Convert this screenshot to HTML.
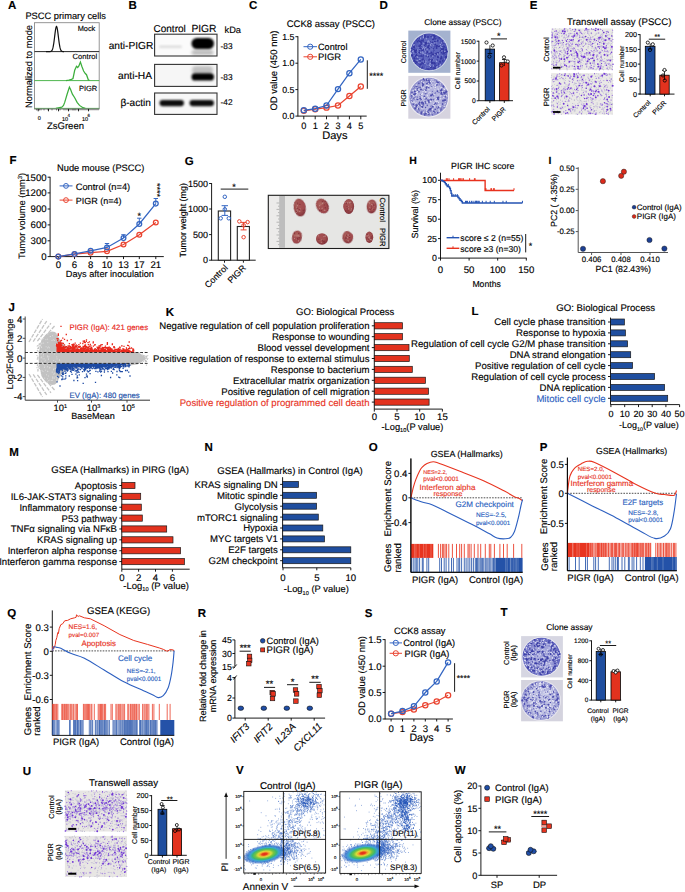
<!DOCTYPE html>
<html><head><meta charset="utf-8"><style>
html,body{margin:0;padding:0;background:#fff;}
svg{display:block;font-family:"Liberation Sans",sans-serif;}
text{stroke:#000;stroke-width:0.14px;text-rendering:geometricPrecision;}
</style></head><body>
<svg width="685" height="892" viewBox="0 0 685 892">
<rect width="685" height="892" fill="#fff"/>
<defs><filter id="bl5" x="-50%" y="-50%" width="200%" height="200%"><feGaussianBlur stdDeviation="0.5"/></filter><filter id="bl8" x="-50%" y="-50%" width="200%" height="200%"><feGaussianBlur stdDeviation="0.8"/></filter><filter id="bl10" x="-50%" y="-50%" width="200%" height="200%"><feGaussianBlur stdDeviation="1.0"/></filter><filter id="bl15" x="-50%" y="-50%" width="200%" height="200%"><feGaussianBlur stdDeviation="1.5"/></filter><filter id="bl20" x="-50%" y="-50%" width="200%" height="200%"><feGaussianBlur stdDeviation="2.0"/></filter><filter id="bl30" x="-50%" y="-50%" width="200%" height="200%"><feGaussianBlur stdDeviation="3.0"/></filter></defs>
<text x="8.00" y="9.30" font-size="11.50" font-weight="bold">A</text>
<text x="25.40" y="19.30" font-size="9.30">PSCC primary cells</text>
<rect x="34.50" y="22.70" width="64.70" height="86.20" fill="#fff" stroke="#8a8a8a" stroke-width="0.9"/>
<line x1="34.50" y1="51.60" x2="99.20" y2="51.60" stroke="#111" stroke-width="0.9"/>
<path d="M46.00,51.60 L46.30,51.60 L46.60,51.60 L46.90,51.60 L47.20,51.60 L47.50,51.60 L47.80,51.60 L48.10,51.60 L48.40,51.60 L48.70,51.60 L49.00,51.59 L49.30,51.59 L49.60,51.58 L49.90,51.56 L50.20,51.53 L50.50,51.48 L50.80,51.39 L51.10,51.26 L51.40,51.06 L51.70,50.77 L52.00,50.34 L52.30,49.75 L52.60,48.95 L52.90,47.91 L53.20,46.59 L53.50,44.97 L53.80,43.06 L54.10,40.89 L54.40,38.53 L54.70,36.06 L55.00,33.61 L55.30,31.32 L55.60,29.33 L55.90,27.80 L56.20,26.83 L56.50,26.50 L56.80,26.83 L57.10,27.80 L57.40,29.33 L57.70,31.32 L58.00,33.61 L58.30,36.06 L58.60,38.53 L58.90,40.89 L59.20,43.06 L59.50,44.97 L59.80,46.59 L60.10,47.91 L60.40,48.95 L60.70,49.75 L61.00,50.34 L61.30,50.77 L61.60,51.06 L61.90,51.26 L62.20,51.39 L62.50,51.48 L62.80,51.53 L63.10,51.56 L63.40,51.58 L63.70,51.59 L64.00,51.59" fill="none" stroke="#111" stroke-width="1.2"/>
<line x1="34.50" y1="80.60" x2="99.20" y2="80.60" stroke="#3cae3c" stroke-width="0.9"/>
<path d="M66.00,80.60 L68.90,80.00 L71.50,79.30 L73.00,78.50 L74.70,70.30 L76.50,66.30 L77.70,67.50 L78.90,65.90 L80.40,62.10 L81.80,66.30 L83.60,71.00 L85.30,73.50 L86.50,74.70 L88.30,79.80 L89.50,80.60" fill="none" stroke="#3cae3c" stroke-width="1.25"/>
<line x1="34.50" y1="108.40" x2="99.20" y2="108.40" stroke="#3cae3c" stroke-width="0.9"/>
<path d="M55.90,108.40 L61.80,107.20 L63.50,105.50 L64.70,102.40 L67.10,94.20 L69.40,87.10 L70.60,89.50 L72.40,94.20 L74.70,97.70 L77.10,102.40 L79.50,105.40 L83.00,107.70 L85.30,108.40" fill="none" stroke="#3cae3c" stroke-width="1.25"/>
<line x1="34.50" y1="108.90" x2="99.20" y2="108.90" stroke="#8a8a8a" stroke-width="0.9"/>
<text x="77.70" y="31.20" font-size="7.37">Mock</text>
<text x="72.60" y="58.90" font-size="7.60">Control</text>
<text x="78.90" y="91.20" font-size="7.53">PIGR</text>
<line x1="36.50" y1="108.90" x2="36.50" y2="110.40" stroke="#333" stroke-width="0.6"/>
<line x1="38.20" y1="108.90" x2="38.20" y2="110.40" stroke="#333" stroke-width="0.6"/>
<line x1="39.50" y1="108.90" x2="39.50" y2="110.40" stroke="#333" stroke-width="0.6"/>
<line x1="41.00" y1="108.90" x2="41.00" y2="110.40" stroke="#333" stroke-width="0.6"/>
<line x1="44.00" y1="108.90" x2="44.00" y2="110.40" stroke="#333" stroke-width="0.6"/>
<line x1="48.00" y1="108.90" x2="48.00" y2="110.40" stroke="#333" stroke-width="0.6"/>
<line x1="52.00" y1="108.90" x2="52.00" y2="110.40" stroke="#333" stroke-width="0.6"/>
<line x1="56.50" y1="108.90" x2="56.50" y2="110.40" stroke="#333" stroke-width="0.6"/>
<line x1="60.00" y1="108.90" x2="60.00" y2="110.40" stroke="#333" stroke-width="0.6"/>
<line x1="64.00" y1="108.90" x2="64.00" y2="110.40" stroke="#333" stroke-width="0.6"/>
<line x1="66.00" y1="108.90" x2="66.00" y2="110.40" stroke="#333" stroke-width="0.6"/>
<line x1="68.00" y1="108.90" x2="68.00" y2="110.40" stroke="#333" stroke-width="0.6"/>
<line x1="70.00" y1="108.90" x2="70.00" y2="110.40" stroke="#333" stroke-width="0.6"/>
<line x1="72.00" y1="108.90" x2="72.00" y2="110.40" stroke="#333" stroke-width="0.6"/>
<line x1="73.00" y1="108.90" x2="73.00" y2="110.40" stroke="#333" stroke-width="0.6"/>
<line x1="74.00" y1="108.90" x2="74.00" y2="110.40" stroke="#333" stroke-width="0.6"/>
<line x1="75.00" y1="108.90" x2="75.00" y2="110.40" stroke="#333" stroke-width="0.6"/>
<line x1="76.00" y1="108.90" x2="76.00" y2="110.40" stroke="#333" stroke-width="0.6"/>
<line x1="78.00" y1="108.90" x2="78.00" y2="110.40" stroke="#333" stroke-width="0.6"/>
<line x1="80.00" y1="108.90" x2="80.00" y2="110.40" stroke="#333" stroke-width="0.6"/>
<line x1="82.00" y1="108.90" x2="82.00" y2="110.40" stroke="#333" stroke-width="0.6"/>
<line x1="84.00" y1="108.90" x2="84.00" y2="110.40" stroke="#333" stroke-width="0.6"/>
<line x1="86.00" y1="108.90" x2="86.00" y2="110.40" stroke="#333" stroke-width="0.6"/>
<line x1="88.00" y1="108.90" x2="88.00" y2="110.40" stroke="#333" stroke-width="0.6"/>
<line x1="90.00" y1="108.90" x2="90.00" y2="110.40" stroke="#333" stroke-width="0.6"/>
<line x1="92.00" y1="108.90" x2="92.00" y2="110.40" stroke="#333" stroke-width="0.6"/>
<line x1="94.00" y1="108.90" x2="94.00" y2="110.40" stroke="#333" stroke-width="0.6"/>
<line x1="96.00" y1="108.90" x2="96.00" y2="110.40" stroke="#333" stroke-width="0.6"/>
<line x1="98.00" y1="108.90" x2="98.00" y2="110.40" stroke="#333" stroke-width="0.6"/>
<line x1="38.20" y1="108.90" x2="38.20" y2="111.30" stroke="#111" stroke-width="0.9"/>
<line x1="48.50" y1="108.90" x2="48.50" y2="111.30" stroke="#111" stroke-width="0.9"/>
<line x1="58.50" y1="108.90" x2="58.50" y2="111.30" stroke="#111" stroke-width="0.9"/>
<line x1="68.50" y1="108.90" x2="68.50" y2="111.30" stroke="#111" stroke-width="0.9"/>
<line x1="78.50" y1="108.90" x2="78.50" y2="111.30" stroke="#111" stroke-width="0.9"/>
<line x1="88.50" y1="108.90" x2="88.50" y2="111.30" stroke="#111" stroke-width="0.9"/>
<text x="39.40" y="120.00" font-size="5.50" text-anchor="middle">0</text>
<text x="62.00" y="120.50" font-size="5.50">10</text>
<text x="67.50" y="117.20" font-size="4.50">4</text>
<text x="82.00" y="120.50" font-size="5.50">10</text>
<text x="87.50" y="117.20" font-size="4.50">6</text>
<text x="47.00" y="128.80" font-size="9.51">ZsGreen</text>
<text x="32.00" y="66.50" font-size="9.28" text-anchor="middle" transform="rotate(-90 32.00 66.50)">Normalized to mode</text>
<text x="128.60" y="9.20" font-size="11.50" font-weight="bold">B</text>
<text x="153.50" y="31.70" font-size="10.02">Control</text>
<text x="191.40" y="31.70" font-size="10.27">PIGR</text>
<text x="224.50" y="32.70" font-size="9.28">kDa</text>
<rect x="154.60" y="34.20" width="62.40" height="21.80" fill="#fbfbfb"/>
<rect x="154.60" y="64.40" width="62.40" height="22.00" fill="#f6f6f6"/>
<rect x="154.60" y="93.00" width="62.40" height="21.40" fill="#f8f8f8"/>
<rect x="159.00" y="45.50" width="23.00" height="2.60" rx="1.30" fill="#000" fill-opacity="0.12" filter="url(#bl10)"/>
<rect x="191.50" y="50.00" width="22.00" height="5.00" rx="2.50" fill="#000" fill-opacity="0.25" filter="url(#bl15)"/>
<rect x="191.50" y="38.00" width="22.50" height="11.00" rx="5.50" fill="#000" fill-opacity="1.0" filter="url(#bl8)"/>
<rect x="192.00" y="66.00" width="21.00" height="8.00" rx="4.00" fill="#000" fill-opacity="0.22" filter="url(#bl15)"/>
<rect x="191.50" y="73.30" width="22.50" height="7.20" rx="3.60" fill="#000" fill-opacity="1.0" filter="url(#bl8)"/>
<rect x="159.50" y="100.00" width="24.50" height="6.20" rx="3.10" fill="#000" fill-opacity="0.95" filter="url(#bl8)"/>
<rect x="189.50" y="100.00" width="24.50" height="6.20" rx="3.10" fill="#000" fill-opacity="0.95" filter="url(#bl8)"/>
<rect x="154.60" y="34.20" width="62.40" height="21.80" fill="none" stroke="#333" stroke-width="1.1"/>
<rect x="154.60" y="64.40" width="62.40" height="22.00" fill="none" stroke="#333" stroke-width="1.1"/>
<rect x="154.60" y="93.00" width="62.40" height="21.40" fill="none" stroke="#333" stroke-width="1.1"/>
<text x="153.30" y="48.60" font-size="10.18" text-anchor="end">anti-PIGR</text>
<text x="152.00" y="79.40" font-size="10.20" text-anchor="end">anti-HA</text>
<text x="151.00" y="105.60" font-size="10.13" text-anchor="end">β-actin</text>
<text x="220.50" y="49.30" font-size="8.30">-83</text>
<text x="220.50" y="80.30" font-size="8.30">-83</text>
<text x="220.50" y="105.00" font-size="8.30">-42</text>
<text x="248.90" y="9.30" font-size="11.50" font-weight="bold">C</text>
<text x="286.70" y="27.20" font-size="9.52">CCK8 assay (PSCC)</text>
<line x1="297.90" y1="36.20" x2="297.90" y2="116.40" stroke="#000" stroke-width="0.9"/>
<line x1="295.40" y1="36.70" x2="297.90" y2="36.70" stroke="#000" stroke-width="0.9"/>
<text x="294.40" y="39.87" font-size="8.80" text-anchor="end">1.5</text>
<line x1="295.40" y1="63.20" x2="297.90" y2="63.20" stroke="#000" stroke-width="0.9"/>
<text x="294.40" y="66.37" font-size="8.80" text-anchor="end">1.0</text>
<line x1="295.40" y1="89.60" x2="297.90" y2="89.60" stroke="#000" stroke-width="0.9"/>
<text x="294.40" y="92.77" font-size="8.80" text-anchor="end">0.5</text>
<line x1="295.40" y1="116.10" x2="297.90" y2="116.10" stroke="#000" stroke-width="0.9"/>
<text x="294.40" y="119.27" font-size="8.80" text-anchor="end">0.0</text>
<line x1="297.90" y1="116.10" x2="366.70" y2="116.10" stroke="#000" stroke-width="0.9"/>
<line x1="303.80" y1="116.10" x2="303.80" y2="119.30" stroke="#000" stroke-width="0.9"/>
<text x="303.80" y="129.00" font-size="9.20" text-anchor="middle">0</text>
<line x1="315.20" y1="116.10" x2="315.20" y2="119.30" stroke="#000" stroke-width="0.9"/>
<text x="315.20" y="129.00" font-size="9.20" text-anchor="middle">1</text>
<line x1="326.50" y1="116.10" x2="326.50" y2="119.30" stroke="#000" stroke-width="0.9"/>
<text x="326.50" y="129.00" font-size="9.20" text-anchor="middle">2</text>
<line x1="338.00" y1="116.10" x2="338.00" y2="119.30" stroke="#000" stroke-width="0.9"/>
<text x="338.00" y="129.00" font-size="9.20" text-anchor="middle">3</text>
<line x1="349.40" y1="116.10" x2="349.40" y2="119.30" stroke="#000" stroke-width="0.9"/>
<text x="349.40" y="129.00" font-size="9.20" text-anchor="middle">4</text>
<line x1="360.80" y1="116.10" x2="360.80" y2="119.30" stroke="#000" stroke-width="0.9"/>
<text x="360.80" y="129.00" font-size="9.20" text-anchor="middle">5</text>
<text x="322.20" y="139.00" font-size="11.10">Days</text>
<text x="277.30" y="70.50" font-size="9.47" text-anchor="middle" transform="rotate(-90 277.30 70.50)">OD value (450 nm)</text>
<path d="M303.80,110.81 L315.20,109.22 L326.50,107.63 L338.00,105.51 L349.40,95.99 L360.80,86.46" fill="none" stroke="#ea4430" stroke-width="1.25"/>
<circle cx="303.80" cy="110.81" r="2.60" fill="none" stroke="#ea4430" stroke-width="1.25"/>
<circle cx="315.20" cy="109.22" r="2.60" fill="none" stroke="#ea4430" stroke-width="1.25"/>
<circle cx="326.50" cy="107.63" r="2.60" fill="none" stroke="#ea4430" stroke-width="1.25"/>
<circle cx="338.00" cy="105.51" r="2.60" fill="none" stroke="#ea4430" stroke-width="1.25"/>
<circle cx="349.40" cy="95.99" r="2.60" fill="none" stroke="#ea4430" stroke-width="1.25"/>
<circle cx="360.80" cy="86.46" r="2.60" fill="none" stroke="#ea4430" stroke-width="1.25"/>
<path d="M303.80,110.28 L315.20,108.69 L326.50,105.51 L338.00,89.10 L349.40,73.22 L360.80,59.46" fill="none" stroke="#3365c2" stroke-width="1.25"/>
<circle cx="303.80" cy="110.28" r="2.60" fill="none" stroke="#3365c2" stroke-width="1.25"/>
<circle cx="315.20" cy="108.69" r="2.60" fill="none" stroke="#3365c2" stroke-width="1.25"/>
<circle cx="326.50" cy="105.51" r="2.60" fill="none" stroke="#3365c2" stroke-width="1.25"/>
<circle cx="338.00" cy="89.10" r="2.60" fill="none" stroke="#3365c2" stroke-width="1.25"/>
<circle cx="349.40" cy="73.22" r="2.60" fill="none" stroke="#3365c2" stroke-width="1.25"/>
<circle cx="360.80" cy="59.46" r="2.60" fill="none" stroke="#3365c2" stroke-width="1.25"/>
<line x1="303.50" y1="46.70" x2="317.00" y2="46.70" stroke="#3365c2" stroke-width="1"/>
<circle cx="310.20" cy="46.70" r="2.60" fill="none" stroke="#3365c2" stroke-width="1"/>
<line x1="303.50" y1="56.80" x2="317.00" y2="56.80" stroke="#ea4430" stroke-width="1"/>
<circle cx="310.20" cy="56.80" r="2.60" fill="none" stroke="#ea4430" stroke-width="1"/>
<text x="318.00" y="50.20" font-size="9.15">Control</text>
<text x="318.00" y="60.30" font-size="9.41">PIGR</text>
<line x1="367.30" y1="60.30" x2="367.30" y2="88.80" stroke="#000" stroke-width="0.9"/>
<text x="369.30" y="79.00" font-size="9.00">****</text>
<text x="379.50" y="9.00" font-size="11.50" font-weight="bold">D</text>
<text x="424.30" y="25.00" font-size="8.39">Clone assay (PSCC)</text>
<rect x="408.30" y="30.60" width="42.10" height="42.20" fill="#a4b2cf"/>
<circle cx="429.20" cy="51.90" r="19.40" fill="#d2daea"/>
<radialGradient id="pg11"><stop offset="0" stop-color="#6068bf"/><stop offset="0.6" stop-color="#6068bf"/><stop offset="1" stop-color="#4a50b2"/></radialGradient>
<circle cx="429.20" cy="51.90" r="18.40" fill="url(#pg11)"/>
<path d="M430.7 46.6h0M421.3 40.4h0M442.1 53.1h0M432.4 60.1h0M422.9 41.6h0M426.6 42.2h0M445.1 47.6h0M440.4 50.5h0M418.4 40.5h0M429.5 45.8h0M434.8 66.1h0M424.6 60.4h0M440.7 59.2h0M434.3 46.2h0M442.7 43.1h0M420.0 44.9h0M446.2 56.1h0M421.3 46.4h0M428.3 47.3h0M426.0 68.7h0M424.3 39.2h0M423.9 35.2h0M421.7 68.1h0M414.0 57.9h0M429.1 53.8h0M425.7 44.7h0M420.5 46.9h0M425.0 35.0h0M435.0 62.4h0M441.1 50.5h0M445.5 55.2h0M425.7 38.9h0M429.8 49.5h0M429.7 58.6h0M427.5 44.5h0M433.6 35.5h0M443.0 45.7h0M445.0 54.8h0M430.8 45.4h0M434.2 50.3h0M438.7 37.9h0M415.3 51.6h0M427.7 64.1h0M419.3 53.4h0M416.5 40.3h0M429.7 49.3h0M431.3 66.5h0M420.6 63.0h0M422.2 50.6h0M437.4 46.1h0M434.2 47.7h0M427.9 42.9h0M444.1 42.6h0M426.1 44.8h0M415.8 50.6h0M446.4 50.9h0M422.7 56.3h0M420.1 41.1h0M428.7 63.2h0M432.9 62.2h0M445.7 56.7h0M428.6 53.9h0M411.8 54.4h0M421.5 54.1h0M423.3 41.4h0M428.3 43.2h0M429.4 44.1h0M433.5 53.0h0M416.6 58.3h0M424.6 50.7h0M420.6 60.7h0M418.0 40.9h0M442.9 61.5h0M425.9 43.0h0M414.4 58.0h0M436.1 45.5h0M440.1 51.3h0M432.5 63.1h0M433.5 51.1h0M414.5 43.3h0M435.1 56.7h0M430.5 59.5h0M436.5 65.6h0M420.9 52.8h0M416.6 49.7h0M443.6 51.0h0M433.1 57.8h0M417.6 38.4h0M431.4 47.3h0M414.4 60.4h0" stroke="#3538a0" stroke-width="1.00" stroke-linecap="round" fill="none"/>
<path d="M416.8 54.6h0M434.3 63.6h0M442.7 60.6h0M415.0 50.2h0M415.9 61.5h0M433.5 68.4h0M435.1 63.9h0M425.4 47.1h0M420.4 45.4h0M441.2 48.7h0M413.9 45.9h0M438.4 52.9h0M436.2 54.7h0M423.4 49.1h0M442.9 40.7h0M421.1 42.5h0M438.3 46.5h0M442.7 42.2h0M433.4 35.8h0M421.4 44.1h0M425.3 48.7h0M445.9 51.2h0M417.5 61.8h0M429.2 48.8h0M420.7 52.9h0M441.2 43.8h0M437.1 45.5h0M443.6 43.3h0M431.8 63.1h0M421.0 43.2h0M426.0 44.6h0M430.0 53.6h0M420.8 64.2h0M417.5 41.7h0M434.2 35.3h0M424.5 45.3h0M435.2 38.9h0M426.2 56.1h0M414.3 47.0h0M431.5 44.8h0M422.7 35.8h0M419.7 50.3h0M419.9 48.2h0M439.6 37.7h0M422.0 48.4h0M441.8 49.5h0M433.4 39.2h0M427.5 47.6h0M428.5 45.7h0M429.2 59.8h0M419.1 56.1h0M419.5 41.4h0M437.2 60.0h0M437.2 52.8h0M413.7 51.3h0M431.9 54.0h0M445.3 58.5h0M430.1 41.7h0M417.5 50.8h0M434.2 62.8h0M421.4 43.7h0M428.3 68.9h0M432.0 36.0h0M442.5 41.8h0M430.9 36.4h0M428.4 47.2h0M427.4 52.3h0M442.9 46.9h0M422.0 40.5h0M415.5 63.3h0M443.1 53.9h0M429.1 68.9h0M411.7 51.0h0M422.0 53.2h0M417.8 58.1h0M422.9 59.0h0M420.4 48.4h0M416.2 62.7h0M444.4 59.5h0M412.1 49.4h0M424.4 48.2h0M423.0 50.8h0M441.5 42.0h0M423.3 59.1h0M416.6 46.5h0M423.3 40.1h0M423.2 63.7h0M439.5 46.3h0M440.8 58.6h0M436.5 55.7h0M437.8 56.7h0M419.7 63.8h0M440.3 62.0h0M436.2 46.4h0M422.1 59.9h0M423.2 57.0h0M416.1 50.6h0M433.6 54.5h0M433.4 48.8h0M438.7 64.0h0M413.7 49.8h0M420.0 66.9h0M416.1 52.4h0M424.8 35.4h0M443.0 48.2h0M425.2 36.4h0M423.2 55.2h0M431.1 55.9h0M430.6 67.0h0M413.8 47.1h0M444.3 46.7h0M441.4 52.7h0M433.6 37.5h0M428.2 68.5h0M428.0 46.5h0M412.1 55.3h0M433.0 44.7h0" stroke="#3538a0" stroke-width="1.60" stroke-linecap="round" fill="none"/>
<path d="M416.4 55.8h0M446.3 56.5h0M417.7 54.6h0M447.0 51.6h0M428.1 56.5h0M438.0 57.3h0M432.7 54.5h0M431.3 60.9h0M432.4 42.6h0M431.9 62.8h0M425.6 47.5h0M431.3 60.7h0M434.9 66.2h0M434.9 68.3h0M426.7 43.2h0M431.5 52.4h0M414.5 47.5h0M428.0 37.0h0M415.2 52.1h0M432.9 63.0h0M412.9 52.3h0M419.2 52.3h0M426.5 52.7h0M420.2 38.6h0M415.7 56.0h0M419.6 61.3h0M433.1 68.4h0M442.1 50.0h0M421.9 67.3h0M414.1 50.3h0M420.9 42.0h0M414.2 60.9h0M414.5 58.4h0M437.5 40.7h0M430.9 67.2h0M436.6 48.0h0M434.9 41.8h0M432.4 59.3h0M444.1 53.1h0M427.0 51.7h0M434.0 37.7h0M411.5 51.4h0M424.5 37.0h0M443.4 51.5h0M441.4 58.3h0M425.9 49.1h0M436.0 53.8h0M446.1 57.4h0M411.9 55.4h0M419.1 46.2h0M411.7 48.5h0M446.1 49.7h0M420.6 64.7h0M434.7 54.7h0M421.1 56.0h0M419.4 62.5h0M425.3 42.9h0M444.3 43.4h0M424.5 62.2h0M433.0 39.3h0M422.3 49.0h0M443.3 48.9h0M441.3 57.1h0M429.4 60.3h0M435.9 39.0h0M434.8 36.6h0M440.0 61.4h0M428.1 68.7h0M422.0 63.0h0M422.4 50.4h0M445.4 52.0h0M435.3 44.2h0M422.2 50.8h0" stroke="#3538a0" stroke-width="2.00" stroke-linecap="round" fill="none"/>
<path d="M425.5 61.1h0M419.8 63.3h0M436.1 39.2h0M418.4 62.4h0M418.1 47.2h0M445.1 51.1h0M422.0 45.5h0M419.8 49.5h0M417.8 61.0h0M433.9 66.4h0M421.2 66.0h0M427.2 44.6h0M436.3 40.2h0M430.2 58.9h0M430.9 35.8h0M423.6 61.9h0M439.4 53.1h0M425.8 47.2h0M440.0 44.3h0M423.7 46.2h0M421.0 67.0h0M416.8 46.9h0M425.1 68.3h0M414.6 44.6h0M424.5 50.4h0M430.0 49.7h0M422.6 53.2h0M428.0 65.3h0M436.2 42.9h0M418.0 51.7h0M424.8 39.7h0M425.3 62.4h0M420.8 37.6h0M413.7 45.0h0M429.6 51.8h0M426.1 61.6h0M441.9 42.0h0M420.7 62.6h0M445.8 55.2h0M421.2 53.3h0M444.1 44.0h0M433.4 65.5h0M432.1 49.2h0M439.5 40.9h0M436.6 55.9h0M427.3 44.2h0M422.0 47.3h0M442.3 45.4h0M442.5 55.8h0M429.1 67.9h0M425.8 67.0h0M426.8 64.9h0M443.4 41.2h0M414.2 55.6h0M440.6 46.5h0M415.7 47.0h0M411.9 49.7h0M432.8 36.4h0M432.2 58.2h0M417.4 52.2h0M427.9 67.8h0M431.5 43.5h0M427.8 55.3h0M419.8 43.0h0M433.5 59.8h0M439.8 56.2h0M432.9 69.1h0M436.2 60.6h0M424.8 54.2h0" stroke="#9aa2dc" stroke-width="0.80" stroke-linecap="round" fill="none"/>
<path d="M425.0 63.4h0M419.7 59.4h0M441.8 47.4h0M432.7 56.1h0M425.2 54.6h0M417.8 57.6h0M417.1 60.6h0M432.8 37.8h0M413.4 51.0h0M423.8 47.3h0M422.5 51.9h0M442.0 50.8h0M433.3 45.1h0M429.7 65.4h0M423.1 53.3h0M440.4 64.7h0M444.2 42.3h0M424.2 48.2h0M436.7 67.9h0M423.8 43.6h0M428.3 40.9h0M422.5 48.8h0M427.0 49.2h0M439.9 65.7h0M418.0 54.1h0M423.4 37.5h0M411.5 53.5h0M413.7 45.1h0M417.6 50.1h0M427.4 55.7h0M441.6 42.9h0M429.3 42.0h0M434.9 54.6h0M444.7 59.0h0M432.1 44.0h0M430.9 45.8h0M412.0 52.1h0M434.8 42.9h0M437.1 66.7h0M427.7 42.0h0M423.4 35.6h0M430.5 66.4h0M419.1 62.3h0M425.8 47.8h0M417.1 56.6h0M420.6 38.7h0M412.8 51.3h0M430.5 44.8h0M430.3 63.7h0M420.8 52.5h0M425.8 51.9h0M426.2 38.7h0M440.4 44.5h0M424.7 49.1h0M423.3 36.7h0M413.7 52.9h0M436.6 61.4h0M437.7 54.0h0M444.8 51.5h0M430.3 60.8h0M429.8 64.0h0" stroke="#9aa2dc" stroke-width="1.40" stroke-linecap="round" fill="none"/>
<rect x="408.30" y="75.90" width="42.10" height="42.80" fill="#d6d3df"/>
<circle cx="428.70" cy="97.10" r="20.40" fill="#eeecf2"/>
<radialGradient id="pg12"><stop offset="0" stop-color="#b4b4de"/><stop offset="0.6" stop-color="#b4b4de"/><stop offset="1" stop-color="#8e8ecc"/></radialGradient>
<circle cx="428.70" cy="97.10" r="19.40" fill="url(#pg12)"/>
<path d="M436.3 107.0h0M414.4 106.8h0M438.0 105.1h0M423.0 110.8h0M427.3 93.1h0M416.1 107.8h0M423.7 104.9h0M442.1 97.0h0M413.9 99.2h0M445.5 91.2h0M424.2 114.1h0M426.3 88.7h0M427.4 83.0h0M431.5 85.9h0M421.8 111.0h0M423.7 104.8h0M415.2 86.4h0M419.2 110.1h0M417.4 97.1h0M416.1 104.8h0M415.1 107.1h0M427.7 86.7h0M440.1 84.2h0M430.8 95.1h0M436.5 97.7h0M426.5 87.1h0M432.3 91.4h0M432.9 100.5h0M438.1 97.6h0M416.4 103.5h0M439.0 92.5h0M441.8 96.2h0M418.5 91.7h0M417.2 112.0h0M415.9 96.9h0M421.8 102.1h0M442.5 104.0h0M425.2 114.0h0M419.4 102.1h0M425.0 99.3h0M436.4 104.1h0M440.2 106.4h0M421.2 106.3h0M422.1 104.7h0M438.0 108.4h0M442.1 94.2h0M421.5 113.8h0M426.4 88.9h0M433.4 95.9h0M437.7 91.5h0M420.3 98.2h0M422.4 84.1h0M416.3 99.3h0M432.3 108.6h0M437.2 108.0h0" stroke="#4f4fae" stroke-width="1.00" stroke-linecap="round" fill="none"/>
<path d="M413.6 99.5h0M429.9 98.6h0M426.2 113.8h0M417.4 88.7h0M442.6 104.1h0M445.4 103.8h0M433.5 86.2h0M418.0 89.7h0M443.9 94.8h0M418.5 108.9h0M435.6 103.1h0M411.8 95.9h0M445.5 100.1h0M419.9 96.0h0M421.1 94.6h0M438.3 99.4h0M425.9 93.8h0M431.3 106.8h0M437.7 112.8h0M422.9 90.2h0M441.4 92.4h0M428.2 112.6h0M440.7 110.1h0M444.6 93.2h0M419.0 91.7h0M443.1 86.3h0M423.5 84.3h0M438.4 106.8h0M421.4 102.9h0M437.6 102.8h0M426.5 99.5h0M421.2 99.9h0M430.3 96.5h0M427.1 105.4h0M432.0 114.8h0M426.3 89.9h0M416.5 106.5h0M442.5 94.7h0M434.6 103.8h0M424.7 114.9h0M425.8 103.1h0M419.0 103.5h0M440.6 84.9h0M424.0 93.4h0M416.4 94.3h0M418.9 83.4h0M420.2 87.4h0M419.4 104.9h0M411.3 98.0h0M443.7 92.9h0M429.0 102.6h0M441.6 90.4h0M437.7 97.8h0M418.9 87.4h0M430.1 108.7h0M428.4 87.7h0M441.6 106.8h0M435.2 109.4h0M425.6 107.5h0M417.9 105.2h0M425.1 90.2h0M433.7 111.3h0M411.1 101.8h0M417.7 99.5h0M428.8 87.9h0M426.7 83.9h0M416.8 86.5h0M441.1 109.0h0M444.0 87.3h0M437.7 82.4h0M426.2 98.2h0M440.6 90.6h0M438.5 82.2h0M412.0 92.4h0M421.0 81.4h0M430.7 108.9h0M425.8 111.0h0M425.1 113.1h0M430.0 99.5h0M425.1 101.6h0M419.5 102.6h0M421.2 113.6h0M413.3 104.3h0M445.3 96.9h0M445.8 92.6h0M434.0 99.5h0M443.1 86.1h0M423.3 84.7h0M441.7 89.3h0" stroke="#4f4fae" stroke-width="1.60" stroke-linecap="round" fill="none"/>
<path d="M432.5 94.6h0M444.4 107.2h0M444.4 100.2h0M441.3 93.8h0M434.8 112.2h0M438.4 97.5h0M443.0 100.8h0M421.4 112.1h0M429.4 109.5h0M414.9 91.6h0M413.5 87.7h0M424.3 79.8h0M422.4 105.5h0M429.6 81.8h0M411.9 101.5h0M430.6 110.8h0M428.7 101.1h0M415.2 108.4h0M436.8 84.8h0M431.3 106.2h0M424.4 96.5h0M432.9 106.7h0M426.5 87.4h0M416.5 105.3h0M422.9 83.5h0M444.5 93.1h0M437.5 98.7h0M420.2 98.4h0M446.6 91.6h0M426.7 80.1h0M422.5 106.9h0M438.4 107.0h0M421.2 105.4h0M428.7 114.0h0M417.7 90.1h0M427.7 99.9h0M431.6 85.7h0M434.7 92.9h0M414.1 98.0h0M434.2 104.2h0M423.2 103.2h0M430.0 83.2h0M427.8 110.8h0M431.1 95.4h0M414.1 94.5h0M431.0 108.9h0M428.4 83.5h0M431.5 99.8h0M436.8 81.6h0M428.9 80.0h0M415.4 93.8h0M437.2 91.3h0M422.7 85.7h0M423.6 79.1h0M421.0 89.5h0M422.2 102.4h0" stroke="#4f4fae" stroke-width="2.00" stroke-linecap="round" fill="none"/>
<path d="M422.2 110.0h0M434.5 92.3h0M410.8 97.6h0M426.5 110.9h0M434.8 89.7h0M439.8 86.4h0M445.3 101.5h0M444.8 97.9h0M426.1 105.3h0M435.4 101.2h0M433.6 79.8h0M419.4 113.0h0M427.4 113.0h0M427.9 79.5h0M444.8 87.4h0M434.2 97.2h0M440.5 83.4h0M443.5 106.8h0M433.6 87.8h0M424.0 107.9h0M426.9 89.5h0M422.3 105.4h0M438.2 104.8h0M428.0 88.2h0M424.6 93.1h0M421.4 100.7h0M422.7 99.3h0M434.9 107.6h0M444.4 104.8h0M421.0 111.1h0M435.2 100.3h0M437.8 88.8h0M418.8 90.2h0M435.5 111.1h0M445.3 88.6h0M445.2 103.9h0M417.6 107.0h0M412.8 102.6h0M419.0 87.2h0M424.0 101.7h0M437.0 100.2h0M428.4 97.6h0M413.6 95.7h0M413.3 99.4h0M436.1 112.4h0M438.8 104.8h0M425.9 91.3h0M440.0 110.0h0M438.6 109.2h0M422.2 88.6h0M441.3 87.4h0M436.3 91.1h0M435.0 90.0h0M433.9 112.5h0M434.5 82.0h0M435.9 81.7h0M422.9 108.5h0M416.0 95.3h0M421.1 87.1h0M431.0 86.0h0M443.2 94.2h0M440.7 104.8h0M441.5 87.6h0M424.1 100.2h0M412.2 90.8h0M438.0 94.9h0M434.9 87.3h0M414.9 102.1h0M437.5 107.0h0M422.9 90.3h0M430.7 111.0h0M432.4 79.1h0M430.0 79.3h0M429.2 98.8h0M447.2 99.8h0M421.6 108.5h0M427.0 94.3h0M421.3 86.7h0M442.7 98.1h0M439.7 104.7h0M432.9 84.4h0M427.8 79.4h0M421.3 85.1h0M426.9 108.0h0M447.3 96.3h0M428.3 86.3h0M441.9 87.6h0M432.6 100.4h0" stroke="#e2e2f2" stroke-width="0.80" stroke-linecap="round" fill="none"/>
<path d="M430.4 113.1h0M442.3 91.6h0M421.9 94.6h0M433.8 105.5h0M432.5 108.9h0M430.6 101.4h0M443.9 88.9h0M437.2 101.8h0M424.5 90.6h0M440.6 96.0h0M426.4 112.6h0M428.0 113.6h0M431.1 115.1h0M423.7 82.7h0M414.0 102.4h0M428.1 93.1h0M434.9 99.9h0M430.1 97.0h0M435.1 99.6h0M425.0 78.8h0M444.2 95.6h0M439.1 110.2h0M436.0 101.6h0M428.7 85.9h0M433.9 103.1h0M424.5 97.8h0M430.5 81.4h0M444.1 95.5h0M445.2 103.7h0M431.2 83.0h0M411.4 99.1h0M417.3 93.6h0M413.1 87.7h0M415.1 98.7h0M423.0 91.8h0M441.9 95.9h0M434.1 94.4h0M431.0 87.9h0M417.0 92.2h0M414.0 101.2h0M443.7 97.6h0M437.9 86.9h0M433.8 103.7h0M430.8 101.2h0M440.9 106.5h0M426.1 110.9h0M431.1 106.1h0M432.2 109.8h0M431.7 79.9h0M417.6 91.5h0M435.2 85.5h0M422.2 97.7h0M413.9 96.9h0M444.6 106.7h0M429.8 98.6h0M438.4 89.1h0M428.9 89.2h0M416.3 85.0h0M413.2 90.6h0M435.5 87.4h0M432.0 85.4h0M423.7 112.2h0M432.9 81.4h0M423.0 93.8h0M439.7 106.3h0M427.2 110.1h0M421.3 81.4h0M439.2 111.3h0M427.3 95.8h0M428.7 83.7h0M438.1 105.7h0M417.4 108.7h0M426.3 85.2h0M440.3 88.0h0M421.9 96.6h0M440.1 106.1h0M421.7 94.3h0M416.2 103.0h0M444.5 89.4h0M414.5 106.6h0M426.9 99.9h0M413.2 95.6h0M425.6 92.0h0M440.4 84.9h0M436.7 83.7h0M416.0 103.5h0M411.2 101.7h0M427.3 85.5h0M412.0 94.4h0M433.3 86.2h0M446.5 95.8h0M421.5 105.3h0M435.3 84.2h0M419.9 95.6h0M434.6 106.1h0M422.7 93.8h0M440.7 98.7h0M415.4 89.7h0M418.3 89.6h0M421.5 94.4h0M418.5 105.6h0M438.1 80.8h0M416.6 94.7h0M427.3 95.8h0M423.2 87.3h0M427.1 102.4h0M416.3 92.5h0M438.4 102.4h0M430.0 92.5h0M434.0 93.1h0M412.1 102.3h0M436.4 98.3h0" stroke="#e2e2f2" stroke-width="1.40" stroke-linecap="round" fill="none"/>
<text x="406.20" y="52.00" font-size="7.04" text-anchor="middle" transform="rotate(-90 406.20 52.00)">Control</text>
<text x="406.20" y="97.90" font-size="7.04" text-anchor="middle" transform="rotate(-90 406.20 97.90)">PIGR</text>
<line x1="478.90" y1="40.80" x2="478.90" y2="101.00" stroke="#000" stroke-width="0.9"/>
<line x1="476.70" y1="41.20" x2="478.90" y2="41.20" stroke="#000" stroke-width="0.9"/>
<text x="475.70" y="43.61" font-size="6.70" text-anchor="end">1500</text>
<line x1="476.70" y1="61.10" x2="478.90" y2="61.10" stroke="#000" stroke-width="0.9"/>
<text x="475.70" y="63.51" font-size="6.70" text-anchor="end">1000</text>
<line x1="476.70" y1="81.00" x2="478.90" y2="81.00" stroke="#000" stroke-width="0.9"/>
<text x="475.70" y="83.41" font-size="6.70" text-anchor="end">500</text>
<line x1="476.70" y1="100.80" x2="478.90" y2="100.80" stroke="#000" stroke-width="0.9"/>
<text x="475.70" y="103.21" font-size="6.70" text-anchor="end">0</text>
<line x1="479.10" y1="100.70" x2="513.00" y2="100.70" stroke="#000" stroke-width="0.9"/>
<line x1="489.90" y1="100.70" x2="489.90" y2="102.90" stroke="#000" stroke-width="0.9"/>
<line x1="504.30" y1="100.70" x2="504.30" y2="102.90" stroke="#000" stroke-width="0.9"/>
<rect x="485.20" y="49.10" width="9.40" height="51.60" fill="#1f4e9f" stroke="#000" stroke-width="0.8"/>
<rect x="499.60" y="62.70" width="9.40" height="38.00" fill="#e2321e" stroke="#000" stroke-width="0.8"/>
<line x1="489.90" y1="45.30" x2="489.90" y2="53.50" stroke="#000" stroke-width="0.8"/>
<line x1="487.60" y1="53.50" x2="492.20" y2="53.50" stroke="#000" stroke-width="0.8"/>
<line x1="504.30" y1="59.50" x2="504.30" y2="66.00" stroke="#000" stroke-width="0.8"/>
<line x1="502.00" y1="59.50" x2="506.60" y2="59.50" stroke="#000" stroke-width="0.8"/>
<circle cx="486.50" cy="42.50" r="1.60" fill="#fff" stroke="#000" stroke-width="0.8"/>
<circle cx="492.70" cy="45.50" r="1.60" fill="#fff" stroke="#000" stroke-width="0.8"/>
<circle cx="489.40" cy="56.50" r="1.60" fill="none" stroke="#000" stroke-width="0.8"/>
<circle cx="504.00" cy="57.30" r="1.60" fill="#fff" stroke="#000" stroke-width="0.8"/>
<circle cx="507.80" cy="61.50" r="1.60" fill="#fff" stroke="#000" stroke-width="0.8"/>
<circle cx="501.50" cy="65.50" r="1.60" fill="none" stroke="#000" stroke-width="0.8"/>
<line x1="490.90" y1="38.90" x2="507.00" y2="38.90" stroke="#000" stroke-width="0.9"/>
<text x="498.80" y="38.80" font-size="9.00" text-anchor="middle">*</text>
<text x="460.40" y="70.60" font-size="6.94" text-anchor="middle" transform="rotate(-90 460.40 70.60)">Cell number</text>
<text x="490.30" y="109.60" font-size="6.82" text-anchor="end" transform="rotate(-45 490.30 109.60)">Control</text>
<text x="506.30" y="109.80" font-size="6.82" text-anchor="end" transform="rotate(-45 506.30 109.80)">PIGR</text>
<text x="529.70" y="9.30" font-size="11.50" font-weight="bold">E</text>
<text x="567.00" y="25.00" font-size="9.65">Transwell assay (PSCC)</text>
<rect x="551.20" y="28.50" width="61.80" height="41.50" fill="#eae9e6"/>
<path d="M565.8 28.6h0M565.6 38.2h0M589.3 29.9h0M565.7 60.9h0M585.2 59.5h0M562.4 35.6h0M570.1 32.8h0M601.5 60.7h0M581.5 44.1h0M605.3 35.2h0M602.9 30.7h0M569.1 45.9h0M596.2 29.7h0M568.3 60.4h0M593.6 68.1h0M610.4 66.1h0M557.1 32.4h0M571.2 49.0h0M595.1 51.3h0M555.1 60.2h0M570.3 65.9h0M596.6 68.6h0M557.9 31.7h0M576.0 37.9h0M590.2 68.5h0M594.4 56.8h0M551.6 41.5h0M597.1 47.7h0M610.3 57.7h0M567.3 68.0h0M566.9 63.6h0M606.5 43.9h0M552.3 52.7h0M600.6 42.5h0M606.2 31.4h0M582.8 56.6h0M567.9 30.9h0M596.2 50.3h0M602.3 37.4h0M607.2 56.7h0M605.8 43.5h0M601.6 43.5h0M552.8 56.1h0M606.5 49.8h0M601.4 48.5h0M597.6 44.1h0M560.2 63.0h0M593.4 40.8h0M564.7 57.0h0M591.3 43.8h0M590.5 43.7h0M556.6 48.8h0M600.6 42.1h0M564.5 30.5h0M551.8 41.1h0M598.9 52.6h0M554.5 40.4h0M560.4 41.3h0M592.1 46.9h0M585.6 43.6h0M581.8 41.1h0M563.6 29.8h0M593.9 48.4h0M606.3 63.6h0M610.8 65.0h0M589.9 39.8h0M559.7 28.7h0M579.3 60.2h0M602.8 69.1h0M603.5 34.1h0M551.4 42.6h0M572.6 37.3h0M557.2 67.0h0M596.3 38.6h0M553.1 41.3h0M590.5 54.6h0M561.1 45.6h0M558.4 50.6h0M556.1 36.9h0M590.3 67.0h0M584.3 38.8h0M554.9 43.5h0M572.3 46.3h0M593.2 68.2h0M565.2 60.5h0M579.9 30.2h0M572.4 56.4h0M583.0 36.0h0M583.6 38.9h0M582.0 41.7h0M576.6 55.2h0M600.3 57.9h0M599.3 44.3h0M609.7 66.0h0M600.0 68.9h0M607.0 59.7h0M565.2 40.0h0M561.6 58.8h0M586.3 67.0h0M557.0 52.7h0M574.9 42.8h0M580.7 55.6h0M585.3 53.0h0M554.3 59.4h0M561.6 30.0h0M600.0 69.1h0M567.2 66.6h0M564.0 62.5h0M591.1 41.6h0M611.7 46.2h0M609.1 40.3h0M588.9 44.1h0M580.4 69.2h0M583.4 61.3h0M552.5 55.8h0M561.6 58.3h0M589.6 31.7h0M612.3 61.2h0M578.0 69.2h0M556.8 64.2h0M557.6 43.1h0M588.3 47.0h0M578.8 51.9h0M568.8 44.0h0M604.0 31.5h0M588.1 48.4h0M581.1 31.1h0M576.9 55.6h0M600.3 69.5h0M610.2 47.0h0M600.9 41.0h0M589.0 67.0h0M611.7 34.0h0M604.2 48.8h0M602.3 47.0h0M569.1 39.7h0M584.7 69.2h0M566.3 65.7h0M592.4 58.4h0M594.1 47.9h0M583.8 33.1h0M568.8 37.7h0M587.7 32.3h0M573.1 37.7h0M575.4 67.6h0M610.9 47.1h0M581.9 68.5h0M597.7 60.9h0M588.5 34.7h0M551.6 61.8h0M606.5 56.2h0M597.8 36.9h0M556.5 42.4h0M569.7 61.4h0M589.4 66.9h0M556.5 62.6h0M599.9 39.1h0M572.5 42.7h0M602.7 30.5h0M555.6 39.0h0M594.5 43.3h0M593.9 65.9h0M598.3 47.3h0M585.2 32.6h0M554.7 67.4h0M580.6 62.6h0M601.8 68.4h0M554.8 49.4h0M573.3 66.4h0M610.6 67.6h0M557.2 32.8h0M583.0 63.9h0M599.9 46.9h0M601.8 36.4h0M567.5 53.0h0M603.8 52.4h0M604.7 58.8h0M609.8 50.8h0M580.5 31.0h0M586.0 29.6h0M575.9 30.7h0M583.3 35.2h0M554.1 35.5h0M612.7 57.6h0M602.2 47.0h0M560.0 51.2h0M612.4 36.9h0M555.2 57.8h0M564.7 31.4h0M571.1 31.0h0M567.8 38.1h0M606.9 32.7h0" stroke="#c0bed2" stroke-width="0.70" stroke-linecap="round" fill="none"/>
<path d="M561.4 57.1h0M580.8 37.5h0M601.1 49.8h0M587.4 31.4h0M612.8 59.2h0M581.9 33.3h0M574.0 34.9h0M558.9 67.0h0M585.3 42.7h0M562.8 30.0h0M611.1 65.6h0M598.3 52.6h0M558.8 48.3h0M563.6 66.8h0M576.5 43.7h0M575.0 69.8h0M552.9 32.4h0M612.6 49.1h0M588.8 51.6h0M608.5 42.9h0M593.4 56.5h0M610.4 45.4h0M610.6 53.0h0M601.0 60.6h0M555.5 42.5h0M612.0 59.5h0M566.8 68.3h0M603.0 61.5h0M588.4 46.2h0M603.7 41.3h0M587.9 55.2h0M587.3 39.2h0M578.8 34.3h0M591.7 33.8h0M561.5 36.1h0M595.1 64.8h0M600.1 28.8h0M595.2 39.0h0M570.6 30.2h0M582.3 51.3h0M557.3 53.4h0M594.4 50.3h0M555.1 62.3h0M573.2 41.7h0M601.5 60.0h0M589.6 29.3h0M578.6 50.0h0M578.0 38.8h0M601.7 58.5h0M565.8 44.5h0M580.8 48.9h0M606.2 60.8h0M598.1 56.2h0M607.9 44.5h0M602.2 68.5h0M575.4 34.5h0M556.1 41.1h0M571.9 55.1h0M593.3 36.8h0M568.3 44.2h0M580.1 46.6h0M568.5 35.7h0M568.0 36.3h0M553.3 62.1h0M594.7 29.3h0M553.6 53.7h0M566.0 28.8h0M557.0 41.3h0M600.1 62.6h0M554.2 36.3h0M585.3 37.8h0M603.3 66.9h0M606.8 59.5h0M562.8 31.0h0M588.7 54.2h0M573.0 40.9h0M581.8 56.8h0M561.0 32.8h0M584.5 45.4h0M573.0 50.6h0M562.0 57.9h0M561.2 63.8h0M599.3 66.0h0M607.3 68.8h0M609.4 67.4h0M551.9 43.1h0M588.7 59.9h0M561.2 67.1h0M605.7 37.1h0M585.5 60.7h0M576.3 35.9h0M552.9 46.1h0M557.8 67.0h0M566.0 46.1h0M598.8 59.7h0M566.8 46.4h0M581.5 39.5h0M579.6 30.0h0M587.4 61.8h0M596.4 69.7h0M575.5 28.7h0M587.1 52.4h0M563.4 37.9h0M574.1 62.8h0M579.7 44.7h0M588.2 57.3h0M599.5 61.4h0M563.5 63.7h0M556.0 41.3h0M564.0 49.1h0M559.9 30.9h0M576.8 33.6h0M591.7 29.4h0M587.9 46.9h0M610.7 44.0h0M597.9 54.9h0M583.0 37.8h0M552.4 55.2h0M564.9 52.9h0M560.6 54.4h0M564.9 33.1h0M558.3 45.3h0M563.8 57.5h0M556.5 38.6h0M557.1 37.0h0M601.8 50.1h0M607.6 43.3h0M553.3 49.2h0M608.4 31.8h0M599.2 58.4h0M561.3 42.6h0M591.7 44.7h0M571.3 61.4h0M574.3 64.4h0M593.9 54.5h0M562.7 66.4h0M604.9 42.5h0M565.4 55.5h0M596.7 50.4h0M568.5 53.2h0M593.2 60.5h0M612.8 42.1h0M611.5 35.4h0M600.3 53.9h0M600.0 64.7h0M602.1 69.1h0M594.6 49.8h0M591.7 46.4h0M569.4 33.9h0M590.5 33.1h0M569.5 47.0h0M576.7 44.8h0M558.4 43.0h0M589.8 41.5h0M609.1 43.1h0M601.8 40.1h0M600.8 35.7h0M585.4 63.8h0M589.6 35.5h0M566.8 37.5h0M600.1 64.0h0M570.0 46.5h0M612.7 32.0h0M608.0 47.6h0M599.7 36.3h0M611.9 65.0h0M556.4 58.2h0M607.4 35.4h0M558.7 61.9h0M610.0 68.6h0M586.7 43.6h0M575.8 46.8h0M562.7 40.9h0M565.1 31.4h0M567.4 43.1h0M572.3 40.6h0M591.9 48.1h0M593.6 41.6h0M597.3 50.7h0M592.7 69.0h0M607.1 32.4h0M567.6 59.6h0M604.7 55.2h0M558.4 40.7h0M563.8 50.8h0M582.7 51.5h0M599.5 38.3h0M577.1 56.9h0M567.3 57.2h0M552.1 40.6h0M563.4 56.3h0M608.8 54.6h0M581.6 52.8h0M562.7 42.4h0M588.0 58.4h0M556.4 68.2h0M580.9 64.2h0M561.6 45.0h0M562.7 52.8h0M578.9 45.3h0M572.0 33.3h0M591.5 51.3h0M580.7 32.0h0M576.0 59.7h0M575.8 55.7h0M598.3 65.2h0M580.4 39.8h0M577.6 60.9h0M573.6 61.2h0M568.7 47.0h0M556.8 39.9h0M607.3 67.8h0M565.3 39.3h0M559.8 51.2h0M563.6 54.6h0M610.9 49.8h0M600.9 45.1h0M610.7 49.0h0M588.2 53.3h0M612.3 66.8h0M602.7 38.6h0M584.5 33.8h0M594.8 58.0h0M587.1 39.7h0M595.7 34.0h0M603.6 44.6h0M594.1 60.9h0M572.6 48.2h0M566.7 48.7h0M603.8 38.6h0M564.6 35.0h0M591.2 55.1h0M561.4 50.5h0M567.3 30.2h0M591.8 37.8h0M590.4 36.9h0M603.9 41.5h0M559.3 42.9h0M610.2 40.9h0M603.6 42.6h0M605.4 39.6h0M590.5 52.5h0M551.8 53.6h0M600.6 35.0h0M579.2 50.3h0M583.3 46.6h0M560.3 64.7h0M553.8 48.5h0M566.5 48.0h0M555.3 42.4h0M572.5 35.8h0M578.2 57.3h0M601.4 49.8h0M601.5 58.4h0M605.9 62.0h0M604.3 51.4h0M574.6 52.2h0M593.0 61.6h0M569.9 33.3h0M564.0 57.3h0M555.6 54.0h0M556.1 65.5h0M589.1 34.0h0M606.9 36.7h0M603.6 69.7h0M591.1 42.8h0M570.4 54.4h0M562.1 43.3h0M595.5 39.3h0M579.1 41.2h0M606.7 54.9h0M556.0 55.3h0M572.8 58.1h0M580.9 60.1h0M604.0 43.8h0M560.6 51.4h0M604.7 58.5h0M601.3 42.9h0M596.4 33.9h0M611.6 43.5h0M578.1 60.3h0M585.2 36.6h0M584.5 55.6h0M579.3 66.7h0M563.8 56.4h0M555.3 28.7h0M572.1 30.2h0M557.2 62.3h0M564.5 61.2h0M578.3 43.3h0M609.6 67.9h0M602.4 38.8h0M580.1 68.9h0M559.5 37.0h0M601.6 34.3h0M574.2 58.7h0M585.7 63.8h0M573.4 38.0h0M610.5 53.0h0M562.3 43.8h0M574.9 28.9h0M559.2 55.8h0M552.9 60.0h0M553.4 49.9h0M552.9 33.8h0M553.2 58.2h0M587.5 41.1h0M601.1 45.3h0M607.9 35.0h0M589.5 52.0h0M595.2 46.0h0M582.9 46.1h0M559.3 51.2h0M589.8 38.2h0M612.1 32.8h0M583.4 40.9h0M583.8 38.0h0M606.8 53.7h0M564.6 64.0h0M610.6 53.0h0M588.5 42.7h0M585.4 64.5h0M607.9 66.8h0M565.9 40.6h0M606.4 36.2h0M580.3 53.6h0M602.1 45.7h0M605.0 65.1h0M552.7 47.5h0M555.1 45.4h0M554.9 34.2h0M575.3 61.4h0M563.2 50.8h0M610.7 40.6h0M605.4 46.2h0M560.8 47.0h0M580.1 36.2h0M602.3 33.6h0M610.0 54.5h0M611.8 68.6h0M565.0 32.2h0M559.5 31.0h0M609.6 39.7h0M559.5 68.1h0M561.8 36.0h0M586.9 43.9h0M560.6 65.7h0M574.3 53.6h0M558.7 67.2h0M567.7 29.8h0M564.7 58.3h0M612.7 36.0h0M592.9 61.5h0M574.8 34.0h0M603.1 43.2h0M573.3 48.3h0M607.6 63.6h0M579.1 33.9h0M555.3 47.3h0M612.4 56.3h0M563.6 46.7h0M555.8 52.2h0M552.9 36.9h0M561.2 55.0h0M575.3 64.8h0M605.6 62.6h0M557.5 42.3h0M596.5 57.0h0M587.9 33.1h0M586.8 67.6h0M571.2 46.9h0M594.4 54.7h0M584.3 37.0h0M595.2 35.1h0M594.1 64.3h0M592.0 63.0h0M597.9 67.6h0M554.2 66.9h0M607.2 60.7h0M556.5 47.5h0M578.8 57.7h0M600.9 61.5h0M572.0 53.4h0M569.0 35.5h0M594.2 61.7h0M590.4 64.3h0M594.9 35.5h0M586.5 36.4h0M595.1 69.8h0M570.3 48.7h0M580.7 62.9h0M564.7 54.9h0M597.7 68.2h0M583.8 37.6h0M596.9 54.8h0M559.0 35.6h0M581.7 51.0h0M586.6 64.5h0M583.3 43.5h0M566.6 35.8h0M578.5 29.4h0M589.1 61.9h0M588.1 37.9h0M559.5 33.1h0M556.4 68.8h0M597.1 33.1h0M563.6 49.6h0M587.3 50.3h0" stroke="#c0bed2" stroke-width="1.10" stroke-linecap="round" fill="none"/>
<path d="M587.8 41.6h0M553.9 65.5h0M555.6 40.6h0M568.8 62.8h0M568.2 43.7h0M554.4 47.2h0M575.1 51.9h0M602.8 66.9h0M607.3 37.6h0M576.8 55.3h0M602.3 35.1h0M558.5 32.6h0M593.2 39.4h0M608.2 69.7h0M562.6 47.8h0M581.1 62.4h0M555.9 33.4h0M577.0 66.0h0M602.7 59.7h0M557.3 51.9h0M609.1 34.8h0M579.9 29.8h0M554.2 54.6h0M585.4 29.8h0M581.9 44.7h0M559.7 59.9h0M590.2 62.9h0M554.0 57.3h0M564.7 49.0h0M567.9 36.9h0M585.5 29.4h0M556.1 61.9h0M600.8 67.5h0M567.1 69.8h0M573.9 51.2h0M557.7 43.4h0M595.7 47.5h0M572.0 48.6h0M581.7 54.3h0M586.5 61.9h0M553.7 61.6h0M592.3 29.6h0M579.1 30.5h0M568.5 33.8h0M592.3 68.3h0M580.0 68.7h0M572.5 40.7h0M577.9 49.5h0M582.1 67.1h0M577.1 36.1h0M591.7 67.4h0M557.0 60.4h0M588.7 59.9h0M590.5 39.1h0M573.9 53.4h0M551.5 32.2h0M565.1 38.1h0M552.4 41.6h0M561.5 52.2h0M592.4 36.9h0M609.4 59.7h0M567.1 54.6h0M587.3 39.6h0M574.6 59.6h0M563.3 33.0h0M561.9 40.3h0M552.0 45.2h0M563.8 59.0h0M596.9 59.4h0M585.3 53.8h0M568.9 41.9h0M556.6 64.5h0M610.7 38.7h0M599.1 44.6h0M581.1 32.7h0M612.6 66.7h0M603.9 44.3h0M572.7 61.0h0M563.1 45.6h0M599.4 47.7h0M564.9 64.2h0M580.9 42.8h0M601.0 65.3h0M579.2 63.4h0M552.0 57.5h0M551.4 41.8h0M557.6 67.1h0M571.2 54.3h0M592.5 51.6h0M563.9 31.8h0M595.2 42.2h0M607.8 56.3h0M596.1 51.6h0M582.6 34.0h0M569.5 66.1h0M601.2 55.2h0M588.1 31.3h0M602.3 41.6h0M567.3 31.2h0M554.6 37.6h0M608.4 38.2h0M596.3 56.0h0M582.1 58.4h0M601.2 46.8h0" stroke="#a07ede" stroke-width="0.80" stroke-linecap="round" fill="none"/>
<path d="M556.5 43.9h0M584.8 30.5h0M591.2 50.7h0M566.1 44.7h0M580.7 65.7h0M597.6 43.6h0M594.2 63.0h0M568.6 57.0h0M555.7 39.5h0M592.5 46.5h0M604.0 61.4h0M585.6 44.0h0M591.0 68.6h0M566.5 43.9h0M612.8 39.5h0M588.8 68.8h0M580.6 32.3h0M563.2 30.3h0M579.8 59.9h0M574.8 31.4h0M590.1 67.1h0M601.7 39.1h0M587.0 29.4h0M599.4 53.4h0M577.6 34.9h0M583.3 46.4h0M561.8 66.3h0M581.8 48.4h0M607.4 31.5h0M582.8 37.2h0M564.1 56.1h0M555.9 56.9h0M612.6 30.2h0M570.9 45.8h0M604.1 32.7h0M557.5 38.1h0M601.7 60.5h0M575.3 69.0h0M601.6 63.5h0M578.4 66.8h0M564.6 55.8h0M590.0 41.8h0M610.8 59.8h0M581.0 55.8h0M597.6 50.8h0M579.4 39.9h0M600.5 60.2h0M608.9 39.6h0M594.0 54.5h0M608.1 51.9h0M564.8 50.3h0M587.8 58.9h0M607.6 60.4h0M568.7 49.2h0M554.4 49.4h0M604.7 50.9h0M574.2 31.5h0M584.5 53.8h0M611.4 41.0h0M596.6 57.0h0M570.8 43.1h0M606.1 51.5h0M574.1 55.9h0M570.9 61.1h0M557.6 36.8h0M559.9 54.5h0M601.0 60.7h0M559.6 58.5h0M566.6 66.5h0M600.2 66.5h0M570.0 28.5h0M592.0 44.6h0M600.8 52.2h0M596.2 49.0h0M586.4 49.6h0M590.7 45.1h0M609.0 63.4h0M596.4 40.6h0M551.4 52.0h0M607.6 51.0h0M556.0 35.9h0M559.4 60.9h0M574.9 35.9h0M605.1 63.2h0M575.0 63.1h0M572.2 65.9h0M554.7 31.4h0M599.1 46.7h0M559.6 53.6h0M573.5 37.3h0M602.4 50.6h0M585.6 57.9h0M551.8 68.6h0M554.3 58.5h0M596.8 56.5h0M580.5 66.7h0M591.3 65.4h0M573.1 49.2h0M588.4 58.7h0M593.4 68.7h0M593.9 52.1h0M579.5 37.5h0M571.8 39.6h0M552.3 36.2h0M592.8 63.1h0M599.9 46.7h0M552.7 29.1h0M591.1 39.7h0M555.4 64.8h0M556.7 62.9h0M578.1 46.6h0M608.5 59.9h0M579.6 35.8h0M604.4 54.8h0M579.1 69.4h0M583.2 56.0h0M598.4 41.2h0M594.0 50.4h0M579.2 40.7h0M564.2 37.1h0M556.6 57.2h0M600.7 29.4h0M588.1 37.7h0M554.1 45.3h0M564.9 64.6h0M558.6 55.9h0M570.8 33.6h0M556.3 51.5h0M574.9 58.4h0M578.1 41.7h0M606.4 47.0h0M551.8 64.3h0M599.5 69.2h0M587.8 33.1h0M572.6 43.9h0M586.9 30.2h0M555.0 52.9h0M554.9 55.3h0M601.9 37.1h0M560.3 43.1h0M599.4 69.9h0M582.0 60.0h0M566.9 57.5h0M563.0 44.1h0M580.1 51.7h0M606.4 33.6h0M610.7 53.7h0M578.9 68.6h0M578.0 46.1h0M598.7 33.0h0M577.6 68.3h0M569.4 41.7h0M569.2 55.3h0M590.5 37.8h0M604.0 40.0h0M585.7 64.1h0M600.0 42.5h0M606.4 31.6h0M579.8 44.5h0M601.2 66.0h0M608.8 64.3h0M594.0 66.4h0M555.6 45.1h0M552.5 33.1h0M593.5 29.3h0M589.0 44.3h0M557.0 34.3h0M593.3 54.1h0M563.4 33.9h0M569.1 45.8h0M569.4 39.7h0M604.8 54.9h0M588.3 29.7h0M610.2 65.1h0M559.1 58.1h0M566.3 40.5h0M566.2 34.8h0M565.4 52.9h0M553.1 64.0h0M564.4 61.3h0M554.6 36.1h0M599.1 39.5h0M571.9 44.4h0M586.8 54.8h0M574.0 68.8h0M553.1 56.3h0M574.4 34.0h0M590.3 55.0h0M580.0 32.1h0M594.9 30.2h0M607.1 68.5h0M574.5 48.5h0M573.8 47.9h0M578.9 58.5h0M606.6 40.0h0M611.9 47.8h0" stroke="#a07ede" stroke-width="1.30" stroke-linecap="round" fill="none"/>
<path d="M600.0 52.8h0M581.3 56.1h0M574.2 61.6h0M568.6 50.2h0M600.7 37.1h0M559.7 47.4h0M582.3 65.7h0M601.5 63.5h0M604.8 47.9h0M582.1 37.2h0M553.8 65.6h0M591.4 33.1h0M594.5 40.2h0M556.8 41.4h0M559.8 69.7h0M602.5 30.8h0M575.3 50.2h0M563.5 42.5h0M560.2 51.1h0M557.9 37.9h0M587.0 63.7h0M599.4 42.5h0M584.0 57.3h0M569.2 44.9h0M597.6 59.1h0M557.7 34.2h0M577.1 57.5h0M567.0 49.1h0M606.3 45.5h0M569.0 67.0h0M567.5 39.5h0M591.5 28.8h0M571.8 36.3h0M572.8 29.5h0M577.9 54.2h0M591.1 67.5h0M586.8 66.2h0M561.3 33.4h0M596.3 40.5h0M589.1 39.9h0M562.7 40.4h0M597.1 55.2h0M598.0 38.8h0M565.2 51.8h0M581.3 33.6h0M561.3 67.2h0M608.6 32.3h0M582.9 42.1h0M612.2 69.7h0M576.5 52.1h0M552.8 41.6h0M561.8 67.3h0M599.4 48.5h0M599.9 52.1h0M556.6 65.0h0M581.7 43.3h0M595.3 48.0h0M590.2 41.9h0M568.8 36.1h0M597.4 44.3h0M558.3 40.4h0" stroke="#7036d6" stroke-width="1.00" stroke-linecap="round" fill="none"/>
<path d="M578.1 68.2h0M552.0 37.7h0M598.1 46.8h0M592.8 43.6h0M586.8 53.0h0M577.1 33.7h0M577.0 33.0h0M575.9 44.5h0M552.2 34.9h0M585.5 36.5h0M611.8 36.1h0M589.3 59.5h0M564.2 33.4h0M571.7 55.1h0M574.5 66.6h0M567.8 48.1h0M595.6 30.5h0M558.5 43.8h0M582.4 50.0h0M567.5 51.5h0M564.7 65.3h0M578.7 40.7h0M601.1 57.0h0M590.3 63.2h0M576.6 33.2h0M564.5 29.0h0M606.4 65.2h0M595.9 28.6h0M600.2 37.7h0M573.1 36.8h0M603.6 32.4h0M556.2 31.0h0M575.5 29.8h0M611.6 52.2h0M591.0 58.5h0M573.2 39.7h0M579.2 30.5h0M566.2 65.7h0M606.0 47.9h0M613.0 64.2h0M607.6 55.3h0M577.8 45.1h0M593.5 55.1h0M566.6 41.2h0M594.4 39.2h0M581.9 56.5h0M577.5 55.0h0M579.6 61.4h0" stroke="#7036d6" stroke-width="1.50" stroke-linecap="round" fill="none"/>
<path d="M577.5 55.9h0M598.3 66.6h0M574.3 35.7h0M578.0 66.6h0M571.1 40.3h0M587.6 61.3h0M605.3 40.2h0M586.2 28.6h0M605.8 35.9h0M558.8 40.7h0M554.4 50.7h0M603.8 43.7h0M592.7 58.1h0M567.0 57.7h0M564.4 59.3h0M609.2 38.6h0M611.9 46.7h0M583.5 57.3h0M593.2 55.3h0M584.6 56.8h0M570.8 50.9h0M578.2 62.2h0M577.2 53.8h0M564.9 31.5h0M604.5 54.7h0M562.7 31.2h0M600.3 68.3h0M599.1 37.8h0M567.5 53.5h0M605.0 48.4h0M589.5 52.9h0M555.6 37.2h0M569.4 61.7h0M586.6 39.7h0M610.3 60.6h0M598.2 29.4h0M576.3 52.3h0M561.3 59.0h0M597.9 64.1h0M594.1 60.5h0M603.5 47.0h0" stroke="#7036d6" stroke-width="1.90" stroke-linecap="round" fill="none"/>
<rect x="551.20" y="73.10" width="61.80" height="41.40" fill="#eae9e6"/>
<path d="M610.4 78.9h0M612.9 80.7h0M565.5 112.8h0M608.3 102.4h0M605.7 97.5h0M567.2 112.7h0M607.8 85.8h0M561.8 95.7h0M571.5 87.9h0M596.1 99.7h0M590.4 87.2h0M594.0 91.1h0M553.8 113.1h0M558.5 82.1h0M604.7 80.6h0M557.2 92.6h0M603.7 74.5h0M595.6 92.3h0M565.5 84.1h0M553.0 104.8h0M565.6 95.2h0M582.9 80.9h0M563.3 79.8h0M557.3 75.9h0M591.5 86.4h0M569.6 74.1h0M557.6 91.5h0M573.1 106.8h0M583.0 82.1h0M566.0 86.0h0M582.4 76.0h0M579.6 99.2h0M573.5 84.9h0M590.5 99.2h0M608.1 97.3h0M585.6 107.2h0M604.9 105.5h0M573.1 106.1h0M611.7 97.1h0M554.0 98.1h0M595.3 82.8h0M574.2 100.0h0M561.1 77.2h0M580.6 80.4h0M554.3 78.2h0M576.4 74.8h0M593.8 95.4h0M604.0 89.2h0M589.1 105.9h0M568.6 99.7h0M579.3 80.0h0M600.3 99.2h0M592.2 103.4h0M556.2 92.5h0M562.9 89.3h0M580.8 74.1h0M558.5 87.6h0M560.5 100.3h0M598.5 87.4h0M558.8 85.3h0M568.2 76.0h0M575.5 110.8h0M564.3 79.6h0M610.5 111.7h0M566.0 86.4h0M587.0 74.1h0M600.7 88.7h0M577.2 107.6h0M603.7 108.7h0M567.7 88.1h0M565.7 90.9h0M583.6 105.4h0M553.4 101.4h0M580.1 75.2h0M554.1 76.8h0M600.9 96.0h0M568.0 86.0h0M597.3 95.1h0M578.8 82.0h0M582.3 104.1h0M565.5 76.9h0M607.6 113.5h0M602.7 77.4h0M607.2 104.7h0M590.4 106.0h0M584.0 76.8h0M612.1 114.1h0M595.5 89.2h0M583.9 93.7h0M608.5 104.5h0M586.7 114.3h0M574.3 88.1h0M558.5 99.1h0M597.3 108.6h0M600.3 105.2h0M611.0 75.9h0M604.2 108.0h0M607.5 105.6h0M607.1 75.2h0M579.8 102.6h0M581.2 86.5h0M578.9 75.2h0M559.2 108.5h0M612.0 110.4h0M567.5 103.4h0M575.0 74.0h0M601.0 78.8h0M575.6 85.4h0M600.4 112.0h0M596.3 103.0h0M571.5 98.7h0M581.4 104.7h0M580.6 83.3h0M611.8 93.8h0M572.3 106.8h0M574.1 111.8h0M608.2 74.3h0M609.4 78.0h0M599.8 82.8h0M609.5 102.9h0M563.1 94.5h0M605.5 99.7h0M561.7 86.7h0M569.2 97.3h0M566.3 99.4h0M588.0 77.9h0M574.8 84.1h0M605.9 97.6h0M574.5 84.1h0M590.3 99.3h0M554.6 84.4h0M570.3 74.7h0M552.9 109.9h0M552.2 87.1h0M604.7 90.9h0M595.1 114.3h0M553.2 92.9h0M574.0 103.9h0M572.6 88.7h0M563.5 78.6h0M594.5 81.1h0M588.7 101.1h0M610.4 104.1h0M586.4 86.6h0M589.1 113.8h0M600.9 111.7h0M606.7 73.7h0M552.6 80.5h0M597.9 76.2h0M552.3 89.1h0M599.1 100.7h0M606.6 90.0h0M557.3 76.1h0M556.3 102.3h0M587.0 97.5h0M589.5 85.3h0M595.0 81.1h0M567.7 91.9h0M590.4 110.5h0M611.1 85.1h0M594.2 82.0h0M582.1 93.4h0M561.9 77.8h0M553.4 100.9h0M563.1 74.9h0M585.1 108.6h0M566.0 98.9h0M591.4 107.8h0M566.8 84.5h0M574.7 110.1h0M602.1 76.6h0M557.6 96.4h0M581.8 86.0h0M598.0 81.1h0" stroke="#c0bed2" stroke-width="0.70" stroke-linecap="round" fill="none"/>
<path d="M591.5 87.4h0M588.4 111.7h0M563.0 108.3h0M609.2 105.1h0M586.2 102.0h0M599.5 112.6h0M560.0 107.3h0M562.6 75.1h0M553.2 111.4h0M583.2 90.1h0M587.2 85.4h0M584.8 91.0h0M583.8 76.7h0M573.2 91.0h0M608.6 112.5h0M576.0 77.1h0M553.5 95.3h0M591.2 81.4h0M554.4 90.1h0M608.1 92.2h0M582.0 94.8h0M612.5 103.9h0M599.7 107.0h0M609.5 73.9h0M572.5 103.5h0M602.8 74.7h0M581.5 88.9h0M592.3 79.6h0M591.1 75.5h0M588.5 74.8h0M590.3 113.9h0M572.4 108.9h0M551.8 88.8h0M562.0 106.3h0M585.3 88.1h0M561.0 107.8h0M594.3 106.9h0M563.0 89.9h0M598.3 89.1h0M574.7 82.9h0M611.1 79.4h0M604.6 97.9h0M598.6 74.0h0M593.6 106.5h0M582.4 111.9h0M576.7 98.9h0M571.7 113.3h0M596.1 110.4h0M565.9 75.5h0M562.0 92.8h0M584.6 109.4h0M574.4 74.8h0M554.2 114.3h0M558.2 93.0h0M574.7 111.0h0M593.6 106.6h0M556.3 79.5h0M599.3 82.1h0M566.0 101.6h0M572.0 89.6h0M562.0 89.9h0M584.0 101.3h0M588.4 83.0h0M576.9 78.4h0M599.2 78.3h0M551.7 91.4h0M561.0 112.0h0M582.2 83.6h0M579.1 102.0h0M565.3 80.5h0M602.3 95.5h0M589.9 87.0h0M596.5 82.7h0M585.8 79.2h0M608.4 94.3h0M610.1 111.2h0M575.0 76.1h0M601.7 86.2h0M558.2 83.9h0M606.7 84.7h0M596.8 73.5h0M601.2 94.9h0M570.4 108.6h0M565.3 87.7h0M606.2 93.0h0M596.6 87.8h0M554.3 93.2h0M558.1 90.4h0M551.3 102.8h0M599.8 93.3h0M583.2 78.7h0M561.0 75.4h0M565.8 96.1h0M565.6 78.4h0M593.0 101.7h0M558.1 93.7h0M575.3 83.4h0M557.0 85.3h0M568.0 104.8h0M567.9 76.1h0M610.9 106.0h0M597.2 104.6h0M581.7 114.5h0M574.4 106.9h0M573.1 93.1h0M593.5 111.9h0M584.9 101.4h0M612.1 97.8h0M575.7 90.5h0M574.2 110.5h0M610.2 102.4h0M573.9 73.8h0M597.6 103.0h0M575.2 109.1h0M564.2 82.0h0M596.5 113.3h0M583.0 78.5h0M559.2 76.3h0M604.5 86.0h0M571.7 113.1h0M604.7 113.9h0M563.3 94.5h0M595.8 82.6h0M568.8 80.7h0M565.2 88.0h0M569.4 101.0h0M589.9 111.3h0M559.2 89.8h0M580.6 100.2h0M583.5 97.8h0M570.1 110.2h0M612.2 107.2h0M578.4 96.4h0M571.9 79.6h0M590.2 88.7h0M557.5 96.6h0M582.0 102.0h0M571.7 99.5h0M595.4 80.7h0M591.0 105.2h0M580.8 75.0h0M557.8 90.8h0M577.7 80.2h0M565.0 93.4h0M569.7 91.6h0M584.1 106.3h0M611.0 79.9h0M558.5 102.0h0M603.7 93.1h0M553.1 98.5h0M593.7 86.6h0M576.2 113.9h0M602.7 107.8h0M578.8 85.1h0M606.5 109.7h0M574.5 99.8h0M604.9 87.6h0M587.7 84.8h0M582.4 109.1h0M562.1 93.9h0M606.6 95.1h0M591.1 100.7h0M557.4 110.8h0M593.3 92.5h0M551.3 77.2h0M576.1 75.9h0M603.9 111.6h0M597.6 106.9h0M551.7 101.2h0M560.4 78.6h0M594.3 85.2h0M599.2 81.4h0M604.1 114.0h0M581.1 101.0h0M554.6 81.4h0M599.2 106.5h0M612.9 83.8h0M579.0 112.9h0M595.9 105.2h0M598.5 86.7h0M558.6 96.4h0M586.6 95.2h0M595.7 76.4h0M559.0 94.9h0M594.7 73.5h0M562.0 94.1h0M590.2 79.7h0M574.3 77.8h0M552.5 85.3h0M552.2 102.1h0M611.5 86.0h0M590.3 94.7h0M576.9 85.8h0M564.6 89.1h0M560.3 102.7h0M552.2 105.5h0M579.8 97.8h0M608.5 82.4h0M556.1 88.2h0M590.0 95.2h0M579.4 74.4h0M589.8 107.2h0M556.4 99.8h0M565.6 106.8h0M592.2 100.8h0M580.0 100.7h0M570.6 75.6h0M605.5 74.3h0M585.0 107.3h0M607.2 106.8h0M558.8 101.7h0M601.7 91.5h0M560.1 104.4h0M601.3 105.2h0M591.9 110.0h0M551.4 98.3h0M577.9 103.5h0M578.4 87.8h0M607.5 109.1h0M595.1 100.0h0M559.6 84.2h0M559.5 78.3h0M569.2 73.9h0M608.6 92.3h0M563.2 90.9h0M573.8 109.5h0M590.5 93.1h0M570.2 89.4h0M612.6 103.7h0M606.5 79.0h0M595.9 93.3h0M591.8 81.2h0M577.1 107.7h0M605.1 90.7h0M608.6 101.5h0M605.1 103.3h0M566.1 93.2h0M593.2 108.9h0M589.1 89.1h0M568.2 113.1h0M552.0 98.7h0M608.6 109.7h0M567.6 86.3h0M556.3 90.0h0M588.3 99.9h0M594.2 106.2h0M551.2 111.6h0M612.6 104.7h0M554.0 77.1h0M551.6 75.2h0M585.9 91.1h0M568.4 106.8h0M603.0 109.0h0M585.8 107.9h0M601.7 109.5h0M556.6 99.0h0M609.8 104.0h0M607.6 86.7h0M586.4 91.0h0M581.9 90.3h0M567.0 91.1h0M611.2 103.3h0M574.4 100.4h0M577.9 100.3h0M569.2 91.9h0M593.3 108.5h0M577.8 114.1h0M560.8 91.0h0M564.1 106.9h0M560.5 100.0h0M588.2 82.6h0M610.2 88.0h0M551.5 104.8h0M584.8 110.2h0M599.5 93.4h0M568.0 96.3h0M591.0 102.7h0M591.5 100.1h0M592.8 101.8h0M603.6 87.9h0M605.9 93.8h0M561.4 114.2h0M589.5 106.8h0M594.2 110.7h0M588.7 80.0h0M608.0 109.6h0" stroke="#c0bed2" stroke-width="1.10" stroke-linecap="round" fill="none"/>
<path d="M567.6 89.0h0M579.6 94.0h0M604.8 89.8h0M581.2 108.1h0M589.4 79.3h0M551.4 86.3h0M588.0 77.1h0M556.3 90.7h0M586.3 106.0h0M602.6 113.3h0M581.6 109.7h0M583.1 80.9h0M553.2 112.3h0M582.4 85.4h0M602.7 91.8h0M591.2 83.5h0M574.3 95.1h0M593.7 99.2h0M602.1 109.1h0M604.2 113.0h0M552.4 95.2h0M581.6 80.9h0M592.5 83.0h0M568.0 101.3h0M568.3 113.8h0M569.8 94.3h0M577.1 108.3h0M603.3 80.6h0M557.8 74.5h0M568.7 100.1h0M607.5 100.0h0M586.6 108.1h0M564.4 98.4h0M604.0 84.7h0M569.3 89.4h0M600.4 80.7h0M607.1 87.5h0M589.8 112.3h0M596.1 106.7h0M608.2 113.4h0M561.5 77.5h0M572.3 106.2h0M570.5 92.5h0M583.2 80.3h0M587.5 104.9h0M577.5 114.5h0M588.6 78.5h0M564.0 89.3h0M562.3 101.2h0M573.6 107.2h0M559.1 76.5h0M571.2 108.5h0M604.8 107.3h0M586.2 101.1h0M553.5 109.2h0M581.8 77.5h0M576.2 83.4h0M593.4 90.9h0M600.5 85.3h0M581.3 104.1h0M598.8 77.7h0M564.7 82.7h0M604.1 73.2h0M595.2 86.9h0M612.0 90.6h0M585.2 81.1h0M553.6 87.9h0M581.4 110.5h0M564.2 87.0h0M583.2 105.3h0M603.7 110.1h0M596.5 114.4h0M554.0 114.3h0M571.2 93.6h0M592.8 90.3h0M572.8 93.2h0M579.0 83.0h0M608.1 106.0h0M586.7 85.3h0M553.8 109.5h0M592.2 76.6h0M553.7 95.9h0M557.0 95.3h0M579.2 80.7h0M607.8 104.3h0M590.5 83.5h0M557.9 105.1h0" stroke="#a07ede" stroke-width="0.80" stroke-linecap="round" fill="none"/>
<path d="M590.6 108.0h0M602.6 104.3h0M598.0 89.4h0M552.8 79.6h0M556.5 77.2h0M606.6 113.4h0M569.8 98.2h0M556.3 79.7h0M577.4 96.9h0M555.7 79.6h0M558.4 88.4h0M601.2 82.4h0M606.0 73.7h0M552.3 88.9h0M589.0 84.1h0M572.5 82.2h0M591.9 98.2h0M605.8 85.7h0M606.3 75.4h0M591.8 102.4h0M591.2 84.2h0M596.3 78.4h0M588.3 97.6h0M583.2 105.7h0M554.7 111.5h0M607.7 104.2h0M601.9 104.1h0M592.8 113.4h0M561.5 92.9h0M593.0 98.7h0M561.5 92.1h0M590.4 97.6h0M579.8 112.0h0M607.4 103.6h0M606.5 96.1h0M599.3 92.0h0M563.8 91.3h0M589.5 80.6h0M559.6 73.8h0M581.2 85.7h0M583.8 82.6h0M576.5 86.8h0M577.0 92.4h0M555.2 79.1h0M553.7 113.9h0M607.5 74.9h0M611.5 79.0h0M568.9 88.7h0M587.1 97.1h0M557.0 96.5h0M601.4 95.6h0M577.5 75.7h0M593.3 103.8h0M578.0 90.5h0M557.0 75.1h0M600.2 76.1h0M560.5 108.5h0M563.8 88.7h0M609.9 74.6h0M558.3 113.0h0M583.9 103.9h0M592.3 99.6h0M592.1 75.6h0M599.9 107.3h0M594.4 110.9h0M565.5 89.7h0M598.9 85.6h0M606.7 89.4h0M570.9 76.4h0M561.6 74.6h0M596.1 113.0h0M565.3 101.3h0M551.5 105.8h0M578.3 73.2h0M587.4 85.1h0M563.8 112.1h0M581.5 113.4h0M557.3 103.5h0M584.6 106.2h0M585.4 109.7h0M572.6 109.8h0M606.3 106.3h0M573.0 78.6h0M559.6 82.7h0M562.9 78.5h0M591.4 94.2h0M610.7 81.8h0M569.3 84.0h0M576.8 97.1h0M554.5 89.2h0M602.1 105.4h0M575.7 105.3h0M553.9 106.6h0M568.8 100.9h0M567.3 75.7h0M596.4 90.1h0M562.4 107.5h0M570.7 111.6h0M561.4 96.5h0M583.4 92.3h0M563.7 111.8h0M561.2 108.7h0M553.3 105.1h0M569.7 81.3h0M553.6 79.2h0M574.6 89.6h0M553.7 100.6h0M612.3 95.4h0M600.5 94.3h0M573.4 93.6h0M589.6 90.3h0M586.1 91.9h0M598.7 78.0h0M599.6 83.7h0M568.9 85.1h0M582.3 87.5h0M572.4 95.8h0M589.2 95.0h0M585.7 82.7h0M556.9 76.5h0M603.9 73.5h0M600.4 103.9h0M557.1 85.3h0M565.8 110.6h0M573.3 80.1h0M571.7 93.7h0M601.8 90.2h0M571.2 87.8h0M600.6 94.6h0M602.2 76.5h0M568.4 85.1h0M575.4 107.2h0M606.1 103.3h0M553.3 81.7h0M608.3 114.3h0M606.4 111.5h0M580.0 83.7h0M564.1 90.9h0M581.1 77.8h0M564.8 97.1h0M593.3 91.3h0M582.3 85.4h0M559.1 93.7h0" stroke="#a07ede" stroke-width="1.30" stroke-linecap="round" fill="none"/>
<path d="M604.8 86.6h0M604.0 99.4h0M609.8 80.6h0M606.9 90.2h0M595.2 95.9h0M553.8 96.3h0M558.9 87.1h0M578.8 86.0h0M596.4 90.6h0M595.2 113.9h0M595.7 97.3h0M552.4 111.4h0M577.3 80.8h0M562.0 95.6h0M604.5 98.2h0M576.4 74.0h0M554.6 113.8h0M577.7 88.1h0M608.0 101.4h0M577.1 88.5h0M583.1 75.3h0M564.7 92.8h0M595.3 114.5h0M606.2 103.8h0M564.8 83.1h0M570.7 110.1h0M561.3 90.7h0M594.6 73.8h0M581.4 76.7h0M611.1 100.1h0M557.8 79.8h0M573.9 73.7h0M606.0 94.4h0M572.5 79.4h0M611.3 104.5h0M551.9 112.0h0M588.0 111.1h0" stroke="#7036d6" stroke-width="1.00" stroke-linecap="round" fill="none"/>
<path d="M607.1 80.5h0M557.4 107.0h0M570.0 78.0h0M591.7 90.9h0M588.5 94.1h0M552.7 95.7h0M604.5 102.8h0M567.3 112.7h0M576.6 89.5h0M582.4 79.6h0M565.1 74.1h0M553.2 93.0h0M558.2 98.1h0M565.8 113.5h0M607.3 106.8h0M586.3 88.3h0M610.8 110.1h0M570.8 88.2h0M578.1 105.6h0M589.0 113.2h0M573.6 92.9h0M581.4 95.5h0M595.4 81.7h0M568.5 87.4h0M587.2 108.2h0M584.1 95.0h0M597.9 95.7h0M567.3 89.0h0M584.1 75.3h0M590.7 113.2h0M594.2 93.7h0M579.4 85.6h0M556.5 92.1h0M584.7 98.4h0M560.7 84.0h0M583.6 107.3h0M593.3 95.4h0M564.5 75.4h0M567.6 105.4h0M564.2 92.8h0M559.5 83.3h0M568.4 76.1h0M583.4 108.4h0M591.5 109.7h0M586.8 98.5h0M596.2 81.9h0" stroke="#7036d6" stroke-width="1.50" stroke-linecap="round" fill="none"/>
<path d="M594.5 86.2h0M556.6 89.0h0M602.2 75.4h0M586.4 82.7h0M604.5 73.9h0M607.2 99.5h0M588.3 84.5h0M555.2 98.1h0M612.7 85.7h0M573.4 107.2h0M586.7 104.0h0M563.7 103.8h0M591.1 94.0h0M610.4 108.6h0M577.8 77.2h0M595.6 91.4h0M556.0 78.2h0M584.8 106.0h0M590.6 89.5h0M574.0 76.3h0M608.7 90.6h0M557.4 96.5h0M591.2 76.8h0M599.9 86.2h0M607.3 109.7h0M569.0 109.4h0M609.1 97.0h0M557.3 111.9h0M595.8 97.4h0M566.7 96.5h0M598.4 91.8h0M574.3 74.3h0" stroke="#7036d6" stroke-width="1.90" stroke-linecap="round" fill="none"/>
<rect x="553.00" y="66.80" width="7.50" height="1.80" fill="#000"/>
<rect x="553.00" y="111.10" width="7.50" height="1.80" fill="#000"/>
<text x="549.40" y="49.60" font-size="7.60" text-anchor="middle" transform="rotate(-90 549.40 49.60)">Control</text>
<text x="549.40" y="96.90" font-size="7.60" text-anchor="middle" transform="rotate(-90 549.40 96.90)">PIGR</text>
<line x1="640.10" y1="34.20" x2="640.10" y2="94.40" stroke="#000" stroke-width="0.9"/>
<line x1="637.90" y1="34.60" x2="640.10" y2="34.60" stroke="#000" stroke-width="0.9"/>
<text x="636.90" y="37.19" font-size="7.20" text-anchor="end">200</text>
<line x1="637.90" y1="49.40" x2="640.10" y2="49.40" stroke="#000" stroke-width="0.9"/>
<text x="636.90" y="51.99" font-size="7.20" text-anchor="end">150</text>
<line x1="637.90" y1="64.10" x2="640.10" y2="64.10" stroke="#000" stroke-width="0.9"/>
<text x="636.90" y="66.69" font-size="7.20" text-anchor="end">100</text>
<line x1="637.90" y1="79.20" x2="640.10" y2="79.20" stroke="#000" stroke-width="0.9"/>
<text x="636.90" y="81.79" font-size="7.20" text-anchor="end">50</text>
<line x1="637.90" y1="94.00" x2="640.10" y2="94.00" stroke="#000" stroke-width="0.9"/>
<text x="636.90" y="96.59" font-size="7.20" text-anchor="end">0</text>
<line x1="639.50" y1="94.10" x2="674.50" y2="94.10" stroke="#000" stroke-width="0.9"/>
<line x1="650.20" y1="94.10" x2="650.20" y2="96.30" stroke="#000" stroke-width="0.9"/>
<line x1="664.50" y1="94.10" x2="664.50" y2="96.30" stroke="#000" stroke-width="0.9"/>
<rect x="645.30" y="46.30" width="9.70" height="47.80" fill="#1f4e9f" stroke="#000" stroke-width="0.8"/>
<rect x="659.80" y="75.20" width="9.40" height="18.90" fill="#e2321e" stroke="#000" stroke-width="0.8"/>
<line x1="650.20" y1="43.50" x2="650.20" y2="49.00" stroke="#000" stroke-width="0.8"/>
<line x1="647.90" y1="49.00" x2="652.50" y2="49.00" stroke="#000" stroke-width="0.8"/>
<line x1="664.50" y1="70.50" x2="664.50" y2="80.00" stroke="#000" stroke-width="0.8"/>
<line x1="662.20" y1="70.50" x2="666.80" y2="70.50" stroke="#000" stroke-width="0.8"/>
<circle cx="647.80" cy="42.60" r="1.60" fill="#fff" stroke="#000" stroke-width="0.8"/>
<circle cx="652.80" cy="44.30" r="1.60" fill="#fff" stroke="#000" stroke-width="0.8"/>
<circle cx="650.00" cy="50.00" r="1.60" fill="none" stroke="#000" stroke-width="0.8"/>
<circle cx="664.50" cy="70.00" r="1.60" fill="#fff" stroke="#000" stroke-width="0.8"/>
<circle cx="663.00" cy="75.50" r="1.60" fill="none" stroke="#000" stroke-width="0.8"/>
<circle cx="664.80" cy="80.50" r="1.60" fill="none" stroke="#000" stroke-width="0.8"/>
<line x1="648.80" y1="39.20" x2="665.20" y2="39.20" stroke="#000" stroke-width="0.9"/>
<text x="657.20" y="38.60" font-size="7.00" text-anchor="middle">**</text>
<text x="624.00" y="63.80" font-size="6.73" text-anchor="middle" transform="rotate(-90 624.00 63.80)">Cell number</text>
<text x="651.00" y="103.20" font-size="6.67" text-anchor="end" transform="rotate(-45 651.00 103.20)">Control</text>
<text x="666.60" y="103.40" font-size="6.67" text-anchor="end" transform="rotate(-45 666.60 103.40)">PIGR</text>
<text x="9.40" y="163.60" font-size="11.50" font-weight="bold">F</text>
<text x="57.00" y="170.60" font-size="9.31">Nude mouse (PSCC)</text>
<line x1="50.10" y1="176.80" x2="50.10" y2="256.90" stroke="#000" stroke-width="0.9"/>
<line x1="47.60" y1="177.20" x2="50.10" y2="177.20" stroke="#000" stroke-width="0.9"/>
<text x="46.60" y="180.66" font-size="9.60" text-anchor="end">1500</text>
<line x1="47.60" y1="192.90" x2="50.10" y2="192.90" stroke="#000" stroke-width="0.9"/>
<text x="46.60" y="196.36" font-size="9.60" text-anchor="end">1200</text>
<line x1="47.60" y1="209.00" x2="50.10" y2="209.00" stroke="#000" stroke-width="0.9"/>
<text x="46.60" y="212.46" font-size="9.60" text-anchor="end">900</text>
<line x1="47.60" y1="224.90" x2="50.10" y2="224.90" stroke="#000" stroke-width="0.9"/>
<text x="46.60" y="228.36" font-size="9.60" text-anchor="end">600</text>
<line x1="47.60" y1="240.80" x2="50.10" y2="240.80" stroke="#000" stroke-width="0.9"/>
<text x="46.60" y="244.26" font-size="9.60" text-anchor="end">300</text>
<line x1="47.60" y1="256.60" x2="50.10" y2="256.60" stroke="#000" stroke-width="0.9"/>
<text x="46.60" y="260.06" font-size="9.60" text-anchor="end">0</text>
<line x1="50.10" y1="256.60" x2="163.80" y2="256.60" stroke="#000" stroke-width="0.9"/>
<line x1="58.30" y1="256.60" x2="58.30" y2="259.10" stroke="#000" stroke-width="0.9"/>
<text x="58.30" y="268.30" font-size="9.60" text-anchor="middle">0</text>
<line x1="74.50" y1="256.60" x2="74.50" y2="259.10" stroke="#000" stroke-width="0.9"/>
<text x="74.50" y="268.30" font-size="9.60" text-anchor="middle">6</text>
<line x1="90.60" y1="256.60" x2="90.60" y2="259.10" stroke="#000" stroke-width="0.9"/>
<text x="90.60" y="268.30" font-size="9.60" text-anchor="middle">8</text>
<line x1="107.00" y1="256.60" x2="107.00" y2="259.10" stroke="#000" stroke-width="0.9"/>
<text x="107.00" y="268.30" font-size="9.60" text-anchor="middle">10</text>
<line x1="123.50" y1="256.60" x2="123.50" y2="259.10" stroke="#000" stroke-width="0.9"/>
<text x="123.50" y="268.30" font-size="9.60" text-anchor="middle">13</text>
<line x1="139.30" y1="256.60" x2="139.30" y2="259.10" stroke="#000" stroke-width="0.9"/>
<text x="139.30" y="268.30" font-size="9.60" text-anchor="middle">17</text>
<line x1="155.80" y1="256.60" x2="155.80" y2="259.10" stroke="#000" stroke-width="0.9"/>
<text x="155.80" y="268.30" font-size="9.60" text-anchor="middle">21</text>
<text x="65.80" y="277.30" font-size="9.16">Days after inoculation</text>
<text x="25.3" y="216.0" font-size="9.24" text-anchor="middle" transform="rotate(-90 25.3 216.0)">Tumor volume (mm<tspan dy="-3" font-size="6.01">3</tspan><tspan dy="3">)</tspan></text>
<line x1="107.00" y1="243.50" x2="107.00" y2="247.48" stroke="#3365c2" stroke-width="1.0"/>
<line x1="104.80" y1="243.50" x2="109.20" y2="243.50" stroke="#3365c2" stroke-width="1.0"/>
<line x1="123.50" y1="234.70" x2="123.50" y2="238.10" stroke="#3365c2" stroke-width="1.0"/>
<line x1="121.30" y1="234.70" x2="125.70" y2="234.70" stroke="#3365c2" stroke-width="1.0"/>
<line x1="139.30" y1="218.20" x2="139.30" y2="224.01" stroke="#3365c2" stroke-width="1.0"/>
<line x1="137.10" y1="218.20" x2="141.50" y2="218.20" stroke="#3365c2" stroke-width="1.0"/>
<line x1="155.80" y1="198.50" x2="155.80" y2="203.60" stroke="#3365c2" stroke-width="1.0"/>
<line x1="153.60" y1="198.50" x2="158.00" y2="198.50" stroke="#3365c2" stroke-width="1.0"/>
<path d="M58.30,256.60 L74.50,254.22 L90.60,252.63 L107.00,251.30 L123.50,244.52 L139.30,234.71 L155.80,222.42" fill="none" stroke="#ea4430" stroke-width="1.25"/>
<circle cx="58.30" cy="256.60" r="2.40" fill="none" stroke="#ea4430" stroke-width="1.25"/>
<circle cx="74.50" cy="254.22" r="2.40" fill="none" stroke="#ea4430" stroke-width="1.25"/>
<circle cx="90.60" cy="252.63" r="2.40" fill="none" stroke="#ea4430" stroke-width="1.25"/>
<circle cx="107.00" cy="251.30" r="2.40" fill="none" stroke="#ea4430" stroke-width="1.25"/>
<circle cx="123.50" cy="244.52" r="2.40" fill="none" stroke="#ea4430" stroke-width="1.25"/>
<circle cx="139.30" cy="234.71" r="2.40" fill="none" stroke="#ea4430" stroke-width="1.25"/>
<circle cx="155.80" cy="222.42" r="2.40" fill="none" stroke="#ea4430" stroke-width="1.25"/>
<path d="M58.30,256.60 L74.50,253.95 L90.60,250.77 L107.00,247.48 L123.50,238.10 L139.30,224.01 L155.80,203.60" fill="none" stroke="#3365c2" stroke-width="1.25"/>
<circle cx="58.30" cy="256.60" r="2.40" fill="none" stroke="#3365c2" stroke-width="1.25"/>
<circle cx="74.50" cy="253.95" r="2.40" fill="none" stroke="#3365c2" stroke-width="1.25"/>
<circle cx="90.60" cy="250.77" r="2.40" fill="none" stroke="#3365c2" stroke-width="1.25"/>
<circle cx="107.00" cy="247.48" r="2.40" fill="none" stroke="#3365c2" stroke-width="1.25"/>
<circle cx="123.50" cy="238.10" r="2.40" fill="none" stroke="#3365c2" stroke-width="1.25"/>
<circle cx="139.30" cy="224.01" r="2.40" fill="none" stroke="#3365c2" stroke-width="1.25"/>
<circle cx="155.80" cy="203.60" r="2.40" fill="none" stroke="#3365c2" stroke-width="1.25"/>
<line x1="59.60" y1="185.90" x2="72.50" y2="185.90" stroke="#3365c2" stroke-width="1"/>
<circle cx="66.00" cy="185.90" r="2.40" fill="none" stroke="#3365c2" stroke-width="1"/>
<line x1="59.60" y1="200.10" x2="72.50" y2="200.10" stroke="#ea4430" stroke-width="1"/>
<circle cx="66.00" cy="200.10" r="2.40" fill="none" stroke="#ea4430" stroke-width="1"/>
<text x="75.70" y="189.60" font-size="9.31">Control (n=4)</text>
<text x="75.70" y="203.80" font-size="9.03">PIGR (n=4)</text>
<text x="139.30" y="218.60" font-size="9.00" text-anchor="middle">*</text>
<text x="154.00" y="190.00" font-size="9.00" text-anchor="middle" transform="rotate(90 154.00 190.00)">****</text>
<text x="184.70" y="165.00" font-size="11.50" font-weight="bold">G</text>
<line x1="211.60" y1="183.10" x2="211.60" y2="260.50" stroke="#000" stroke-width="0.9"/>
<line x1="209.10" y1="183.50" x2="211.60" y2="183.50" stroke="#000" stroke-width="0.9"/>
<text x="208.10" y="186.74" font-size="9.00" text-anchor="end">1500</text>
<line x1="209.10" y1="209.00" x2="211.60" y2="209.00" stroke="#000" stroke-width="0.9"/>
<text x="208.10" y="212.24" font-size="9.00" text-anchor="end">1000</text>
<line x1="209.10" y1="234.60" x2="211.60" y2="234.60" stroke="#000" stroke-width="0.9"/>
<text x="208.10" y="237.84" font-size="9.00" text-anchor="end">500</text>
<line x1="209.10" y1="260.20" x2="211.60" y2="260.20" stroke="#000" stroke-width="0.9"/>
<text x="208.10" y="263.44" font-size="9.00" text-anchor="end">0</text>
<line x1="211.60" y1="260.20" x2="255.70" y2="260.20" stroke="#000" stroke-width="0.9"/>
<line x1="224.50" y1="260.20" x2="224.50" y2="262.70" stroke="#000" stroke-width="0.9"/>
<line x1="243.40" y1="260.20" x2="243.40" y2="262.70" stroke="#000" stroke-width="0.9"/>
<rect x="218.30" y="211.00" width="12.30" height="49.20" fill="#fff" stroke="#222" stroke-width="1.1"/>
<rect x="237.30" y="226.50" width="12.10" height="33.70" fill="#fff" stroke="#222" stroke-width="1.1"/>
<text x="186.30" y="220.30" font-size="8.94" text-anchor="middle" transform="rotate(-90 186.30 220.30)">Tumor weight (mg)</text>
<line x1="224.80" y1="205.70" x2="224.80" y2="215.40" stroke="#3365c2" stroke-width="1.0"/>
<line x1="221.60" y1="205.70" x2="228.00" y2="205.70" stroke="#3365c2" stroke-width="1.0"/>
<line x1="221.60" y1="215.40" x2="228.00" y2="215.40" stroke="#3365c2" stroke-width="1.0"/>
<line x1="243.60" y1="222.40" x2="243.60" y2="229.90" stroke="#ea4430" stroke-width="1.0"/>
<line x1="240.60" y1="222.40" x2="246.60" y2="222.40" stroke="#ea4430" stroke-width="1.0"/>
<line x1="240.60" y1="229.90" x2="246.60" y2="229.90" stroke="#ea4430" stroke-width="1.0"/>
<circle cx="224.80" cy="196.80" r="1.75" fill="none" stroke="#3365c2" stroke-width="1.0"/>
<circle cx="224.80" cy="209.30" r="1.75" fill="none" stroke="#3365c2" stroke-width="1.0"/>
<circle cx="220.70" cy="218.30" r="1.75" fill="none" stroke="#3365c2" stroke-width="1.0"/>
<circle cx="228.80" cy="218.30" r="1.75" fill="none" stroke="#3365c2" stroke-width="1.0"/>
<circle cx="239.30" cy="221.40" r="1.75" fill="none" stroke="#ea4430" stroke-width="1.0"/>
<circle cx="247.60" cy="222.10" r="1.75" fill="none" stroke="#ea4430" stroke-width="1.0"/>
<circle cx="243.60" cy="237.20" r="1.75" fill="none" stroke="#ea4430" stroke-width="1.0"/>
<circle cx="243.60" cy="225.30" r="1.75" fill="none" stroke="#ea4430" stroke-width="1.0"/>
<line x1="220.70" y1="189.10" x2="248.30" y2="189.10" stroke="#000" stroke-width="0.9"/>
<text x="233.90" y="189.60" font-size="9.00" text-anchor="middle">*</text>
<text x="228.30" y="268.30" font-size="8.84" text-anchor="end" transform="rotate(-45 228.30 268.30)">Control</text>
<text x="246.50" y="268.60" font-size="8.84" text-anchor="end" transform="rotate(-45 246.50 268.60)">PIGR</text>
<rect x="268.30" y="195.30" width="120.60" height="53.20" fill="#e6e6e4" stroke="#1c1c1c" stroke-width="1.1"/>
<rect x="269.00" y="196.00" width="10.00" height="51.80" fill="#ecebea"/>
<rect x="279.20" y="196.00" width="5.80" height="51.80" fill="#bdbdbd"/>
<line x1="276.50" y1="203.00" x2="279.20" y2="203.00" stroke="#666" stroke-width="0.4"/>
<line x1="278.00" y1="206.20" x2="279.20" y2="206.20" stroke="#666" stroke-width="0.4"/>
<line x1="276.50" y1="209.40" x2="279.20" y2="209.40" stroke="#666" stroke-width="0.4"/>
<line x1="278.00" y1="212.60" x2="279.20" y2="212.60" stroke="#666" stroke-width="0.4"/>
<line x1="276.50" y1="215.80" x2="279.20" y2="215.80" stroke="#666" stroke-width="0.4"/>
<line x1="278.00" y1="219.00" x2="279.20" y2="219.00" stroke="#666" stroke-width="0.4"/>
<line x1="276.50" y1="222.20" x2="279.20" y2="222.20" stroke="#666" stroke-width="0.4"/>
<line x1="278.00" y1="225.40" x2="279.20" y2="225.40" stroke="#666" stroke-width="0.4"/>
<line x1="276.50" y1="228.60" x2="279.20" y2="228.60" stroke="#666" stroke-width="0.4"/>
<line x1="278.00" y1="231.80" x2="279.20" y2="231.80" stroke="#666" stroke-width="0.4"/>
<line x1="276.50" y1="235.00" x2="279.20" y2="235.00" stroke="#666" stroke-width="0.4"/>
<line x1="278.00" y1="238.20" x2="279.20" y2="238.20" stroke="#666" stroke-width="0.4"/>
<line x1="276.50" y1="241.40" x2="279.20" y2="241.40" stroke="#666" stroke-width="0.4"/>
<line x1="278.00" y1="244.60" x2="279.20" y2="244.60" stroke="#666" stroke-width="0.4"/>
<defs><radialGradient id="tum" cx="45%" cy="40%" r="60%"><stop offset="0" stop-color="#b47068"/><stop offset="0.55" stop-color="#a0504f"/><stop offset="1" stop-color="#82323a"/></radialGradient></defs>
<ellipse cx="299.7" cy="207.6" rx="6.0" ry="9.0" transform="rotate(-10 299.7 207.6)" fill="url(#tum)" filter="url(#bl5)"/>
<ellipse cx="301.1" cy="206.0" rx="4.2" ry="5.0" fill="#a24c50" fill-opacity="0.8" filter="url(#bl5)"/>
<path d="M297.8 211.1h0M296.9 207.3h0M300.1 208.8h0M297.1 209.0h0M299.7 211.4h0M296.3 212.5h0M297.3 211.0h0M299.8 211.2h0M297.4 205.7h0M296.7 210.6h0" stroke="#c89a96" stroke-width="1.20" stroke-linecap="round" fill="none" stroke-opacity="0.7"/>
<path d="M299.9 204.4h0M297.5 203.1h0M297.5 208.2h0M299.3 209.8h0M296.6 211.3h0M303.2 210.2h0" stroke="#7a2832" stroke-width="1.40" stroke-linecap="round" fill="none" stroke-opacity="0.7"/>
<ellipse cx="322.4" cy="206.0" rx="6.0" ry="7.8" transform="rotate(-30 322.4 206.0)" fill="url(#tum)" filter="url(#bl5)"/>
<ellipse cx="323.6" cy="208.7" rx="4.2" ry="4.3" fill="#a24c50" fill-opacity="0.8" filter="url(#bl5)"/>
<path d="M319.5 205.6h0M319.4 208.6h0M322.7 202.3h0M322.0 208.6h0M322.8 202.5h0M325.5 201.8h0M324.9 210.4h0M324.2 210.2h0M322.6 203.4h0M322.2 208.2h0" stroke="#c89a96" stroke-width="1.20" stroke-linecap="round" fill="none" stroke-opacity="0.7"/>
<path d="M324.3 204.9h0M325.6 201.6h0M322.4 201.7h0M321.4 210.6h0M319.6 210.5h0M325.3 207.8h0" stroke="#7a2832" stroke-width="1.40" stroke-linecap="round" fill="none" stroke-opacity="0.7"/>
<ellipse cx="348.8" cy="206.5" rx="5.3" ry="7.5" transform="rotate(0 348.8 206.5)" fill="url(#tum)" filter="url(#bl5)"/>
<ellipse cx="346.9" cy="206.3" rx="3.7" ry="4.1" fill="#a24c50" fill-opacity="0.8" filter="url(#bl5)"/>
<path d="M350.0 202.9h0M347.5 202.8h0M351.0 210.2h0M351.5 208.8h0M349.3 202.6h0M348.7 208.8h0M350.4 202.2h0M345.7 202.8h0M351.5 203.0h0M348.1 206.3h0" stroke="#c89a96" stroke-width="1.20" stroke-linecap="round" fill="none" stroke-opacity="0.7"/>
<path d="M351.2 203.2h0M347.3 208.9h0M346.2 203.5h0M345.8 210.6h0M347.1 206.5h0M348.0 210.8h0" stroke="#7a2832" stroke-width="1.40" stroke-linecap="round" fill="none" stroke-opacity="0.7"/>
<ellipse cx="371.7" cy="206.5" rx="5.0" ry="7.0" transform="rotate(5 371.7 206.5)" fill="url(#tum)" filter="url(#bl5)"/>
<ellipse cx="372.5" cy="207.2" rx="3.5" ry="3.9" fill="#a24c50" fill-opacity="0.8" filter="url(#bl5)"/>
<path d="M371.6 204.5h0M373.7 203.2h0M372.4 204.8h0M370.4 206.1h0M369.8 207.3h0M369.1 202.5h0M369.5 203.1h0M374.0 206.6h0M372.8 208.8h0M369.7 210.3h0" stroke="#c89a96" stroke-width="1.20" stroke-linecap="round" fill="none" stroke-opacity="0.7"/>
<path d="M371.0 206.2h0M371.6 208.1h0M373.3 203.9h0M373.7 205.9h0M370.2 209.6h0M373.9 209.5h0" stroke="#7a2832" stroke-width="1.40" stroke-linecap="round" fill="none" stroke-opacity="0.7"/>
<ellipse cx="297.0" cy="237.0" rx="4.9" ry="6.6" transform="rotate(10 297.0 237.0)" fill="url(#tum)" filter="url(#bl5)"/>
<ellipse cx="296.3" cy="239.7" rx="3.4" ry="3.6" fill="#a24c50" fill-opacity="0.8" filter="url(#bl5)"/>
<path d="M298.6 240.7h0M298.5 241.0h0M296.9 239.0h0M298.7 237.2h0M297.0 236.2h0M299.2 236.0h0M298.4 237.5h0M298.2 235.5h0M294.5 238.4h0M294.9 235.9h0" stroke="#c89a96" stroke-width="1.20" stroke-linecap="round" fill="none" stroke-opacity="0.7"/>
<path d="M298.7 233.4h0M299.4 237.7h0M297.4 238.4h0M294.4 233.2h0M298.3 237.7h0M297.8 239.6h0" stroke="#7a2832" stroke-width="1.40" stroke-linecap="round" fill="none" stroke-opacity="0.7"/>
<ellipse cx="322.0" cy="239.0" rx="6.0" ry="5.7" transform="rotate(0 322.0 239.0)" fill="url(#tum)" filter="url(#bl5)"/>
<ellipse cx="320.9" cy="237.1" rx="4.2" ry="3.1" fill="#a24c50" fill-opacity="0.8" filter="url(#bl5)"/>
<path d="M325.4 236.0h0M322.1 239.8h0M325.3 236.2h0M323.5 236.1h0M321.7 239.8h0M324.5 235.9h0M323.8 236.6h0M321.3 242.3h0M324.5 236.1h0M318.4 235.8h0" stroke="#c89a96" stroke-width="1.20" stroke-linecap="round" fill="none" stroke-opacity="0.7"/>
<path d="M324.0 235.8h0M324.1 241.1h0M324.3 242.0h0M323.0 241.2h0M322.3 240.2h0M318.9 239.3h0" stroke="#7a2832" stroke-width="1.40" stroke-linecap="round" fill="none" stroke-opacity="0.7"/>
<ellipse cx="347.6" cy="237.3" rx="5.2" ry="6.2" transform="rotate(-10 347.6 237.3)" fill="url(#tum)" filter="url(#bl5)"/>
<ellipse cx="349.6" cy="236.6" rx="3.6" ry="3.4" fill="#a24c50" fill-opacity="0.8" filter="url(#bl5)"/>
<path d="M348.9 234.9h0M347.5 237.6h0M349.3 236.0h0M347.4 235.0h0M348.1 240.6h0M346.9 238.5h0M348.0 235.0h0M348.8 235.2h0M348.3 241.0h0M346.4 238.6h0" stroke="#c89a96" stroke-width="1.20" stroke-linecap="round" fill="none" stroke-opacity="0.7"/>
<path d="M346.6 238.4h0M345.7 237.3h0M349.4 235.2h0M346.7 235.3h0M345.5 238.6h0M349.7 237.5h0" stroke="#7a2832" stroke-width="1.40" stroke-linecap="round" fill="none" stroke-opacity="0.7"/>
<ellipse cx="369.3" cy="237.3" rx="3.9" ry="5.7" transform="rotate(0 369.3 237.3)" fill="url(#tum)" filter="url(#bl5)"/>
<ellipse cx="369.1" cy="236.2" rx="2.7" ry="3.1" fill="#a24c50" fill-opacity="0.8" filter="url(#bl5)"/>
<path d="M368.1 240.3h0M369.2 238.5h0M368.3 235.1h0M367.0 235.9h0M368.9 237.4h0M369.8 238.6h0M371.1 239.4h0M370.2 239.4h0M369.5 237.1h0M371.2 240.0h0" stroke="#c89a96" stroke-width="1.20" stroke-linecap="round" fill="none" stroke-opacity="0.7"/>
<path d="M368.8 239.8h0M369.0 239.0h0M367.1 237.9h0M371.4 236.9h0M371.0 238.5h0M367.1 234.4h0" stroke="#7a2832" stroke-width="1.40" stroke-linecap="round" fill="none" stroke-opacity="0.7"/>
<text x="380.30" y="197.50" font-size="7.60" transform="rotate(90 380.30 197.50)">Control</text>
<text x="380.30" y="227.90" font-size="7.60" transform="rotate(90 380.30 227.90)">PIGR</text>
<text x="409.20" y="163.50" font-size="10.50" font-weight="bold">H</text>
<text x="451.10" y="169.30" font-size="8.83">PIGR IHC score</text>
<line x1="440.50" y1="172.70" x2="440.50" y2="258.40" stroke="#000" stroke-width="0.9"/>
<line x1="438.00" y1="180.30" x2="440.50" y2="180.30" stroke="#000" stroke-width="0.9"/>
<text x="437.00" y="183.47" font-size="8.80" text-anchor="end">100</text>
<line x1="438.00" y1="199.70" x2="440.50" y2="199.70" stroke="#000" stroke-width="0.9"/>
<text x="437.00" y="202.87" font-size="8.80" text-anchor="end">75</text>
<line x1="438.00" y1="219.20" x2="440.50" y2="219.20" stroke="#000" stroke-width="0.9"/>
<text x="437.00" y="222.37" font-size="8.80" text-anchor="end">50</text>
<line x1="438.00" y1="238.60" x2="440.50" y2="238.60" stroke="#000" stroke-width="0.9"/>
<text x="437.00" y="241.77" font-size="8.80" text-anchor="end">25</text>
<line x1="438.00" y1="258.10" x2="440.50" y2="258.10" stroke="#000" stroke-width="0.9"/>
<text x="437.00" y="261.27" font-size="8.80" text-anchor="end">0</text>
<line x1="440.50" y1="258.10" x2="526.70" y2="258.10" stroke="#000" stroke-width="0.9"/>
<line x1="440.50" y1="258.10" x2="440.50" y2="260.60" stroke="#000" stroke-width="0.9"/>
<text x="440.50" y="273.40" font-size="9.60" text-anchor="middle">0</text>
<line x1="469.10" y1="258.10" x2="469.10" y2="260.60" stroke="#000" stroke-width="0.9"/>
<text x="469.10" y="273.40" font-size="9.60" text-anchor="middle">50</text>
<line x1="497.70" y1="258.10" x2="497.70" y2="260.60" stroke="#000" stroke-width="0.9"/>
<text x="497.70" y="273.40" font-size="9.60" text-anchor="middle">100</text>
<line x1="526.30" y1="258.10" x2="526.30" y2="260.60" stroke="#000" stroke-width="0.9"/>
<text x="526.30" y="273.40" font-size="9.60" text-anchor="middle">150</text>
<text x="472.40" y="287.30" font-size="8.69">Months</text>
<text x="418.40" y="214.30" font-size="9.00" text-anchor="middle" transform="rotate(-90 418.40 214.30)">Survival (%)</text>
<path d="M440.50,180.50 L485.12,180.50 L485.12,190.43 L514.00,190.43" fill="none" stroke="#e8321e" stroke-width="1.4"/>
<line x1="446.30" y1="180.30" x2="446.30" y2="178.20" stroke="#e8321e" stroke-width="1.0"/>
<line x1="447.30" y1="180.30" x2="447.30" y2="178.20" stroke="#e8321e" stroke-width="1.0"/>
<line x1="449.00" y1="180.30" x2="449.00" y2="178.20" stroke="#e8321e" stroke-width="1.0"/>
<line x1="453.60" y1="180.30" x2="453.60" y2="178.20" stroke="#e8321e" stroke-width="1.0"/>
<line x1="458.60" y1="180.30" x2="458.60" y2="178.20" stroke="#e8321e" stroke-width="1.0"/>
<line x1="459.60" y1="180.30" x2="459.60" y2="178.20" stroke="#e8321e" stroke-width="1.0"/>
<line x1="460.70" y1="180.30" x2="460.70" y2="178.20" stroke="#e8321e" stroke-width="1.0"/>
<line x1="462.00" y1="180.30" x2="462.00" y2="178.20" stroke="#e8321e" stroke-width="1.0"/>
<line x1="463.40" y1="180.30" x2="463.40" y2="178.20" stroke="#e8321e" stroke-width="1.0"/>
<line x1="469.60" y1="180.30" x2="469.60" y2="178.20" stroke="#e8321e" stroke-width="1.0"/>
<line x1="474.40" y1="180.30" x2="474.40" y2="178.20" stroke="#e8321e" stroke-width="1.0"/>
<line x1="475.10" y1="180.30" x2="475.10" y2="178.20" stroke="#e8321e" stroke-width="1.0"/>
<line x1="485.40" y1="190.30" x2="485.40" y2="188.20" stroke="#e8321e" stroke-width="1.0"/>
<line x1="486.00" y1="190.30" x2="486.00" y2="188.20" stroke="#e8321e" stroke-width="1.0"/>
<line x1="490.90" y1="190.30" x2="490.90" y2="188.20" stroke="#e8321e" stroke-width="1.0"/>
<line x1="491.60" y1="190.30" x2="491.60" y2="188.20" stroke="#e8321e" stroke-width="1.0"/>
<line x1="493.60" y1="190.30" x2="493.60" y2="188.20" stroke="#e8321e" stroke-width="1.0"/>
<line x1="494.30" y1="190.30" x2="494.30" y2="188.20" stroke="#e8321e" stroke-width="1.0"/>
<line x1="514.00" y1="190.30" x2="514.00" y2="188.20" stroke="#e8321e" stroke-width="1.0"/>
<path d="M440.53,180.29 L442.18,180.29 L442.18,180.98 L443.55,180.98 L443.55,181.66 L444.51,181.66 L444.51,182.35 L445.33,182.35 L445.33,183.72 L446.29,183.72 L446.29,185.10 L447.25,185.10 L447.25,186.47 L449.04,186.47 L449.04,187.15 L449.72,187.15 L449.72,188.53 L450.41,188.53 L450.41,190.58 L451.10,190.58 L451.10,193.33 L451.78,193.33 L451.78,196.07 L457.96,196.07 L457.96,197.45 L459.05,197.45 L459.05,198.82 L460.02,198.82 L460.02,200.19 L461.39,200.19 L461.39,201.56 L462.35,201.56 L462.35,202.94 L522.46,202.94" fill="none" stroke="#2453b3" stroke-width="1.4"/>
<line x1="448.35" y1="186.00" x2="448.35" y2="183.90" stroke="#2453b3" stroke-width="1.0"/>
<line x1="453.15" y1="196.10" x2="453.15" y2="194.00" stroke="#2453b3" stroke-width="1.0"/>
<line x1="455.21" y1="196.10" x2="455.21" y2="194.00" stroke="#2453b3" stroke-width="1.0"/>
<line x1="457.27" y1="196.10" x2="457.27" y2="194.00" stroke="#2453b3" stroke-width="1.0"/>
<line x1="465.50" y1="202.90" x2="465.50" y2="200.80" stroke="#2453b3" stroke-width="1.0"/>
<line x1="466.47" y1="202.90" x2="466.47" y2="200.80" stroke="#2453b3" stroke-width="1.0"/>
<line x1="467.56" y1="202.90" x2="467.56" y2="200.80" stroke="#2453b3" stroke-width="1.0"/>
<line x1="469.62" y1="202.90" x2="469.62" y2="200.80" stroke="#2453b3" stroke-width="1.0"/>
<line x1="471.41" y1="202.90" x2="471.41" y2="200.80" stroke="#2453b3" stroke-width="1.0"/>
<line x1="473.05" y1="202.90" x2="473.05" y2="200.80" stroke="#2453b3" stroke-width="1.0"/>
<line x1="475.11" y1="202.90" x2="475.11" y2="200.80" stroke="#2453b3" stroke-width="1.0"/>
<line x1="475.80" y1="202.90" x2="475.80" y2="200.80" stroke="#2453b3" stroke-width="1.0"/>
<line x1="476.48" y1="202.90" x2="476.48" y2="200.80" stroke="#2453b3" stroke-width="1.0"/>
<line x1="477.17" y1="202.90" x2="477.17" y2="200.80" stroke="#2453b3" stroke-width="1.0"/>
<line x1="478.27" y1="202.90" x2="478.27" y2="200.80" stroke="#2453b3" stroke-width="1.0"/>
<line x1="479.23" y1="202.90" x2="479.23" y2="200.80" stroke="#2453b3" stroke-width="1.0"/>
<line x1="482.38" y1="202.90" x2="482.38" y2="200.80" stroke="#2453b3" stroke-width="1.0"/>
<line x1="486.09" y1="202.90" x2="486.09" y2="200.80" stroke="#2453b3" stroke-width="1.0"/>
<line x1="490.21" y1="202.90" x2="490.21" y2="200.80" stroke="#2453b3" stroke-width="1.0"/>
<line x1="494.32" y1="202.90" x2="494.32" y2="200.80" stroke="#2453b3" stroke-width="1.0"/>
<line x1="502.97" y1="202.90" x2="502.97" y2="200.80" stroke="#2453b3" stroke-width="1.0"/>
<line x1="506.26" y1="202.90" x2="506.26" y2="200.80" stroke="#2453b3" stroke-width="1.0"/>
<line x1="522.46" y1="202.90" x2="522.46" y2="200.80" stroke="#2453b3" stroke-width="1.0"/>
<line x1="446.60" y1="237.70" x2="459.30" y2="237.70" stroke="#2453b3" stroke-width="1.4"/>
<line x1="453.00" y1="237.70" x2="453.00" y2="235.70" stroke="#2453b3" stroke-width="1.0"/>
<line x1="446.60" y1="248.30" x2="459.30" y2="248.30" stroke="#e8321e" stroke-width="1.4"/>
<line x1="453.00" y1="248.30" x2="453.00" y2="246.30" stroke="#e8321e" stroke-width="1.0"/>
<text x="460.30" y="241.00" font-size="8.67">score ≤ 2 (n=55)</text>
<text x="460.30" y="251.60" font-size="8.64">score ≥3 (n=30)</text>
<line x1="525.70" y1="234.00" x2="525.70" y2="252.40" stroke="#000" stroke-width="0.9"/>
<text x="530.60" y="249.00" font-size="9.00" text-anchor="middle">*</text>
<text x="548.60" y="163.80" font-size="10.50" font-weight="bold">I</text>
<line x1="578.20" y1="167.20" x2="578.20" y2="252.50" stroke="#555" stroke-width="1.0"/>
<line x1="575.70" y1="168.30" x2="578.20" y2="168.30" stroke="#555" stroke-width="1.0"/>
<text x="574.70" y="171.11" font-size="7.80" text-anchor="end">0.50</text>
<line x1="575.70" y1="189.30" x2="578.20" y2="189.30" stroke="#555" stroke-width="1.0"/>
<text x="574.70" y="192.11" font-size="7.80" text-anchor="end">0.25</text>
<line x1="575.70" y1="210.60" x2="578.20" y2="210.60" stroke="#555" stroke-width="1.0"/>
<text x="574.70" y="213.41" font-size="7.80" text-anchor="end">0.00</text>
<line x1="575.70" y1="231.60" x2="578.20" y2="231.60" stroke="#555" stroke-width="1.0"/>
<text x="574.70" y="234.41" font-size="7.80" text-anchor="end">-0.25</text>
<line x1="578.20" y1="252.50" x2="668.00" y2="252.50" stroke="#555" stroke-width="1.0"/>
<line x1="591.60" y1="252.50" x2="591.60" y2="255.00" stroke="#555" stroke-width="1.0"/>
<text x="591.60" y="261.90" font-size="7.80" text-anchor="middle">0.406</text>
<line x1="621.00" y1="252.50" x2="621.00" y2="255.00" stroke="#555" stroke-width="1.0"/>
<text x="621.00" y="261.90" font-size="7.80" text-anchor="middle">0.408</text>
<line x1="650.00" y1="252.50" x2="650.00" y2="255.00" stroke="#555" stroke-width="1.0"/>
<text x="650.00" y="261.90" font-size="7.80" text-anchor="middle">0.410</text>
<text x="595.60" y="272.00" font-size="8.82">PC1 (82.43%)</text>
<text x="556.60" y="200.50" font-size="8.83" text-anchor="middle" transform="rotate(-90 556.60 200.50)">PC2 ( 4.35%)</text>
<circle cx="602.90" cy="181.20" r="2.60" fill="#dc2a1a" stroke="#222" stroke-width="0.5"/>
<circle cx="621.20" cy="175.80" r="2.60" fill="#dc2a1a" stroke="#222" stroke-width="0.5"/>
<circle cx="623.90" cy="171.70" r="2.60" fill="#dc2a1a" stroke="#222" stroke-width="0.5"/>
<circle cx="583.00" cy="248.80" r="2.60" fill="#1c3f94" stroke="#222" stroke-width="0.5"/>
<circle cx="649.50" cy="240.00" r="2.60" fill="#1c3f94" stroke="#222" stroke-width="0.5"/>
<circle cx="664.40" cy="248.60" r="2.60" fill="#1c3f94" stroke="#222" stroke-width="0.5"/>
<circle cx="634.10" cy="207.20" r="1.90" fill="#1c3f94" stroke="#222" stroke-width="0.4"/>
<circle cx="634.10" cy="216.50" r="1.90" fill="#dc2a1a" stroke="#222" stroke-width="0.4"/>
<text x="636.80" y="210.00" font-size="7.90">Control (IgA)</text>
<text x="636.80" y="219.30" font-size="8.02">PIGR (IgA)</text>
<text x="8.50" y="310.90" font-size="11.50" font-weight="bold">J</text>
<line x1="25.20" y1="316.60" x2="25.20" y2="400.20" stroke="#666" stroke-width="1.2"/>
<line x1="25.20" y1="400.20" x2="150.00" y2="400.20" stroke="#333" stroke-width="1.0"/>
<line x1="22.70" y1="319.00" x2="25.20" y2="319.00" stroke="#333" stroke-width="0.9"/>
<text x="22.30" y="322.50" font-size="9.70" text-anchor="end">4</text>
<line x1="22.70" y1="338.30" x2="25.20" y2="338.30" stroke="#333" stroke-width="0.9"/>
<text x="22.30" y="341.80" font-size="9.70" text-anchor="end">2</text>
<line x1="22.70" y1="358.10" x2="25.20" y2="358.10" stroke="#333" stroke-width="0.9"/>
<text x="22.30" y="361.60" font-size="9.70" text-anchor="end">0</text>
<line x1="22.70" y1="377.40" x2="25.20" y2="377.40" stroke="#333" stroke-width="0.9"/>
<text x="22.30" y="380.90" font-size="9.70" text-anchor="end">-2</text>
<line x1="22.70" y1="396.60" x2="25.20" y2="396.60" stroke="#333" stroke-width="0.9"/>
<text x="22.30" y="400.10" font-size="9.70" text-anchor="end">-4</text>
<line x1="57.50" y1="400.20" x2="57.50" y2="402.60" stroke="#333" stroke-width="0.9"/>
<line x1="91.50" y1="400.20" x2="91.50" y2="402.60" stroke="#333" stroke-width="0.9"/>
<line x1="127.00" y1="400.20" x2="127.00" y2="402.60" stroke="#333" stroke-width="0.9"/>
<text x="53.60" y="411.3" font-size="9.4">10<tspan dy="-3.5" font-size="5.5">1</tspan></text>
<text x="86.80" y="411.3" font-size="9.4">10<tspan dy="-3.5" font-size="5.5">3</tspan></text>
<text x="121.30" y="411.3" font-size="9.4">10<tspan dy="-3.5" font-size="5.5">5</tspan></text>
<text x="71.20" y="418.60" font-size="9.12">BaseMean</text>
<text x="13.40" y="354.00" font-size="9.25" text-anchor="middle" transform="rotate(-90 13.40 354.00)">Log2FoldChange</text>
<path d="M29.0,342.0 L42.5,319.0 M29.0,374.0 L42.5,397.0 M33.2,341.6 L46.7,321.1 M33.2,374.4 L46.7,394.9 M37.4,341.2 L50.9,323.2 M37.4,374.8 L50.9,392.8 M41.6,340.7 L55.1,325.3 M41.6,375.3 L55.1,390.7 " stroke="#c4c4c4" stroke-width="1.3" stroke-dasharray="4 1.2" fill="none"/>
<path d="M38.5,358 L39.5,349 L41,343 L43,338 L46,334.5 L49,332.5 L52,331.5 L55,332 L57,334 L59,338 L61,342 L65,345.5 L70,347.5 L80,349 L100,350 L130,351 L138,352.3 L143,355.5 L146,358 L146,358.5 L143,361.0 L138,364.2 L130,365.5 L100,366.5 L80,367.5 L70,369.0 L65,371.0 L61,374.5 L59,378.5 L57,382.5 L55,384.5 L52,385.0 L49,384.0 L46,382.0 L43,378.5 L41,373.5 L39.5,367.5 L38.5,358.5Z" fill="#c2c2c2"/>
<path d="M51.9 370.6h0M56.1 377.4h0M54.8 377.6h0M37.7 357.1h0M59.6 363.5h0M58.6 343.0h0M48.3 345.7h0M50.1 361.9h0M37.3 350.5h0M43.7 374.4h0M55.4 342.6h0M56.1 342.2h0M51.8 338.5h0M37.0 367.7h0M42.0 347.7h0M60.6 371.0h0M43.9 376.4h0M49.9 367.2h0M41.9 373.8h0M53.6 380.8h0M58.4 350.1h0M45.7 343.5h0M40.5 343.7h0M44.2 362.2h0M37.1 362.7h0M45.1 350.0h0M56.6 357.2h0M44.6 357.2h0M53.9 336.7h0M60.4 341.2h0M55.0 373.9h0M37.4 365.7h0M45.8 361.4h0M37.2 346.0h0M41.3 373.8h0M41.7 367.1h0M59.3 374.5h0M45.3 351.8h0M49.6 372.1h0M39.6 365.7h0M56.1 373.7h0M37.9 370.4h0M39.2 353.2h0M51.7 380.0h0M45.2 376.0h0M50.1 348.2h0M44.6 344.7h0M38.9 347.6h0M53.5 382.3h0M40.9 342.8h0M60.7 359.2h0M46.7 346.1h0M51.3 375.5h0M47.9 354.3h0M38.3 369.9h0M37.8 357.8h0M57.1 342.6h0M54.6 379.1h0M52.1 372.9h0M39.6 356.0h0M40.6 369.4h0M44.1 356.1h0M61.0 370.0h0M60.4 356.4h0M48.7 369.3h0M48.5 347.8h0M46.7 342.0h0M46.0 379.5h0M60.0 362.6h0M49.0 349.9h0M39.1 351.1h0M55.8 374.3h0M45.7 370.4h0M55.6 366.7h0M52.9 371.0h0M45.7 366.9h0M43.7 357.4h0M55.5 366.6h0M44.1 375.9h0M52.6 362.1h0M37.3 359.2h0M43.0 364.5h0M48.1 373.3h0M52.5 373.2h0M45.3 364.2h0M54.7 373.3h0M45.4 372.7h0M57.9 365.6h0M60.4 374.0h0M49.4 359.5h0M41.0 369.4h0M59.5 357.2h0M53.6 368.7h0M54.5 342.6h0M55.7 361.6h0M53.0 354.0h0M52.0 372.3h0M52.3 369.3h0M37.7 348.7h0M47.6 365.1h0M42.3 364.8h0M52.1 334.3h0M48.3 344.7h0M38.3 347.5h0M44.6 344.9h0M41.6 341.6h0M48.2 352.2h0M51.7 362.7h0M42.7 373.1h0M37.0 355.5h0M43.7 354.5h0M39.8 368.4h0M46.0 337.6h0M51.7 336.7h0M50.1 349.6h0M50.9 382.7h0M56.6 354.5h0M56.5 364.1h0M45.9 342.3h0M51.3 361.4h0M60.0 374.9h0M51.6 350.1h0M58.4 338.5h0M39.6 360.1h0M51.8 339.1h0M52.1 378.3h0M46.0 355.0h0M42.4 350.3h0M60.3 353.8h0M60.1 372.8h0M51.3 345.2h0M60.5 357.9h0M47.0 349.7h0M60.6 357.7h0M43.9 357.1h0M39.9 361.9h0M47.6 348.2h0M55.8 372.5h0M37.3 358.9h0M43.6 375.0h0M55.8 346.7h0M43.4 344.6h0M60.7 350.9h0M51.6 356.7h0M52.5 363.3h0M54.8 340.3h0M55.2 348.9h0M49.8 349.5h0M44.1 359.2h0M48.1 351.3h0M54.9 362.2h0M37.9 351.1h0M47.9 377.9h0M58.3 359.8h0M37.3 365.4h0M47.3 361.5h0M54.0 364.3h0M48.6 378.2h0M46.3 353.2h0M57.4 345.5h0M44.1 371.3h0M38.6 367.8h0M53.7 354.7h0M43.9 369.2h0M58.9 344.3h0M48.5 360.4h0M48.9 349.6h0M40.7 360.9h0M56.5 339.4h0M42.5 369.8h0M56.0 365.2h0M37.6 364.1h0M60.5 375.5h0M53.8 336.2h0M57.2 346.3h0M52.5 381.1h0M54.1 340.5h0M44.0 374.7h0M40.6 361.7h0M46.9 342.5h0M51.9 334.2h0M39.6 354.2h0M38.7 345.0h0M50.8 371.0h0M58.1 343.4h0M47.4 349.3h0M51.4 357.4h0M59.5 353.4h0M38.3 363.7h0M40.6 362.4h0M49.1 378.6h0M50.3 364.4h0M43.3 360.0h0M43.1 367.6h0M49.4 339.4h0M42.6 353.2h0M54.7 343.0h0M54.1 365.4h0M39.0 363.1h0M39.2 346.6h0M51.3 344.0h0M58.0 357.2h0M44.8 370.3h0M37.7 364.2h0M38.3 348.0h0M59.8 364.6h0M42.4 343.9h0M60.3 363.8h0M56.7 342.6h0M52.0 350.4h0M42.6 351.8h0M51.7 350.0h0M46.3 341.8h0M56.9 364.2h0M56.3 355.1h0M57.4 358.7h0M51.2 361.9h0M54.8 353.1h0M39.3 343.7h0M41.9 341.6h0M58.3 357.3h0M55.2 335.3h0M48.3 376.9h0M51.9 354.3h0M48.2 338.6h0M40.7 346.6h0M46.0 353.0h0M58.1 344.2h0M43.1 349.5h0M40.9 350.8h0M42.6 357.3h0M37.8 369.7h0M45.9 377.1h0M53.5 366.5h0M48.3 379.7h0M39.8 363.3h0M44.0 365.0h0M54.5 342.2h0M41.8 341.1h0M42.5 342.4h0M46.6 379.4h0M45.7 349.8h0M48.2 347.5h0M54.6 368.2h0M40.9 349.2h0M53.1 379.9h0M52.5 354.5h0M60.4 340.6h0M38.5 366.1h0M46.8 337.2h0M50.2 383.6h0M49.5 350.4h0M39.3 344.9h0M58.6 357.7h0M59.5 341.5h0M42.8 341.1h0M46.5 338.2h0M43.1 354.5h0M44.3 339.7h0M37.9 371.1h0M41.3 358.3h0M46.7 359.4h0M39.0 352.4h0M39.6 359.3h0M59.1 361.7h0M57.6 346.3h0M37.4 359.1h0M48.7 361.5h0M46.0 363.5h0M54.4 377.5h0M44.4 355.9h0M56.8 346.3h0M39.8 352.1h0M39.1 366.2h0M56.7 350.0h0M40.1 344.5h0M42.9 342.3h0M47.3 361.6h0M42.9 341.4h0M53.8 336.1h0M41.8 350.4h0M46.0 340.4h0M47.1 349.4h0M55.1 360.6h0M58.5 364.0h0M55.2 361.4h0M47.6 373.0h0M52.7 381.0h0M54.5 367.5h0M43.4 370.1h0M46.2 341.6h0M38.6 348.4h0M43.3 364.8h0M43.9 340.7h0M55.3 360.6h0M37.7 345.7h0M40.1 353.4h0M57.6 376.3h0M51.7 343.8h0M47.3 351.6h0M141.3 361.3h0M146.3 358.3h0M145.3 360.5h0M139.7 359.7h0M145.1 352.4h0M145.9 360.0h0M139.2 355.7h0M142.6 363.1h0M142.3 354.0h0M147.4 359.5h0M143.3 361.3h0M139.0 357.4h0M146.1 357.3h0M147.8 358.4h0M138.3 355.5h0M146.8 356.7h0M141.9 358.4h0M140.0 360.0h0M143.6 355.4h0M140.4 361.3h0M141.5 358.1h0M146.4 365.1h0M146.5 356.1h0M139.4 356.3h0M146.3 357.3h0M139.7 358.0h0M139.0 356.9h0M140.0 352.7h0M146.0 356.3h0M146.6 361.4h0M144.2 358.8h0M138.1 355.7h0M143.1 356.6h0M141.9 357.2h0M141.2 360.1h0M141.8 358.4h0M142.8 357.3h0M147.8 355.6h0M146.2 361.4h0M144.7 356.2h0M143.4 358.7h0M143.9 355.7h0M144.8 356.0h0M138.8 357.7h0M138.9 356.0h0M145.6 360.6h0M145.1 356.0h0M140.7 363.4h0M145.2 361.8h0M144.7 359.8h0" stroke="#c2c2c2" stroke-width="1.20" stroke-linecap="round" fill="none"/>
<path d="M59.1 377.1h0M53.8 374.2h0M54.8 363.3h0M44.2 358.8h0M57.9 345.5h0M59.5 360.1h0M47.9 334.1h0M47.8 342.6h0M53.1 377.2h0M58.2 363.4h0M47.7 339.2h0M53.8 360.6h0M54.3 352.0h0M57.7 344.2h0M46.1 346.8h0M52.4 377.1h0M43.3 364.4h0M55.3 344.8h0M41.3 361.2h0M56.6 376.2h0M54.6 354.0h0M48.5 359.4h0M58.1 348.5h0M45.6 363.1h0M59.3 343.0h0M40.6 339.5h0M51.3 363.0h0M43.7 343.1h0M51.9 365.0h0M53.8 369.0h0M41.2 357.3h0M56.7 379.9h0M46.4 374.8h0M52.9 378.5h0M44.6 367.4h0M56.8 356.9h0M42.0 343.3h0M43.1 338.5h0M43.0 363.6h0M42.1 370.4h0M54.7 373.2h0M56.1 368.2h0M58.5 379.9h0M52.5 380.3h0M42.1 338.9h0M41.3 343.9h0M47.5 356.0h0M53.6 369.7h0M41.7 353.4h0M50.9 352.0h0M42.4 362.7h0M47.5 366.8h0M49.9 380.2h0M58.9 337.5h0M55.2 368.6h0M45.9 339.6h0M49.6 351.0h0M54.7 378.1h0M47.6 347.9h0M50.0 367.4h0M55.8 361.6h0M45.9 350.2h0M57.0 358.9h0M41.0 354.2h0M44.8 366.0h0M41.5 347.0h0M41.9 356.9h0M59.7 360.0h0M47.7 378.8h0M41.8 351.1h0M56.2 334.2h0M55.3 351.3h0M40.3 346.0h0M49.2 352.4h0M50.3 336.6h0M44.4 380.8h0M48.9 356.7h0M41.7 347.4h0M59.1 367.0h0M50.2 336.5h0M47.9 371.4h0M48.7 362.5h0M58.0 365.0h0M52.7 335.7h0M40.5 370.9h0M48.3 376.0h0M56.5 377.9h0M47.6 382.0h0M55.1 376.8h0M43.0 371.5h0M48.4 380.7h0M59.9 344.4h0M48.4 347.0h0M49.4 347.8h0M53.3 339.9h0M43.4 356.0h0M41.5 352.3h0M57.9 376.5h0M43.9 334.9h0M56.6 380.1h0M52.0 340.5h0M44.7 378.2h0M58.8 335.5h0M43.7 354.6h0M45.3 370.2h0M47.5 371.2h0M43.0 358.9h0M59.5 367.7h0M41.8 339.3h0M52.9 352.0h0M47.4 356.9h0M51.6 380.4h0M44.8 361.3h0M45.3 360.2h0M54.6 340.4h0M49.6 367.9h0M40.2 371.0h0M48.4 358.2h0M52.2 372.1h0M41.1 358.0h0" stroke="#e6e6e6" stroke-width="0.90" stroke-linecap="round" fill="none"/>
<path d="M56.5,352.3 L56.5,345.5 L60,347.0 L63,348.2 L68,349.2 L72,349.6 L85,349.4 L100,349.8 L115,350.6 L125,351.2 L132,351.9 L133.5,352.3 Z" fill="#e8271b"/>
<path d="M56.5,363.5 L56.5,369.0 L59,370.0 L63,368.8 L67.5,367.6 L75,366.8 L85,366.4 L102.5,366.4 L115,365.6 L122,364.9 L127,364.0 L128,363.5 Z" fill="#1d4aa3"/>
<path d="M57.8 344.9h0M77.0 350.0h0M73.5 348.0h0M102.2 344.6h0M78.9 347.4h0M107.3 344.4h0M129.2 342.0h0M73.8 349.5h0M127.5 351.9h0M85.0 345.2h0M91.4 349.0h0M126.8 351.2h0M93.4 346.2h0M63.0 347.2h0M88.6 347.1h0M67.3 347.5h0M58.8 346.8h0M76.8 349.6h0M130.9 351.7h0M72.0 344.7h0M109.8 350.2h0M117.8 349.1h0M80.3 346.5h0M69.9 348.9h0M122.2 350.3h0M124.2 351.3h0M63.0 348.6h0M109.7 349.0h0M56.7 346.0h0M117.3 349.8h0M121.7 351.5h0M96.5 350.0h0M108.0 348.7h0M98.5 349.8h0M129.1 351.9h0M59.0 343.0h0M60.5 347.5h0M85.9 346.3h0M123.7 348.8h0M59.3 343.6h0M119.2 351.2h0M111.0 350.3h0M73.6 350.2h0M111.3 349.3h0M124.6 350.3h0M64.1 348.1h0M71.1 339.6h0M67.2 349.3h0M77.6 349.8h0M83.1 346.5h0M101.8 350.1h0M63.1 346.4h0M105.0 349.3h0M95.2 344.7h0M63.4 347.8h0M88.6 347.3h0M124.5 349.9h0M102.8 349.3h0M113.7 347.0h0M73.2 349.8h0M70.8 348.5h0M123.5 351.0h0M99.9 348.0h0M129.8 352.0h0M112.4 350.1h0M61.0 344.4h0M119.2 349.4h0M58.3 334.0h0M79.9 346.4h0M108.3 350.1h0M81.8 348.6h0M60.6 347.6h0M107.6 349.6h0M121.6 351.4h0M73.8 349.5h0M128.6 348.6h0M124.1 350.1h0M61.1 346.1h0M68.6 349.8h0M94.5 349.5h0M61.3 345.5h0M127.6 345.3h0M86.3 349.6h0M112.3 350.8h0M92.2 350.0h0M132.8 350.7h0M84.1 348.9h0M93.3 341.9h0M83.3 349.2h0M90.3 344.4h0M79.8 346.5h0M126.2 351.0h0M116.1 349.5h0M63.1 348.6h0M128.1 350.7h0M84.5 341.0h0M95.2 348.7h0M72.6 345.3h0M70.6 347.8h0M111.4 348.9h0M62.8 347.9h0M105.7 347.7h0M61.0 326.4h0M62.7 348.0h0M60.3 345.6h0M99.1 345.9h0M64.5 344.8h0M61.1 344.9h0M70.3 348.4h0M58.4 342.3h0M62.1 343.2h0M76.4 346.9h0M100.8 348.9h0M122.0 345.8h0M72.4 348.7h0M122.3 351.3h0M82.7 348.1h0M131.7 352.2h0M102.2 347.3h0M108.6 350.9h0M128.6 351.3h0M120.0 349.0h0M82.8 343.5h0M104.0 349.7h0M109.0 349.3h0M107.1 348.6h0M114.8 350.8h0M88.6 350.1h0M114.3 347.8h0M118.6 351.3h0M92.0 348.7h0M61.9 347.6h0M131.5 348.0h0M69.4 343.6h0M101.8 349.4h0M101.3 349.9h0M71.8 350.1h0M102.3 348.5h0M110.0 349.3h0M83.9 348.7h0M109.3 349.8h0M97.1 347.1h0M84.6 345.8h0M58.9 346.0h0M118.9 351.1h0M58.7 347.0h0M112.0 350.8h0M85.7 347.9h0M115.4 349.7h0M90.9 350.1h0M114.7 347.8h0M99.4 346.2h0M98.6 347.5h0M119.8 349.3h0M57.1 338.6h0M133.0 352.0h0M59.1 345.7h0M60.9 346.3h0M60.3 346.8h0M56.6 344.1h0M73.7 345.5h0M80.3 349.4h0M129.5 347.1h0M105.2 350.1h0M81.4 347.9h0M81.8 350.0h0M85.5 344.8h0M105.5 346.2h0M104.6 347.3h0M121.7 345.9h0M114.5 349.9h0M102.6 348.1h0M122.8 348.8h0M84.5 349.2h0M75.7 349.1h0M104.5 347.3h0M66.4 346.7h0M118.8 350.4h0M60.6 344.5h0M78.3 349.5h0M72.9 350.2h0M63.7 346.9h0M61.1 348.0h0M93.2 342.9h0M118.3 350.5h0M126.8 351.8h0M63.8 348.9h0M58.7 343.7h0M111.2 349.5h0M115.4 349.8h0M126.2 349.8h0M92.1 349.8h0M83.2 347.9h0M117.2 350.7h0M73.3 344.1h0M59.3 344.5h0M68.2 345.9h0M96.9 350.1h0M108.8 349.7h0M75.2 343.2h0M113.2 350.3h0M104.2 350.3h0M90.6 350.0h0M100.9 344.8h0M100.5 350.3h0M90.2 348.7h0M84.5 349.4h0M72.2 348.0h0M59.3 343.3h0M69.8 348.7h0M60.4 346.4h0M127.4 351.2h0M60.6 346.3h0M128.7 352.0h0M76.8 349.3h0M104.5 349.2h0M60.8 340.8h0M75.7 346.0h0M85.3 342.6h0M58.7 346.1h0M72.7 349.1h0M117.2 349.7h0M77.1 347.6h0M119.4 349.5h0M85.2 346.2h0M98.7 349.2h0M83.2 349.5h0M84.2 342.4h0M74.1 348.5h0M97.7 348.3h0M65.3 347.1h0M109.1 350.8h0M61.3 343.1h0M124.9 351.6h0M59.9 344.0h0M72.6 346.3h0M57.6 344.4h0M64.4 347.6h0M105.6 349.1h0M120.1 347.3h0M99.1 346.1h0M65.4 347.0h0M75.1 346.6h0M61.5 340.4h0M78.9 344.6h0M128.5 345.7h0M80.4 343.1h0M133.7 352.3h0M110.4 348.0h0M85.7 348.8h0M65.2 347.3h0M127.5 350.9h0M70.6 346.6h0M84.1 346.6h0M85.4 348.8h0M57.7 340.5h0M102.5 349.9h0M89.0 347.0h0M89.4 341.8h0M113.2 350.3h0M76.5 346.7h0M64.5 339.3h0M58.1 344.3h0M71.8 347.5h0M58.1 345.9h0M132.9 349.0h0M68.2 347.6h0M57.6 346.1h0M66.3 334.5h0M74.6 349.1h0M59.1 346.8h0M133.5 349.5h0M126.4 347.8h0M113.6 350.4h0M64.9 348.0h0M59.1 346.5h0M107.9 349.3h0M56.8 344.9h0M119.7 347.1h0M108.7 347.8h0M125.5 350.0h0M79.9 347.0h0M72.5 350.1h0M70.9 347.9h0M62.0 348.1h0M70.0 348.3h0M129.9 350.8h0M118.5 348.3h0M96.8 349.4h0M80.6 348.7h0M100.4 346.0h0M114.3 350.4h0M63.7 348.9h0M96.1 349.7h0M56.6 344.9h0M68.7 349.0h0M103.0 348.5h0M72.4 345.5h0M67.3 340.5h0M61.9 345.1h0M106.6 347.7h0M88.0 342.7h0M99.9 347.7h0M59.7 346.7h0M86.3 347.2h0M60.6 343.0h0M77.1 347.8h0M90.9 346.0h0M73.9 347.2h0M97.9 347.9h0M74.6 349.0h0M86.7 346.7h0M101.3 350.1h0M84.8 347.0h0M66.5 349.1h0M127.2 352.0h0M89.0 348.8h0M57.5 345.4h0M64.4 347.2h0M125.4 351.6h0M77.5 345.8h0M99.6 350.3h0M68.8 348.7h0M124.0 350.4h0M70.7 347.7h0M87.9 349.5h0M103.2 347.6h0M87.2 347.3h0M112.4 343.9h0M98.5 350.3h0M89.5 346.2h0M76.0 346.0h0M78.7 346.6h0M98.6 347.8h0M126.8 349.2h0M107.0 348.0h0M68.9 346.5h0M99.2 350.2h0M111.0 350.4h0M88.4 347.4h0M108.1 347.5h0M86.5 339.9h0M84.5 347.0h0M133.2 351.7h0M107.4 343.6h0M60.0 342.2h0M101.9 348.7h0M114.2 346.6h0M63.5 346.5h0M98.7 347.6h0M130.0 348.6h0M117.8 351.2h0M83.2 341.2h0M128.8 348.9h0M76.2 344.8h0M91.7 347.6h0M100.6 345.8h0M107.4 342.7h0M88.6 347.6h0M102.4 348.6h0M58.3 335.3h0M75.1 347.7h0M58.0 346.0h0M127.2 351.3h0M73.6 344.2h0M69.6 346.0h0M94.7 345.0h0M87.2 348.6h0M70.8 348.5h0M56.5 345.6h0M63.7 347.6h0M112.3 344.5h0M77.7 349.1h0M73.2 346.6h0M87.4 349.6h0M91.0 349.4h0M63.4 343.3h0M61.1 346.0h0M112.0 349.2h0M122.0 350.7h0M128.8 352.1h0M124.0 350.5h0M56.6 345.0h0M132.9 349.6h0M109.4 347.1h0M56.6 344.8h0M86.3 341.4h0M125.2 351.4h0M132.8 350.7h0M74.0 349.9h0M83.2 347.4h0M85.3 348.7h0M129.0 350.7h0M74.3 344.8h0M69.8 348.0h0M61.1 347.1h0M133.7 350.4h0M91.0 347.6h0M103.7 348.9h0M78.6 349.5h0M57.4 346.0h0M81.6 350.0h0M103.9 349.7h0M69.1 348.6h0M88.5 349.2h0M120.0 350.0h0M59.2 346.9h0M123.5 349.7h0M73.1 345.7h0M58.2 338.9h0M127.9 349.6h0M58.4 344.9h0M118.5 349.3h0M67.5 348.7h0M59.0 344.5h0M65.7 347.2h0M124.0 346.4h0M88.4 344.6h0M62.8 338.1h0M121.2 350.1h0" stroke="#e8271b" stroke-width="1.30" stroke-linecap="square" fill="none"/>
<path d="M119.7 365.3h0M128.2 364.2h0M123.1 368.3h0M124.0 366.9h0M59.3 370.5h0M99.9 371.3h0M102.0 365.9h0M76.1 367.7h0M64.6 368.7h0M88.7 367.5h0M70.6 368.6h0M125.2 365.8h0M108.0 371.7h0M57.5 376.4h0M60.4 369.8h0M106.9 368.7h0M96.5 367.3h0M105.4 366.9h0M66.0 368.3h0M61.3 368.8h0M125.6 370.5h0M76.2 368.1h0M71.4 372.1h0M86.8 366.5h0M119.5 370.6h0M58.1 371.2h0M67.6 370.7h0M76.9 367.4h0M73.0 369.8h0M87.6 368.2h0M101.9 367.3h0M125.1 365.1h0M111.4 371.4h0M97.1 367.8h0M111.2 368.1h0M65.9 369.4h0M63.8 368.1h0M102.5 366.7h0M69.8 366.8h0M57.1 372.7h0M76.8 368.2h0M101.5 371.3h0M103.6 366.3h0M129.0 363.7h0M93.8 368.2h0M72.0 374.4h0M96.1 368.6h0M62.7 374.7h0M72.0 370.0h0M106.7 366.4h0M70.5 368.1h0M128.0 365.8h0M85.2 368.8h0M99.9 366.5h0M59.4 369.7h0M93.9 367.9h0M128.0 365.6h0M116.8 374.8h0M87.1 367.8h0M85.2 367.5h0M108.7 367.4h0M61.8 379.7h0M89.5 370.8h0M91.1 367.8h0M93.4 366.1h0M62.3 373.1h0M76.3 366.6h0M113.5 368.3h0M109.0 366.5h0M62.3 373.5h0M67.3 371.0h0M103.3 366.5h0M56.5 371.6h0M111.3 367.3h0M128.6 363.9h0M106.2 366.9h0M93.7 366.6h0M68.2 369.8h0M95.9 371.3h0M95.6 367.4h0M99.5 368.1h0M80.5 367.1h0M102.1 366.9h0M57.7 369.6h0M76.9 370.3h0M99.9 367.3h0M113.5 366.0h0M76.4 371.2h0M101.8 367.1h0M120.0 364.6h0M90.2 370.3h0M119.1 365.1h0M112.7 366.9h0M124.1 364.8h0M100.6 368.2h0M129.1 364.2h0M79.1 366.5h0M102.2 366.0h0M116.4 365.2h0M65.8 378.2h0M87.3 370.9h0M76.0 367.2h0M77.6 380.7h0M65.8 375.9h0M119.4 367.2h0M70.5 371.4h0M121.4 366.4h0M67.6 370.4h0M126.0 365.6h0M63.3 368.9h0M97.8 365.9h0M56.5 370.1h0M70.0 369.2h0M59.3 372.3h0M101.5 366.7h0M93.8 367.5h0M111.2 367.2h0M98.4 367.7h0M114.1 365.3h0M61.4 375.9h0M115.1 365.0h0M120.4 366.6h0M117.0 367.6h0M78.2 366.5h0M109.1 368.2h0M85.1 366.9h0M77.3 376.0h0M84.6 366.7h0M128.7 372.1h0M64.9 368.5h0M106.1 366.7h0M85.4 369.9h0M71.0 369.9h0M66.6 368.1h0M91.0 367.1h0M120.4 364.8h0M122.4 364.9h0M75.8 366.6h0M73.9 380.5h0M77.1 372.6h0M127.8 366.1h0M65.4 369.6h0M64.4 368.9h0M75.2 366.8h0M101.9 367.5h0M72.2 367.6h0M62.9 368.7h0M82.7 366.2h0M89.2 366.9h0M109.7 366.1h0M117.0 371.5h0M123.6 364.6h0M123.5 365.5h0M119.6 366.0h0M90.6 366.5h0M108.4 366.5h0M119.5 367.4h0M82.0 366.0h0M70.7 368.6h0M77.7 369.2h0M56.6 370.7h0M120.3 371.5h0M102.6 368.5h0M95.5 382.4h0M111.3 366.7h0M87.1 375.9h0M91.5 367.9h0M73.3 370.3h0M86.5 376.1h0M130.0 376.0h0M125.5 363.8h0M59.3 370.8h0M114.4 366.9h0M69.9 367.1h0M69.5 367.3h0M63.0 373.1h0M65.9 368.1h0M96.9 366.1h0M115.0 367.4h0M118.9 367.6h0M106.2 366.3h0M81.6 367.7h0M79.3 374.8h0M82.5 371.7h0M97.8 366.0h0M67.0 370.2h0M111.2 365.9h0M69.5 368.5h0M84.3 367.8h0M123.2 366.2h0M71.3 368.1h0M88.0 366.4h0M79.3 366.3h0M99.9 370.4h0M120.8 366.5h0M78.8 369.0h0M91.8 366.2h0M90.6 367.4h0M66.2 369.5h0M115.3 367.3h0M74.8 367.2h0M97.8 367.7h0M72.7 368.7h0M80.4 369.5h0M119.0 365.7h0M90.4 367.7h0M100.8 366.4h0M69.3 376.0h0M63.1 372.3h0M70.2 369.1h0M83.7 366.8h0M64.9 379.1h0M57.8 369.5h0M106.8 366.6h0M66.0 372.8h0M128.3 363.9h0M104.1 366.9h0M129.8 365.3h0M120.5 367.0h0M62.3 370.5h0M104.0 366.1h0M60.0 386.0h0M123.1 366.5h0M58.8 373.7h0M129.0 366.8h0M104.9 367.0h0M97.9 371.8h0M87.4 366.1h0M63.1 379.1h0M104.4 372.0h0M63.2 368.5h0M102.1 367.1h0M84.6 366.8h0M108.9 368.9h0M105.7 366.9h0M86.7 367.6h0M84.8 367.2h0M85.0 377.6h0M112.2 365.5h0M101.1 369.7h0M75.9 374.1h0M124.6 364.0h0M97.4 366.9h0M84.8 368.7h0M117.3 367.1h0M119.9 365.2h0M111.8 366.3h0M65.3 373.4h0M93.5 366.4h0M120.3 366.0h0M101.4 375.5h0M74.7 369.1h0M91.0 366.6h0M90.1 373.6h0M103.3 366.5h0M102.2 368.0h0M77.6 370.1h0M78.1 371.5h0M79.0 372.3h0M72.6 367.1h0M74.8 366.7h0M118.7 377.1h0M81.1 366.9h0M119.3 369.0h0M69.1 368.1h0M87.2 366.3h0M67.0 369.0h0M61.7 369.2h0M95.7 366.6h0M122.3 371.7h0M101.1 366.5h0M108.6 366.4h0M118.3 365.9h0M102.9 369.0h0M103.8 368.9h0M75.7 366.8h0M77.6 377.6h0M57.7 370.1h0M73.5 368.5h0M118.3 365.1h0M60.9 368.9h0M75.6 370.8h0M83.8 369.6h0M88.4 367.4h0M80.4 366.1h0M125.6 366.7h0M60.5 369.8h0M110.7 366.9h0M107.7 368.7h0M63.1 374.4h0M66.4 367.8h0M107.6 369.4h0M73.0 368.2h0M106.5 366.3h0M83.2 383.4h0M62.2 378.8h0M119.8 377.7h0M69.2 367.6h0M82.7 366.6h0M123.1 366.0h0M115.8 366.5h0M87.3 377.0h0M62.0 369.4h0M117.1 366.8h0M110.6 377.5h0M109.7 367.5h0M107.9 367.2h0M67.5 368.4h0M123.2 365.8h0M57.5 372.5h0M129.4 365.5h0M86.8 368.0h0M97.8 368.0h0M86.5 374.2h0M119.8 368.0h0M105.7 368.5h0M66.2 369.8h0M70.6 367.5h0M125.4 364.3h0M113.4 369.2h0M80.2 366.1h0M65.0 371.4h0M104.3 366.7h0M95.3 366.2h0M100.0 369.3h0M110.6 367.2h0M93.2 365.8h0M70.6 368.6h0M59.3 369.6h0M126.1 366.2h0M92.3 368.5h0M118.2 367.0h0M81.9 367.7h0M127.3 370.5h0M63.5 374.2h0M98.8 366.8h0M103.1 366.5h0M107.4 367.4h0M94.1 365.9h0M121.2 371.6h0M108.7 366.2h0M105.5 365.9h0M91.0 366.8h0M85.2 367.0h0M59.2 371.4h0M68.7 367.6h0M75.0 366.7h0M57.1 381.8h0M58.5 377.2h0M81.3 366.4h0M82.0 368.5h0M58.5 372.0h0M56.7 369.7h0M104.5 370.0h0M65.0 369.5h0M125.2 364.6h0M61.6 369.6h0M117.9 365.7h0M100.7 372.2h0M97.1 366.3h0M85.9 367.2h0M85.8 369.2h0M127.8 366.0h0M88.1 371.8h0M88.0 366.6h0M101.1 366.5h0M67.1 368.9h0M86.2 365.9h0M77.0 377.8h0M88.2 367.5h0M84.1 370.2h0M87.6 367.7h0M93.7 366.5h0M102.1 367.1h0M104.0 366.7h0M98.4 366.3h0M86.3 368.2h0M56.9 369.0h0M84.4 371.0h0M113.1 369.4h0M112.6 373.0h0M66.1 368.0h0M62.7 373.9h0M65.7 368.9h0M62.7 376.9h0M66.9 368.1h0M94.9 368.6h0M57.8 372.0h0M89.7 368.7h0M88.6 371.6h0M114.1 369.6h0M74.9 366.4h0M85.2 365.9h0M98.3 367.3h0M107.5 369.6h0M106.3 368.3h0M75.1 370.9h0M98.5 366.4h0M118.2 366.2h0M89.8 366.6h0" stroke="#1d4aa3" stroke-width="1.30" stroke-linecap="square" fill="none"/>
<line x1="25.20" y1="352.50" x2="148.70" y2="352.50" stroke="#222" stroke-width="0.9" stroke-dasharray="2.8 1.8"/>
<line x1="25.20" y1="363.40" x2="148.70" y2="363.40" stroke="#222" stroke-width="0.9" stroke-dasharray="2.8 1.8"/>
<text x="69.50" y="329.60" font-size="7.77" fill="#e8271b" style="stroke:#e8271b">PIGR (IgA): 421 genes</text>
<text x="69.50" y="397.60" font-size="7.80" fill="#2150a8" style="stroke:#2150a8">EV (IgA): 480 genes</text>
<text x="165.80" y="316.20" font-size="11.50" font-weight="bold">K</text>
<text x="296.00" y="315.40" font-size="9.57">GO: Biological Process</text>
<line x1="374.30" y1="319.60" x2="374.30" y2="409.10" stroke="#000" stroke-width="0.9"/>
<rect x="374.30" y="322.70" width="28.20" height="6.20" fill="#e2321e" stroke="#1a1a1a" stroke-width="0.7"/>
<line x1="371.80" y1="325.80" x2="374.30" y2="325.80" stroke="#000" stroke-width="0.9"/>
<rect x="374.30" y="333.60" width="28.20" height="6.20" fill="#e2321e" stroke="#1a1a1a" stroke-width="0.7"/>
<line x1="371.80" y1="336.70" x2="374.30" y2="336.70" stroke="#000" stroke-width="0.9"/>
<rect x="374.30" y="344.50" width="34.70" height="6.20" fill="#e2321e" stroke="#1a1a1a" stroke-width="0.7"/>
<line x1="371.80" y1="347.60" x2="374.30" y2="347.60" stroke="#000" stroke-width="0.9"/>
<rect x="374.30" y="355.40" width="35.00" height="6.20" fill="#e2321e" stroke="#1a1a1a" stroke-width="0.7"/>
<line x1="371.80" y1="358.50" x2="374.30" y2="358.50" stroke="#000" stroke-width="0.9"/>
<rect x="374.30" y="366.30" width="38.00" height="6.20" fill="#e2321e" stroke="#1a1a1a" stroke-width="0.7"/>
<line x1="371.80" y1="369.40" x2="374.30" y2="369.40" stroke="#000" stroke-width="0.9"/>
<rect x="374.30" y="377.20" width="51.10" height="6.20" fill="#e2321e" stroke="#1a1a1a" stroke-width="0.7"/>
<line x1="371.80" y1="380.30" x2="374.30" y2="380.30" stroke="#000" stroke-width="0.9"/>
<rect x="374.30" y="388.10" width="54.20" height="6.20" fill="#e2321e" stroke="#1a1a1a" stroke-width="0.7"/>
<line x1="371.80" y1="391.20" x2="374.30" y2="391.20" stroke="#000" stroke-width="0.9"/>
<rect x="374.30" y="399.00" width="54.80" height="6.20" fill="#e2321e" stroke="#1a1a1a" stroke-width="0.7"/>
<line x1="371.80" y1="402.10" x2="374.30" y2="402.10" stroke="#000" stroke-width="0.9"/>
<text x="369.50" y="329.26" font-size="9.60" text-anchor="end">Negative regulation of cell population proliferation</text>
<text x="369.50" y="340.16" font-size="9.60" text-anchor="end">Response to wounding</text>
<text x="369.50" y="351.06" font-size="9.60" text-anchor="end">Blood vessel development</text>
<text x="369.50" y="361.96" font-size="9.60" text-anchor="end">Positive regulation of response to external stimulus</text>
<text x="369.50" y="372.86" font-size="9.60" text-anchor="end">Response to bacterium</text>
<text x="369.50" y="383.76" font-size="9.60" text-anchor="end">Extracellular matrix organization</text>
<text x="369.50" y="394.66" font-size="9.60" text-anchor="end">Positive regulation of cell migration</text>
<text x="369.50" y="405.56" font-size="9.60" text-anchor="end" fill="#e8341f" style="stroke:#e8341f">Positive regulation of programmed cell death</text>
<line x1="374.30" y1="409.10" x2="442.40" y2="409.10" stroke="#000" stroke-width="0.9"/>
<line x1="374.30" y1="409.10" x2="374.30" y2="411.60" stroke="#000" stroke-width="0.9"/>
<text x="374.30" y="420.30" font-size="9.60" text-anchor="middle">0</text>
<line x1="397.00" y1="409.10" x2="397.00" y2="411.60" stroke="#000" stroke-width="0.9"/>
<text x="397.00" y="420.30" font-size="9.60" text-anchor="middle">5</text>
<line x1="419.70" y1="409.10" x2="419.70" y2="411.60" stroke="#000" stroke-width="0.9"/>
<text x="419.70" y="420.30" font-size="9.60" text-anchor="middle">10</text>
<line x1="442.40" y1="409.10" x2="442.40" y2="411.60" stroke="#000" stroke-width="0.9"/>
<text x="442.40" y="420.30" font-size="9.60" text-anchor="middle">15</text>
<text x="381.50" y="429.60" font-size="9.31">-Log<tspan font-size="5.58" dy="2.33">10</tspan><tspan dy="-2.33">(P value)</tspan></text>
<text x="471.50" y="315.30" font-size="11.50" font-weight="bold">L</text>
<text x="556.30" y="311.30" font-size="9.62">GO: Biological Process</text>
<line x1="610.50" y1="317.60" x2="610.50" y2="404.60" stroke="#000" stroke-width="0.9"/>
<rect x="610.50" y="319.00" width="13.90" height="6.00" fill="#1f4e9f" stroke="#1a1a1a" stroke-width="0.7"/>
<line x1="608.00" y1="322.00" x2="610.50" y2="322.00" stroke="#000" stroke-width="0.9"/>
<rect x="610.50" y="329.90" width="14.90" height="6.00" fill="#1f4e9f" stroke="#1a1a1a" stroke-width="0.7"/>
<line x1="608.00" y1="332.90" x2="610.50" y2="332.90" stroke="#000" stroke-width="0.9"/>
<rect x="610.50" y="340.80" width="17.10" height="6.00" fill="#1f4e9f" stroke="#1a1a1a" stroke-width="0.7"/>
<line x1="608.00" y1="343.80" x2="610.50" y2="343.80" stroke="#000" stroke-width="0.9"/>
<rect x="610.50" y="351.70" width="20.20" height="6.00" fill="#1f4e9f" stroke="#1a1a1a" stroke-width="0.7"/>
<line x1="608.00" y1="354.70" x2="610.50" y2="354.70" stroke="#000" stroke-width="0.9"/>
<rect x="610.50" y="362.60" width="22.10" height="6.00" fill="#1f4e9f" stroke="#1a1a1a" stroke-width="0.7"/>
<line x1="608.00" y1="365.60" x2="610.50" y2="365.60" stroke="#000" stroke-width="0.9"/>
<rect x="610.50" y="373.50" width="44.10" height="6.00" fill="#1f4e9f" stroke="#1a1a1a" stroke-width="0.7"/>
<line x1="608.00" y1="376.50" x2="610.50" y2="376.50" stroke="#000" stroke-width="0.9"/>
<rect x="610.50" y="384.40" width="54.10" height="6.00" fill="#1f4e9f" stroke="#1a1a1a" stroke-width="0.7"/>
<line x1="608.00" y1="387.40" x2="610.50" y2="387.40" stroke="#000" stroke-width="0.9"/>
<rect x="610.50" y="395.30" width="57.20" height="6.00" fill="#1f4e9f" stroke="#1a1a1a" stroke-width="0.7"/>
<line x1="608.00" y1="398.30" x2="610.50" y2="398.30" stroke="#000" stroke-width="0.9"/>
<text x="605.70" y="325.46" font-size="9.60" text-anchor="end">Cell cycle phase transition</text>
<text x="605.70" y="336.36" font-size="9.60" text-anchor="end">Response to hypoxia</text>
<text x="605.70" y="347.26" font-size="9.60" text-anchor="end">Regulation of cell cycle G2/M phase transition</text>
<text x="605.70" y="358.16" font-size="9.60" text-anchor="end">DNA strand elongation</text>
<text x="605.70" y="369.06" font-size="9.60" text-anchor="end">Positive regulation of cell cycle</text>
<text x="605.70" y="379.96" font-size="9.60" text-anchor="end">Regulation of cell cycle process</text>
<text x="605.70" y="390.86" font-size="9.60" text-anchor="end">DNA replication</text>
<text x="605.70" y="401.76" font-size="9.60" text-anchor="end" fill="#2d5fbf" style="stroke:#2d5fbf">Mitotic cell cycle</text>
<line x1="610.50" y1="404.60" x2="679.60" y2="404.60" stroke="#000" stroke-width="0.9"/>
<line x1="610.90" y1="404.60" x2="610.90" y2="407.10" stroke="#000" stroke-width="0.9"/>
<text x="610.90" y="417.30" font-size="9.00" text-anchor="middle">0</text>
<line x1="624.70" y1="404.60" x2="624.70" y2="407.10" stroke="#000" stroke-width="0.9"/>
<text x="624.70" y="417.30" font-size="9.00" text-anchor="middle">10</text>
<line x1="638.50" y1="404.60" x2="638.50" y2="407.10" stroke="#000" stroke-width="0.9"/>
<text x="638.50" y="417.30" font-size="9.00" text-anchor="middle">20</text>
<line x1="652.20" y1="404.60" x2="652.20" y2="407.10" stroke="#000" stroke-width="0.9"/>
<text x="652.20" y="417.30" font-size="9.00" text-anchor="middle">30</text>
<line x1="665.90" y1="404.60" x2="665.90" y2="407.10" stroke="#000" stroke-width="0.9"/>
<text x="665.90" y="417.30" font-size="9.00" text-anchor="middle">40</text>
<line x1="679.60" y1="404.60" x2="679.60" y2="407.10" stroke="#000" stroke-width="0.9"/>
<text x="679.60" y="417.30" font-size="9.00" text-anchor="middle">50</text>
<text x="619.00" y="428.30" font-size="8.97">-Log<tspan font-size="5.38" dy="2.24">10</tspan><tspan dy="-2.24">(P value)</tspan></text>
<text x="9.20" y="456.30" font-size="11.50" font-weight="bold">M</text>
<text x="51.20" y="473.40" font-size="9.62">GSEA (Hallmarks) in PIRG (IgA)</text>
<line x1="121.80" y1="478.50" x2="121.80" y2="569.20" stroke="#000" stroke-width="0.9"/>
<rect x="121.80" y="482.40" width="13.20" height="6.20" fill="#e2321e" stroke="#1a1a1a" stroke-width="0.7"/>
<line x1="119.30" y1="485.50" x2="121.80" y2="485.50" stroke="#000" stroke-width="0.9"/>
<rect x="121.80" y="493.27" width="18.90" height="6.20" fill="#e2321e" stroke="#1a1a1a" stroke-width="0.7"/>
<line x1="119.30" y1="496.37" x2="121.80" y2="496.37" stroke="#000" stroke-width="0.9"/>
<rect x="121.80" y="504.14" width="19.50" height="6.20" fill="#e2321e" stroke="#1a1a1a" stroke-width="0.7"/>
<line x1="119.30" y1="507.24" x2="121.80" y2="507.24" stroke="#000" stroke-width="0.9"/>
<rect x="121.80" y="515.01" width="20.50" height="6.20" fill="#e2321e" stroke="#1a1a1a" stroke-width="0.7"/>
<line x1="119.30" y1="518.11" x2="121.80" y2="518.11" stroke="#000" stroke-width="0.9"/>
<rect x="121.80" y="525.88" width="44.90" height="6.20" fill="#e2321e" stroke="#1a1a1a" stroke-width="0.7"/>
<line x1="119.30" y1="528.98" x2="121.80" y2="528.98" stroke="#000" stroke-width="0.9"/>
<rect x="121.80" y="536.75" width="51.20" height="6.20" fill="#e2321e" stroke="#1a1a1a" stroke-width="0.7"/>
<line x1="119.30" y1="539.85" x2="121.80" y2="539.85" stroke="#000" stroke-width="0.9"/>
<rect x="121.80" y="547.62" width="58.80" height="6.20" fill="#e2321e" stroke="#1a1a1a" stroke-width="0.7"/>
<line x1="119.30" y1="550.72" x2="121.80" y2="550.72" stroke="#000" stroke-width="0.9"/>
<rect x="121.80" y="558.49" width="62.60" height="6.20" fill="#e2321e" stroke="#1a1a1a" stroke-width="0.7"/>
<line x1="119.30" y1="561.59" x2="121.80" y2="561.59" stroke="#000" stroke-width="0.9"/>
<text x="117.00" y="488.96" font-size="9.60" text-anchor="end">Apoptosis</text>
<text x="117.00" y="499.83" font-size="9.60" text-anchor="end">IL6-JAK-STAT3 signaling</text>
<text x="117.00" y="510.70" font-size="9.60" text-anchor="end">Inflammatory response</text>
<text x="117.00" y="521.57" font-size="9.60" text-anchor="end">P53 pathway</text>
<text x="117.00" y="532.44" font-size="9.60" text-anchor="end">TNFα signaling via NFκB</text>
<text x="117.00" y="543.31" font-size="9.60" text-anchor="end">KRAS signaling up</text>
<text x="117.00" y="554.18" font-size="9.60" text-anchor="end">Interferon alpha response</text>
<text x="117.00" y="565.05" font-size="9.60" text-anchor="end">Interferon gamma response</text>
<line x1="121.80" y1="569.20" x2="172.40" y2="569.20" stroke="#000" stroke-width="0.9"/>
<line x1="121.80" y1="569.20" x2="121.80" y2="571.70" stroke="#000" stroke-width="0.9"/>
<text x="121.80" y="581.40" font-size="9.60" text-anchor="middle">0</text>
<line x1="138.60" y1="569.20" x2="138.60" y2="571.70" stroke="#000" stroke-width="0.9"/>
<text x="138.60" y="581.40" font-size="9.60" text-anchor="middle">2</text>
<line x1="155.50" y1="569.20" x2="155.50" y2="571.70" stroke="#000" stroke-width="0.9"/>
<text x="155.50" y="581.40" font-size="9.60" text-anchor="middle">4</text>
<line x1="172.40" y1="569.20" x2="172.40" y2="571.70" stroke="#000" stroke-width="0.9"/>
<text x="172.40" y="581.40" font-size="9.60" text-anchor="middle">6</text>
<line x1="172.40" y1="569.20" x2="189.70" y2="569.20" stroke="#000" stroke-width="0.9"/>
<text x="123.30" y="588.80" font-size="9.48">-Log<tspan font-size="5.69" dy="2.37">10</tspan><tspan dy="-2.37"> (P value)</tspan></text>
<text x="204.40" y="451.20" font-size="11.50" font-weight="bold">N</text>
<text x="217.30" y="473.50" font-size="9.65">GSEA (Hallmarks) in Control (IgA)</text>
<line x1="282.60" y1="477.20" x2="282.60" y2="567.80" stroke="#000" stroke-width="0.9"/>
<rect x="282.60" y="481.40" width="15.90" height="6.00" fill="#1f4e9f" stroke="#1a1a1a" stroke-width="0.7"/>
<line x1="280.10" y1="484.40" x2="282.60" y2="484.40" stroke="#000" stroke-width="0.9"/>
<rect x="282.60" y="492.30" width="34.00" height="6.00" fill="#1f4e9f" stroke="#1a1a1a" stroke-width="0.7"/>
<line x1="280.10" y1="495.30" x2="282.60" y2="495.30" stroke="#000" stroke-width="0.9"/>
<rect x="282.60" y="503.20" width="34.00" height="6.00" fill="#1f4e9f" stroke="#1a1a1a" stroke-width="0.7"/>
<line x1="280.10" y1="506.20" x2="282.60" y2="506.20" stroke="#000" stroke-width="0.9"/>
<rect x="282.60" y="514.10" width="35.70" height="6.00" fill="#1f4e9f" stroke="#1a1a1a" stroke-width="0.7"/>
<line x1="280.10" y1="517.10" x2="282.60" y2="517.10" stroke="#000" stroke-width="0.9"/>
<rect x="282.60" y="525.00" width="40.20" height="6.00" fill="#1f4e9f" stroke="#1a1a1a" stroke-width="0.7"/>
<line x1="280.10" y1="528.00" x2="282.60" y2="528.00" stroke="#000" stroke-width="0.9"/>
<rect x="282.60" y="535.90" width="41.90" height="6.00" fill="#1f4e9f" stroke="#1a1a1a" stroke-width="0.7"/>
<line x1="280.10" y1="538.90" x2="282.60" y2="538.90" stroke="#000" stroke-width="0.9"/>
<rect x="282.60" y="546.80" width="68.20" height="6.00" fill="#1f4e9f" stroke="#1a1a1a" stroke-width="0.7"/>
<line x1="280.10" y1="549.80" x2="282.60" y2="549.80" stroke="#000" stroke-width="0.9"/>
<rect x="282.60" y="557.70" width="68.20" height="6.00" fill="#1f4e9f" stroke="#1a1a1a" stroke-width="0.7"/>
<line x1="280.10" y1="560.70" x2="282.60" y2="560.70" stroke="#000" stroke-width="0.9"/>
<text x="277.80" y="487.86" font-size="9.60" text-anchor="end">KRAS signaling DN</text>
<text x="277.80" y="498.76" font-size="9.60" text-anchor="end">Mitotic spindle</text>
<text x="277.80" y="509.66" font-size="9.60" text-anchor="end">Glycolysis</text>
<text x="277.80" y="520.56" font-size="9.60" text-anchor="end">mTORC1 signaling</text>
<text x="277.80" y="531.46" font-size="9.60" text-anchor="end">Hypoxia</text>
<text x="277.80" y="542.36" font-size="9.60" text-anchor="end">MYC targets V1</text>
<text x="277.80" y="553.26" font-size="9.60" text-anchor="end">E2F targets</text>
<text x="277.80" y="564.16" font-size="9.60" text-anchor="end">G2M checkpoint</text>
<line x1="282.60" y1="567.80" x2="350.80" y2="567.80" stroke="#000" stroke-width="0.9"/>
<line x1="283.00" y1="567.80" x2="283.00" y2="570.30" stroke="#000" stroke-width="0.9"/>
<text x="283.00" y="581.20" font-size="9.60" text-anchor="middle">0</text>
<line x1="316.80" y1="567.80" x2="316.80" y2="570.30" stroke="#000" stroke-width="0.9"/>
<text x="316.80" y="581.20" font-size="9.60" text-anchor="middle">5</text>
<line x1="350.80" y1="567.80" x2="350.80" y2="570.30" stroke="#000" stroke-width="0.9"/>
<text x="350.80" y="581.20" font-size="9.60" text-anchor="middle">10</text>
<text x="283.80" y="592.30" font-size="9.38">-Log<tspan font-size="5.63" dy="2.34">10</tspan><tspan dy="-2.34"> (P value)</tspan></text>
<text x="368.70" y="451.10" font-size="11.50" font-weight="bold">O</text>
<text x="430.70" y="457.40" font-size="8.88">GSEA (Hallmarks)</text>
<line x1="410.90" y1="458.50" x2="410.90" y2="572.30" stroke="#000" stroke-width="0.9"/>
<line x1="408.40" y1="473.40" x2="410.90" y2="473.40" stroke="#000" stroke-width="0.9"/>
<text x="407.40" y="476.86" font-size="9.60" text-anchor="end">0.4</text>
<line x1="408.40" y1="497.80" x2="410.90" y2="497.80" stroke="#000" stroke-width="0.9"/>
<text x="407.40" y="501.26" font-size="9.60" text-anchor="end">0</text>
<line x1="408.40" y1="522.60" x2="410.90" y2="522.60" stroke="#000" stroke-width="0.9"/>
<text x="407.40" y="526.06" font-size="9.60" text-anchor="end">-0.4</text>
<line x1="410.90" y1="572.30" x2="522.60" y2="572.30" stroke="#000" stroke-width="0.9"/>
<line x1="410.90" y1="497.80" x2="522.60" y2="497.80" stroke="#222" stroke-width="0.8" stroke-dasharray="1.6 1.2"/>
<path d="M410.90,497.80 C411.32,496.02 412.58,490.13 413.40,487.10 C414.22,484.07 414.77,482.28 415.80,479.60 C416.83,476.92 418.57,473.03 419.60,471.00 C420.63,468.97 420.77,468.63 422.00,467.40 C423.23,466.17 425.13,464.53 427.00,463.60 C428.87,462.67 431.13,461.82 433.20,461.80 C435.27,461.78 435.05,461.97 439.40,463.50 C443.75,465.03 451.85,468.10 459.30,471.00 C466.75,473.90 476.65,477.60 484.10,480.90 C491.55,484.20 499.03,488.20 504.00,490.80 C508.97,493.40 511.43,495.25 513.90,496.50 C516.37,497.75 517.35,497.60 518.80,498.30 C520.25,499.00 521.97,500.30 522.60,500.70" fill="none" stroke="#e8341f" stroke-width="1.1"/>
<path d="M410.90,497.80 C412.75,498.50 418.48,500.85 422.00,502.00 C425.52,503.15 427.85,503.05 432.00,504.70 C436.15,506.35 440.28,508.63 446.90,511.90 C453.52,515.17 464.67,520.68 471.70,524.30 C478.73,527.92 484.88,531.32 489.10,533.60 C493.32,535.88 494.35,537.13 497.00,538.00 C499.65,538.87 502.75,538.88 505.00,538.80 C507.25,538.72 508.92,538.72 510.50,537.50 C512.08,536.28 513.20,534.75 514.50,531.50 C515.80,528.25 517.22,522.33 518.30,518.00 C519.38,513.67 520.28,508.58 521.00,505.50 C521.72,502.42 522.33,500.50 522.60,499.50" fill="none" stroke="#2c5fc0" stroke-width="1.1"/>
<rect x="410.90" y="543.90" width="22.40" height="14.00" fill="#e8341f"/>
<path d="M438.4,543.9v14.0M440.6,543.9v14.0M442.4,543.9v14.0M443.7,543.9v14.0M445.1,543.9v14.0M446.6,543.9v14.0M448.8,543.9v14.0M452.4,543.9v14.0M456.5,543.9v14.0M459.7,543.9v14.0M461.6,543.9v14.0M464.3,543.9v14.0M468.0,543.9v14.0M469.2,543.9v14.0M471.1,543.9v14.0M474.3,543.9v14.0M478.0,543.9v14.0M480.7,543.9v14.0M485.3,543.9v14.0M489.3,543.9v14.0M490.8,543.9v14.0M494.4,543.9v14.0M499.9,543.9v14.0M503.5,543.9v14.0M507.2,543.9v14.0M513.6,543.9v14.0M521.8,543.9v14.0" fill="none" stroke="#e8341f" stroke-width="0.85"/>
<path d="M419.3,543.9v14.0M416.0,543.9v14.0M414.6,543.9v14.0M431.0,543.9v14.0M423.6,543.9v14.0M426.1,543.9v14.0" fill="none" stroke="#fff" stroke-width="0.35" stroke-opacity="0.7"/>
<rect x="495.33" y="557.90" width="27.27" height="14.10" fill="#2452a8"/>
<path d="M411.4,557.9v14.1M413.2,557.9v14.1M415.0,557.9v14.1M416.3,557.9v14.1M417.8,557.9v14.1M419.6,557.9v14.1M422.3,557.9v14.1M423.2,557.9v14.1M426.9,557.9v14.1M428.7,557.9v14.1M439.7,557.9v14.1M441.5,557.9v14.1M444.2,557.9v14.1M446.1,557.9v14.1M448.8,557.9v14.1M451.5,557.9v14.1M453.4,557.9v14.1M457.0,557.9v14.1M458.8,557.9v14.1M459.7,557.9v14.1M461.6,557.9v14.1M464.3,557.9v14.1M466.1,557.9v14.1M468.0,557.9v14.1M469.8,557.9v14.1M471.6,557.9v14.1M473.4,557.9v14.1M475.3,557.9v14.1M476.5,557.9v14.1M477.6,557.9v14.1M478.9,557.9v14.1M480.2,557.9v14.1M481.3,557.9v14.1M482.6,557.9v14.1M483.8,557.9v14.1M485.3,557.9v14.1M486.8,557.9v14.1M488.0,557.9v14.1M489.3,557.9v14.1M490.8,557.9v14.1M492.2,557.9v14.1M493.5,557.9v14.1M494.4,557.9v14.1" fill="none" stroke="#2452a8" stroke-width="0.85"/>
<path d="M510.3,557.9v14.1M505.7,557.9v14.1M515.1,557.9v14.1M510.9,557.9v14.1M516.4,557.9v14.1M513.2,557.9v14.1M518.0,557.9v14.1M507.2,557.9v14.1" fill="none" stroke="#fff" stroke-width="0.35" stroke-opacity="0.7"/>
<line x1="410.90" y1="572.30" x2="522.60" y2="572.30" stroke="#000" stroke-width="0.9"/>
<line x1="410.90" y1="458.50" x2="410.90" y2="572.30" stroke="#000" stroke-width="0.9"/>
<text x="390.90" y="498.80" font-size="9.52" text-anchor="middle" transform="rotate(-90 390.90 498.80)">Enrichment Score</text>
<text x="391.50" y="557.80" font-size="9.60" text-anchor="middle" transform="rotate(-90 391.50 557.80)">Genes</text>
<text x="400.60" y="557.80" font-size="9.60" text-anchor="middle" transform="rotate(-90 400.60 557.80)">ranked</text>
<text x="411.90" y="583.40" font-size="9.49">PIGR (IgA)</text>
<text x="468.90" y="583.40" font-size="9.58">Control (IgA)</text>
<text x="423.30" y="473.80" font-size="5.50" fill="#e8341f" style="stroke:#e8341f">NES=2.2,</text>
<text x="423.30" y="481.00" font-size="6.52" fill="#e8341f" style="stroke:#e8341f">pval&lt;0.0001</text>
<text x="419.60" y="489.50" font-size="7.97" fill="#e8341f" style="stroke:#e8341f">Interferon alpha</text>
<text x="433.50" y="496.00" font-size="7.05" fill="#e8341f" style="stroke:#e8341f">response</text>
<text x="455.60" y="507.00" font-size="8.07" fill="#2c5fc0" style="stroke:#2c5fc0">G2M checkpoint</text>
<text x="475.90" y="517.00" font-size="6.59" fill="#2c5fc0" style="stroke:#2c5fc0">NES=-2.5,</text>
<text x="475.90" y="524.60" font-size="6.26" fill="#2c5fc0" style="stroke:#2c5fc0">pval&lt;0.0001</text>
<text x="539.70" y="450.50" font-size="11.50" font-weight="bold">P</text>
<text x="595.90" y="454.00" font-size="8.81">GSEA (Hallmarks)</text>
<line x1="567.40" y1="457.70" x2="567.40" y2="570.70" stroke="#000" stroke-width="0.9"/>
<line x1="564.90" y1="464.40" x2="567.40" y2="464.40" stroke="#000" stroke-width="0.9"/>
<text x="563.90" y="467.86" font-size="9.60" text-anchor="end">0.5</text>
<line x1="564.90" y1="493.30" x2="567.40" y2="493.30" stroke="#000" stroke-width="0.9"/>
<text x="563.90" y="496.76" font-size="9.60" text-anchor="end">0</text>
<line x1="564.90" y1="523.40" x2="567.40" y2="523.40" stroke="#000" stroke-width="0.9"/>
<text x="563.90" y="526.86" font-size="9.60" text-anchor="end">-0.5</text>
<line x1="567.40" y1="570.70" x2="676.80" y2="570.70" stroke="#000" stroke-width="0.9"/>
<line x1="567.40" y1="493.30" x2="676.80" y2="493.30" stroke="#222" stroke-width="0.8" stroke-dasharray="1.6 1.2"/>
<path d="M567.40,493.30 C567.73,490.78 568.67,481.73 569.40,478.20 C570.13,474.67 570.80,473.92 571.80,472.10 C572.80,470.28 573.80,468.70 575.40,467.30 C577.00,465.90 579.40,464.70 581.40,463.70 C583.40,462.70 585.18,461.50 587.40,461.30 C589.62,461.10 589.88,460.48 594.70,462.50 C599.52,464.52 609.48,469.78 616.30,473.40 C623.12,477.02 629.17,480.92 635.60,484.20 C642.03,487.48 650.08,491.38 654.90,493.10 C659.72,494.82 661.40,494.10 664.50,494.50 C667.60,494.90 671.67,495.70 673.50,495.50 C675.33,495.30 675.00,494.13 675.50,493.30 C676.00,492.47 676.33,490.97 676.50,490.50" fill="none" stroke="#e8341f" stroke-width="1.1"/>
<path d="M567.40,493.30 C571.55,495.40 584.15,501.80 592.30,505.90 C600.45,510.00 608.28,513.68 616.30,517.90 C624.32,522.12 633.97,527.78 640.40,531.20 C646.83,534.62 650.88,537.60 654.90,538.40 C658.92,539.20 661.90,537.62 664.50,536.00 C667.10,534.38 668.90,532.72 670.50,528.70 C672.10,524.68 673.10,517.72 674.10,511.90 C675.10,506.08 676.10,496.82 676.50,493.80" fill="none" stroke="#2c5fc0" stroke-width="1.1"/>
<rect x="567.40" y="542.90" width="21.80" height="14.10" fill="#e8341f"/>
<path d="M589.2,542.9v14.1M590.4,542.9v14.1M591.0,542.9v14.1M591.9,542.9v14.1M592.7,542.9v14.1M594.0,542.9v14.1M595.3,542.9v14.1M596.8,542.9v14.1M597.5,542.9v14.1M598.5,542.9v14.1M599.1,542.9v14.1M599.8,542.9v14.1M600.9,542.9v14.1M601.5,542.9v14.1M602.3,542.9v14.1M603.5,542.9v14.1M604.7,542.9v14.1M605.5,542.9v14.1M606.7,542.9v14.1M608.1,542.9v14.1M608.7,542.9v14.1M610.1,542.9v14.1M611.4,542.9v14.1M612.3,542.9v14.1M613.0,542.9v14.1M614.6,542.9v14.1M615.6,542.9v14.1M616.2,542.9v14.1M616.9,542.9v14.1M618.3,542.9v14.1M619.5,542.9v14.1M621.0,542.9v14.1M622.3,542.9v14.1M623.4,542.9v14.1M625.1,542.9v14.1M626.0,542.9v14.1M627.2,542.9v14.1M628.6,542.9v14.1M629.9,542.9v14.1M631.3,542.9v14.1M632.5,542.9v14.1M633.8,542.9v14.1M634.4,542.9v14.1M635.2,542.9v14.1M636.1,542.9v14.1M636.7,542.9v14.1M637.5,542.9v14.1M638.2,542.9v14.1M639.1,542.9v14.1M640.3,542.9v14.1M641.2,542.9v14.1M642.2,542.9v14.1M643.0,542.9v14.1M643.8,542.9v14.1M645.4,542.9v14.1M646.6,542.9v14.1M647.9,542.9v14.1M648.6,542.9v14.1M649.9,542.9v14.1M650.7,542.9v14.1M655.8,542.9v14.1M657.6,542.9v14.1M659.0,542.9v14.1M660.4,542.9v14.1M661.9,542.9v14.1M663.5,542.9v14.1M665.1,542.9v14.1M666.1,542.9v14.1M666.8,542.9v14.1M667.9,542.9v14.1M668.9,542.9v14.1M669.9,542.9v14.1M671.7,542.9v14.1M673.4,542.9v14.1M674.4,542.9v14.1M675.9,542.9v14.1" fill="none" stroke="#e8341f" stroke-width="0.85"/>
<path d="M586.6,542.9v14.1M577.0,542.9v14.1M573.0,542.9v14.1M572.6,542.9v14.1M579.2,542.9v14.1" fill="none" stroke="#fff" stroke-width="0.35" stroke-opacity="0.7"/>
<rect x="644.90" y="557.00" width="31.90" height="13.50" fill="#2452a8"/>
<path d="M569.1,557.0v13.5M575.5,557.0v13.5M579.2,557.0v13.5M585.5,557.0v13.5M587.4,557.0v13.5M593.8,557.0v13.5M595.6,557.0v13.5M598.3,557.0v13.5M609.3,557.0v13.5M612.0,557.0v13.5M613.8,557.0v13.5M615.7,557.0v13.5M617.5,557.0v13.5M618.4,557.0v13.5M622.0,557.0v13.5M624.8,557.0v13.5M628.4,557.0v13.5M629.3,557.0v13.5M632.1,557.0v13.5M633.9,557.0v13.5M636.6,557.0v13.5M640.3,557.0v13.5M643.0,557.0v13.5" fill="none" stroke="#2452a8" stroke-width="0.85"/>
<path d="M653.0,557.0v13.5M663.0,557.0v13.5M672.7,557.0v13.5M657.3,557.0v13.5M651.7,557.0v13.5M675.8,557.0v13.5" fill="none" stroke="#fff" stroke-width="0.35" stroke-opacity="0.7"/>
<line x1="567.40" y1="570.70" x2="676.80" y2="570.70" stroke="#000" stroke-width="0.9"/>
<line x1="567.40" y1="457.70" x2="567.40" y2="570.70" stroke="#000" stroke-width="0.9"/>
<text x="547.40" y="496.50" font-size="9.52" text-anchor="middle" transform="rotate(-90 547.40 496.50)">Enrichment Score</text>
<text x="547.80" y="556.50" font-size="9.60" text-anchor="middle" transform="rotate(-90 547.80 556.50)">Genes</text>
<text x="556.90" y="556.50" font-size="9.60" text-anchor="middle" transform="rotate(-90 556.90 556.50)">ranked</text>
<text x="567.30" y="580.60" font-size="9.51">PIGR (IgA)</text>
<text x="624.80" y="580.60" font-size="9.49">Control (IgA)</text>
<text x="577.80" y="471.30" font-size="6.15" fill="#e8341f" style="stroke:#e8341f">NES=2.0,</text>
<text x="577.80" y="478.60" font-size="6.24" fill="#e8341f" style="stroke:#e8341f">pval&lt;0.0001</text>
<text x="570.60" y="485.80" font-size="7.93" fill="#e8341f" style="stroke:#e8341f">Interferon gamma</text>
<text x="587.00" y="492.30" font-size="6.93" fill="#e8341f" style="stroke:#e8341f">response</text>
<text x="622.40" y="504.80" font-size="7.91" fill="#2c5fc0" style="stroke:#2c5fc0">E2F targets</text>
<text x="628.20" y="514.60" font-size="6.53" fill="#2c5fc0" style="stroke:#2c5fc0">NES=-2.8,</text>
<text x="628.20" y="522.40" font-size="6.35" fill="#2c5fc0" style="stroke:#2c5fc0">pval&lt;0.0001</text>
<text x="7.30" y="616.90" font-size="11.50" font-weight="bold">Q</text>
<text x="87.00" y="614.00" font-size="9.67">GSEA (KEGG)</text>
<line x1="52.30" y1="610.40" x2="52.30" y2="735.40" stroke="#000" stroke-width="0.9"/>
<line x1="49.80" y1="627.10" x2="52.30" y2="627.10" stroke="#000" stroke-width="0.9"/>
<text x="48.80" y="630.56" font-size="9.60" text-anchor="end">0.3</text>
<line x1="49.80" y1="651.30" x2="52.30" y2="651.30" stroke="#000" stroke-width="0.9"/>
<text x="48.80" y="654.76" font-size="9.60" text-anchor="end">0</text>
<line x1="49.80" y1="675.30" x2="52.30" y2="675.30" stroke="#000" stroke-width="0.9"/>
<text x="48.80" y="678.76" font-size="9.60" text-anchor="end">-0.3</text>
<line x1="49.80" y1="699.50" x2="52.30" y2="699.50" stroke="#000" stroke-width="0.9"/>
<text x="48.80" y="702.96" font-size="9.60" text-anchor="end">-0.6</text>
<line x1="52.30" y1="650.90" x2="174.30" y2="650.90" stroke="#222" stroke-width="0.8" stroke-dasharray="1.6 1.2"/>
<path d="M52.49,650.92 L52.88,646.39 L53.67,648.75 L54.46,647.37 L55.25,644.42 L55.84,640.47 L56.82,637.52 L57.81,632.59 L58.40,633.58 L59.19,628.65 L60.77,624.71 L62.74,623.72 L64.71,620.77 L67.66,620.37 L70.62,618.80 L74.56,617.81 L76.14,617.22 L76.53,614.85 L78.11,616.43 L79.49,615.84 L84.42,617.81 L90.33,618.80 L104.12,625.69 L119.89,634.56 L133.69,640.47 L147.48,644.42 L159.31,647.96 L163.25,649.34 L167.19,651.31 L170.15,649.54 L173.10,649.93 L174.09,650.72" fill="none" stroke="#e8341f" stroke-width="1.0"/>
<path d="M52.49,650.72 C52.55,650.49 52.65,650.00 52.88,649.34 C53.11,648.69 53.21,647.11 53.87,646.78 C54.53,646.45 55.68,647.11 56.82,647.37 C57.97,647.64 58.47,647.37 60.77,648.36 C63.07,649.34 66.68,651.64 70.62,653.29 C74.56,654.93 78.83,655.42 84.42,658.21 C90.00,661.00 97.56,666.10 104.12,670.04 C110.69,673.98 117.26,678.41 123.83,681.86 C130.40,685.31 138.78,688.60 143.54,690.73 C148.30,692.87 149.95,693.52 152.41,694.67 C154.87,695.82 156.52,697.46 158.32,697.63 C160.13,697.79 161.61,697.30 163.25,695.66 C164.89,694.02 166.86,691.06 168.18,687.77 C169.49,684.49 170.31,680.22 171.13,675.95 C171.95,671.68 172.61,666.36 173.10,662.15 C173.60,657.95 173.93,652.63 174.09,650.72" fill="none" stroke="#2c5fc0" stroke-width="1.1"/>
<path d="M52.5,703.9v16.1M53.5,703.9v16.1M54.4,703.9v16.1M55.7,703.9v16.1M56.6,703.9v16.1M57.8,703.9v16.1M61.8,703.9v16.1M62.6,703.9v16.1M63.8,703.9v16.1M64.6,703.9v16.1M65.7,703.9v16.1M66.6,703.9v16.1M67.7,703.9v16.1M68.8,703.9v16.1M70.2,703.9v16.1M71.1,703.9v16.1M72.1,703.9v16.1M73.6,703.9v16.1M75.1,703.9v16.1M76.4,703.9v16.1M77.5,703.9v16.1M83.4,703.9v16.1M84.3,703.9v16.1M85.7,703.9v16.1M86.7,703.9v16.1M87.6,703.9v16.1M88.5,703.9v16.1M89.6,703.9v16.1M91.0,703.9v16.1M91.9,703.9v16.1M94.3,703.9v16.1M98.2,703.9v16.1M99.3,703.9v16.1M100.5,703.9v16.1M101.4,703.9v16.1M102.2,703.9v16.1M103.1,703.9v16.1M104.5,703.9v16.1M105.6,703.9v16.1M111.0,703.9v16.1M112.3,703.9v16.1M115.9,703.9v16.1M117.0,703.9v16.1M118.4,703.9v16.1M119.7,703.9v16.1M120.7,703.9v16.1M122.0,703.9v16.1M123.2,703.9v16.1M124.6,703.9v16.1M127.8,703.9v16.1M128.8,703.9v16.1M130.4,703.9v16.1M131.2,703.9v16.1M132.4,703.9v16.1M133.7,703.9v16.1M134.6,703.9v16.1M135.8,703.9v16.1M136.6,703.9v16.1M138.0,703.9v16.1M139.3,703.9v16.1M142.6,703.9v16.1M144.0,703.9v16.1M145.1,703.9v16.1M146.4,703.9v16.1M147.7,703.9v16.1M148.9,703.9v16.1M152.4,703.9v16.1M153.9,703.9v16.1M159.3,703.9v16.1M167.2,703.9v16.1M170.1,703.9v16.1" fill="none" stroke="#e8341f" stroke-width="0.75"/>
<rect x="160.29" y="720.00" width="14.01" height="15.20" fill="#2452a8"/>
<path d="M52.5,720.0v15.2M53.6,720.0v15.2M54.7,720.0v15.2M56.1,720.0v15.2M57.3,720.0v15.2M58.2,720.0v15.2M59.1,720.0v15.2M69.6,720.0v15.2M70.2,720.0v15.2M73.6,720.0v15.2M74.3,720.0v15.2M75.0,720.0v15.2M75.6,720.0v15.2M76.8,720.0v15.2M77.5,720.0v15.2M78.3,720.0v15.2M79.2,720.0v15.2M80.5,720.0v15.2M81.1,720.0v15.2M82.1,720.0v15.2M83.1,720.0v15.2M89.3,720.0v15.2M90.6,720.0v15.2M91.9,720.0v15.2M92.7,720.0v15.2M95.3,720.0v15.2M96.1,720.0v15.2M97.4,720.0v15.2M98.8,720.0v15.2M99.5,720.0v15.2M100.2,720.0v15.2M101.0,720.0v15.2M101.8,720.0v15.2M102.7,720.0v15.2M103.8,720.0v15.2M104.6,720.0v15.2M105.2,720.0v15.2M106.1,720.0v15.2M107.0,720.0v15.2M108.0,720.0v15.2M109.4,720.0v15.2M113.0,720.0v15.2M114.0,720.0v15.2M115.1,720.0v15.2M116.2,720.0v15.2M116.8,720.0v15.2M118.1,720.0v15.2M119.3,720.0v15.2M120.6,720.0v15.2M121.8,720.0v15.2M122.7,720.0v15.2M123.8,720.0v15.2M124.5,720.0v15.2M125.6,720.0v15.2M126.2,720.0v15.2M126.9,720.0v15.2M127.6,720.0v15.2M128.4,720.0v15.2M129.2,720.0v15.2M129.8,720.0v15.2M130.4,720.0v15.2M131.2,720.0v15.2M131.8,720.0v15.2M132.7,720.0v15.2M133.3,720.0v15.2M134.6,720.0v15.2M135.7,720.0v15.2M136.4,720.0v15.2M137.2,720.0v15.2M139.6,720.0v15.2M140.5,720.0v15.2M141.2,720.0v15.2M142.4,720.0v15.2M143.8,720.0v15.2M144.8,720.0v15.2M145.7,720.0v15.2M146.4,720.0v15.2M147.1,720.0v15.2M147.9,720.0v15.2M148.7,720.0v15.2M150.0,720.0v15.2M150.7,720.0v15.2M151.3,720.0v15.2M152.6,720.0v15.2M153.6,720.0v15.2M154.4,720.0v15.2M155.4,720.0v15.2M156.0,720.0v15.2M157.0,720.0v15.2" fill="none" stroke="#2452a8" stroke-width="0.75"/>
<line x1="52.30" y1="735.40" x2="174.30" y2="735.40" stroke="#000" stroke-width="0.9"/>
<text x="31.00" y="662.00" font-size="9.66" text-anchor="middle" transform="rotate(-90 31.00 662.00)">Enrichment Score</text>
<text x="31.00" y="721.00" font-size="9.60" text-anchor="middle" transform="rotate(-90 31.00 721.00)">Genes</text>
<text x="40.30" y="721.00" font-size="9.60" text-anchor="middle" transform="rotate(-90 40.30 721.00)">ranked</text>
<text x="52.90" y="745.30" font-size="9.47">PIGR (IgA)</text>
<text x="119.90" y="745.30" font-size="9.56">Control (IgA)</text>
<text x="68.60" y="628.80" font-size="6.64" fill="#e8341f" style="stroke:#e8341f">NES=1.6,</text>
<text x="68.60" y="637.00" font-size="6.22" fill="#e8341f" style="stroke:#e8341f">pval=0.007</text>
<text x="81.50" y="645.60" font-size="7.86" fill="#e8341f" style="stroke:#e8341f">Apoptosis</text>
<text x="117.90" y="661.00" font-size="8.06" fill="#2c5fc0" style="stroke:#2c5fc0">Cell cycle</text>
<text x="126.80" y="672.80" font-size="6.16" fill="#2c5fc0" style="stroke:#2c5fc0">NES=-2.1,</text>
<text x="126.80" y="681.00" font-size="6.30" fill="#2c5fc0" style="stroke:#2c5fc0">pval&lt;0.0001</text>
<text x="197.70" y="616.70" font-size="11.50" font-weight="bold">R</text>
<line x1="234.90" y1="639.90" x2="234.90" y2="666.00" stroke="#000" stroke-width="0.9"/>
<line x1="234.90" y1="677.00" x2="234.90" y2="718.10" stroke="#000" stroke-width="0.9"/>
<line x1="232.40" y1="639.90" x2="234.90" y2="639.90" stroke="#000" stroke-width="0.9"/>
<text x="231.90" y="643.10" font-size="8.80" text-anchor="end">45</text>
<line x1="232.40" y1="653.50" x2="234.90" y2="653.50" stroke="#000" stroke-width="0.9"/>
<text x="231.90" y="656.70" font-size="8.80" text-anchor="end">30</text>
<line x1="232.40" y1="667.10" x2="234.90" y2="667.10" stroke="#000" stroke-width="0.9"/>
<text x="231.90" y="670.30" font-size="8.80" text-anchor="end">15</text>
<line x1="232.40" y1="677.60" x2="234.90" y2="677.60" stroke="#000" stroke-width="0.9"/>
<text x="231.90" y="680.80" font-size="8.80" text-anchor="end">4</text>
<line x1="232.40" y1="698.00" x2="234.90" y2="698.00" stroke="#000" stroke-width="0.9"/>
<text x="231.90" y="701.20" font-size="8.80" text-anchor="end">2</text>
<line x1="232.40" y1="718.10" x2="234.90" y2="718.10" stroke="#000" stroke-width="0.9"/>
<text x="231.90" y="721.30" font-size="8.80" text-anchor="end">0</text>
<line x1="233.40" y1="668.50" x2="236.70" y2="664.50" stroke="#000" stroke-width="0.9"/>
<line x1="233.40" y1="679.50" x2="236.70" y2="675.50" stroke="#000" stroke-width="0.9"/>
<line x1="234.90" y1="718.10" x2="325.10" y2="718.10" stroke="#000" stroke-width="0.9"/>
<line x1="245.20" y1="718.10" x2="245.20" y2="720.60" stroke="#000" stroke-width="0.9"/>
<line x1="268.20" y1="718.10" x2="268.20" y2="720.60" stroke="#000" stroke-width="0.9"/>
<line x1="291.20" y1="718.10" x2="291.20" y2="720.60" stroke="#000" stroke-width="0.9"/>
<line x1="314.20" y1="718.10" x2="314.20" y2="720.60" stroke="#000" stroke-width="0.9"/>
<text x="206.30" y="676.00" font-size="9.09" text-anchor="middle" transform="rotate(-90 206.30 676.00)">Relative fold change in</text>
<text x="216.20" y="676.00" font-size="9.09" text-anchor="middle" transform="rotate(-90 216.20 676.00)">mRNA expression</text>
<ellipse cx="240.8" cy="708.2" rx="2.8" ry="2.2" fill="#1f4ea8" stroke="#111" stroke-width="0.6"/>
<ellipse cx="263.8" cy="708.2" rx="2.8" ry="2.2" fill="#1f4ea8" stroke="#111" stroke-width="0.6"/>
<ellipse cx="286.8" cy="708.2" rx="2.8" ry="2.2" fill="#1f4ea8" stroke="#111" stroke-width="0.6"/>
<ellipse cx="309.8" cy="708.2" rx="2.8" ry="2.2" fill="#1f4ea8" stroke="#111" stroke-width="0.6"/>
<rect x="247.25" y="654.15" width="4.50" height="4.50" fill="#e8341f" stroke="#111" stroke-width="0.6"/>
<rect x="247.45" y="658.15" width="4.50" height="4.50" fill="#e8341f" stroke="#111" stroke-width="0.6"/>
<rect x="246.55" y="661.45" width="4.50" height="4.50" fill="#e8341f" stroke="#111" stroke-width="0.6"/>
<rect x="269.95" y="690.35" width="4.50" height="4.50" fill="#e8341f" stroke="#111" stroke-width="0.6"/>
<rect x="270.85" y="691.65" width="4.50" height="4.50" fill="#e8341f" stroke="#111" stroke-width="0.6"/>
<rect x="270.25" y="696.25" width="4.50" height="4.50" fill="#e8341f" stroke="#111" stroke-width="0.6"/>
<rect x="293.25" y="687.75" width="4.50" height="4.50" fill="#e8341f" stroke="#111" stroke-width="0.6"/>
<rect x="294.35" y="691.65" width="4.50" height="4.50" fill="#e8341f" stroke="#111" stroke-width="0.6"/>
<rect x="293.65" y="698.85" width="4.50" height="4.50" fill="#e8341f" stroke="#111" stroke-width="0.6"/>
<rect x="316.75" y="684.35" width="4.50" height="4.50" fill="#e8341f" stroke="#111" stroke-width="0.6"/>
<rect x="317.65" y="688.35" width="4.50" height="4.50" fill="#e8341f" stroke="#111" stroke-width="0.6"/>
<rect x="317.05" y="692.95" width="4.50" height="4.50" fill="#e8341f" stroke="#111" stroke-width="0.6"/>
<line x1="239.60" y1="651.20" x2="250.80" y2="651.20" stroke="#000" stroke-width="0.9"/>
<text x="245.20" y="651.00" font-size="9.50" text-anchor="middle">***</text>
<line x1="264.00" y1="687.40" x2="275.10" y2="687.40" stroke="#000" stroke-width="0.9"/>
<text x="269.55" y="687.20" font-size="9.50" text-anchor="middle">**</text>
<line x1="287.00" y1="684.70" x2="298.20" y2="684.70" stroke="#000" stroke-width="0.9"/>
<text x="292.60" y="684.50" font-size="9.50" text-anchor="middle">*</text>
<line x1="309.30" y1="682.30" x2="320.70" y2="682.30" stroke="#000" stroke-width="0.9"/>
<text x="315.00" y="682.10" font-size="9.50" text-anchor="middle">**</text>
<circle cx="262.70" cy="640.80" r="2.30" fill="#1f4ea8" stroke="#111" stroke-width="0.6"/>
<rect x="260.70" y="647.90" width="4.00" height="4.00" fill="#e8341f" stroke="#111" stroke-width="0.6"/>
<text x="266.50" y="644.20" font-size="9.26">Control (IgA)</text>
<text x="266.50" y="653.00" font-size="9.61">PIGR (IgA)</text>
<text x="250.00" y="727.30" font-size="9.64" text-anchor="end" font-style="italic" transform="rotate(-45 250.00 727.30)">IFIT3</text>
<text x="273.30" y="727.30" font-size="9.64" text-anchor="end" font-style="italic" transform="rotate(-45 273.30 727.30)">IFIT2</text>
<text x="296.30" y="727.30" font-size="9.64" text-anchor="end" font-style="italic" transform="rotate(-45 296.30 727.30)">IL23A</text>
<text x="322.60" y="726.80" font-size="9.64" text-anchor="end" font-style="italic" transform="rotate(-45 322.60 726.80)">CXCL11</text>
<text x="364.70" y="617.30" font-size="11.50" font-weight="bold">S</text>
<text x="394.00" y="633.60" font-size="9.25">CCK8 assay</text>
<line x1="385.10" y1="639.20" x2="385.10" y2="719.30" stroke="#000" stroke-width="0.9"/>
<line x1="382.60" y1="639.60" x2="385.10" y2="639.60" stroke="#000" stroke-width="0.9"/>
<text x="381.60" y="643.06" font-size="9.60" text-anchor="end">1.5</text>
<line x1="382.60" y1="666.20" x2="385.10" y2="666.20" stroke="#000" stroke-width="0.9"/>
<text x="381.60" y="669.66" font-size="9.60" text-anchor="end">1.0</text>
<line x1="382.60" y1="692.50" x2="385.10" y2="692.50" stroke="#000" stroke-width="0.9"/>
<text x="381.60" y="695.96" font-size="9.60" text-anchor="end">0.5</text>
<line x1="382.60" y1="719.00" x2="385.10" y2="719.00" stroke="#000" stroke-width="0.9"/>
<text x="381.60" y="722.46" font-size="9.60" text-anchor="end">0.0</text>
<line x1="385.10" y1="719.00" x2="452.90" y2="719.00" stroke="#000" stroke-width="0.9"/>
<line x1="391.10" y1="719.00" x2="391.10" y2="721.50" stroke="#000" stroke-width="0.9"/>
<text x="391.10" y="732.20" font-size="9.60" text-anchor="middle">0</text>
<line x1="402.50" y1="719.00" x2="402.50" y2="721.50" stroke="#000" stroke-width="0.9"/>
<text x="402.50" y="732.20" font-size="9.60" text-anchor="middle">1</text>
<line x1="413.90" y1="719.00" x2="413.90" y2="721.50" stroke="#000" stroke-width="0.9"/>
<text x="413.90" y="732.20" font-size="9.60" text-anchor="middle">2</text>
<line x1="425.30" y1="719.00" x2="425.30" y2="721.50" stroke="#000" stroke-width="0.9"/>
<text x="425.30" y="732.20" font-size="9.60" text-anchor="middle">3</text>
<line x1="436.70" y1="719.00" x2="436.70" y2="721.50" stroke="#000" stroke-width="0.9"/>
<text x="436.70" y="732.20" font-size="9.60" text-anchor="middle">4</text>
<line x1="448.10" y1="719.00" x2="448.10" y2="721.50" stroke="#000" stroke-width="0.9"/>
<text x="448.10" y="732.20" font-size="9.60" text-anchor="middle">5</text>
<text x="409.40" y="740.80" font-size="10.67">Days</text>
<text x="365.20" y="675.60" font-size="9.39" text-anchor="middle" transform="rotate(-90 365.20 675.60)">OD value (450 nm)</text>
<path d="M391.10,713.71 L402.50,712.12 L413.90,709.47 L425.30,705.24 L436.70,701.53 L448.10,695.18" fill="none" stroke="#ea4430" stroke-width="1.25"/>
<circle cx="391.10" cy="713.71" r="2.60" fill="none" stroke="#ea4430" stroke-width="1.25"/>
<circle cx="402.50" cy="712.12" r="2.60" fill="none" stroke="#ea4430" stroke-width="1.25"/>
<circle cx="413.90" cy="709.47" r="2.60" fill="none" stroke="#ea4430" stroke-width="1.25"/>
<circle cx="425.30" cy="705.24" r="2.60" fill="none" stroke="#ea4430" stroke-width="1.25"/>
<circle cx="436.70" cy="701.53" r="2.60" fill="none" stroke="#ea4430" stroke-width="1.25"/>
<circle cx="448.10" cy="695.18" r="2.60" fill="none" stroke="#ea4430" stroke-width="1.25"/>
<path d="M391.10,713.71 L402.50,711.06 L413.90,706.30 L425.30,692.53 L436.70,681.42 L448.10,662.36" fill="none" stroke="#3365c2" stroke-width="1.25"/>
<circle cx="391.10" cy="713.71" r="2.60" fill="none" stroke="#3365c2" stroke-width="1.25"/>
<circle cx="402.50" cy="711.06" r="2.60" fill="none" stroke="#3365c2" stroke-width="1.25"/>
<circle cx="413.90" cy="706.30" r="2.60" fill="none" stroke="#3365c2" stroke-width="1.25"/>
<circle cx="425.30" cy="692.53" r="2.60" fill="none" stroke="#3365c2" stroke-width="1.25"/>
<circle cx="436.70" cy="681.42" r="2.60" fill="none" stroke="#3365c2" stroke-width="1.25"/>
<circle cx="448.10" cy="662.36" r="2.60" fill="none" stroke="#3365c2" stroke-width="1.25"/>
<line x1="389.60" y1="642.90" x2="402.00" y2="642.90" stroke="#3365c2" stroke-width="1"/>
<circle cx="395.80" cy="642.90" r="2.60" fill="none" stroke="#3365c2" stroke-width="1"/>
<line x1="389.60" y1="653.30" x2="402.00" y2="653.30" stroke="#ea4430" stroke-width="1"/>
<circle cx="395.80" cy="653.30" r="2.60" fill="none" stroke="#ea4430" stroke-width="1"/>
<text x="403.20" y="646.40" font-size="9.19">Control (IgA)</text>
<text x="404.50" y="656.80" font-size="9.20">PIGR (IgA)</text>
<line x1="454.60" y1="663.20" x2="454.60" y2="691.80" stroke="#000" stroke-width="0.9"/>
<text x="456.80" y="681.00" font-size="8.50">****</text>
<text x="500.50" y="616.40" font-size="11.50" font-weight="bold">T</text>
<text x="546.30" y="630.30" font-size="8.41">Clone assay</text>
<rect x="521.10" y="636.10" width="41.80" height="41.30" fill="#d6d6e2"/>
<circle cx="541.50" cy="656.80" r="20.00" fill="#ececf2"/>
<radialGradient id="pg31"><stop offset="0" stop-color="#a2a4da"/><stop offset="0.6" stop-color="#a2a4da"/><stop offset="1" stop-color="#5a5ebc"/></radialGradient>
<circle cx="541.50" cy="656.80" r="19.00" fill="url(#pg31)"/>
<path d="M538.7 650.5h0M543.3 672.7h0M540.6 641.8h0M547.1 656.7h0M552.4 652.5h0M551.6 645.9h0M546.0 641.7h0M536.0 650.1h0M527.0 652.5h0M525.1 657.0h0M547.5 658.3h0M552.3 655.8h0M534.6 663.7h0M555.2 661.3h0M547.3 672.4h0M538.9 644.5h0M550.1 671.5h0M539.9 640.1h0M528.4 645.3h0M540.2 664.5h0M531.4 654.1h0M524.6 654.7h0M542.2 672.3h0M556.1 652.5h0M557.9 655.1h0M544.1 659.9h0M535.1 659.3h0M553.4 644.4h0M553.1 653.8h0M537.1 663.4h0M540.4 674.3h0M536.9 644.9h0M526.1 651.9h0M552.7 642.5h0M554.4 663.3h0M548.6 641.1h0M535.0 649.3h0M537.0 663.2h0M532.9 662.0h0M536.6 672.8h0M530.6 664.3h0M546.4 657.9h0M550.0 650.6h0M547.0 651.7h0M524.8 649.3h0M553.6 652.9h0M541.8 653.8h0M537.9 674.6h0M536.6 643.1h0M546.2 652.5h0M537.4 668.3h0M545.8 659.4h0M529.5 668.6h0M545.6 656.7h0M541.5 665.5h0M537.0 654.1h0M555.5 647.8h0M525.6 656.9h0M532.8 667.9h0M535.8 646.6h0M552.0 645.4h0M538.0 640.0h0M533.2 670.6h0M556.6 664.2h0M541.1 648.0h0M554.3 656.4h0M554.6 655.5h0M534.6 648.1h0M546.7 660.9h0M551.7 648.8h0M537.4 656.0h0" stroke="#3b3ea6" stroke-width="1.00" stroke-linecap="round" fill="none"/>
<path d="M547.7 657.3h0M529.5 654.1h0M543.6 665.1h0M544.7 656.6h0M536.0 665.9h0M538.8 664.1h0M547.7 673.4h0M539.6 651.4h0M526.1 662.4h0M547.4 662.3h0M537.6 640.2h0M531.5 667.2h0M546.5 668.2h0M524.6 654.2h0M526.1 654.5h0M553.1 668.2h0M555.8 651.4h0M535.3 659.9h0M537.3 668.1h0M546.4 672.7h0M527.9 666.5h0M544.2 664.9h0M549.9 660.5h0M531.5 657.9h0M541.8 656.8h0M534.4 653.2h0M524.3 652.1h0M530.0 666.6h0M552.8 660.1h0M545.5 645.2h0M548.8 642.9h0M536.5 667.1h0M556.8 660.6h0M527.9 666.5h0M535.0 658.8h0M535.0 662.8h0M539.8 668.9h0M539.9 673.0h0M529.1 653.5h0M551.7 647.7h0M542.5 647.4h0M544.8 643.0h0M554.0 654.4h0M534.0 659.1h0M553.1 669.6h0M534.8 668.0h0M549.6 670.0h0M558.4 654.1h0M534.0 666.0h0M535.0 653.9h0M534.6 645.9h0M548.2 667.5h0M543.1 671.5h0M558.9 651.7h0M539.1 645.8h0M529.8 648.9h0M543.6 644.4h0M534.5 658.9h0M551.9 667.5h0M550.9 650.0h0M548.4 653.7h0M555.1 652.4h0M555.2 663.2h0M537.4 641.3h0M544.1 653.9h0M545.1 662.0h0M524.7 664.2h0M548.0 651.0h0M538.1 648.7h0M549.1 642.0h0M550.2 640.6h0M553.7 650.0h0M552.2 645.8h0M532.4 670.5h0M532.3 649.8h0M538.4 659.5h0M539.2 661.9h0M532.3 661.6h0M554.0 646.0h0M538.1 667.3h0M553.0 652.8h0M529.9 644.7h0M544.4 668.7h0M539.5 645.4h0M546.9 656.8h0M537.3 667.8h0M527.3 659.2h0M543.4 662.0h0M550.2 672.7h0M542.8 674.3h0M530.7 664.4h0M540.9 659.4h0M531.2 644.3h0M527.1 652.1h0M548.0 671.2h0M547.5 671.9h0M543.8 647.0h0M535.6 663.4h0" stroke="#3b3ea6" stroke-width="1.60" stroke-linecap="round" fill="none"/>
<path d="M536.1 666.5h0M524.3 651.5h0M536.4 663.4h0M531.3 643.4h0M559.7 654.1h0M554.0 648.8h0M545.6 668.5h0M545.8 660.7h0M539.1 641.6h0M542.5 647.6h0M547.8 658.6h0M532.7 654.5h0M537.9 646.2h0M528.6 658.5h0M542.0 646.7h0M531.2 651.2h0M543.0 671.1h0M543.6 668.4h0M541.6 669.7h0M526.4 658.9h0M544.2 661.6h0M554.5 661.7h0M555.8 651.6h0M554.9 648.4h0M529.1 662.8h0M541.7 650.7h0M546.5 659.5h0M533.2 650.7h0M537.7 642.9h0M528.1 668.0h0M544.1 663.1h0M532.4 650.9h0M542.6 652.0h0M555.0 666.4h0M551.3 646.3h0M555.2 658.0h0M538.0 652.0h0M531.1 659.3h0M534.5 640.0h0M529.6 666.4h0M541.0 660.2h0M530.0 652.5h0M526.6 659.9h0M553.1 668.0h0M543.6 655.4h0M541.3 663.7h0M551.4 651.4h0M544.6 651.7h0M542.4 659.0h0M534.1 670.7h0M539.9 643.1h0M543.0 661.7h0M536.8 644.5h0M553.9 660.6h0M554.0 658.6h0M542.1 641.9h0M550.7 654.0h0M528.8 654.1h0M541.9 672.4h0M533.6 651.0h0M540.9 673.9h0" stroke="#3b3ea6" stroke-width="2.00" stroke-linecap="round" fill="none"/>
<path d="M548.8 660.0h0M526.7 649.4h0M544.5 653.8h0M542.6 642.6h0M559.6 658.0h0M533.8 667.5h0M535.9 672.9h0M555.9 653.4h0M533.6 656.4h0M554.0 646.1h0M530.1 663.8h0M546.8 662.8h0M526.2 647.3h0M556.0 647.7h0M557.8 664.9h0M539.1 648.2h0M555.0 656.0h0M540.3 653.9h0M528.7 648.6h0M527.3 645.5h0M530.0 664.2h0M531.6 662.2h0M535.2 669.2h0M538.0 641.5h0M533.6 652.8h0M538.2 657.6h0M528.0 644.8h0M543.5 663.7h0M538.3 640.2h0M528.6 657.3h0M547.2 639.5h0M554.3 655.8h0M527.0 666.0h0M546.5 651.4h0M532.1 661.1h0M556.2 661.2h0M536.9 650.2h0M533.1 660.8h0M553.1 665.3h0M533.9 661.5h0M545.2 666.2h0M551.4 670.5h0M539.6 659.7h0M549.9 670.5h0M538.3 664.9h0M553.4 648.1h0M545.5 666.7h0M524.1 659.9h0M541.4 649.8h0M551.5 643.4h0M527.3 664.5h0M557.7 656.5h0M544.5 650.1h0M546.7 644.9h0M554.3 645.6h0M538.0 672.3h0M550.2 672.5h0M529.5 661.5h0M538.4 641.8h0M547.0 659.9h0M537.9 644.5h0M539.8 642.2h0M544.3 657.2h0M541.9 640.2h0M529.3 664.0h0M540.4 664.4h0M545.8 655.4h0M531.1 641.9h0M537.0 667.5h0M543.6 663.6h0M529.5 663.0h0M528.0 656.1h0M546.9 655.9h0M534.9 652.5h0M536.5 657.0h0M551.0 643.9h0M544.6 667.1h0M555.0 662.2h0M532.5 653.4h0M538.9 668.1h0M556.7 661.4h0M554.2 660.8h0M535.6 651.5h0M536.2 672.5h0M526.8 648.2h0M532.9 672.7h0M542.9 669.1h0M527.8 656.1h0M539.9 649.1h0M535.1 660.0h0M550.1 665.6h0M536.7 672.8h0M553.9 647.5h0M527.7 657.5h0M529.6 643.9h0M528.0 658.1h0M542.4 650.1h0M536.1 666.2h0M533.2 641.7h0M527.4 656.9h0M555.6 646.0h0M543.2 655.9h0M534.0 650.8h0M541.8 666.1h0M541.0 642.5h0M536.9 669.9h0M551.2 641.4h0M548.8 655.6h0M539.7 670.4h0M553.2 669.7h0M547.3 649.5h0M544.5 659.0h0M533.0 652.4h0M550.6 666.7h0M551.7 651.4h0M537.7 662.0h0M539.0 660.7h0" stroke="#d4d6f0" stroke-width="0.80" stroke-linecap="round" fill="none"/>
<path d="M541.3 650.7h0M552.5 657.5h0M548.2 652.8h0M540.8 666.8h0M546.2 662.3h0M551.3 667.6h0M539.8 671.4h0M524.4 660.4h0M531.5 670.6h0M558.6 653.0h0M528.7 665.2h0M537.9 654.7h0M546.3 642.8h0M553.6 655.2h0M542.8 642.4h0M532.3 655.8h0M538.9 660.6h0M524.6 652.3h0M550.7 645.7h0M551.8 652.7h0M531.5 654.3h0M548.0 644.2h0M529.9 667.1h0M550.4 665.2h0M530.8 644.5h0M551.7 668.8h0M524.0 651.0h0M541.4 673.1h0M549.4 656.7h0M559.7 655.7h0M525.2 664.0h0M542.0 656.7h0M524.8 664.6h0M538.6 648.2h0M533.2 663.8h0M523.9 662.1h0M538.9 670.1h0M535.2 665.2h0M553.9 652.6h0M536.6 669.6h0M543.1 662.6h0M556.7 659.6h0M536.1 665.9h0M529.4 656.5h0M526.2 648.1h0M552.5 658.4h0M525.7 657.2h0M550.1 644.6h0M557.1 651.6h0M543.3 657.8h0M542.8 649.4h0M529.8 666.2h0M533.3 656.5h0M537.9 674.2h0M544.2 652.4h0M547.1 662.7h0M554.2 658.2h0M540.5 654.8h0M551.9 665.9h0M548.0 652.9h0M555.0 655.3h0M530.1 646.4h0M535.9 642.7h0M538.9 650.6h0M535.2 642.8h0M551.1 641.1h0M544.0 670.0h0M551.2 669.9h0M558.9 658.5h0M536.3 671.7h0M523.7 656.6h0M529.7 653.4h0M550.8 661.4h0M556.5 667.4h0M556.2 654.3h0M525.5 660.5h0M546.8 664.6h0M538.7 668.7h0M546.0 667.8h0M540.3 642.7h0M529.3 644.6h0M535.3 653.6h0M537.8 649.0h0M546.8 670.7h0M526.5 665.6h0M552.4 653.8h0M546.3 672.3h0M535.8 666.7h0M538.9 644.6h0M537.0 641.5h0M529.5 668.5h0M537.4 639.7h0M539.3 655.9h0M557.0 664.0h0M533.9 662.0h0M549.1 647.9h0M541.3 641.1h0M543.8 669.1h0M547.9 649.7h0M556.7 655.4h0M525.8 661.9h0M529.5 653.4h0M555.0 646.8h0M525.7 664.2h0M549.5 668.6h0M555.0 655.1h0M549.1 663.5h0M546.4 652.2h0M544.6 652.2h0M545.0 651.1h0M550.8 652.4h0M551.3 644.2h0M552.1 667.7h0M530.0 651.4h0M533.8 641.2h0M543.4 640.5h0M544.9 668.3h0M542.0 664.1h0M545.9 673.6h0M531.1 642.3h0M542.9 662.3h0M541.5 657.1h0M541.8 670.5h0M533.1 668.4h0M554.8 645.4h0M542.9 674.0h0M554.2 652.2h0M544.7 645.6h0M536.4 671.7h0M525.4 652.5h0M543.7 670.1h0M552.5 647.7h0M544.1 639.5h0M547.5 667.0h0M546.4 662.8h0M537.8 654.3h0M530.5 666.4h0M526.5 647.4h0M545.2 642.2h0M533.4 649.7h0M549.4 663.6h0M547.4 651.1h0M524.5 657.6h0" stroke="#d4d6f0" stroke-width="1.40" stroke-linecap="round" fill="none"/>
<rect x="521.10" y="680.00" width="41.80" height="41.30" fill="#d4d3de"/>
<circle cx="540.70" cy="700.60" r="20.30" fill="#e8e7ee"/>
<radialGradient id="pg32"><stop offset="0" stop-color="#bcbee2"/><stop offset="0.6" stop-color="#bcbee2"/><stop offset="1" stop-color="#9698d2"/></radialGradient>
<circle cx="540.70" cy="700.60" r="19.30" fill="url(#pg32)"/>
<path d="M548.3 704.6h0M542.3 705.7h0M546.9 699.7h0M544.8 701.1h0M536.1 706.6h0M542.5 686.4h0M552.9 699.6h0M539.0 695.2h0M538.5 697.1h0M534.5 706.1h0M536.5 695.1h0M535.5 702.1h0M546.4 710.4h0M536.5 682.6h0M558.7 704.6h0M523.7 706.0h0M554.0 700.0h0M532.5 692.8h0M524.5 699.5h0M534.0 699.8h0M543.0 708.6h0M527.2 702.8h0M540.1 718.6h0M556.2 700.1h0M557.3 709.0h0M554.5 701.9h0M527.4 708.3h0M528.0 687.6h0M541.2 695.4h0M555.5 700.4h0M547.4 691.8h0M535.6 703.8h0M543.5 716.7h0M544.8 712.7h0M541.7 716.6h0M536.7 688.7h0M544.0 702.5h0M543.4 696.9h0M525.8 711.5h0M556.0 701.1h0M542.6 705.4h0M547.1 704.6h0M530.9 705.0h0M532.7 688.3h0M556.8 696.7h0M550.5 713.8h0M543.8 696.1h0M529.9 688.9h0M557.1 702.9h0M533.0 704.7h0M530.6 708.1h0M544.7 689.8h0M533.7 694.6h0M542.3 687.3h0M553.6 691.0h0M546.8 696.9h0M526.2 701.7h0M531.1 705.2h0M538.4 704.6h0M523.9 703.9h0M545.3 687.9h0M553.4 692.4h0M527.9 705.8h0M537.8 690.3h0M544.3 695.6h0M533.2 705.1h0M538.4 707.3h0M529.4 709.9h0M535.4 713.0h0M538.3 692.1h0M552.5 697.3h0M556.4 695.0h0M527.9 689.7h0M551.0 688.3h0M542.2 683.0h0M522.1 701.1h0M552.1 693.9h0M545.1 686.8h0" stroke="#4d4db0" stroke-width="1.00" stroke-linecap="round" fill="none"/>
<path d="M551.4 692.9h0M542.0 701.9h0M539.7 686.5h0M536.3 708.7h0M524.0 703.1h0M558.9 701.4h0M550.3 689.4h0M531.8 700.1h0M543.4 686.5h0M558.3 701.0h0M533.2 686.0h0M549.6 699.6h0M545.2 692.3h0M540.8 695.5h0M540.9 711.2h0M531.5 709.6h0M539.8 707.9h0M524.7 697.4h0M545.1 686.7h0M527.7 698.6h0M558.3 702.6h0M537.2 683.1h0M549.4 707.4h0M544.4 685.0h0M528.4 691.6h0M537.6 715.6h0M533.4 684.7h0M553.6 707.6h0M550.1 687.9h0M549.3 709.7h0M548.8 700.1h0M553.3 712.2h0M540.0 707.0h0M526.3 695.4h0M535.7 698.5h0M550.3 702.5h0M550.6 707.8h0M537.6 706.7h0M537.9 691.3h0M544.7 701.7h0M542.3 715.4h0M551.8 686.1h0M545.5 715.5h0M548.8 711.3h0M545.4 697.7h0M539.4 701.6h0M528.9 697.8h0M529.5 694.0h0M537.2 712.8h0M535.9 699.7h0M554.0 691.6h0M544.0 716.3h0M548.6 715.6h0M532.9 697.6h0M530.5 699.6h0M537.5 713.6h0M558.4 702.2h0M550.8 685.4h0M530.6 713.1h0M535.3 711.4h0M529.6 706.1h0M557.2 693.0h0M537.9 715.0h0M556.8 700.1h0M532.1 684.3h0M543.8 687.4h0M533.7 686.5h0M538.3 702.2h0M524.0 698.0h0M537.4 713.6h0M549.6 711.6h0M528.5 707.0h0M538.8 695.0h0M528.4 688.7h0M531.2 687.1h0M533.9 708.6h0M528.6 712.6h0" stroke="#4d4db0" stroke-width="1.60" stroke-linecap="round" fill="none"/>
<path d="M551.5 708.5h0M522.7 698.0h0M540.3 701.0h0M550.1 686.3h0M547.6 697.3h0M553.2 696.7h0M539.3 692.4h0M526.2 699.7h0M543.8 700.6h0M525.3 690.4h0M533.3 717.5h0M550.3 694.3h0M548.6 707.6h0M544.4 704.5h0M522.2 700.3h0M548.1 717.7h0M532.6 700.2h0M554.3 708.9h0M533.9 706.1h0M532.7 717.1h0M533.9 702.9h0M535.9 703.2h0M527.1 711.4h0M553.9 707.0h0M527.7 705.7h0M554.7 706.6h0M537.0 688.6h0M557.9 694.4h0M542.5 682.5h0M541.2 702.6h0M529.4 705.0h0M524.3 703.9h0M525.5 694.4h0M535.5 683.8h0M539.5 697.5h0M535.7 683.6h0M526.8 700.5h0M533.6 691.9h0M557.8 698.2h0M542.1 685.9h0M525.6 690.8h0M557.5 699.2h0M548.7 704.8h0M546.0 707.7h0M541.9 705.9h0" stroke="#4d4db0" stroke-width="2.00" stroke-linecap="round" fill="none"/>
<path d="M549.8 688.4h0M544.5 697.1h0M528.1 708.0h0M535.2 703.4h0M535.3 696.3h0M539.6 714.2h0M535.9 709.3h0M557.2 693.0h0M537.7 694.3h0M531.5 690.5h0M554.1 711.6h0M528.6 708.8h0M544.0 705.8h0M529.8 686.0h0M534.7 693.2h0M551.5 688.9h0M545.1 710.6h0M533.2 710.7h0M556.7 701.5h0M534.0 688.1h0M534.1 706.9h0M555.4 708.6h0M533.6 696.2h0M522.9 696.0h0M531.4 714.6h0M549.9 689.2h0M528.9 706.5h0M528.2 705.0h0M543.0 712.1h0M558.6 700.8h0M541.7 694.7h0M550.7 693.2h0M535.0 688.7h0M527.5 692.8h0M553.3 700.3h0M530.8 709.8h0M543.4 685.0h0M538.0 684.2h0M541.4 683.7h0M545.4 693.1h0M555.2 697.1h0M537.1 714.0h0M547.1 700.3h0M534.2 701.7h0M537.7 683.0h0M540.7 713.5h0M528.4 711.6h0M532.0 705.8h0M533.8 712.7h0M551.8 713.2h0M558.7 700.8h0M546.1 710.3h0M536.8 705.7h0M549.1 708.9h0M526.0 707.0h0M543.6 700.8h0M531.3 700.2h0M538.5 691.9h0M538.2 697.2h0M541.4 707.5h0M537.9 709.1h0M538.0 691.4h0M529.1 688.7h0M530.7 696.1h0M533.7 685.2h0M548.0 712.4h0M534.2 688.6h0M528.3 707.7h0M547.3 683.3h0M536.3 702.8h0M556.3 710.6h0M535.0 708.5h0M530.5 703.5h0M542.1 698.0h0M533.5 696.5h0M538.1 709.7h0M550.3 701.5h0M532.4 699.1h0M555.2 712.3h0M544.4 705.4h0M544.0 707.5h0M533.8 686.7h0M536.5 684.2h0M546.6 699.4h0M533.6 689.9h0M523.6 695.4h0M542.8 716.2h0M541.3 704.9h0M530.9 700.7h0M544.6 710.7h0M547.3 700.7h0M541.1 702.4h0M553.7 688.9h0M543.0 699.7h0M547.8 714.5h0M551.0 714.2h0M537.8 715.5h0M548.7 693.4h0M540.8 696.5h0M546.7 684.9h0M538.8 698.4h0M525.0 690.6h0M552.4 691.8h0M535.7 714.5h0M535.9 690.3h0M552.0 714.6h0M543.0 694.1h0M530.0 690.3h0M529.8 698.8h0M532.8 693.8h0M528.2 687.2h0M550.1 706.0h0M554.7 694.7h0M530.6 707.4h0M544.9 694.2h0M527.4 696.1h0M550.3 708.1h0M536.2 705.8h0M553.4 688.3h0M537.6 691.3h0" stroke="#e6e6f4" stroke-width="0.80" stroke-linecap="round" fill="none"/>
<path d="M543.6 706.6h0M529.7 713.6h0M552.1 707.0h0M534.8 685.4h0M547.7 697.2h0M554.0 706.7h0M547.9 707.0h0M540.6 687.8h0M536.3 715.8h0M548.1 711.9h0M544.5 699.7h0M540.7 688.4h0M554.1 694.5h0M548.5 707.5h0M547.4 685.4h0M544.1 692.8h0M527.4 711.9h0M553.3 701.6h0M536.1 707.7h0M545.3 688.1h0M549.1 701.8h0M529.5 709.0h0M552.1 712.4h0M541.2 709.0h0M546.1 693.9h0M529.9 690.7h0M534.2 707.9h0M544.9 688.7h0M538.1 701.1h0M550.5 706.2h0M537.1 709.3h0M552.4 686.4h0M530.6 708.4h0M542.1 700.6h0M550.5 692.0h0M534.3 684.2h0M558.8 700.1h0M543.1 683.4h0M532.1 686.6h0M550.0 705.9h0M550.5 692.5h0M547.6 717.2h0M538.8 701.9h0M551.0 690.3h0M541.4 690.1h0M547.5 707.2h0M546.8 686.8h0M540.3 705.6h0M531.1 691.2h0M550.5 697.0h0M553.0 714.6h0M539.0 703.3h0M540.5 683.3h0M556.4 702.6h0M534.0 696.0h0M550.3 710.1h0M539.7 683.5h0M544.0 708.7h0M543.1 689.0h0M547.1 700.0h0M554.8 691.2h0M535.1 698.8h0M523.1 703.9h0M530.0 704.8h0M547.8 687.4h0M552.4 700.7h0M532.5 702.2h0M537.4 702.9h0M547.2 716.3h0M553.9 704.4h0M550.3 704.3h0M534.3 715.2h0M526.6 689.1h0M542.4 716.7h0M541.9 714.0h0M531.8 691.2h0M535.7 709.6h0M534.7 699.4h0M553.8 688.6h0M541.0 695.7h0M549.9 716.5h0M546.1 691.8h0M536.8 683.2h0M530.4 694.4h0M522.5 698.1h0M556.8 708.8h0M554.8 708.0h0M551.0 713.9h0M541.5 689.8h0M533.5 700.9h0M523.6 702.6h0M548.1 710.3h0M543.8 705.6h0M551.8 708.1h0M532.8 690.6h0M549.6 690.8h0M530.9 709.3h0M544.9 700.3h0M535.1 716.7h0M539.1 718.7h0M543.9 695.3h0M525.9 696.3h0M544.3 692.0h0M540.1 712.7h0M554.0 701.1h0M539.3 685.8h0M540.3 692.6h0M536.2 683.9h0M536.7 694.3h0M538.7 688.2h0M533.2 701.0h0M553.1 687.9h0M537.8 689.0h0M543.3 682.5h0M532.0 691.9h0M540.4 682.8h0M536.5 702.3h0M534.9 718.0h0M531.3 702.9h0M551.1 692.9h0M540.3 685.0h0M547.5 693.8h0M536.4 687.2h0M546.3 714.3h0M529.7 700.3h0M539.7 683.9h0M539.1 719.1h0M540.7 685.2h0M535.7 705.7h0M554.1 711.9h0M557.4 707.8h0M552.2 692.2h0M553.2 689.9h0M525.4 708.1h0M542.7 708.7h0M538.9 704.4h0M554.6 694.2h0M550.0 700.8h0M559.2 701.0h0M550.3 715.9h0" stroke="#e6e6f4" stroke-width="1.40" stroke-linecap="round" fill="none"/>
<text x="508.60" y="653.10" font-size="7.32" text-anchor="middle" transform="rotate(-90 508.60 653.10)">Control</text>
<text x="515.70" y="653.10" font-size="7.32" text-anchor="middle" transform="rotate(-90 515.70 653.10)">(IgA)</text>
<text x="508.60" y="699.50" font-size="7.32" text-anchor="middle" transform="rotate(-90 508.60 699.50)">PIGR</text>
<text x="515.70" y="699.50" font-size="7.32" text-anchor="middle" transform="rotate(-90 515.70 699.50)">(IgA)</text>
<line x1="591.50" y1="640.40" x2="591.50" y2="700.40" stroke="#000" stroke-width="0.9"/>
<line x1="589.30" y1="640.80" x2="591.50" y2="640.80" stroke="#000" stroke-width="0.9"/>
<text x="588.30" y="643.10" font-size="6.40" text-anchor="end">1200</text>
<line x1="589.30" y1="660.70" x2="591.50" y2="660.70" stroke="#000" stroke-width="0.9"/>
<text x="588.30" y="663.00" font-size="6.40" text-anchor="end">800</text>
<line x1="589.30" y1="680.40" x2="591.50" y2="680.40" stroke="#000" stroke-width="0.9"/>
<text x="588.30" y="682.70" font-size="6.40" text-anchor="end">400</text>
<line x1="589.30" y1="700.10" x2="591.50" y2="700.10" stroke="#000" stroke-width="0.9"/>
<text x="588.30" y="702.40" font-size="6.40" text-anchor="end">0</text>
<line x1="591.50" y1="700.10" x2="621.20" y2="700.10" stroke="#000" stroke-width="0.9"/>
<line x1="600.80" y1="700.10" x2="600.80" y2="702.30" stroke="#000" stroke-width="0.9"/>
<line x1="615.70" y1="700.10" x2="615.70" y2="702.30" stroke="#000" stroke-width="0.9"/>
<rect x="596.20" y="651.60" width="9.20" height="48.50" fill="#1f4e9f" stroke="#000" stroke-width="0.8"/>
<rect x="611.00" y="671.80" width="9.40" height="28.30" fill="#e2321e" stroke="#000" stroke-width="0.8"/>
<line x1="600.80" y1="648.50" x2="600.80" y2="654.50" stroke="#000" stroke-width="0.8"/>
<line x1="598.60" y1="654.50" x2="603.00" y2="654.50" stroke="#000" stroke-width="0.8"/>
<line x1="615.70" y1="669.50" x2="615.70" y2="673.50" stroke="#000" stroke-width="0.8"/>
<circle cx="598.50" cy="648.80" r="1.50" fill="#fff" stroke="#000" stroke-width="0.8"/>
<circle cx="603.00" cy="650.00" r="1.50" fill="#fff" stroke="#000" stroke-width="0.8"/>
<circle cx="600.80" cy="654.50" r="1.50" fill="none" stroke="#000" stroke-width="0.8"/>
<circle cx="613.50" cy="671.00" r="1.50" fill="#fff" stroke="#000" stroke-width="0.8"/>
<circle cx="617.50" cy="670.50" r="1.50" fill="#fff" stroke="#000" stroke-width="0.8"/>
<circle cx="615.70" cy="672.50" r="1.50" fill="#fff" stroke="#000" stroke-width="0.8"/>
<line x1="599.90" y1="645.50" x2="616.20" y2="645.50" stroke="#000" stroke-width="0.9"/>
<text x="608.20" y="646.00" font-size="7.50" text-anchor="middle">**</text>
<text x="571.60" y="671.20" font-size="6.44" text-anchor="middle" transform="rotate(-90 571.60 671.20)">Cell number</text>
<text x="598.00" y="712.80" font-size="6.63" text-anchor="middle">Control</text>
<text x="598.00" y="721.20" font-size="6.63" text-anchor="middle">(IgA)</text>
<text x="620.50" y="712.80" font-size="6.63" text-anchor="middle">PIGR</text>
<text x="620.50" y="721.20" font-size="6.63" text-anchor="middle">(IgA)</text>
<text x="22.80" y="774.80" font-size="11.50" font-weight="bold">U</text>
<text x="89.00" y="786.20" font-size="9.70">Transwell assay</text>
<rect x="64.90" y="790.50" width="62.10" height="41.00" fill="#e8e6e4"/>
<path d="M96.1 813.1h0M117.8 791.7h0M115.5 807.9h0M122.4 821.7h0M78.1 830.6h0M99.1 826.9h0M110.1 810.1h0M90.5 808.9h0M85.3 792.5h0M95.0 799.0h0M125.7 824.1h0M123.7 810.4h0M125.0 802.9h0M76.9 799.7h0M70.1 803.0h0M107.1 809.1h0M120.2 808.2h0M96.6 801.0h0M93.6 792.8h0M122.8 797.3h0M126.4 818.2h0M110.3 809.3h0M94.5 812.2h0M116.8 825.0h0M81.5 820.3h0M117.7 805.6h0M77.9 804.5h0M100.3 811.4h0M67.3 793.2h0M98.4 803.9h0M112.2 821.9h0M103.8 805.0h0M77.1 803.5h0M76.0 809.7h0M122.8 813.0h0M66.5 818.5h0M77.2 797.3h0M102.3 809.8h0M106.5 827.4h0M110.4 793.9h0M112.1 804.6h0M85.2 806.0h0M69.0 806.9h0M119.0 795.2h0M81.7 809.9h0M120.4 807.5h0M65.7 812.4h0M116.6 824.9h0M74.3 803.5h0M65.9 811.4h0M120.3 809.2h0M126.0 808.3h0M93.6 790.5h0M84.3 807.9h0M81.5 806.9h0M115.0 799.2h0M107.2 813.5h0M95.0 801.5h0M65.3 814.8h0M76.4 810.6h0M95.2 808.6h0M97.7 800.4h0M85.8 815.0h0M119.5 807.7h0M92.1 815.4h0M105.5 799.1h0M91.8 813.6h0M87.6 812.8h0M91.8 806.9h0M76.1 816.2h0M72.8 813.8h0M112.3 811.0h0M93.7 815.2h0M97.6 799.5h0M70.8 822.1h0M93.7 809.8h0M119.0 810.7h0M73.4 797.7h0M81.7 812.0h0M90.6 814.7h0M79.8 825.9h0M126.0 802.7h0M67.9 818.9h0M114.0 809.1h0M78.9 801.3h0M107.8 821.6h0M117.7 812.4h0M82.4 809.7h0M72.7 820.4h0M86.8 804.9h0M84.8 801.1h0M92.2 796.3h0M72.0 811.4h0M80.9 803.8h0M101.7 795.8h0M68.2 798.9h0M113.6 801.1h0M98.1 813.1h0M116.5 802.6h0M85.7 812.1h0M100.6 804.4h0M90.9 817.1h0M75.0 807.3h0M91.7 819.2h0M117.4 825.1h0M73.4 804.1h0M67.9 813.0h0M89.9 831.2h0M83.6 818.5h0M66.7 808.1h0M82.5 808.6h0M110.7 797.9h0M118.6 805.8h0M74.7 807.3h0M67.2 819.0h0M87.3 825.4h0M111.2 794.4h0M81.1 813.0h0M125.0 800.9h0M107.8 806.9h0M67.1 824.6h0M126.2 805.7h0M104.4 814.8h0M124.8 818.8h0M105.0 822.3h0M77.1 797.1h0M120.2 805.8h0M107.7 822.5h0M82.7 830.3h0M119.8 810.1h0M80.7 818.9h0M125.4 830.4h0M91.9 795.0h0M112.7 820.7h0M88.6 818.1h0M113.7 797.5h0M116.7 803.7h0M72.7 814.6h0M69.4 806.4h0M90.0 810.5h0M105.5 815.8h0M76.0 824.8h0M115.0 801.7h0M98.1 806.7h0M105.2 791.6h0M91.9 811.6h0M118.2 796.9h0M107.1 791.7h0M103.7 810.2h0M107.6 801.7h0M102.5 802.9h0M106.6 801.3h0M98.2 809.6h0M119.5 812.2h0M107.7 792.4h0M85.3 802.2h0M74.0 811.0h0M89.3 824.6h0M76.6 816.5h0M68.3 823.4h0M84.4 805.1h0M91.3 794.9h0M104.1 827.2h0M67.9 791.0h0M100.1 809.5h0M65.0 815.6h0M117.7 812.1h0M126.1 822.6h0M76.3 807.0h0M72.5 798.1h0M100.2 802.6h0M69.4 821.8h0M123.9 806.7h0M104.7 797.3h0M102.0 814.2h0M65.4 814.9h0M119.8 825.4h0M79.5 797.3h0M98.3 813.0h0M76.1 810.8h0M117.6 798.4h0M111.3 797.9h0M102.6 827.9h0M126.4 825.8h0M76.9 816.1h0M82.1 806.3h0M82.7 799.3h0M103.9 815.6h0M84.9 815.6h0M114.9 807.3h0M81.0 808.4h0M106.5 802.2h0M67.6 811.2h0M97.8 818.0h0M122.9 801.9h0M99.5 807.0h0M67.8 830.9h0M79.9 809.6h0M81.5 805.1h0M75.8 794.0h0M84.7 826.3h0M100.4 822.7h0M68.6 804.0h0M75.7 829.5h0M111.9 798.3h0M116.8 806.2h0M67.5 808.5h0M103.6 807.8h0M82.8 821.3h0M71.2 798.2h0M76.8 807.4h0M95.6 822.1h0M66.7 809.9h0M120.7 801.4h0M103.9 819.7h0M69.1 812.2h0M92.8 824.6h0M123.9 818.2h0M92.1 801.6h0M75.6 798.9h0M93.7 811.5h0M99.2 798.8h0M69.5 811.7h0M120.9 815.6h0M90.4 821.3h0M86.6 801.3h0" stroke="#c0bed2" stroke-width="0.70" stroke-linecap="round" fill="none"/>
<path d="M122.4 806.8h0M98.9 816.3h0M126.8 811.2h0M92.1 824.8h0M126.1 824.3h0M101.7 797.7h0M65.9 819.5h0M77.4 813.5h0M76.0 805.2h0M112.3 804.6h0M116.4 822.7h0M104.9 812.6h0M122.4 824.6h0M91.0 814.8h0M118.2 799.7h0M98.2 811.2h0M74.0 808.0h0M93.7 804.0h0M105.9 802.5h0M124.5 802.1h0M82.2 822.6h0M89.9 825.6h0M100.4 799.5h0M99.2 807.3h0M102.6 809.7h0M111.8 790.6h0M81.9 820.8h0M65.0 817.9h0M113.6 794.9h0M122.4 815.7h0M74.8 825.7h0M74.5 812.0h0M123.4 801.4h0M69.6 814.9h0M118.0 817.4h0M70.6 809.8h0M65.5 791.2h0M76.4 809.7h0M70.1 821.7h0M88.7 791.8h0M68.6 813.7h0M85.4 814.1h0M100.8 818.3h0M106.4 806.3h0M102.9 797.8h0M72.5 797.7h0M79.2 822.0h0M123.3 806.0h0M89.6 821.1h0M111.4 806.1h0M79.2 810.9h0M112.5 798.6h0M109.5 808.8h0M66.0 808.6h0M106.7 803.1h0M83.6 808.2h0M78.6 795.4h0M119.5 831.5h0M85.8 796.3h0M97.2 812.2h0M78.0 800.6h0M97.4 830.3h0M92.4 812.1h0M125.9 791.0h0M66.1 813.3h0M76.8 828.5h0M79.0 792.5h0M80.7 830.8h0M93.1 809.5h0M111.1 805.0h0M89.0 826.3h0M100.0 809.9h0M121.5 815.8h0M117.4 804.0h0M70.6 814.4h0M96.1 799.4h0M89.3 801.0h0M78.8 794.7h0M90.8 802.4h0M66.9 795.1h0M95.4 805.8h0M102.7 803.0h0M71.7 813.3h0M68.3 801.8h0M87.3 811.6h0M121.8 795.8h0M69.3 809.8h0M99.9 817.8h0M90.9 819.5h0M126.9 803.8h0M105.5 800.8h0M95.9 809.6h0M121.3 804.3h0M72.2 799.8h0M90.4 811.5h0M90.3 806.5h0M114.5 820.7h0M69.6 808.9h0M68.2 807.3h0M66.2 806.1h0M78.1 810.9h0M112.0 797.1h0M90.3 800.6h0M79.7 801.8h0M79.7 808.1h0M99.8 807.2h0M112.8 810.3h0M92.4 805.9h0M68.2 798.2h0M73.1 800.4h0M123.1 815.7h0M98.2 806.0h0M126.5 795.1h0M66.8 813.4h0M92.3 809.9h0M111.0 812.1h0M121.0 813.2h0M67.6 809.8h0M76.3 805.4h0M103.8 816.9h0M121.3 809.9h0M115.3 793.1h0M67.6 805.1h0M67.0 815.2h0M91.8 808.4h0M73.5 828.8h0M67.8 795.8h0M126.5 795.4h0M123.8 812.8h0M122.0 802.9h0M105.6 795.3h0M114.3 807.8h0M113.2 801.3h0M88.3 807.9h0M65.4 799.0h0M126.1 821.3h0M117.4 803.2h0M75.0 794.1h0M115.6 808.7h0M80.7 804.3h0M76.7 800.3h0M86.8 801.9h0M70.5 807.3h0M72.3 829.4h0M120.2 802.9h0M109.0 798.8h0M74.0 808.9h0M112.1 810.8h0M119.7 796.8h0M67.1 815.4h0M77.0 807.2h0M110.9 803.9h0M99.9 808.7h0M86.3 822.0h0M85.4 812.3h0M70.0 822.7h0M112.3 811.5h0M70.8 817.5h0M68.7 799.0h0M91.7 808.9h0M119.5 798.9h0M109.6 820.1h0M104.3 816.5h0M66.1 806.2h0M98.5 803.4h0M74.0 797.7h0M79.8 807.2h0M104.6 797.7h0M112.2 799.9h0M109.5 810.7h0M112.3 812.4h0M75.4 829.8h0M82.4 831.5h0M66.7 808.2h0M101.1 800.9h0M75.6 809.6h0M114.9 824.6h0M107.7 811.8h0M100.2 816.5h0M84.0 808.5h0M101.8 810.1h0M101.6 804.0h0M117.5 804.7h0M75.3 799.8h0M115.9 810.8h0M68.9 812.1h0M119.0 798.7h0M111.0 811.2h0M96.4 811.1h0M82.6 801.0h0M77.0 797.7h0M65.8 819.8h0M109.7 808.1h0M119.4 822.5h0M70.4 802.4h0M75.5 820.7h0M88.8 822.9h0M74.6 813.0h0M107.6 805.6h0M125.0 825.6h0M91.3 819.9h0M112.0 798.2h0M111.3 825.5h0M108.1 825.8h0M68.9 816.0h0M67.9 821.4h0M122.7 804.0h0M110.6 800.1h0M75.8 812.2h0M81.2 831.0h0M87.9 812.2h0M125.0 801.9h0M88.0 827.9h0M126.5 807.3h0M113.5 800.2h0M105.9 807.3h0M74.2 803.6h0M113.0 802.3h0M97.4 803.8h0M108.5 814.6h0M109.2 816.8h0M77.9 810.1h0M106.6 812.4h0M103.9 801.7h0M66.8 813.6h0M112.4 823.2h0M109.3 808.0h0M117.6 831.3h0M79.1 811.5h0M94.5 813.0h0M92.8 808.2h0M104.7 803.4h0M108.6 817.5h0M109.5 825.5h0M87.8 810.4h0M77.1 801.2h0M88.0 803.3h0M83.0 813.9h0M113.0 803.3h0M68.7 799.6h0M99.7 814.1h0M76.6 814.4h0M74.6 812.1h0M71.8 814.2h0M125.5 801.6h0M122.4 806.9h0M102.1 804.1h0M124.4 792.9h0M75.5 815.4h0M93.2 824.6h0M120.0 803.6h0M78.8 828.1h0M86.7 814.3h0M121.5 802.5h0M122.7 794.2h0M96.1 800.7h0M122.8 819.9h0M99.2 812.8h0M106.9 818.5h0M80.5 813.9h0M86.1 806.8h0M94.7 811.0h0M88.7 799.2h0M74.4 811.0h0M77.4 821.5h0M84.6 805.7h0M66.5 821.4h0M120.5 820.7h0M107.1 810.7h0M65.1 806.6h0M94.1 813.8h0M97.1 811.3h0M110.1 798.0h0M84.6 805.6h0M105.3 810.3h0M67.7 792.1h0M116.3 811.3h0M112.4 796.8h0M92.4 801.2h0M103.4 823.2h0M106.1 806.1h0M96.6 811.7h0M66.2 815.0h0M90.1 822.7h0M117.5 804.5h0M121.7 829.6h0M117.9 805.3h0M113.0 799.3h0M87.5 821.4h0M83.3 807.4h0M88.0 800.5h0M85.7 815.5h0M93.0 814.1h0M79.1 802.2h0M88.1 812.4h0M80.9 823.8h0M70.3 813.8h0M78.0 812.0h0M110.0 792.6h0M116.3 805.0h0M99.7 791.7h0M97.3 800.1h0M83.4 828.5h0M126.9 800.2h0M99.8 810.5h0M84.1 798.4h0M91.6 813.1h0M107.1 803.6h0M73.0 793.5h0M103.8 830.0h0M93.0 805.0h0M68.9 794.4h0M84.5 831.4h0M125.9 802.7h0M105.1 808.2h0M110.6 826.5h0M100.9 809.3h0M78.5 802.8h0M73.7 811.6h0M110.6 805.0h0M98.6 808.3h0M71.8 810.0h0M90.9 811.4h0M96.4 807.5h0M97.0 807.8h0M83.7 816.6h0M66.5 828.2h0M66.6 791.7h0M118.4 812.6h0M125.5 808.7h0M97.7 792.3h0M111.1 808.2h0M71.0 814.1h0M106.1 822.9h0M94.9 812.8h0M96.8 797.7h0M121.7 803.4h0M99.5 796.8h0M83.5 823.3h0M73.8 810.9h0M78.3 817.9h0M77.9 820.7h0M69.3 829.1h0M120.5 800.9h0M107.3 817.9h0M121.6 825.5h0M116.1 801.2h0M75.0 811.6h0M112.2 826.3h0M118.5 801.1h0M111.9 831.3h0M85.2 802.8h0M109.9 812.6h0M118.8 802.6h0M88.2 808.7h0M93.2 810.3h0M117.9 822.6h0M124.6 828.0h0M98.3 826.9h0M115.9 810.3h0M71.5 815.8h0M115.6 828.3h0M96.6 810.1h0M83.1 803.6h0M82.2 808.0h0M103.8 807.1h0M99.4 798.0h0M73.2 797.3h0M112.4 817.7h0M103.3 804.5h0M75.2 820.5h0M73.8 806.7h0M72.6 828.8h0M67.1 814.5h0" stroke="#c0bed2" stroke-width="1.10" stroke-linecap="round" fill="none"/>
<path d="M117.8 808.5h0M100.0 817.6h0M105.5 816.1h0M78.9 805.1h0M102.9 805.3h0M112.3 799.2h0M118.6 807.8h0M68.8 812.2h0M69.1 793.9h0M93.9 803.8h0M79.6 806.5h0M91.6 820.5h0M77.8 809.5h0M109.2 794.4h0M97.4 807.9h0M108.5 808.6h0M71.3 799.9h0M68.8 814.5h0M86.8 800.1h0M80.4 801.6h0M73.1 812.4h0M72.1 808.8h0M67.0 817.0h0M84.5 807.9h0M81.0 820.5h0M116.2 824.3h0M97.6 801.9h0M126.8 799.0h0M70.7 804.4h0M72.7 814.5h0M118.6 794.3h0M117.1 808.4h0M105.2 818.3h0M106.2 791.6h0M98.6 824.0h0M76.1 829.4h0M111.8 821.6h0M68.7 818.8h0M113.8 801.7h0M73.1 802.8h0M71.4 805.4h0M91.1 810.5h0M104.3 792.5h0M67.3 809.7h0M106.7 799.1h0M94.8 831.4h0M121.4 800.9h0M97.3 813.1h0M70.1 804.5h0M121.9 808.4h0M113.7 793.7h0M91.1 817.5h0M103.5 808.4h0M106.0 803.0h0M96.2 812.9h0M95.8 804.9h0M122.3 803.1h0M69.3 818.4h0M80.7 805.7h0M116.7 797.5h0M72.0 816.8h0M92.0 826.3h0M125.7 802.8h0M68.5 813.5h0M92.5 798.9h0M126.6 806.8h0M107.0 805.7h0M119.5 827.0h0M91.6 815.5h0M80.2 815.5h0M80.6 813.7h0M103.2 809.9h0M72.0 812.1h0M124.1 830.0h0M66.7 813.5h0M90.5 827.4h0M66.0 808.7h0M109.6 795.8h0M113.3 798.4h0M125.4 807.6h0M122.1 803.8h0M79.8 811.7h0M99.0 808.7h0M106.1 818.7h0M116.1 792.2h0M90.6 818.8h0M125.5 798.5h0M66.9 813.6h0M102.3 805.0h0M84.9 819.7h0M78.6 829.0h0M106.5 822.3h0M96.5 813.0h0M120.4 801.2h0M83.6 793.7h0M104.9 827.3h0M120.0 819.7h0M65.3 817.0h0M86.9 808.3h0M68.5 813.6h0M111.4 794.9h0M86.9 803.6h0M111.9 807.9h0M65.7 821.1h0M65.9 811.9h0M120.9 803.3h0M95.0 792.7h0M98.9 816.9h0M111.7 791.3h0M88.0 815.3h0M91.8 812.7h0M95.8 829.1h0M84.8 820.4h0M97.5 800.3h0M118.8 793.6h0M108.2 802.4h0M82.2 822.5h0M125.7 825.8h0" stroke="#a07ede" stroke-width="0.80" stroke-linecap="round" fill="none"/>
<path d="M81.8 816.6h0M72.8 807.0h0M126.8 803.2h0M101.6 798.6h0M75.9 810.1h0M82.7 822.7h0M115.3 816.8h0M67.7 811.6h0M102.7 818.3h0M121.5 807.7h0M67.0 829.3h0M104.1 810.4h0M66.0 809.4h0M122.7 806.9h0M90.9 813.6h0M94.5 794.1h0M117.3 810.3h0M99.3 812.1h0M106.8 809.2h0M65.2 812.6h0M112.3 814.7h0M96.5 790.9h0M107.1 800.4h0M91.5 811.5h0M110.3 807.0h0M86.5 804.4h0M80.5 811.3h0M114.5 801.7h0M65.4 796.6h0M66.1 830.7h0M65.8 814.2h0M122.8 801.7h0M89.0 825.1h0M86.2 814.5h0M112.5 816.0h0M70.8 813.7h0M124.2 815.8h0M84.8 810.4h0M93.4 810.1h0M121.8 827.4h0M77.8 808.7h0M89.3 799.9h0M66.4 815.5h0M96.4 806.0h0M103.4 810.3h0M89.5 805.6h0M107.4 816.8h0M88.9 809.5h0M119.2 803.0h0M125.9 802.6h0M76.8 811.5h0M123.5 831.5h0M106.6 798.2h0M94.4 828.3h0M98.5 824.5h0M95.8 810.8h0M103.2 806.8h0M74.1 806.5h0M113.4 813.5h0M74.3 807.3h0M110.7 823.3h0M96.6 822.4h0M79.3 809.7h0M119.4 800.3h0M97.7 828.4h0M116.2 821.0h0M113.4 809.2h0M101.2 805.8h0M86.9 820.1h0M94.8 796.6h0M111.3 813.8h0M109.6 809.9h0M96.0 805.4h0M112.4 808.3h0M104.7 808.5h0M98.0 802.3h0M71.1 811.8h0M122.6 823.6h0M123.7 802.5h0M113.6 807.2h0M65.6 808.8h0M112.3 807.7h0M104.6 807.4h0M83.9 814.5h0M105.7 805.8h0M98.8 818.5h0M70.6 816.1h0M91.7 791.0h0M116.6 809.2h0M111.0 817.2h0M112.8 795.4h0M81.5 817.2h0M98.1 801.3h0M74.5 812.5h0M75.3 831.2h0M76.2 813.6h0M70.2 802.2h0M110.4 807.7h0M80.4 810.4h0M96.2 813.3h0M83.8 805.0h0M66.8 802.5h0M93.0 802.8h0M108.2 804.3h0M66.8 824.1h0M101.1 800.2h0M90.6 814.5h0M81.2 804.7h0M70.9 804.9h0M82.6 826.5h0M114.0 805.7h0M80.3 798.7h0M89.1 818.0h0M72.9 817.6h0M80.2 800.1h0M119.5 794.5h0M84.4 814.8h0M71.3 790.7h0M79.5 806.7h0M105.0 811.7h0M94.9 811.5h0M99.4 819.2h0M98.2 804.0h0M77.9 804.0h0M114.3 800.7h0M81.2 815.2h0M111.7 817.9h0M102.4 792.6h0M111.6 809.4h0M115.0 810.7h0M96.7 804.6h0M99.8 794.5h0M70.3 819.0h0M99.7 797.7h0M118.9 800.0h0M68.5 811.8h0M70.0 808.7h0M117.2 813.3h0M71.2 803.5h0M123.6 794.2h0M118.8 824.6h0M118.0 818.5h0M105.2 812.0h0M108.8 801.4h0M107.8 796.4h0M69.1 829.8h0M115.8 804.9h0M111.1 800.7h0M84.7 806.1h0M86.5 826.4h0M82.5 813.0h0M123.7 803.6h0M65.3 806.4h0M82.2 819.7h0M78.2 804.0h0M109.9 804.3h0M87.7 808.8h0M109.8 801.1h0M115.1 804.1h0M70.8 799.9h0M116.0 794.3h0M72.5 825.9h0M120.7 810.6h0M77.5 812.2h0M100.4 818.3h0M93.1 815.8h0M121.1 820.1h0M117.0 805.7h0M66.0 807.5h0M117.0 827.7h0M119.2 820.7h0M78.1 820.5h0M109.7 828.4h0M84.8 802.0h0M77.7 811.4h0M104.1 810.8h0M119.3 810.2h0M72.8 828.1h0M80.7 801.3h0M117.9 797.8h0M101.8 813.7h0M86.5 812.0h0" stroke="#a07ede" stroke-width="1.30" stroke-linecap="round" fill="none"/>
<path d="M106.5 807.3h0M85.0 797.7h0M117.0 801.9h0M109.9 810.4h0M82.1 817.9h0M122.0 804.3h0M85.9 795.5h0M102.4 791.5h0M78.0 802.1h0M95.4 821.8h0M107.6 796.3h0M71.6 826.0h0M100.4 829.1h0M72.3 826.3h0M107.0 820.0h0M79.2 814.9h0M105.1 809.4h0M69.6 802.8h0M100.1 822.2h0M65.9 809.3h0M104.0 802.6h0M89.5 809.8h0M93.9 798.9h0M93.2 812.2h0M86.4 806.7h0M76.4 811.9h0M102.2 808.7h0M84.9 826.9h0M102.1 801.8h0M76.7 796.2h0M111.8 794.8h0M110.1 808.9h0M111.7 812.0h0M126.7 810.9h0M104.9 824.2h0M78.2 822.0h0M78.9 811.4h0M65.1 806.1h0M119.9 821.5h0M107.8 804.2h0M115.3 796.8h0M123.6 812.0h0M110.8 801.1h0M96.0 808.4h0M69.1 811.8h0M93.7 816.8h0M107.6 807.9h0M99.8 819.2h0M69.1 816.6h0M116.1 809.0h0M75.5 811.0h0M116.3 794.6h0M120.7 823.8h0M68.6 807.0h0M120.8 797.0h0" stroke="#7036d6" stroke-width="1.00" stroke-linecap="round" fill="none"/>
<path d="M90.6 802.2h0M112.1 802.7h0M101.6 802.7h0M122.2 794.7h0M115.7 800.0h0M93.2 814.0h0M84.2 812.8h0M68.3 792.5h0M107.8 819.3h0M112.5 793.2h0M85.4 806.0h0M123.5 803.6h0M118.2 825.2h0M103.0 808.7h0M79.3 803.5h0M104.2 822.9h0M99.2 805.3h0M80.4 823.8h0M79.4 814.0h0M117.4 810.9h0M90.5 808.5h0M75.7 810.8h0M71.5 804.4h0M81.0 813.5h0M78.8 807.8h0M108.5 802.0h0M79.9 805.2h0M99.4 808.5h0M109.6 801.1h0M90.4 820.9h0M75.6 806.5h0M78.5 794.8h0M75.5 809.3h0M120.1 805.5h0M102.5 803.2h0M94.0 808.4h0M81.0 800.0h0M77.6 796.0h0M84.4 819.5h0M126.2 814.0h0M76.4 831.3h0M76.5 824.8h0M86.1 805.1h0M73.1 824.8h0M69.9 807.9h0M97.3 800.3h0M123.7 809.0h0M98.2 815.5h0M65.3 831.1h0M121.4 807.9h0M108.7 820.6h0M92.7 823.1h0M124.0 827.8h0M99.6 797.1h0M105.9 808.0h0M80.7 808.9h0M72.5 812.4h0M104.7 803.9h0M76.9 820.5h0M86.7 810.9h0M84.1 795.8h0" stroke="#7036d6" stroke-width="1.50" stroke-linecap="round" fill="none"/>
<path d="M106.1 802.9h0M88.6 804.1h0M94.8 808.0h0M67.8 817.2h0M96.5 813.1h0M123.7 797.9h0M112.3 794.2h0M80.5 808.1h0M91.6 805.9h0M103.9 814.9h0M84.9 807.1h0M89.8 813.2h0M101.6 827.1h0M70.3 799.3h0M122.2 807.8h0M72.6 815.6h0M109.8 805.1h0M67.2 815.0h0M91.3 826.3h0M125.9 816.7h0M117.1 821.0h0M75.3 817.2h0M95.4 803.2h0M96.0 822.1h0M121.8 806.7h0M90.6 808.8h0M89.5 808.4h0M67.3 819.7h0M112.8 829.6h0M82.1 818.6h0M102.2 826.0h0M97.2 831.3h0M108.9 813.3h0M102.9 800.3h0" stroke="#7036d6" stroke-width="1.90" stroke-linecap="round" fill="none"/>
<rect x="64.90" y="835.90" width="62.10" height="41.10" fill="#e8e6e4"/>
<path d="M90.2 873.7h0M90.5 843.4h0M67.0 851.8h0M76.1 839.7h0M72.6 845.3h0M111.1 868.0h0M69.6 863.2h0M120.9 851.2h0M97.0 858.7h0M77.8 851.0h0M76.8 858.4h0M68.4 867.8h0M115.6 848.8h0M86.2 850.0h0M74.5 855.4h0M125.9 848.6h0M113.7 862.5h0M96.0 867.1h0M92.3 850.1h0M122.7 856.4h0M98.3 852.6h0M125.5 860.0h0M97.8 845.6h0M114.0 853.9h0M122.3 861.9h0M121.5 838.6h0M125.8 866.3h0M97.4 862.2h0M65.9 855.4h0M109.0 853.7h0M72.1 845.3h0M115.9 851.0h0M90.1 855.4h0M116.6 838.5h0M95.4 856.8h0M94.3 846.0h0M114.2 848.0h0M74.7 854.3h0M124.5 846.9h0M87.4 852.0h0M86.5 843.7h0M94.2 861.5h0M74.6 853.5h0M70.6 855.8h0M75.1 841.3h0M119.4 861.1h0M97.2 843.9h0M115.5 860.2h0M99.6 851.9h0M87.9 853.2h0M126.5 863.0h0M79.5 853.0h0M71.1 838.3h0M81.9 852.5h0M83.4 848.2h0M112.2 858.7h0M79.9 854.4h0M71.8 867.9h0M82.2 852.2h0M104.0 847.5h0M108.6 847.4h0M89.9 842.7h0M70.5 842.8h0M121.2 867.6h0M93.0 854.8h0M80.5 872.9h0M101.7 869.0h0M120.1 861.2h0M115.0 852.0h0M122.2 873.5h0M90.0 860.0h0M113.4 865.7h0M84.3 851.9h0M110.2 876.4h0M71.8 837.2h0M75.5 855.7h0M67.7 846.3h0M75.4 848.7h0M74.5 846.8h0M75.4 861.2h0M81.5 852.0h0M92.3 852.6h0M72.3 852.6h0M120.6 853.2h0M110.6 851.9h0M71.5 853.2h0M77.4 853.7h0M124.2 868.8h0M124.6 851.9h0M79.1 849.6h0M110.8 836.6h0M83.4 859.8h0M97.8 870.4h0M92.8 846.5h0M105.6 845.1h0M116.1 861.6h0M66.1 847.7h0M94.8 847.8h0M110.5 864.9h0M112.8 877.0h0M86.0 849.6h0M98.1 857.8h0M100.6 848.1h0M105.7 859.9h0M91.4 862.8h0M105.9 849.4h0M82.3 852.2h0M121.4 871.5h0M66.7 859.9h0M78.5 842.1h0M78.1 870.3h0M114.0 855.0h0M81.7 874.1h0M105.7 843.2h0M80.0 855.8h0M97.6 854.4h0M75.6 853.1h0M87.2 847.9h0M103.6 850.2h0M78.3 849.2h0M109.5 859.1h0M120.2 860.9h0M76.5 845.7h0M68.2 848.3h0M75.2 872.7h0M108.0 852.8h0M121.0 854.0h0M77.0 860.9h0M97.4 855.5h0M65.0 847.7h0M82.5 850.5h0M107.9 849.5h0M117.8 845.3h0M71.8 849.6h0M65.0 855.1h0M118.8 847.1h0M91.7 848.1h0M97.8 853.9h0M79.9 846.2h0M65.4 857.4h0M104.2 865.5h0M105.7 859.7h0M97.2 838.2h0M125.0 851.7h0M91.0 859.0h0M85.9 844.3h0M76.2 866.0h0M105.9 843.9h0M99.2 875.5h0M100.0 855.4h0M121.1 876.6h0M125.0 860.5h0M84.1 843.2h0M115.3 836.9h0M74.4 841.1h0M97.3 838.1h0M80.4 872.5h0M104.7 871.0h0M121.6 854.8h0M76.7 853.7h0M124.2 860.3h0M105.9 855.5h0M94.0 844.9h0M80.0 858.1h0M87.5 858.6h0M100.2 869.7h0M89.8 854.9h0M83.3 867.3h0M119.2 848.1h0M90.6 868.8h0M66.2 852.9h0M112.8 847.8h0M91.2 862.5h0M73.7 852.5h0M100.1 841.1h0M115.0 842.6h0M71.9 853.1h0M107.9 848.7h0M81.9 854.2h0M110.7 872.6h0M102.9 873.8h0M88.6 861.2h0M78.5 851.3h0M88.7 850.6h0M85.1 861.5h0M124.7 850.6h0M119.5 851.3h0M120.6 855.1h0" stroke="#c0bed2" stroke-width="0.70" stroke-linecap="round" fill="none"/>
<path d="M68.3 865.7h0M75.5 851.5h0M118.1 858.0h0M123.8 859.6h0M98.7 841.7h0M115.3 862.9h0M65.2 846.6h0M102.1 850.3h0M117.9 869.6h0M115.4 845.7h0M111.7 872.9h0M102.8 856.5h0M93.4 858.6h0M107.7 855.0h0M81.1 867.0h0M83.2 842.8h0M78.7 861.3h0M76.4 854.8h0M99.4 862.6h0M108.0 846.9h0M122.2 840.7h0M69.1 865.8h0M116.4 838.2h0M113.2 846.8h0M97.2 877.0h0M72.7 836.9h0M81.4 845.9h0M65.7 840.9h0M90.1 850.4h0M70.0 855.3h0M120.0 861.7h0M96.2 843.4h0M109.2 843.2h0M114.6 858.8h0M72.5 847.9h0M66.6 850.8h0M74.7 855.4h0M123.5 859.2h0M67.9 852.7h0M107.5 861.1h0M72.5 868.1h0M91.8 849.5h0M78.5 844.6h0M65.5 859.4h0M109.2 852.4h0M74.8 851.7h0M101.0 854.0h0M112.3 850.3h0M120.5 853.5h0M120.1 842.8h0M80.6 859.5h0M116.2 855.1h0M73.7 865.7h0M73.5 856.3h0M117.3 857.1h0M77.0 852.9h0M95.0 876.5h0M83.4 858.9h0M98.6 847.3h0M122.4 837.5h0M104.2 836.4h0M104.3 848.3h0M107.5 839.7h0M79.1 848.6h0M122.4 854.8h0M109.9 862.8h0M104.8 848.8h0M77.1 845.2h0M68.0 843.3h0M70.3 837.8h0M83.1 840.5h0M98.6 857.0h0M98.1 844.0h0M111.8 860.1h0M86.2 862.3h0M107.7 856.0h0M84.3 874.8h0M74.7 843.8h0M118.3 852.8h0M119.9 851.2h0M117.0 851.1h0M96.9 846.3h0M125.5 851.3h0M106.8 846.8h0M100.9 848.6h0M118.3 855.4h0M70.7 857.8h0M67.6 865.1h0M125.6 841.7h0M90.4 847.6h0M115.1 848.4h0M81.8 856.0h0M117.6 846.1h0M74.4 852.4h0M92.3 862.7h0M80.8 856.1h0M122.5 839.9h0M87.7 860.2h0M117.7 859.9h0M71.3 874.3h0M122.2 860.6h0M126.2 856.4h0M98.3 867.9h0M75.1 876.4h0M125.4 843.5h0M106.1 868.7h0M115.2 844.7h0M114.0 840.2h0M124.4 875.1h0M113.4 849.1h0M67.6 846.4h0M89.5 877.0h0M69.5 837.2h0M93.9 863.4h0M122.0 854.0h0M127.0 858.6h0M110.3 837.8h0M94.4 860.0h0M74.7 848.0h0M76.5 856.0h0M88.0 839.3h0M68.0 851.5h0M111.6 850.4h0M83.4 854.8h0M99.2 850.9h0M98.7 876.0h0M96.3 839.0h0M99.6 866.3h0M125.6 847.9h0M82.7 852.4h0M67.3 863.5h0M119.2 849.5h0M85.1 850.1h0M79.2 851.6h0M90.1 876.3h0M83.4 856.6h0M67.3 856.0h0M96.0 857.2h0M117.5 859.7h0M66.0 849.6h0M71.4 854.6h0M86.9 840.7h0M119.8 860.4h0M75.1 851.2h0M115.3 852.9h0M113.8 865.5h0M85.6 845.3h0M111.0 845.2h0M121.1 843.8h0M65.4 847.5h0M98.5 857.6h0M66.8 859.3h0M123.1 852.1h0M95.2 837.1h0M99.0 856.6h0M83.4 844.5h0M68.2 854.8h0M116.9 859.7h0M67.4 839.6h0M85.2 867.6h0M108.0 861.6h0M86.0 849.4h0M123.7 844.8h0M101.5 863.8h0M116.8 840.3h0M95.3 850.6h0M75.4 837.6h0M77.8 850.9h0M108.1 843.1h0M84.0 865.7h0M112.7 849.0h0M69.9 853.8h0M120.5 855.1h0M96.9 875.8h0M105.2 852.9h0M73.7 854.5h0M107.2 860.8h0M120.2 853.8h0M113.2 838.9h0M105.5 865.4h0M98.5 856.8h0M87.1 849.0h0M85.9 849.0h0M66.1 873.9h0M95.4 862.2h0M119.5 854.7h0M91.0 845.5h0M72.8 852.2h0M108.2 865.0h0M105.8 849.5h0M89.5 850.0h0M97.1 874.9h0M105.2 848.4h0M104.8 875.9h0M71.5 855.9h0M124.2 846.8h0M99.6 845.4h0M83.1 838.2h0M71.6 843.5h0M107.5 847.0h0M122.0 865.2h0M110.0 849.3h0M126.8 870.4h0M83.7 848.9h0M99.7 857.2h0M80.8 859.1h0M70.0 841.7h0M82.0 859.2h0M97.1 851.5h0M103.8 850.7h0M74.5 836.1h0M99.5 863.1h0M85.8 847.8h0M99.9 846.4h0M73.1 850.9h0M67.9 840.6h0M121.2 849.3h0M120.0 859.0h0M120.6 847.5h0M125.6 845.8h0M97.2 872.4h0M102.4 842.1h0M93.8 850.4h0M98.0 839.9h0M87.8 855.8h0M114.7 846.5h0M64.9 836.8h0M67.0 843.7h0M89.8 850.0h0M122.2 853.0h0M81.8 845.6h0M104.5 855.4h0M111.3 846.9h0M97.7 870.8h0M69.0 841.8h0M81.0 860.9h0M96.1 854.4h0M84.4 859.5h0M89.6 836.2h0M105.9 854.5h0M112.5 850.1h0M74.9 853.5h0M70.2 863.4h0M96.6 837.1h0M74.3 844.1h0M72.7 861.8h0M95.4 842.7h0M85.5 836.5h0M113.1 853.2h0M113.2 868.7h0M69.0 855.5h0M83.3 875.3h0M104.2 856.9h0M94.7 868.9h0M101.6 848.4h0M100.4 851.3h0M99.5 846.7h0M104.1 836.3h0M76.6 849.2h0M101.2 837.1h0M65.7 853.5h0M72.7 845.3h0M84.4 872.3h0M87.0 837.9h0M65.6 854.6h0M86.6 853.8h0M75.3 847.9h0M121.0 865.1h0M100.5 853.8h0M67.0 861.3h0M84.7 847.2h0M111.4 841.9h0M108.7 859.1h0M65.8 856.6h0M100.6 837.9h0M75.8 845.8h0M124.6 842.7h0M80.9 845.9h0M106.0 846.5h0M109.3 872.2h0M111.6 851.0h0M115.0 859.5h0M96.8 855.2h0M65.1 844.9h0M122.1 850.1h0M114.2 863.0h0M116.0 858.8h0M109.5 847.0h0M122.9 868.1h0M76.3 872.4h0M88.6 844.6h0M105.2 836.7h0" stroke="#c0bed2" stroke-width="1.10" stroke-linecap="round" fill="none"/>
<path d="M111.9 855.2h0M114.4 850.8h0M91.7 856.1h0M113.7 872.3h0M94.2 854.2h0M116.4 865.4h0M103.3 853.9h0M89.3 873.0h0M108.2 872.4h0M114.9 869.6h0M80.4 868.5h0M95.5 858.3h0M73.6 839.3h0M116.6 861.7h0M121.9 864.1h0M83.8 852.8h0M68.6 845.9h0M104.3 858.1h0M66.1 847.5h0M97.6 846.0h0M119.9 865.1h0M104.4 852.2h0M123.7 852.5h0M81.8 860.2h0M74.6 853.8h0M105.1 863.2h0M79.2 838.6h0M100.7 873.0h0M79.1 856.8h0M117.9 851.5h0M93.3 853.1h0M84.6 868.1h0M102.2 846.4h0M107.9 848.0h0M86.3 849.7h0M114.9 843.4h0M112.3 860.0h0M122.0 850.0h0M120.0 855.0h0M103.5 848.1h0M106.5 852.9h0M65.6 853.1h0M105.6 849.2h0M123.2 846.7h0M99.4 852.6h0M110.3 854.9h0M89.5 856.8h0M113.6 853.6h0M115.8 838.7h0M70.0 855.2h0M119.8 857.0h0M121.1 871.9h0M75.3 843.7h0M89.2 849.0h0M117.6 858.4h0M87.9 857.9h0M97.9 852.1h0M85.3 854.6h0M126.2 844.8h0M77.7 849.0h0M105.1 838.4h0M91.2 844.6h0M75.5 847.4h0M65.6 841.2h0M71.6 842.2h0M100.6 847.4h0M97.0 858.2h0M71.8 844.7h0M115.8 850.2h0M115.3 854.6h0M101.5 851.6h0M89.1 860.4h0M120.3 874.7h0M97.9 849.4h0M95.3 839.2h0M73.5 843.2h0M79.4 854.5h0M80.3 861.4h0M110.9 863.4h0M113.9 855.7h0M79.1 856.7h0M73.1 859.3h0M70.8 851.4h0M66.3 839.3h0" stroke="#a07ede" stroke-width="0.80" stroke-linecap="round" fill="none"/>
<path d="M116.0 853.7h0M87.9 854.5h0M104.7 839.3h0M115.2 854.7h0M107.7 864.3h0M70.4 849.9h0M85.5 845.4h0M72.1 853.4h0M112.5 855.1h0M95.2 840.7h0M90.5 851.9h0M101.6 855.0h0M119.6 867.5h0M81.8 848.5h0M106.9 850.2h0M91.0 846.3h0M80.0 876.8h0M86.9 853.8h0M79.3 848.4h0M81.5 876.7h0M119.0 859.1h0M124.9 853.0h0M71.6 844.3h0M82.9 862.3h0M80.7 847.1h0M70.6 849.6h0M108.2 845.5h0M78.8 861.6h0M73.5 848.8h0M87.4 856.2h0M96.9 848.4h0M113.8 847.3h0M69.4 852.8h0M121.9 856.7h0M90.9 872.8h0M97.0 843.5h0M103.1 851.4h0M79.5 842.2h0M69.4 855.6h0M99.6 850.9h0M125.5 871.4h0M68.2 850.1h0M102.4 848.0h0M106.3 848.4h0M79.8 840.1h0M122.4 857.4h0M124.6 838.7h0M105.6 861.4h0M119.3 864.9h0M114.3 873.2h0M71.1 872.5h0M118.6 862.8h0M121.9 838.4h0M104.0 848.1h0M92.7 846.3h0M101.5 865.6h0M123.8 846.7h0M75.8 852.4h0M70.1 855.2h0M79.6 846.6h0M118.5 845.9h0M66.9 875.2h0M112.2 836.1h0M95.8 854.8h0M85.5 845.1h0M105.1 846.5h0M115.2 858.1h0M79.8 864.2h0M113.9 866.2h0M114.1 839.6h0M79.7 876.9h0M122.6 870.0h0M108.8 841.7h0M98.1 843.9h0M124.6 849.7h0M119.7 838.2h0M110.9 864.2h0M74.8 849.4h0M104.9 846.7h0M98.5 853.9h0M71.5 855.6h0M82.8 855.1h0M109.4 876.5h0M68.2 856.9h0M108.9 855.5h0M102.1 851.0h0M95.0 845.0h0M123.9 850.5h0M112.7 849.3h0M120.4 866.1h0M95.3 868.2h0M67.6 858.4h0M119.5 851.0h0M87.1 852.8h0M77.2 857.3h0M104.2 859.5h0M67.8 855.5h0M87.0 857.4h0M104.9 873.5h0M101.1 858.1h0M99.4 845.1h0M78.8 860.8h0M118.3 841.1h0M104.8 846.0h0M102.5 846.3h0M97.9 858.6h0M125.3 861.8h0M104.4 861.9h0M86.2 873.1h0M101.2 843.4h0M72.9 849.4h0M92.3 854.8h0M65.3 841.5h0M86.5 852.4h0M114.5 838.7h0M122.6 868.8h0M73.7 854.0h0M101.5 867.8h0M87.6 863.3h0M77.4 845.9h0M68.5 848.1h0M76.2 874.2h0M74.8 850.3h0M68.7 847.0h0M79.1 853.1h0M102.1 851.7h0M72.8 848.4h0M113.8 850.1h0M98.2 856.2h0M103.1 861.7h0M122.3 861.0h0M71.4 844.2h0M84.8 856.5h0M103.5 859.8h0M77.2 849.6h0M102.2 873.5h0M90.0 872.3h0M117.5 867.6h0M85.6 845.1h0M95.9 843.2h0M73.1 856.2h0M103.8 842.3h0M122.8 853.8h0M82.8 848.0h0M88.0 857.0h0M86.9 849.0h0M117.2 876.5h0M69.7 859.5h0M123.9 852.3h0M118.1 851.1h0M125.3 861.0h0M126.8 866.4h0M66.3 847.5h0M73.2 855.1h0M93.9 840.2h0M100.1 844.1h0" stroke="#a07ede" stroke-width="1.30" stroke-linecap="round" fill="none"/>
<path d="M115.0 847.8h0M81.5 845.1h0M102.3 850.4h0M77.7 843.0h0M84.9 853.3h0M103.2 863.1h0M99.3 853.0h0M121.9 841.7h0M82.8 842.0h0M65.8 854.1h0M73.8 853.4h0M91.9 858.4h0M93.4 855.4h0M94.9 854.9h0M108.7 854.8h0M119.3 851.7h0M109.4 848.6h0M80.3 846.5h0M70.7 849.8h0M95.7 846.2h0M106.3 860.1h0M108.5 853.6h0M107.5 843.5h0M115.7 862.4h0M101.2 853.9h0M112.2 854.6h0M88.3 855.6h0M115.2 850.0h0M112.8 861.4h0M96.2 862.9h0M67.6 871.8h0M69.2 867.0h0M66.6 855.4h0M114.0 845.3h0M71.5 848.4h0M83.1 872.6h0M108.3 855.3h0M83.8 873.7h0M79.9 859.5h0M91.5 850.0h0M80.1 865.3h0" stroke="#7036d6" stroke-width="1.00" stroke-linecap="round" fill="none"/>
<path d="M110.0 849.8h0M66.1 840.7h0M73.3 849.7h0M78.2 853.4h0M95.4 846.8h0M123.4 853.3h0M99.1 853.3h0M80.7 839.4h0M118.5 861.8h0M120.5 847.4h0M73.3 840.6h0M119.6 867.9h0M100.5 856.0h0M112.0 837.0h0M84.8 845.4h0M76.8 853.1h0M78.9 860.8h0M91.7 867.5h0M120.6 849.0h0M88.2 848.1h0M117.4 857.3h0M110.0 847.3h0M123.0 847.1h0M112.4 839.8h0M78.5 841.6h0M117.1 843.1h0M97.7 854.7h0M66.5 844.8h0M65.8 844.4h0M115.1 859.3h0M120.9 856.5h0M103.1 837.0h0M123.2 862.0h0M94.3 854.8h0M83.3 843.5h0M119.3 850.3h0M82.9 859.6h0M125.6 855.2h0M90.4 850.1h0M90.9 846.3h0M100.5 845.6h0M99.8 858.9h0M80.1 863.1h0M118.9 849.7h0M79.8 837.8h0M67.0 845.7h0M78.5 859.9h0" stroke="#7036d6" stroke-width="1.50" stroke-linecap="round" fill="none"/>
<path d="M91.2 858.0h0M90.2 853.4h0M67.6 845.8h0M103.0 863.7h0M71.5 851.4h0M66.2 842.9h0M124.8 872.1h0M86.7 849.9h0M78.1 849.4h0M108.7 863.7h0M106.3 859.8h0M121.6 852.5h0M72.8 861.9h0M71.0 851.8h0M99.9 852.8h0M97.9 851.3h0M116.1 839.1h0M122.1 854.9h0M95.8 852.6h0M83.6 856.0h0M114.9 852.5h0M67.9 861.5h0M98.2 841.2h0M124.6 868.7h0M90.3 849.7h0M87.6 858.3h0M95.0 853.2h0M118.3 848.7h0M83.7 859.3h0M86.8 846.8h0M126.1 848.3h0M103.7 848.9h0" stroke="#7036d6" stroke-width="1.90" stroke-linecap="round" fill="none"/>
<rect x="68.20" y="827.90" width="8.00" height="2.00" fill="#000"/>
<rect x="68.20" y="872.70" width="8.00" height="2.00" fill="#000"/>
<text x="53.50" y="807.00" font-size="7.23" text-anchor="middle" transform="rotate(-90 53.50 807.00)">Control</text>
<text x="60.60" y="807.00" font-size="7.23" text-anchor="middle" transform="rotate(-90 60.60 807.00)">(IgA)</text>
<text x="53.50" y="852.20" font-size="7.23" text-anchor="middle" transform="rotate(-90 53.50 852.20)">PIGR</text>
<text x="60.60" y="852.20" font-size="7.23" text-anchor="middle" transform="rotate(-90 60.60 852.20)">(IgA)</text>
<line x1="151.60" y1="795.10" x2="151.60" y2="855.60" stroke="#000" stroke-width="0.9"/>
<line x1="149.40" y1="795.70" x2="151.60" y2="795.70" stroke="#000" stroke-width="0.9"/>
<text x="148.40" y="798.29" font-size="7.20" text-anchor="end">200</text>
<line x1="149.40" y1="810.60" x2="151.60" y2="810.60" stroke="#000" stroke-width="0.9"/>
<text x="148.40" y="813.19" font-size="7.20" text-anchor="end">150</text>
<line x1="149.40" y1="825.50" x2="151.60" y2="825.50" stroke="#000" stroke-width="0.9"/>
<text x="148.40" y="828.09" font-size="7.20" text-anchor="end">100</text>
<line x1="149.40" y1="840.40" x2="151.60" y2="840.40" stroke="#000" stroke-width="0.9"/>
<text x="148.40" y="842.99" font-size="7.20" text-anchor="end">50</text>
<line x1="149.40" y1="855.30" x2="151.60" y2="855.30" stroke="#000" stroke-width="0.9"/>
<text x="148.40" y="857.89" font-size="7.20" text-anchor="end">0</text>
<line x1="151.60" y1="855.30" x2="186.80" y2="855.30" stroke="#000" stroke-width="0.9"/>
<line x1="162.40" y1="855.30" x2="162.40" y2="857.50" stroke="#000" stroke-width="0.9"/>
<line x1="177.00" y1="855.30" x2="177.00" y2="857.50" stroke="#000" stroke-width="0.9"/>
<rect x="158.00" y="809.30" width="8.80" height="46.00" fill="#1f4e9f" stroke="#000" stroke-width="0.8"/>
<rect x="172.60" y="828.70" width="8.90" height="26.60" fill="#e2321e" stroke="#000" stroke-width="0.8"/>
<line x1="162.40" y1="805.50" x2="162.40" y2="814.00" stroke="#000" stroke-width="0.8"/>
<line x1="160.20" y1="814.00" x2="164.60" y2="814.00" stroke="#000" stroke-width="0.8"/>
<line x1="160.20" y1="805.50" x2="164.60" y2="805.50" stroke="#000" stroke-width="0.8"/>
<line x1="177.00" y1="826.00" x2="177.00" y2="832.00" stroke="#000" stroke-width="0.8"/>
<circle cx="161.60" cy="804.00" r="1.50" fill="#fff" stroke="#000" stroke-width="0.8"/>
<circle cx="162.90" cy="807.50" r="1.50" fill="#fff" stroke="#000" stroke-width="0.8"/>
<circle cx="162.40" cy="813.00" r="1.50" fill="none" stroke="#000" stroke-width="0.8"/>
<circle cx="176.80" cy="825.00" r="1.50" fill="#fff" stroke="#000" stroke-width="0.8"/>
<circle cx="179.00" cy="829.50" r="1.50" fill="none" stroke="#000" stroke-width="0.8"/>
<circle cx="175.00" cy="831.00" r="1.50" fill="none" stroke="#000" stroke-width="0.8"/>
<line x1="161.20" y1="800.50" x2="177.40" y2="800.50" stroke="#000" stroke-width="0.9"/>
<text x="169.80" y="801.50" font-size="8.00" text-anchor="middle">**</text>
<text x="136.60" y="825.00" font-size="7.03" text-anchor="middle" transform="rotate(-90 136.60 825.00)">Cell number</text>
<text x="158.90" y="863.60" font-size="6.98" text-anchor="middle">Control</text>
<text x="158.90" y="871.60" font-size="6.98" text-anchor="middle">(IgA)</text>
<text x="181.00" y="863.60" font-size="6.98" text-anchor="middle">PIGR</text>
<text x="181.00" y="871.60" font-size="6.98" text-anchor="middle">(IgA)</text>
<text x="236.00" y="774.10" font-size="11.50" font-weight="bold">V</text>
<defs><radialGradient id="fgrad"><stop offset="0" stop-color="#e02818"/><stop offset="0.12" stop-color="#e8401c"/><stop offset="0.2" stop-color="#f0a030"/><stop offset="0.3" stop-color="#d8dc3c"/><stop offset="0.42" stop-color="#78c440"/><stop offset="0.55" stop-color="#3cb870"/><stop offset="0.66" stop-color="#3aa6d0"/><stop offset="0.8" stop-color="#3070cc" stop-opacity="0.8"/><stop offset="1" stop-color="#2456b8" stop-opacity="0"/></radialGradient></defs>
<text x="260.00" y="788.60" font-size="9.79">Control (IgA)</text>
<text x="354.20" y="788.30" font-size="9.90">PIGR (IgA)</text>
<clipPath id="fc61"><rect x="243.8" y="791.4" width="81.80000000000001" height="81.60000000000002"/></clipPath>
<g clip-path="url(#fc61)">
<path d="M297.4 818.1h0M315.9 806.8h0M285.2 824.7h0M296.9 808.6h0M291.4 807.2h0M271.8 821.7h0M309.2 821.9h0M286.4 812.2h0M282.9 838.5h0M286.6 838.4h0M305.1 827.9h0M305.7 800.0h0M310.6 803.8h0M291.5 797.7h0M290.0 832.2h0M325.5 811.7h0M276.6 821.2h0M305.0 792.9h0M297.0 811.7h0M290.9 797.9h0M290.5 796.3h0M309.1 822.6h0M305.7 811.0h0M323.5 809.1h0M275.3 809.3h0M321.2 799.0h0M313.4 836.4h0M318.1 813.7h0M294.5 833.2h0M310.4 830.1h0M272.9 820.6h0M278.4 801.4h0M317.5 818.7h0M291.7 814.7h0M280.0 803.3h0M320.4 837.3h0M303.5 795.7h0M303.9 798.9h0M289.0 797.5h0M297.6 795.0h0M281.9 802.6h0M295.5 836.1h0M302.7 829.0h0M311.3 816.9h0M298.8 807.7h0M322.1 801.0h0M316.6 828.8h0M319.2 817.1h0M322.5 814.0h0M282.6 798.1h0M317.0 822.6h0M305.0 838.4h0M305.9 806.3h0M309.6 835.8h0M266.0 815.8h0M297.2 804.3h0M313.6 796.3h0M308.2 808.8h0M304.8 815.7h0M281.9 801.3h0M316.4 813.3h0M282.2 819.8h0M313.6 795.7h0M295.0 798.7h0M313.6 793.6h0M317.1 818.3h0M298.8 817.2h0M281.8 813.1h0M304.7 807.0h0M305.0 829.1h0M314.0 791.6h0M297.8 799.6h0M316.4 819.4h0M293.9 820.7h0M298.5 801.4h0M321.3 794.1h0M289.1 821.0h0M290.3 837.9h0M285.6 836.5h0M324.6 817.7h0M315.7 795.0h0M322.3 812.6h0M286.4 835.6h0M291.1 795.7h0M306.1 795.6h0M316.1 837.9h0M288.7 829.6h0M320.5 802.6h0M296.1 839.3h0M323.2 818.4h0M300.9 792.4h0M317.0 836.8h0M301.8 802.5h0M303.9 831.7h0M284.4 793.8h0M278.7 801.4h0M316.0 816.7h0M274.9 815.7h0M278.4 818.9h0M320.3 822.9h0M268.6 820.6h0M322.3 822.0h0M279.4 831.1h0M309.8 834.2h0M275.0 831.6h0M296.5 802.0h0M279.8 796.2h0M320.4 798.3h0M306.0 803.5h0M279.4 808.3h0M317.8 794.6h0M290.3 807.1h0M296.8 821.3h0M318.8 821.9h0M318.1 833.7h0M316.1 792.6h0M288.3 816.8h0M299.8 828.2h0M313.9 801.9h0M302.3 814.1h0M294.1 826.2h0M310.7 825.3h0M289.9 795.4h0M303.1 803.6h0M284.3 796.2h0M261.2 812.7h0M304.9 803.6h0M323.2 800.8h0M308.4 794.8h0M323.5 835.1h0M317.3 809.7h0M294.6 815.2h0M321.8 819.3h0M279.2 834.9h0M292.5 826.4h0M322.8 828.5h0M325.5 809.5h0M272.7 797.0h0M293.1 792.1h0M297.9 837.4h0M276.0 835.9h0M325.4 801.2h0M275.7 798.4h0M315.4 812.2h0M291.8 821.3h0M299.0 801.9h0M280.1 798.5h0M290.5 812.2h0M308.3 800.5h0M324.0 830.7h0M307.6 825.1h0M285.1 835.4h0M322.3 803.2h0M305.1 830.1h0M320.9 809.8h0M294.0 810.5h0M320.9 801.9h0M267.7 800.8h0M289.0 800.1h0M324.3 795.2h0M290.4 813.3h0M320.3 798.6h0M301.3 801.4h0M297.6 809.9h0M291.9 806.4h0M249.7 801.0h0M290.0 797.4h0M322.7 816.5h0M325.0 835.4h0M277.9 820.7h0M302.5 833.7h0M296.8 814.1h0M273.3 867.5h0M281.7 833.6h0M267.7 849.0h0M312.0 808.0h0M300.1 822.5h0M301.1 807.7h0M270.5 844.6h0M281.0 834.8h0M286.4 819.5h0M271.8 824.8h0M297.5 811.0h0M287.3 813.0h0M304.1 810.4h0M297.0 812.9h0M292.0 837.1h0M289.0 821.4h0M321.0 805.0h0M265.4 846.3h0M288.8 825.7h0M281.5 828.4h0M282.7 841.3h0M288.3 803.7h0M276.8 847.8h0M320.7 794.5h0M291.2 816.9h0M285.9 812.8h0M299.1 815.3h0M278.7 831.3h0M280.9 828.9h0M288.5 848.1h0M271.1 843.1h0M284.9 833.1h0M277.8 857.2h0M266.4 848.2h0M273.2 832.5h0M297.3 801.3h0M273.5 835.5h0M304.8 811.6h0M272.3 834.9h0M278.8 850.0h0M284.3 846.4h0M300.7 818.4h0M309.2 799.9h0M286.8 808.1h0M307.2 811.1h0M305.1 809.6h0M297.6 817.6h0M278.3 846.9h0M270.9 850.3h0M288.2 812.9h0M304.0 805.8h0M282.8 814.7h0M298.2 801.9h0M297.7 808.1h0M272.5 832.8h0M277.2 838.4h0M303.4 813.3h0M295.5 809.9h0M258.6 850.8h0M289.1 824.2h0M276.1 857.4h0M294.3 822.5h0M281.2 816.0h0M309.5 811.0h0M269.9 838.2h0M312.0 817.7h0M276.7 847.0h0M292.4 840.5h0M301.5 796.5h0M283.2 836.7h0M289.5 816.3h0M289.8 820.5h0M263.1 848.2h0M273.3 835.6h0M293.0 827.4h0M273.0 836.0h0M302.2 812.0h0M274.4 839.0h0M295.1 833.3h0M283.9 832.3h0M285.0 829.5h0M286.3 831.4h0M303.4 807.0h0M301.7 827.8h0M291.0 836.2h0M257.7 834.7h0M290.9 807.7h0M301.8 807.7h0M270.7 846.1h0M285.2 827.1h0M285.0 836.9h0M295.5 825.2h0M272.0 833.9h0M298.5 814.1h0M312.6 809.7h0M297.0 812.4h0M309.9 800.0h0M288.4 822.0h0M286.1 830.8h0M292.6 803.0h0M278.3 835.8h0M292.1 831.4h0M258.8 830.2h0M305.3 805.7h0M297.4 809.5h0M281.6 833.7h0M290.3 841.8h0M291.9 812.8h0M313.5 803.9h0M289.1 814.1h0M279.3 844.6h0M299.5 822.5h0M289.9 826.3h0M307.9 802.1h0M314.9 814.1h0M268.1 858.3h0M288.1 823.7h0M323.5 823.1h0M261.8 843.5h0M299.1 806.1h0M273.3 836.3h0M262.1 837.0h0M294.8 821.1h0M288.0 813.5h0M280.0 824.3h0M295.6 809.0h0M307.9 806.5h0M281.8 829.2h0M267.0 848.1h0M283.5 825.2h0M277.8 830.5h0M298.4 829.3h0M271.3 822.0h0M284.3 812.1h0M310.1 806.5h0M295.9 815.0h0M284.3 832.4h0M288.9 826.9h0M298.0 811.2h0M309.0 797.1h0M279.0 850.8h0M275.7 830.6h0M271.5 841.8h0M276.3 854.7h0M298.1 827.8h0M301.7 815.2h0M284.9 844.1h0M272.6 830.2h0M287.5 843.0h0M312.5 791.4h0M280.9 819.3h0M299.8 817.4h0M273.2 847.0h0M271.0 841.9h0M283.4 811.3h0M286.8 833.4h0M270.6 849.4h0M274.2 823.7h0M277.6 825.5h0M281.7 832.7h0M303.7 810.6h0M279.9 847.7h0M290.9 827.6h0M258.6 858.3h0M302.2 798.9h0M289.0 818.4h0M287.5 826.5h0M296.9 810.6h0M263.7 836.4h0M299.8 815.6h0M284.4 840.3h0M279.0 823.0h0M300.0 814.2h0M291.0 811.0h0M284.6 839.5h0M306.6 807.1h0M304.4 805.4h0M298.0 819.4h0M300.9 826.1h0M290.1 820.3h0M264.2 843.7h0M299.7 820.5h0M307.7 799.3h0M299.7 825.4h0M304.6 809.3h0M280.1 832.5h0M316.0 798.5h0M275.0 834.1h0M278.8 837.0h0M274.6 834.6h0M297.3 819.4h0M297.8 792.9h0M274.4 851.8h0M303.4 805.6h0M278.8 855.6h0M302.8 795.8h0M281.0 838.9h0M282.3 826.0h0M293.6 805.2h0M263.9 855.9h0M304.9 794.2h0M290.2 825.7h0M289.7 822.6h0M309.6 803.3h0M273.4 837.4h0M301.5 810.9h0M298.3 830.3h0M308.2 807.5h0M292.5 822.7h0M297.6 818.6h0M290.8 831.8h0M280.8 835.1h0M303.6 806.7h0M288.5 837.5h0M292.0 821.9h0M275.8 822.1h0M282.5 836.6h0M289.4 815.8h0M291.9 839.4h0M289.6 821.6h0M293.9 799.4h0M307.5 812.7h0M274.4 836.9h0M291.1 831.4h0M277.3 846.3h0M281.3 817.2h0M300.0 809.9h0M310.5 830.3h0M260.2 838.6h0M292.6 801.0h0M294.9 814.9h0M270.4 831.5h0M289.1 798.5h0M310.2 811.3h0M316.5 798.4h0M293.8 843.4h0M272.2 847.7h0M270.8 825.0h0M289.8 824.3h0M281.3 845.1h0M292.8 809.8h0M281.1 841.2h0M286.2 843.9h0M262.0 858.2h0M301.3 820.7h0M262.4 848.3h0M301.8 813.2h0M276.7 835.1h0M252.8 861.9h0M267.6 858.3h0M291.1 833.2h0M274.5 844.0h0M286.1 833.7h0M297.9 828.4h0M281.1 834.0h0M295.7 805.4h0M268.6 839.7h0M290.3 828.1h0M291.9 807.9h0M292.5 829.7h0M290.7 807.9h0M271.3 856.9h0M295.4 814.0h0M266.8 836.8h0M301.9 812.3h0M264.4 845.1h0M266.0 843.7h0M291.3 839.9h0M299.8 804.7h0M304.9 806.6h0M272.8 833.7h0M284.7 831.7h0M294.8 830.8h0M281.5 826.9h0M303.7 813.1h0M299.9 807.6h0M269.9 870.2h0M268.7 845.0h0M288.9 829.5h0M283.1 836.9h0M310.3 812.0h0M302.2 805.8h0M290.4 814.6h0M292.1 811.1h0M303.5 798.3h0M289.1 794.2h0M292.5 829.6h0M282.5 843.1h0M287.5 811.8h0M285.7 808.4h0M292.2 819.5h0M299.8 813.4h0M266.2 840.8h0M282.1 825.3h0M301.8 816.4h0M276.9 822.9h0M300.1 800.4h0M290.4 819.5h0M285.3 842.0h0M260.9 831.5h0M299.8 814.3h0M297.0 806.0h0M255.0 851.6h0M305.9 809.0h0M299.3 821.9h0M301.1 810.3h0M294.6 828.5h0M258.1 838.3h0M277.1 809.1h0M279.1 831.0h0M311.0 811.7h0M276.6 850.6h0M293.1 827.0h0M294.3 807.8h0M273.5 847.9h0M284.0 832.6h0M293.7 818.8h0M287.5 847.2h0M294.5 831.9h0M280.8 833.2h0M290.0 810.3h0M277.3 839.2h0M262.0 847.5h0M288.7 841.9h0M259.2 839.3h0M287.8 827.8h0M287.3 819.8h0M296.5 811.2h0M301.8 814.0h0M281.2 803.8h0M287.9 811.7h0M269.5 844.6h0M324.0 804.9h0M320.2 806.5h0M257.6 841.7h0M278.3 824.1h0M291.8 820.5h0M284.9 822.1h0M288.5 839.9h0M269.7 845.3h0M266.8 852.8h0M260.1 858.3h0M305.0 808.1h0M260.8 827.3h0M287.1 821.8h0M286.4 840.0h0M258.9 853.1h0M270.8 842.5h0M266.5 846.1h0M282.0 822.4h0M269.3 847.1h0M322.6 801.0h0M291.9 817.9h0M311.3 803.8h0M292.3 821.2h0M297.4 821.5h0M297.9 810.7h0M274.2 846.2h0M279.4 833.6h0M292.4 807.1h0M307.1 799.5h0M297.4 808.7h0M291.9 827.7h0M308.6 809.6h0M268.1 851.4h0M293.2 811.4h0M288.3 811.2h0M306.4 798.1h0M295.5 822.4h0M273.1 845.3h0M283.5 818.0h0M274.3 861.0h0M311.9 815.1h0M296.3 821.9h0M291.2 810.1h0M301.1 811.0h0M301.7 832.0h0M293.6 828.7h0M288.6 815.8h0M268.2 837.4h0M303.6 813.7h0M272.6 826.9h0M311.9 803.1h0M272.8 848.5h0M299.9 810.9h0M260.2 838.9h0M298.5 811.1h0M290.6 798.0h0M295.9 798.6h0M292.9 831.8h0M291.9 823.0h0M268.5 842.3h0M291.2 828.0h0M288.2 824.3h0M300.4 821.5h0M283.3 840.0h0M307.6 808.7h0M290.4 805.7h0M299.5 803.1h0M302.5 800.9h0M289.0 838.8h0M303.7 808.7h0M278.8 831.9h0M302.8 794.0h0M288.1 834.0h0M285.2 824.4h0M299.4 811.1h0M295.8 801.5h0M292.2 827.7h0M275.3 840.0h0M276.5 839.4h0M271.6 838.0h0M276.8 827.1h0M277.0 829.6h0M302.9 809.9h0M288.9 820.6h0M324.3 811.7h0M286.4 830.9h0M277.2 827.7h0M298.4 809.8h0M275.5 837.9h0M298.1 817.5h0M280.2 838.7h0M265.2 839.4h0M278.6 837.0h0M312.1 804.6h0M269.5 840.5h0M274.7 843.9h0M305.6 800.5h0M285.7 834.2h0M267.5 855.3h0M297.7 806.8h0M324.0 799.2h0M259.9 854.2h0M287.1 829.4h0M286.6 841.1h0M300.3 794.3h0M284.1 846.2h0M310.3 798.2h0M284.4 801.9h0M276.0 839.2h0M292.8 824.8h0M306.8 808.8h0M268.7 835.4h0M302.2 817.7h0M301.7 804.0h0M289.8 832.9h0M286.2 824.4h0M301.3 818.0h0M264.2 840.3h0M277.9 832.2h0M305.7 803.5h0M307.8 789.9h0M283.3 828.5h0M291.4 837.3h0M299.6 819.4h0M284.3 822.6h0M306.2 800.7h0M297.4 813.4h0M303.7 805.2h0M265.9 842.6h0M269.3 844.7h0M270.0 822.9h0M279.7 809.5h0M290.5 822.6h0M279.6 847.2h0M268.9 849.6h0M290.2 820.3h0M266.0 846.1h0M312.3 819.5h0M320.3 811.5h0M298.5 803.9h0M300.4 824.9h0M299.1 797.6h0M273.7 840.6h0M302.7 826.4h0M303.1 802.0h0M301.4 814.0h0M288.3 834.9h0M283.7 837.2h0M292.2 806.7h0M305.8 804.7h0M277.0 826.3h0M267.3 853.4h0M281.6 836.7h0M273.1 837.7h0M306.8 811.6h0M270.6 847.5h0M282.1 822.3h0M295.7 822.0h0M283.1 831.7h0M288.6 828.1h0M289.6 815.1h0M299.4 794.5h0M279.1 836.0h0M302.9 798.6h0M276.3 828.5h0M282.2 833.6h0M297.8 823.3h0M296.3 814.4h0M304.4 807.8h0M284.4 821.4h0M277.8 850.4h0M307.9 808.3h0M271.3 827.2h0M276.8 832.8h0M290.0 839.2h0M300.4 818.2h0M272.4 824.2h0M267.9 825.8h0M295.7 818.6h0M305.9 794.6h0M297.0 814.8h0M297.0 823.3h0M280.2 833.4h0M303.7 796.2h0M281.9 832.7h0M278.6 843.3h0M314.4 794.5h0M296.6 818.5h0M278.2 832.5h0M269.7 830.3h0M282.7 833.8h0M294.5 819.0h0M266.8 849.4h0M280.9 820.9h0M299.3 793.1h0M295.1 833.7h0M278.8 847.8h0M263.5 846.7h0M302.4 832.8h0M289.5 826.1h0M276.9 843.2h0M281.1 828.6h0M314.2 809.9h0M283.3 833.9h0M271.4 820.6h0M268.8 846.4h0M271.5 849.8h0M265.7 835.8h0M301.5 810.0h0M298.0 829.2h0M281.3 840.4h0M267.2 847.2h0M269.7 855.0h0M288.6 822.8h0M306.3 802.9h0M298.5 821.2h0M285.4 813.0h0M302.7 803.6h0M264.0 857.3h0M279.3 811.8h0M279.2 847.9h0M270.5 845.0h0M304.3 815.2h0M274.2 833.1h0M275.9 835.2h0M295.4 825.8h0M283.5 853.1h0M303.8 800.5h0M282.9 835.6h0M270.0 849.6h0M291.6 831.9h0M280.5 833.1h0M304.6 812.1h0M260.2 839.7h0M300.6 805.4h0M300.3 784.5h0M278.8 839.5h0M303.9 811.4h0M265.6 845.8h0M280.2 823.1h0M289.9 824.7h0M303.7 806.4h0M287.8 834.2h0M278.0 824.3h0M294.7 831.9h0M279.0 850.8h0M274.5 849.2h0M303.9 802.3h0M300.6 829.9h0M275.6 816.1h0M310.2 819.2h0M258.6 857.7h0M293.4 827.4h0M306.5 791.7h0M283.8 830.3h0M293.7 826.0h0M269.9 847.1h0M263.4 840.8h0M271.9 837.8h0M305.6 799.3h0M316.2 818.4h0M263.4 849.7h0M293.4 811.1h0M289.1 817.5h0M299.5 810.3h0M283.7 823.0h0M299.0 796.2h0M271.5 848.1h0M295.3 846.5h0M303.8 855.3h0M293.7 852.8h0M284.7 861.9h0M305.4 856.5h0M301.6 850.4h0M289.8 848.3h0M289.3 841.4h0M282.8 843.1h0M281.2 858.9h0M283.8 849.6h0M287.3 849.0h0M297.6 846.8h0M282.6 835.9h0M286.5 851.3h0M282.9 850.8h0M288.7 845.4h0M285.1 859.3h0M283.3 855.1h0M282.9 855.2h0M290.3 850.4h0M292.1 848.1h0M289.0 845.6h0M281.2 839.2h0M281.0 854.3h0M294.7 845.4h0M307.1 842.2h0M296.1 858.4h0M286.7 848.2h0M292.7 851.0h0M291.9 844.3h0M283.7 848.0h0M302.9 852.0h0M281.8 850.5h0M282.9 842.6h0M289.5 845.3h0M304.5 850.6h0M296.4 855.5h0M286.8 843.2h0M281.8 842.2h0M286.7 851.9h0M286.1 857.6h0M293.7 846.0h0M301.1 850.3h0M283.8 851.3h0M285.8 853.4h0M308.2 853.3h0M283.3 851.7h0M283.0 849.6h0M288.1 849.9h0M301.1 852.1h0M284.6 851.2h0M283.8 840.0h0M286.2 848.4h0M281.8 857.5h0M295.1 845.3h0M282.0 838.5h0M293.3 846.5h0M301.0 856.2h0M292.3 848.4h0M281.2 864.5h0M286.1 847.7h0M289.1 844.8h0M290.4 851.0h0M291.7 844.4h0M289.3 859.9h0M297.7 850.9h0M283.1 850.2h0M287.3 850.0h0M288.7 843.9h0M283.1 855.3h0M283.9 842.1h0M292.8 848.0h0M291.1 840.9h0M293.8 853.7h0M284.4 849.7h0M283.7 857.4h0M293.7 852.4h0M296.6 847.6h0M295.0 842.7h0M285.4 853.5h0M287.1 842.7h0M281.5 847.3h0M297.9 858.9h0M293.4 859.2h0M285.4 854.3h0M287.4 849.9h0M282.5 857.7h0M298.2 850.3h0M291.6 846.4h0M296.2 858.7h0M283.3 852.5h0M285.2 852.1h0M283.0 849.1h0M288.9 850.9h0M280.8 845.6h0M292.1 841.7h0M281.7 853.8h0M280.8 855.3h0M281.4 842.6h0M295.1 847.0h0M286.1 845.4h0M281.8 844.8h0M290.0 849.3h0M283.4 844.2h0M281.9 860.2h0M290.6 847.7h0M280.9 839.0h0M290.8 852.6h0M292.7 841.8h0M291.0 846.0h0M290.2 851.3h0M282.0 838.6h0M283.5 853.8h0M282.7 850.6h0M289.1 853.4h0M282.3 857.9h0M292.5 844.6h0M292.0 850.5h0M282.6 854.2h0M280.6 860.5h0M299.0 843.9h0M285.6 849.4h0M289.2 846.9h0M284.7 856.2h0M286.9 852.4h0M294.9 852.4h0M288.8 852.5h0M307.2 854.1h0M285.0 859.7h0M287.9 850.7h0M294.6 857.9h0M289.9 853.5h0M280.8 861.6h0M283.3 851.9h0M280.6 852.7h0M282.3 859.3h0M288.0 849.2h0M301.2 855.2h0M284.7 854.2h0M288.0 853.2h0M290.1 860.0h0M291.1 851.9h0M300.0 848.3h0M286.4 844.4h0M293.5 844.4h0M286.4 843.9h0M294.2 849.1h0M286.7 843.8h0M295.2 847.6h0M285.9 848.4h0M288.7 852.8h0M284.0 863.0h0M282.7 857.8h0M286.4 854.7h0M285.9 858.5h0M292.4 852.7h0M280.8 851.0h0M290.1 859.9h0M290.0 858.9h0M281.1 844.1h0M283.2 841.1h0M294.9 856.5h0M294.6 851.6h0M291.6 842.8h0M284.6 855.4h0M285.7 859.1h0M281.0 842.2h0M281.6 851.0h0M294.4 843.3h0M288.0 846.0h0M288.0 840.8h0M281.6 847.4h0M294.0 858.6h0M286.4 853.1h0M292.3 857.3h0M282.9 848.1h0M286.6 843.6h0M292.1 845.4h0M283.8 864.5h0M292.3 841.0h0M281.0 843.8h0M283.4 852.0h0M295.9 843.2h0M290.4 865.7h0M281.4 848.9h0M287.4 863.7h0M281.1 850.7h0M282.6 855.6h0M284.4 848.2h0M281.6 848.1h0M289.2 851.5h0M282.1 846.8h0M290.3 853.9h0M291.0 844.3h0M288.7 852.9h0M297.9 847.5h0M281.5 840.1h0M289.1 856.9h0M284.7 855.4h0M287.5 846.4h0M290.3 849.2h0M288.2 843.2h0M291.3 845.8h0M295.1 850.8h0M293.1 841.7h0M285.2 847.5h0M289.3 855.1h0M284.9 857.3h0M283.6 847.5h0M287.4 847.4h0M281.7 851.8h0M286.7 854.3h0M281.0 850.5h0M286.5 856.3h0M283.3 855.3h0M289.7 844.5h0M309.0 848.8h0M281.4 847.0h0M291.6 856.2h0M285.7 852.9h0M295.3 862.2h0M282.0 841.0h0M284.6 854.0h0M281.8 841.6h0M288.3 856.3h0M284.4 850.6h0M287.8 836.7h0M288.2 849.1h0M287.4 852.0h0M287.0 845.3h0M282.8 853.9h0M284.7 855.2h0M282.6 840.1h0M285.6 857.6h0M280.5 854.0h0M280.8 843.3h0M283.8 851.0h0M296.4 856.6h0M285.8 847.7h0M286.0 855.7h0M282.9 845.0h0M286.6 848.2h0M301.0 846.5h0M285.3 850.1h0M285.5 847.6h0M280.4 854.0h0M285.5 852.3h0M298.4 854.5h0M295.9 842.9h0M287.7 847.6h0M293.4 841.1h0M301.2 849.9h0M280.6 845.6h0M297.6 850.3h0M283.5 845.5h0M284.4 856.7h0M283.6 843.1h0M288.7 846.2h0M301.9 841.8h0M286.1 831.6h0M283.9 851.2h0M294.5 850.1h0M287.9 848.6h0M283.9 855.4h0M301.7 846.3h0M282.1 858.1h0M285.8 844.9h0M282.0 853.2h0M281.0 846.7h0M294.1 859.3h0M295.0 848.5h0M284.3 852.0h0M297.4 843.6h0M290.9 845.7h0M299.3 852.1h0M305.2 846.0h0M288.0 857.4h0M283.3 855.6h0M282.2 849.8h0M289.6 857.2h0M285.2 854.8h0M283.4 840.7h0M301.8 853.8h0M287.1 851.2h0M286.8 856.1h0M302.4 854.3h0M297.2 857.2h0M281.5 850.9h0M284.6 852.5h0M281.9 860.1h0M284.6 852.7h0M284.5 846.4h0M290.8 850.9h0M284.5 846.5h0M281.0 851.4h0M287.4 840.9h0M287.5 849.4h0M286.1 844.4h0M283.6 846.9h0M286.3 850.3h0M290.3 852.4h0M288.8 837.6h0M280.6 837.2h0M288.6 848.9h0M311.9 858.1h0M282.9 839.6h0M281.2 855.4h0M288.1 836.5h0M284.6 853.1h0M281.8 850.0h0M281.9 848.0h0M291.5 844.8h0M287.2 849.6h0M287.8 854.0h0M299.4 843.9h0M295.2 848.5h0M296.3 853.6h0M284.1 845.8h0M300.0 845.8h0M296.0 846.4h0M287.7 859.5h0M288.5 849.1h0M281.9 839.7h0M303.6 841.5h0M289.9 855.0h0M289.6 853.6h0M294.1 847.1h0M287.9 841.5h0M287.9 847.6h0M285.8 852.6h0M300.0 852.6h0M282.9 862.0h0M285.0 852.0h0M280.9 849.5h0M297.2 851.8h0M280.7 844.8h0M283.3 848.1h0M296.1 854.9h0M287.2 832.9h0M288.7 848.4h0M284.8 849.0h0M289.4 849.0h0M285.2 857.1h0M294.3 859.4h0M289.9 847.0h0M281.5 840.9h0M293.7 840.1h0M283.3 846.0h0M287.1 855.4h0M291.1 852.8h0M286.0 860.2h0M305.9 849.3h0M281.3 857.4h0M293.0 845.2h0M287.7 855.0h0M289.6 847.6h0M284.1 852.6h0M295.1 851.7h0M297.5 846.2h0M291.3 855.9h0M286.8 846.1h0M291.9 854.0h0M291.8 849.4h0M285.2 855.7h0M287.9 844.7h0M286.5 845.0h0M303.0 849.2h0M283.0 853.2h0M291.4 854.7h0M281.4 847.5h0M284.8 851.5h0M287.5 848.8h0M297.2 843.9h0M288.9 852.2h0M310.3 851.5h0M296.5 853.1h0M294.2 864.4h0M294.4 844.4h0M296.8 850.7h0M286.3 850.3h0M290.2 852.9h0M281.2 845.8h0M285.8 845.9h0M303.7 844.6h0M289.1 844.8h0M280.9 852.5h0M290.3 852.3h0M284.9 857.9h0M282.6 851.2h0M285.8 846.6h0M284.3 854.1h0M315.6 861.8h0M283.2 848.7h0M285.6 853.5h0M283.9 854.5h0M288.7 851.3h0M289.3 848.0h0M283.3 849.3h0M284.0 849.4h0M284.4 848.4h0M292.3 839.7h0M283.6 856.3h0M281.7 847.2h0M293.0 857.0h0M296.5 855.8h0M291.1 855.4h0M289.1 854.5h0M292.1 851.1h0M314.2 838.0h0M281.6 845.4h0M281.3 853.9h0M296.1 850.2h0M294.0 855.8h0M295.3 852.9h0M287.7 861.6h0M282.6 854.4h0M284.5 854.3h0M300.9 850.2h0M294.7 850.9h0M304.2 848.8h0M294.0 854.0h0M301.7 851.2h0M281.3 855.7h0M297.6 838.0h0M284.9 854.8h0M297.1 860.9h0M285.5 852.9h0M309.8 853.1h0M290.4 852.0h0M288.1 848.0h0M298.0 847.7h0M281.0 848.5h0M293.3 854.9h0M280.6 852.3h0M284.6 856.2h0M295.0 844.2h0M282.1 850.3h0M299.1 848.6h0M280.9 861.5h0M290.5 843.6h0M286.7 843.3h0M289.0 847.8h0M290.5 851.3h0M283.2 848.6h0M288.4 851.8h0M303.9 840.0h0M284.8 858.8h0M294.0 857.9h0M300.5 844.9h0M292.6 846.4h0M287.7 848.7h0M289.8 849.1h0M287.3 850.2h0M289.9 854.0h0M281.2 864.0h0M284.6 850.3h0M294.8 852.3h0M287.9 860.0h0M289.2 848.8h0M289.7 844.2h0M285.6 853.6h0M296.5 849.3h0M296.5 852.6h0M286.7 850.7h0M288.4 856.5h0M283.3 855.1h0M290.4 841.0h0M292.7 851.3h0M299.8 839.9h0M284.9 846.3h0M283.4 852.7h0M280.5 857.7h0M284.5 861.8h0M288.0 849.8h0M289.8 836.2h0M288.2 842.9h0M282.7 851.8h0M283.4 851.4h0M295.1 843.0h0M238.0 859.1h0M278.2 838.1h0M264.6 851.9h0M279.3 848.6h0M264.0 853.2h0M256.1 854.7h0M261.9 860.3h0M260.2 853.9h0M278.0 855.7h0M283.5 850.0h0M282.5 858.0h0M261.4 852.4h0M291.5 851.2h0M261.2 854.7h0M255.3 854.6h0M277.1 847.6h0M269.4 851.3h0M242.4 855.9h0M269.5 859.4h0M266.1 852.9h0M236.6 858.2h0M258.4 855.4h0M264.9 854.7h0M260.6 855.5h0M263.7 850.7h0M289.5 845.7h0M266.8 858.8h0M253.4 859.3h0M263.4 854.4h0M263.5 852.1h0M259.6 852.8h0M259.0 843.8h0M278.5 852.8h0M264.1 854.2h0M288.2 853.8h0M284.0 855.7h0M253.0 863.8h0M236.8 864.3h0M259.8 855.3h0M272.2 850.1h0M271.1 841.7h0M244.5 862.0h0M263.6 854.4h0M245.5 857.4h0M279.3 836.4h0M274.2 841.4h0M263.4 855.6h0M261.9 853.7h0M265.7 853.0h0M260.2 844.5h0M258.9 856.2h0M262.2 852.4h0M267.1 866.5h0M276.8 848.9h0M269.8 850.3h0M267.8 855.0h0M260.6 856.3h0M266.1 849.4h0M277.7 855.7h0M252.1 859.2h0M261.6 849.5h0M264.0 848.4h0M264.9 854.4h0M263.6 854.3h0M258.0 855.5h0M263.2 854.8h0M262.4 853.2h0M248.3 850.4h0M272.4 840.5h0M262.1 853.0h0M264.3 853.1h0M227.9 860.5h0M259.6 853.8h0M241.4 857.2h0M255.4 862.6h0M250.2 855.6h0M262.4 856.1h0M263.8 861.3h0M274.8 853.0h0M265.1 860.8h0M262.2 864.8h0M260.9 852.5h0M276.3 856.0h0M256.5 859.9h0M263.0 854.2h0M253.1 849.2h0M257.9 845.9h0M267.1 854.5h0M264.4 853.6h0M276.0 842.8h0M275.0 853.8h0M269.0 852.6h0M266.2 858.1h0M267.4 855.5h0M274.6 848.2h0M268.4 852.9h0M264.2 854.0h0M264.2 855.6h0M278.9 853.5h0M263.6 854.2h0M286.6 848.1h0M229.5 873.2h0M256.7 859.4h0M263.5 854.4h0M266.4 855.3h0M253.6 858.4h0M278.3 865.6h0M254.9 856.9h0M243.9 850.9h0M264.7 855.2h0M248.7 858.6h0M269.3 859.9h0M264.7 854.0h0M263.1 849.9h0M267.2 854.2h0M260.0 855.0h0M294.2 845.6h0M261.6 854.9h0M230.9 859.2h0M287.2 843.4h0M267.6 853.3h0M265.9 853.8h0M258.8 858.6h0M262.2 856.6h0M255.9 854.1h0M265.7 854.0h0M268.1 850.6h0M269.5 855.9h0M262.2 851.6h0M267.3 862.7h0M263.8 869.9h0M267.3 856.9h0M264.5 854.2h0M268.4 852.0h0M249.3 851.9h0M260.1 856.1h0M256.4 856.8h0M263.3 856.4h0M261.8 857.1h0M271.3 857.5h0M268.1 854.2h0M263.4 854.2h0M278.7 851.9h0M261.3 854.6h0M261.2 854.9h0M268.7 854.8h0M254.4 854.7h0M263.6 854.3h0M266.0 848.4h0M279.8 837.5h0M264.3 852.4h0M254.2 850.9h0M256.7 855.9h0M276.0 848.0h0M266.0 854.4h0M283.8 849.4h0M260.6 855.6h0M281.2 848.1h0M264.0 858.9h0M255.4 849.5h0M260.8 853.9h0M273.8 848.3h0M261.5 863.1h0M264.4 851.2h0M262.2 846.6h0M261.5 854.4h0M265.5 851.1h0M259.6 860.0h0M263.5 854.3h0M250.6 863.0h0M260.8 862.3h0M262.5 853.1h0M256.1 850.5h0M265.3 859.9h0M262.9 851.3h0M269.1 847.1h0M272.0 853.9h0M266.8 853.2h0M264.1 853.4h0M265.2 846.3h0M269.4 854.1h0M244.6 857.2h0M232.4 863.4h0M263.0 854.2h0M259.7 860.0h0M272.2 856.3h0M244.5 859.9h0M294.4 847.6h0M266.0 862.3h0M259.7 850.8h0M265.3 853.7h0M276.2 853.1h0M235.8 861.6h0M264.3 854.6h0M265.4 848.2h0M272.0 853.8h0M264.0 854.1h0M257.9 853.7h0M261.2 854.8h0M263.8 852.4h0M263.0 854.3h0M271.4 853.0h0M285.1 858.9h0M264.9 857.1h0M260.7 859.1h0M274.2 854.4h0M261.3 853.4h0M263.4 854.3h0M246.1 860.7h0M265.6 855.9h0M285.9 845.9h0M269.2 854.9h0M268.3 847.4h0M268.2 857.1h0M265.4 848.9h0M256.1 861.8h0M265.2 854.4h0M260.7 855.7h0M292.3 858.1h0M260.1 842.9h0M263.2 854.1h0M268.4 857.8h0M253.9 860.5h0M268.8 856.9h0M256.7 854.5h0M262.2 852.8h0M263.1 853.1h0M274.6 854.6h0M291.9 849.8h0M264.3 854.4h0M262.4 853.5h0M286.7 845.8h0M270.4 853.2h0M272.1 849.4h0M261.1 857.2h0M269.6 851.9h0M264.3 855.7h0M271.7 851.6h0M263.3 854.1h0M260.5 858.3h0M263.2 857.5h0M261.3 856.1h0M263.5 854.1h0M262.3 843.9h0M273.3 852.1h0M270.1 847.2h0M283.4 851.0h0M270.1 849.0h0M260.4 854.2h0M263.3 848.0h0M266.4 851.4h0M268.9 849.1h0M273.6 865.1h0M265.0 863.6h0M262.3 853.5h0M266.4 853.7h0M268.3 850.6h0M262.9 864.0h0M230.6 854.7h0M262.6 840.8h0M271.2 857.9h0M263.5 854.3h0M262.9 854.4h0M272.4 853.6h0M256.3 849.9h0M269.7 848.6h0M274.2 856.8h0M280.8 839.0h0M263.7 863.7h0M265.2 853.9h0M262.0 855.4h0M254.9 857.7h0M263.0 851.5h0M256.5 868.2h0M265.1 853.8h0M253.0 856.1h0M266.8 853.7h0M243.3 844.5h0M269.2 854.0h0M255.8 850.9h0M287.5 843.4h0M256.6 854.6h0M267.1 862.0h0M257.8 851.9h0M253.7 858.9h0M257.7 861.5h0M263.1 850.9h0M253.6 861.2h0M260.8 856.9h0M266.2 844.9h0M236.5 852.9h0M263.9 851.7h0M254.0 856.2h0M262.9 841.7h0M259.0 857.6h0M231.0 865.1h0M269.5 852.8h0M246.0 855.4h0M269.3 866.6h0M240.2 847.9h0M231.3 857.1h0M261.5 851.9h0M265.8 855.4h0M265.8 853.6h0M261.5 856.6h0M272.9 856.9h0M267.6 857.5h0M262.2 851.9h0M258.7 858.3h0M261.7 854.5h0M247.2 860.8h0M271.8 852.1h0M265.7 838.4h0M258.2 853.9h0M271.9 846.8h0M267.4 854.4h0M287.0 853.9h0M285.6 854.9h0M253.6 859.8h0M263.4 855.4h0M264.6 853.8h0M268.1 865.1h0M264.9 850.5h0M246.8 861.1h0M269.4 860.4h0M265.8 855.5h0M257.8 858.5h0M254.4 857.4h0M278.6 847.1h0M258.2 855.5h0M285.2 850.1h0M242.5 852.4h0M270.7 851.4h0M271.7 846.7h0M272.0 861.3h0M257.5 857.7h0M262.7 854.8h0M270.5 858.6h0M258.0 850.3h0M265.5 856.4h0M246.9 859.7h0M261.6 858.6h0M283.8 840.5h0M248.7 846.6h0M247.2 860.9h0M252.6 854.9h0M261.4 852.5h0M260.4 854.7h0M274.9 859.7h0M262.3 852.4h0M257.3 851.1h0M248.2 855.1h0M266.6 853.1h0M263.5 854.3h0M252.9 858.1h0M258.7 853.9h0M262.5 852.5h0M255.6 854.5h0M258.9 855.9h0M265.2 853.5h0M262.7 848.7h0M221.7 856.9h0M268.5 855.0h0M263.3 849.3h0M271.2 857.3h0M263.6 852.5h0M262.2 854.8h0M298.2 847.1h0M257.8 847.6h0M267.2 851.0h0M254.1 848.4h0M257.4 853.0h0M253.1 863.7h0M262.2 854.0h0M262.4 846.2h0M264.6 862.1h0M266.3 855.5h0M266.3 843.8h0M257.2 852.0h0M265.9 854.0h0M262.9 852.9h0M268.9 848.2h0M233.2 863.2h0M263.8 858.3h0M258.6 857.8h0M265.0 839.4h0M278.9 852.6h0M267.0 847.7h0M258.7 855.3h0M256.3 855.4h0M249.5 859.5h0M273.4 849.2h0M265.0 854.8h0M259.1 856.3h0M215.6 863.0h0M276.8 843.8h0M287.2 856.3h0M277.5 844.5h0M247.4 855.1h0M234.1 864.1h0M266.2 853.6h0M255.4 857.1h0M265.6 851.0h0M269.5 851.1h0M269.8 851.2h0M260.6 860.8h0M282.2 847.9h0M249.9 854.3h0M285.9 849.9h0M259.9 850.0h0M262.4 858.5h0M277.8 854.4h0M244.3 865.6h0M265.5 860.3h0M272.7 850.7h0M250.6 849.5h0M270.7 847.0h0M269.4 831.3h0M267.5 855.7h0M244.3 855.8h0M241.2 873.4h0M269.8 857.0h0M267.7 865.6h0M264.2 856.4h0M263.0 852.1h0M243.4 850.4h0M285.1 845.4h0M261.9 854.4h0M261.6 852.2h0M262.4 851.6h0M298.8 842.7h0M267.3 846.4h0M264.0 858.6h0M236.6 861.1h0M263.5 854.2h0M263.3 854.0h0M259.5 852.7h0M278.0 847.9h0M271.0 863.4h0M261.3 856.6h0M284.0 855.8h0M260.2 856.7h0M265.5 853.5h0M269.8 845.9h0M259.3 855.4h0M274.3 851.7h0M280.2 849.8h0M269.3 844.7h0M268.3 862.4h0M244.3 856.3h0M270.8 846.7h0M263.9 856.2h0M266.0 851.6h0M258.3 854.0h0M266.3 857.7h0M263.7 854.3h0M267.8 852.2h0M262.9 848.3h0M261.0 850.0h0M252.6 856.6h0M264.6 854.3h0M276.1 850.4h0M237.1 865.3h0M251.5 864.9h0M273.6 853.2h0M264.9 852.7h0M268.9 848.7h0M244.7 868.4h0M253.4 849.0h0M246.2 853.6h0M260.0 854.8h0M272.1 851.4h0M261.3 855.5h0M253.2 856.1h0M247.7 858.9h0M260.7 841.7h0M263.6 854.3h0M261.6 854.0h0M255.5 854.8h0M260.6 854.5h0M261.2 854.6h0M249.0 856.9h0M251.9 854.5h0M265.0 853.2h0M272.1 843.8h0M277.0 857.8h0M270.7 859.6h0M260.4 855.4h0M253.5 858.0h0M286.5 840.7h0M264.9 852.2h0M253.9 851.0h0M237.3 855.4h0M257.4 853.8h0M263.5 853.3h0M258.2 858.4h0M246.3 859.1h0M284.2 855.7h0M262.1 856.9h0M278.2 855.6h0M270.9 856.5h0M291.6 851.7h0M230.8 861.2h0M265.7 849.9h0M276.2 852.9h0M268.4 852.7h0M259.8 860.9h0M265.4 863.6h0M262.6 854.0h0M269.4 861.7h0M255.3 867.9h0M238.6 853.3h0M238.3 846.6h0M258.8 852.9h0M262.2 866.1h0M259.5 854.3h0M254.0 853.1h0M275.0 836.3h0M265.2 850.2h0M267.4 853.9h0M269.0 855.9h0M268.5 854.5h0M244.4 858.8h0M262.6 857.9h0M258.1 851.6h0M245.6 859.3h0M266.3 850.1h0M262.3 854.7h0M263.0 856.3h0M243.1 851.5h0M284.3 843.0h0M258.9 853.8h0M264.1 854.0h0M275.6 850.8h0M262.8 860.8h0M269.0 864.0h0M255.1 856.0h0M269.0 851.5h0M263.3 855.0h0M275.9 846.5h0M263.6 854.3h0M253.6 852.9h0M241.1 864.7h0M258.1 854.6h0M277.3 850.9h0M252.6 859.8h0M266.0 856.0h0M266.6 853.4h0M272.1 851.4h0M263.5 854.3h0M256.1 854.6h0M244.1 858.1h0M263.6 854.4h0M257.5 853.3h0M272.1 859.0h0M270.6 852.1h0M259.1 843.3h0M264.2 858.3h0M253.5 849.6h0M263.7 853.2h0M236.9 861.3h0M260.7 859.8h0M261.5 855.3h0M257.2 865.6h0M272.3 849.6h0M265.0 846.9h0M243.5 857.8h0M252.6 858.7h0M271.4 863.3h0M258.6 850.6h0M258.1 851.4h0M256.7 853.9h0M265.2 855.0h0M248.1 855.5h0M262.4 854.7h0M277.8 853.1h0M245.8 859.7h0M263.9 855.9h0M269.2 850.7h0M267.5 850.8h0M263.2 854.7h0M270.7 859.6h0M263.0 852.0h0M268.3 852.5h0M253.7 860.2h0M262.7 855.1h0M271.1 851.6h0M258.0 849.7h0M256.8 856.3h0M248.5 855.3h0M249.9 860.8h0M240.4 855.2h0M274.0 856.7h0M268.1 848.9h0M261.9 858.5h0M270.3 852.0h0M263.2 857.4h0M267.9 863.0h0M267.1 856.0h0M265.3 847.7h0M269.1 853.6h0M269.3 853.4h0M267.8 852.8h0M249.1 854.7h0M260.9 852.1h0M259.9 853.4h0M257.4 854.4h0M276.7 847.8h0M249.3 861.8h0M246.4 854.9h0M255.6 856.0h0M301.6 858.6h0M265.2 854.5h0M257.4 854.2h0M265.7 856.0h0M248.3 855.5h0M262.3 852.8h0M251.8 854.6h0M264.6 861.7h0M281.8 853.1h0M264.3 848.0h0M287.3 854.2h0M270.8 853.6h0M264.0 854.5h0M260.0 856.4h0M272.7 852.3h0M270.1 850.3h0M258.3 851.3h0M273.1 853.5h0M264.7 861.9h0M265.4 852.3h0M271.7 846.8h0M262.7 854.4h0M260.9 851.8h0M262.5 855.6h0M268.0 849.6h0M267.2 861.5h0M264.1 853.1h0M270.2 853.2h0M262.4 852.3h0M259.0 857.5h0M243.2 853.0h0M269.2 857.8h0M240.3 862.1h0M304.1 835.6h0M259.9 852.7h0M252.9 850.6h0M255.8 857.5h0M267.1 853.2h0M260.0 851.7h0M263.1 854.6h0M262.4 854.4h0M265.8 857.0h0M264.9 853.7h0M271.8 848.3h0M269.6 856.9h0M276.6 854.9h0M259.8 858.7h0M269.4 844.1h0M272.1 851.6h0M260.2 857.2h0M250.3 852.2h0M265.9 858.0h0M264.1 852.5h0M262.7 854.9h0M222.3 867.8h0M258.1 858.1h0M271.4 855.3h0M248.7 856.4h0M266.9 858.1h0M276.1 849.5h0M240.0 857.2h0M254.5 854.9h0M264.2 851.1h0M261.8 853.7h0M275.6 855.9h0M259.6 854.3h0M248.5 844.5h0M289.3 852.1h0M270.3 855.2h0M273.1 854.1h0M266.6 857.3h0M273.2 858.3h0M248.4 859.2h0M269.0 852.9h0M252.2 861.3h0M253.2 860.9h0M264.2 854.6h0M255.1 859.4h0M275.3 850.7h0M260.3 852.5h0M267.9 851.5h0M262.9 854.6h0M246.7 851.7h0M265.2 846.6h0M257.7 857.9h0M245.5 869.7h0M247.2 857.0h0M270.6 854.9h0M254.1 851.3h0" stroke="#2f5fc0" stroke-width="0.80" stroke-linecap="round" fill="none" stroke-opacity="0.75"/>
<path d="M313.9 809.0h0M301.9 804.1h0M304.1 803.5h0M304.5 799.1h0M305.2 805.8h0M316.4 797.9h0M307.4 799.2h0M307.9 806.3h0M305.5 803.5h0M295.9 806.6h0M308.9 794.7h0M311.7 808.2h0M305.8 793.9h0M306.6 801.0h0M305.1 803.4h0M303.1 802.8h0M305.9 803.0h0M304.2 802.6h0M299.3 803.3h0M301.6 799.4h0M306.9 802.7h0M311.2 799.9h0M302.3 801.7h0M316.3 803.2h0M307.0 795.9h0M297.7 805.1h0M304.9 800.1h0M313.5 800.4h0M308.4 799.1h0M312.6 806.7h0M308.5 798.5h0M301.8 793.9h0M290.8 805.7h0M307.8 800.6h0M313.1 802.3h0M298.7 805.5h0M307.4 803.4h0M304.2 803.4h0M305.5 801.9h0M311.8 802.8h0M300.9 802.1h0M309.4 799.1h0M308.7 796.2h0M306.9 808.0h0M303.2 799.1h0M313.5 804.3h0M299.2 795.3h0M308.0 804.2h0M304.3 802.5h0M300.0 799.3h0M299.3 806.0h0M311.0 809.3h0M307.7 801.0h0M307.7 797.8h0M300.4 797.8h0M303.2 798.9h0M310.7 799.9h0M306.0 803.7h0M304.9 801.2h0M315.4 799.6h0M312.1 792.3h0M308.0 799.0h0M317.0 805.2h0M308.8 805.5h0M304.5 794.4h0M314.4 803.4h0M307.9 807.1h0M312.8 797.9h0M319.7 805.6h0M307.5 810.4h0M313.8 802.2h0M307.0 806.1h0M316.2 802.6h0M302.6 798.3h0M315.4 797.2h0M298.6 799.7h0M301.0 800.7h0M305.8 799.7h0M307.9 801.1h0M297.5 798.8h0M312.1 801.5h0M305.1 804.7h0M303.2 801.0h0M304.9 803.0h0M305.3 806.1h0M313.9 806.6h0M319.3 796.9h0M307.3 803.7h0M299.0 801.7h0M308.5 797.0h0M314.0 810.2h0M312.5 797.4h0M298.6 795.9h0M312.7 805.1h0M306.2 798.2h0M310.2 807.4h0M308.3 802.8h0M309.9 804.1h0M303.0 803.3h0M303.4 798.3h0M296.7 804.5h0M292.5 805.7h0M308.1 797.4h0M308.2 795.9h0M311.1 802.5h0M312.3 807.3h0M318.2 802.9h0M302.6 796.4h0M302.8 804.8h0M307.4 804.2h0M310.8 799.1h0M302.2 800.1h0M314.5 804.5h0M318.9 803.8h0M317.6 799.3h0M305.9 806.7h0M310.5 803.8h0M308.0 796.9h0M307.4 801.7h0M303.4 803.0h0M309.4 798.1h0M310.7 802.5h0M307.2 792.2h0M312.0 802.5h0M311.3 803.0h0M310.8 809.1h0M302.8 805.7h0M316.1 801.3h0M308.3 799.9h0M308.5 804.2h0M297.6 803.8h0M303.7 804.3h0M309.7 799.1h0M305.6 805.0h0M305.6 797.3h0M310.3 801.6h0M300.4 803.5h0M298.1 799.6h0M311.2 808.8h0M309.5 805.8h0M304.8 797.1h0M310.0 801.8h0M296.9 799.7h0M306.6 800.3h0M316.0 802.2h0M310.5 804.2h0M315.4 800.9h0M307.4 806.6h0M298.7 804.3h0M301.2 801.6h0M310.2 807.1h0M309.8 793.7h0M317.9 795.7h0M311.1 806.8h0M306.1 797.4h0M307.0 799.5h0M307.2 798.0h0M313.1 793.6h0M312.2 799.9h0M304.9 806.9h0M310.7 805.3h0M310.9 810.2h0M298.4 800.3h0M303.3 799.5h0M301.5 806.3h0M313.4 798.9h0M303.3 796.5h0M301.8 799.0h0M301.6 801.8h0M317.7 806.9h0M316.3 794.4h0M315.6 803.3h0M303.6 800.0h0M311.2 798.8h0M310.9 802.7h0M312.0 796.1h0M310.2 801.8h0M312.1 801.1h0M308.0 797.6h0M315.6 800.9h0M301.8 802.7h0M303.5 800.9h0M308.0 798.9h0M298.4 798.4h0M303.9 802.5h0M312.5 800.5h0M313.6 803.5h0M296.7 795.6h0M306.1 803.7h0M306.4 806.0h0M300.6 798.5h0M295.0 807.7h0M308.8 801.9h0M314.2 801.3h0M296.2 808.2h0M304.0 802.6h0M297.6 797.6h0M309.1 800.6h0M302.6 802.9h0M300.5 809.3h0M302.4 794.7h0M310.4 799.5h0M317.8 807.9h0M307.5 803.4h0M312.4 797.5h0M318.0 796.1h0M314.7 804.1h0M309.9 800.0h0M299.3 805.8h0M304.6 797.3h0M312.7 797.8h0M317.4 802.8h0M312.8 799.2h0M310.0 799.6h0M306.2 801.0h0M303.7 805.3h0M308.9 800.0h0M301.3 804.3h0M313.6 804.9h0M318.5 794.7h0" stroke="#2456b8" stroke-width="0.90" stroke-linecap="round" fill="none" stroke-opacity="0.9"/>
<ellipse cx="264.5" cy="854.3" rx="22" ry="9.5" fill="url(#fgrad)" transform="rotate(-10 263.5 854.3)"/>
</g>
<rect x="243.80" y="791.40" width="81.80" height="81.60" fill="none" stroke="#111" stroke-width="0.9"/>
<line x1="283.40" y1="791.40" x2="283.40" y2="873.00" stroke="#111" stroke-width="0.9"/>
<line x1="243.80" y1="839.40" x2="325.60" y2="839.40" stroke="#111" stroke-width="0.9"/>
<line x1="242.30" y1="796.60" x2="243.80" y2="796.60" stroke="#111" stroke-width="0.6"/>
<text x="241.6" y="798.2" font-size="4.2" text-anchor="end">10<tspan dy="-1.6" font-size="3">6</tspan></text>
<line x1="242.30" y1="809.40" x2="243.80" y2="809.40" stroke="#111" stroke-width="0.6"/>
<text x="241.6" y="811.0" font-size="4.2" text-anchor="end">10<tspan dy="-1.6" font-size="3">5</tspan></text>
<line x1="242.30" y1="825.90" x2="243.80" y2="825.90" stroke="#111" stroke-width="0.6"/>
<text x="241.6" y="827.5" font-size="4.2" text-anchor="end">10<tspan dy="-1.6" font-size="3">4</tspan></text>
<line x1="242.30" y1="845.20" x2="243.80" y2="845.20" stroke="#111" stroke-width="0.6"/>
<text x="241.6" y="846.8" font-size="4.2" text-anchor="end">10<tspan dy="-1.6" font-size="3">3</tspan></text>
<text x="240.30" y="858.50" font-size="4.20" text-anchor="end">0</text>
<text x="241.6" y="870.8" font-size="4.2" text-anchor="end">-10<tspan dy="-1.6" font-size="3">3</tspan></text>
<line x1="244.80" y1="873.00" x2="244.80" y2="874.80" stroke="#111" stroke-width="0.5"/>
<line x1="248.27" y1="873.00" x2="248.27" y2="874.00" stroke="#111" stroke-width="0.5"/>
<line x1="251.74" y1="873.00" x2="251.74" y2="874.00" stroke="#111" stroke-width="0.5"/>
<line x1="255.21" y1="873.00" x2="255.21" y2="874.00" stroke="#111" stroke-width="0.5"/>
<line x1="258.68" y1="873.00" x2="258.68" y2="874.80" stroke="#111" stroke-width="0.5"/>
<line x1="262.15" y1="873.00" x2="262.15" y2="874.00" stroke="#111" stroke-width="0.5"/>
<line x1="265.62" y1="873.00" x2="265.62" y2="874.00" stroke="#111" stroke-width="0.5"/>
<line x1="269.09" y1="873.00" x2="269.09" y2="874.00" stroke="#111" stroke-width="0.5"/>
<line x1="272.56" y1="873.00" x2="272.56" y2="874.80" stroke="#111" stroke-width="0.5"/>
<line x1="276.03" y1="873.00" x2="276.03" y2="874.00" stroke="#111" stroke-width="0.5"/>
<line x1="279.50" y1="873.00" x2="279.50" y2="874.00" stroke="#111" stroke-width="0.5"/>
<line x1="282.97" y1="873.00" x2="282.97" y2="874.00" stroke="#111" stroke-width="0.5"/>
<line x1="286.43" y1="873.00" x2="286.43" y2="874.80" stroke="#111" stroke-width="0.5"/>
<line x1="289.90" y1="873.00" x2="289.90" y2="874.00" stroke="#111" stroke-width="0.5"/>
<line x1="293.37" y1="873.00" x2="293.37" y2="874.00" stroke="#111" stroke-width="0.5"/>
<line x1="296.84" y1="873.00" x2="296.84" y2="874.00" stroke="#111" stroke-width="0.5"/>
<line x1="300.31" y1="873.00" x2="300.31" y2="874.80" stroke="#111" stroke-width="0.5"/>
<line x1="303.78" y1="873.00" x2="303.78" y2="874.00" stroke="#111" stroke-width="0.5"/>
<line x1="307.25" y1="873.00" x2="307.25" y2="874.00" stroke="#111" stroke-width="0.5"/>
<line x1="310.72" y1="873.00" x2="310.72" y2="874.00" stroke="#111" stroke-width="0.5"/>
<line x1="314.19" y1="873.00" x2="314.19" y2="874.80" stroke="#111" stroke-width="0.5"/>
<line x1="317.66" y1="873.00" x2="317.66" y2="874.00" stroke="#111" stroke-width="0.5"/>
<line x1="321.13" y1="873.00" x2="321.13" y2="874.00" stroke="#111" stroke-width="0.5"/>
<line x1="324.60" y1="873.00" x2="324.60" y2="874.00" stroke="#111" stroke-width="0.5"/>
<rect x="253.30" y="873.00" width="2.50" height="1.80" fill="#111"/>
<text x="260.80" y="880.80" font-size="4.20" text-anchor="middle">0</text>
<text x="293.8" y="880.8" font-size="4.2" text-anchor="middle">10<tspan dy="-1.6" font-size="3">4</tspan></text>
<text x="311.3" y="880.8" font-size="4.2" text-anchor="middle">10<tspan dy="-1.6" font-size="3">5</tspan></text>
<text x="320.8" y="880.8" font-size="4.2" text-anchor="middle">10<tspan dy="-1.6" font-size="3">6</tspan></text>
<clipPath id="fc62"><rect x="339.9" y="791.8" width="81.30000000000001" height="81.60000000000002"/></clipPath>
<g clip-path="url(#fc62)">
<path d="M417.6 800.0h0M419.8 803.1h0M391.2 834.5h0M383.6 816.0h0M367.1 837.6h0M394.7 828.7h0M382.7 819.9h0M396.4 818.6h0M400.7 836.3h0M379.9 808.1h0M391.1 836.8h0M380.0 805.6h0M388.7 824.6h0M377.7 800.0h0M407.3 819.2h0M398.5 792.5h0M375.2 796.6h0M384.3 834.9h0M420.7 832.1h0M384.6 818.7h0M416.1 808.1h0M386.8 825.8h0M382.7 814.4h0M384.1 831.0h0M394.7 796.5h0M403.8 802.4h0M395.5 808.1h0M403.0 798.1h0M387.4 823.1h0M376.1 839.0h0M420.8 837.9h0M417.8 836.6h0M398.0 831.7h0M387.2 794.9h0M417.5 835.6h0M376.0 809.7h0M373.9 825.7h0M387.0 829.0h0M392.6 798.4h0M377.9 820.5h0M380.1 793.6h0M410.7 826.2h0M400.5 796.6h0M392.5 837.7h0M394.3 803.9h0M418.1 808.3h0M395.0 799.6h0M414.3 824.3h0M395.5 815.3h0M382.5 813.7h0M394.3 792.7h0M406.3 827.7h0M349.5 798.2h0M382.9 798.5h0M405.4 838.6h0M383.5 820.0h0M396.7 818.3h0M399.5 835.3h0M414.3 834.1h0M404.9 828.1h0M408.6 827.1h0M404.7 827.9h0M388.4 802.7h0M402.5 801.4h0M408.7 807.0h0M417.0 806.8h0M419.4 807.4h0M410.1 798.3h0M393.7 808.8h0M414.3 825.7h0M398.0 797.2h0M395.0 803.2h0M421.2 831.9h0M420.8 806.5h0M391.5 824.9h0M375.7 811.1h0M382.2 808.0h0M396.1 815.6h0M415.4 803.5h0M374.5 805.6h0M410.7 836.7h0M400.2 801.4h0M413.6 828.2h0M414.2 809.2h0M397.1 825.8h0M403.2 822.6h0M377.9 807.3h0M408.9 835.8h0M402.5 820.6h0M400.9 800.8h0M388.0 833.7h0M381.3 801.4h0M372.0 829.9h0M374.2 825.5h0M400.5 830.8h0M355.1 806.1h0M393.4 795.9h0M381.0 796.4h0M376.3 829.9h0M406.7 814.6h0M376.6 796.4h0M345.3 829.0h0M386.6 834.3h0M381.7 808.3h0M387.5 816.2h0M385.3 803.0h0M414.4 825.2h0M394.2 811.2h0M366.9 824.8h0M383.3 827.5h0M413.2 808.6h0M401.1 822.7h0M396.4 793.8h0M415.9 823.2h0M414.3 816.4h0M404.5 814.3h0M408.2 796.1h0M381.4 828.6h0M383.6 816.8h0M383.4 828.5h0M356.4 810.7h0M367.5 821.2h0M405.9 793.7h0M409.9 822.8h0M419.8 810.5h0M411.1 799.2h0M376.7 809.8h0M384.6 817.6h0M377.9 797.6h0M391.8 815.2h0M411.9 819.0h0M390.9 802.3h0M407.1 833.8h0M355.4 805.2h0M374.9 795.1h0M373.9 838.4h0M391.9 815.7h0M416.2 836.1h0M372.5 805.8h0M359.6 799.1h0M375.0 817.0h0M397.0 805.7h0M414.7 802.6h0M378.1 836.4h0M416.8 795.3h0M409.0 812.5h0M389.3 831.0h0M344.4 817.1h0M419.5 829.5h0M393.6 805.1h0M419.4 791.9h0M361.5 805.4h0M386.5 833.7h0M344.1 828.9h0M400.9 807.5h0M402.8 826.3h0M379.0 813.1h0M369.1 812.1h0M415.7 801.9h0M403.8 803.1h0M386.9 832.9h0M371.3 804.1h0M416.5 802.1h0M383.9 803.0h0M404.8 837.6h0M396.4 795.3h0M367.3 830.0h0M393.6 835.3h0M374.9 824.2h0M406.5 820.7h0M382.5 799.7h0M368.9 829.1h0M389.0 818.7h0M392.2 800.6h0M379.8 836.1h0M388.8 831.4h0M399.3 801.4h0M390.6 831.4h0M370.0 838.9h0M395.2 808.0h0M386.2 821.1h0M363.9 850.7h0M369.1 837.8h0M401.0 807.3h0M407.3 812.3h0M414.8 806.1h0M393.5 807.6h0M397.5 816.2h0M375.2 852.3h0M379.2 828.1h0M408.1 815.6h0M400.0 818.1h0M381.6 814.2h0M384.3 819.0h0M388.4 823.8h0M391.1 825.5h0M394.9 834.2h0M370.0 852.0h0M369.4 853.0h0M397.4 810.2h0M357.9 857.3h0M389.8 808.3h0M394.8 812.2h0M401.9 817.9h0M396.8 833.6h0M399.3 845.9h0M394.4 813.8h0M394.3 821.7h0M398.6 815.9h0M396.4 829.7h0M393.5 795.1h0M405.0 812.1h0M387.4 821.8h0M389.1 810.1h0M376.6 840.8h0M374.3 835.7h0M373.6 837.5h0M376.5 819.8h0M398.1 815.9h0M373.1 840.2h0M369.8 839.6h0M380.9 819.1h0M383.0 826.7h0M389.2 814.5h0M388.0 835.3h0M361.6 840.4h0M415.7 805.7h0M391.1 824.9h0M394.9 797.5h0M397.0 824.0h0M379.7 841.1h0M375.2 824.9h0M377.1 842.4h0M380.8 834.8h0M371.5 829.6h0M405.9 794.0h0M399.1 805.7h0M374.2 845.6h0M409.9 793.4h0M378.0 843.1h0M377.0 854.6h0M380.1 823.5h0M375.7 858.2h0M398.3 828.3h0M381.3 810.7h0M375.7 827.7h0M372.3 837.8h0M373.4 831.1h0M383.3 824.5h0M370.8 844.7h0M394.7 831.3h0M405.2 814.9h0M401.2 811.5h0M402.0 802.8h0M378.1 831.5h0M389.7 815.8h0M392.4 822.6h0M392.0 825.8h0M386.9 828.1h0M379.5 824.4h0M392.0 822.8h0M373.7 853.6h0M397.5 812.6h0M372.0 848.9h0M371.1 831.8h0M385.9 833.9h0M398.9 809.7h0M380.4 841.1h0M357.9 853.4h0M413.0 793.3h0M377.5 839.5h0M394.5 819.0h0M369.5 840.3h0M363.2 865.4h0M378.9 831.6h0M371.2 846.1h0M404.2 804.8h0M378.9 832.7h0M389.1 812.7h0M403.8 808.7h0M384.1 830.5h0M397.5 806.5h0M388.4 806.1h0M380.7 801.4h0M404.2 807.4h0M363.7 838.6h0M396.9 822.6h0M372.4 852.5h0M406.7 801.9h0M363.6 838.8h0M400.0 811.2h0M375.7 822.6h0M395.7 799.5h0M374.3 808.7h0M358.2 856.6h0M385.2 846.1h0M367.3 835.4h0M370.7 805.3h0M358.1 835.0h0M366.5 842.0h0M408.1 818.0h0M391.5 829.1h0M373.8 834.3h0M391.3 816.3h0M394.8 810.7h0M414.6 797.2h0M377.0 815.4h0M392.4 810.5h0M395.6 808.3h0M394.0 829.4h0M405.3 832.3h0M381.1 831.9h0M386.5 813.9h0M367.9 835.5h0M396.3 805.7h0M384.0 835.6h0M366.1 822.6h0M384.5 839.4h0M389.5 827.1h0M390.0 810.9h0M373.9 828.2h0M392.8 820.9h0M387.8 826.5h0M392.0 805.2h0M416.1 801.7h0M390.0 815.7h0M411.9 807.8h0M404.3 791.2h0M398.9 831.5h0M397.0 816.5h0M390.5 824.3h0M390.7 821.4h0M387.6 826.7h0M400.3 803.8h0M395.4 820.2h0M396.0 810.4h0M368.2 844.7h0M381.9 842.4h0M383.9 823.2h0M367.8 822.5h0M388.4 824.0h0M390.9 806.5h0M406.5 819.7h0M389.3 817.2h0M361.5 846.2h0M406.5 806.2h0M397.0 798.5h0M380.1 838.7h0M409.3 805.7h0M388.1 814.9h0M379.7 814.0h0M388.9 824.9h0M370.9 853.5h0M371.7 829.3h0M376.2 830.0h0M391.3 809.2h0M394.8 808.1h0M385.2 830.9h0M373.9 839.8h0M374.6 837.0h0M386.2 840.0h0M412.6 809.4h0M391.3 819.8h0M383.9 834.6h0M389.4 830.0h0M377.1 809.3h0M390.6 794.9h0M416.6 802.4h0M362.4 857.4h0M365.5 852.7h0M384.2 815.7h0M389.8 826.5h0M389.9 818.3h0M388.0 840.1h0M370.6 841.6h0M394.7 810.0h0M400.1 796.6h0M368.9 831.6h0M377.6 832.2h0M396.0 803.2h0M407.6 814.8h0M394.1 811.5h0M403.1 835.7h0M411.4 799.2h0M401.4 808.5h0M402.8 805.4h0M387.9 836.1h0M362.5 842.5h0M383.9 835.0h0M407.5 803.2h0M405.0 811.2h0M391.4 821.3h0M378.0 831.2h0M377.1 832.9h0M396.0 806.9h0M402.1 807.4h0M402.9 794.1h0M382.4 832.9h0M374.6 841.8h0M386.0 826.9h0M387.8 815.3h0M392.6 821.8h0M385.3 841.8h0M391.0 801.5h0M382.7 836.5h0M395.8 807.7h0M365.8 839.2h0M377.7 838.6h0M371.3 823.7h0M401.2 805.6h0M389.0 812.7h0M379.2 816.1h0M392.7 823.8h0M387.6 815.9h0M386.2 830.1h0M388.1 812.1h0M395.3 801.7h0M366.4 841.0h0M379.7 828.9h0M363.5 828.5h0M380.6 831.3h0M390.2 802.1h0M371.3 837.1h0M386.8 808.8h0M396.6 808.0h0M388.9 817.4h0M399.5 810.6h0M381.3 822.2h0M369.6 837.0h0M409.9 780.6h0M393.6 809.4h0M393.9 812.6h0M397.0 803.3h0M403.3 799.7h0M404.7 801.5h0M393.9 813.7h0M365.2 841.6h0M386.1 820.1h0M410.2 819.8h0M388.0 820.8h0M356.9 853.9h0M369.6 820.5h0M353.4 837.0h0M365.5 875.4h0M397.6 824.9h0M418.6 801.1h0M380.7 837.8h0M401.7 809.4h0M366.6 823.2h0M397.5 828.1h0M402.9 808.9h0M383.8 823.5h0M400.9 799.9h0M408.2 811.5h0M375.9 864.0h0M380.6 822.3h0M380.9 826.6h0M384.2 809.3h0M381.4 836.4h0M396.7 810.7h0M395.0 819.0h0M391.5 817.7h0M402.2 806.3h0M380.4 839.1h0M368.5 851.7h0M386.1 816.6h0M392.2 800.5h0M381.3 849.2h0M403.7 806.7h0M393.2 808.8h0M374.3 851.3h0M382.0 838.9h0M394.1 813.4h0M393.5 831.3h0M369.1 830.8h0M399.0 810.8h0M402.4 816.2h0M373.6 849.0h0M375.0 839.3h0M378.1 846.9h0M387.0 834.0h0M384.4 821.3h0M385.6 816.1h0M391.0 827.0h0M380.3 823.4h0M398.2 812.7h0M381.1 838.8h0M399.0 804.4h0M402.3 810.9h0M382.7 840.1h0M393.2 818.7h0M391.5 831.7h0M403.6 795.0h0M379.5 826.2h0M377.8 824.2h0M378.9 842.8h0M400.4 819.8h0M383.8 830.5h0M395.4 823.2h0M375.4 826.1h0M384.2 832.0h0M384.6 836.9h0M367.2 858.2h0M376.4 822.8h0M396.3 821.9h0M402.1 811.9h0M366.0 842.4h0M373.6 859.1h0M384.2 818.2h0M397.5 822.1h0M370.8 850.7h0M400.5 799.1h0M365.8 838.7h0M412.1 814.9h0M390.0 831.3h0M403.7 806.8h0M398.6 792.5h0M395.6 822.5h0M391.8 814.4h0M367.5 845.5h0M399.2 819.8h0M388.2 826.2h0M376.6 858.6h0M399.3 814.3h0M382.0 819.0h0M410.8 814.6h0M367.6 845.3h0M389.6 826.8h0M373.6 829.6h0M403.1 808.6h0M386.0 814.5h0M357.4 831.8h0M408.7 817.4h0M374.3 813.3h0M388.3 818.8h0M395.3 812.0h0M386.6 840.8h0M384.5 834.0h0M382.5 846.8h0M364.6 838.4h0M401.7 811.1h0M398.1 809.8h0M392.9 830.8h0M370.3 839.7h0M379.7 838.7h0M388.9 826.4h0M378.3 836.7h0M386.6 827.1h0M389.2 809.9h0M395.1 829.8h0M392.9 830.3h0M415.3 815.2h0M370.5 833.8h0M373.0 839.8h0M406.1 818.1h0M390.2 822.1h0M387.1 829.2h0M397.1 812.5h0M401.8 799.6h0M401.5 803.9h0M397.5 806.1h0M370.2 842.6h0M394.3 821.1h0M398.5 803.3h0M387.4 832.0h0M382.4 823.3h0M396.2 805.3h0M400.8 811.4h0M392.0 818.7h0M373.5 846.3h0M377.2 831.0h0M375.9 836.0h0M380.4 825.5h0M393.4 816.1h0M396.2 812.7h0M378.3 815.7h0M375.3 837.1h0M400.3 804.9h0M368.0 838.3h0M367.0 839.0h0M385.6 810.6h0M397.8 806.1h0M387.0 811.4h0M393.3 814.8h0M385.8 823.1h0M386.9 829.3h0M398.4 804.0h0M405.5 802.6h0M387.2 821.1h0M377.7 842.3h0M391.8 833.2h0M382.3 835.5h0M402.6 799.2h0M379.4 823.9h0M374.3 829.6h0M394.8 813.5h0M394.9 810.4h0M379.7 816.7h0M386.7 838.4h0M392.3 804.8h0M388.0 817.1h0M396.0 812.1h0M366.7 826.5h0M383.5 829.8h0M404.4 808.8h0M386.3 832.1h0M363.7 850.0h0M384.3 840.2h0M405.1 803.8h0M404.9 814.7h0M378.9 844.0h0M362.4 848.7h0M376.7 840.8h0M384.8 836.9h0M375.6 827.2h0M391.3 816.2h0M378.2 842.9h0M374.4 835.1h0M393.1 800.6h0M360.0 844.0h0M391.1 820.5h0M384.0 830.6h0M412.1 809.4h0M390.0 830.9h0M402.6 801.0h0M384.6 815.9h0M365.3 829.1h0M372.1 851.6h0M365.6 829.9h0M405.6 801.9h0M403.2 797.5h0M392.6 825.7h0M395.1 814.1h0M383.1 844.3h0M393.9 800.6h0M399.8 800.2h0M394.5 809.1h0M378.4 830.4h0M383.4 832.4h0M379.8 832.6h0M403.4 816.9h0M406.5 806.4h0M377.3 835.6h0M388.4 826.4h0M382.8 843.5h0M399.3 803.6h0M380.5 832.4h0M390.4 816.8h0M389.6 835.7h0M364.1 851.5h0M382.8 821.8h0M381.3 832.4h0M394.2 809.4h0M370.1 843.7h0M375.3 831.6h0M375.7 831.9h0M385.2 828.0h0M386.1 823.4h0M382.8 836.8h0M389.8 817.8h0M396.3 817.7h0M408.5 801.7h0M383.1 819.7h0M389.4 827.7h0M379.0 827.4h0M381.2 828.6h0M390.5 811.7h0M370.4 823.3h0M378.8 831.6h0M371.4 852.7h0M387.9 831.6h0M377.1 807.9h0M387.8 815.8h0M392.6 796.7h0M400.2 820.9h0M378.0 826.3h0M388.6 817.2h0M410.0 795.6h0M402.1 804.1h0M368.6 843.6h0M370.9 838.3h0M400.7 805.5h0M383.4 837.6h0M374.5 833.8h0M372.2 837.9h0M405.6 804.4h0M401.1 812.6h0M375.2 859.9h0M399.0 810.0h0M358.5 848.2h0M373.3 816.4h0M396.3 809.1h0M412.1 799.2h0M397.5 820.7h0M387.9 815.3h0M405.2 802.9h0M393.9 834.0h0M371.6 853.0h0M377.3 855.8h0M371.6 847.5h0M366.8 839.7h0M390.1 800.6h0M403.6 816.8h0M382.6 841.8h0M370.4 847.5h0M378.6 850.2h0M384.5 830.6h0M397.0 811.4h0M363.1 833.2h0M373.5 849.6h0M395.2 814.3h0M385.7 829.8h0M403.7 807.0h0M413.9 799.8h0M377.5 841.7h0M375.7 821.6h0M408.1 801.8h0M385.5 826.7h0M403.7 816.4h0M372.3 829.6h0M385.2 832.8h0M398.5 825.5h0M399.5 805.8h0M403.0 805.2h0M377.4 835.4h0M379.8 831.4h0M400.4 807.0h0M401.2 824.6h0M399.8 808.0h0M403.1 810.5h0M365.8 838.2h0M373.0 848.0h0M357.7 867.2h0M387.2 833.2h0M396.0 800.5h0M377.1 820.4h0M395.8 844.6h0M367.5 838.5h0M400.5 823.2h0M398.6 812.8h0M383.6 838.0h0M382.2 831.5h0M380.9 864.8h0M367.6 829.0h0M398.7 818.3h0M395.7 822.4h0M357.7 846.8h0M372.7 855.0h0M384.3 827.5h0M377.6 837.7h0M369.4 844.6h0M371.8 838.9h0M389.5 812.2h0M382.7 828.6h0M394.4 831.2h0M405.0 818.1h0M382.7 819.8h0M387.3 817.8h0M405.2 803.5h0M383.5 824.9h0M379.7 822.9h0M385.5 821.5h0M367.6 844.5h0M403.1 810.9h0M395.6 802.3h0M385.4 821.6h0M373.7 838.5h0M350.7 858.8h0M391.1 827.3h0M382.5 833.5h0M375.4 833.0h0M384.1 831.3h0M378.0 827.8h0M398.1 821.2h0M393.5 823.2h0M374.0 846.7h0M372.9 825.4h0M363.2 855.7h0M398.7 807.8h0M389.0 817.3h0M409.3 810.9h0M397.9 803.9h0M399.8 807.1h0M398.1 822.4h0M369.6 847.1h0M381.0 824.9h0M377.9 820.7h0M361.5 834.7h0M397.4 813.7h0M412.7 830.4h0M357.7 845.0h0M377.2 832.9h0M373.6 836.1h0M379.6 850.1h0M400.9 799.3h0M372.9 838.7h0M393.2 819.3h0M383.5 830.1h0M392.1 809.3h0M370.7 824.8h0M377.1 833.0h0M380.0 819.6h0M390.7 822.3h0M371.7 825.7h0M376.4 852.2h0M393.0 820.0h0M382.0 823.0h0M379.9 819.7h0M379.9 824.5h0M371.4 836.3h0M397.9 807.2h0M370.1 853.9h0M383.4 844.0h0M391.0 801.4h0M377.5 819.1h0M364.5 835.8h0M387.3 821.2h0M361.1 856.0h0M379.7 850.8h0M398.5 796.7h0M392.5 819.2h0M370.4 819.9h0M396.1 809.1h0M394.8 814.0h0M392.4 822.5h0M411.9 808.2h0M372.0 835.0h0M370.5 834.6h0M382.1 821.0h0M394.6 807.2h0M390.0 820.9h0M395.8 819.6h0M382.6 825.7h0M408.8 806.2h0M400.9 812.0h0M369.0 840.4h0M392.4 825.0h0M391.0 813.2h0M419.5 799.9h0M394.1 814.6h0M350.7 839.9h0M386.3 808.8h0M395.6 804.8h0M373.0 845.6h0M387.5 818.1h0M389.1 812.2h0M390.7 817.9h0M369.5 851.2h0M393.6 808.0h0M403.8 801.0h0M357.0 844.2h0M376.1 801.6h0M399.4 806.9h0M392.1 819.0h0M388.3 837.8h0M372.0 835.5h0M375.1 848.7h0M377.3 837.5h0M402.2 802.5h0M397.3 817.9h0M379.7 841.4h0M398.4 825.7h0M384.8 836.3h0M392.8 817.1h0M386.7 823.2h0M379.2 839.0h0M372.8 825.5h0M381.6 820.8h0M377.2 846.8h0M367.1 836.7h0M401.3 795.3h0M401.2 807.1h0M389.5 824.1h0M377.0 825.3h0M391.9 805.2h0M408.0 810.6h0M400.4 808.8h0M400.7 804.6h0M367.8 846.4h0M381.7 818.5h0M389.8 822.4h0M401.8 792.4h0M390.3 811.7h0M367.9 839.3h0M391.4 816.2h0M383.7 817.0h0M388.1 822.8h0M402.0 816.4h0M385.8 828.8h0M377.1 847.5h0M391.8 818.2h0M384.2 827.6h0M383.0 824.0h0M386.0 833.9h0M386.3 823.9h0M394.8 808.8h0M395.9 805.3h0M385.9 816.5h0M409.7 801.3h0M377.8 823.1h0M404.5 807.5h0M393.6 802.8h0M406.5 796.6h0M395.7 817.2h0M388.3 816.9h0M381.9 820.4h0M395.2 817.4h0M373.1 837.9h0M384.9 841.3h0M385.5 832.4h0M385.4 826.4h0M369.2 832.1h0M413.2 804.0h0M365.8 832.2h0M411.4 815.3h0M399.0 804.2h0M417.0 816.5h0M385.7 824.0h0M374.3 845.4h0M383.9 820.0h0M369.1 850.7h0M410.7 810.9h0M358.7 828.4h0M377.7 835.7h0M358.5 838.8h0M366.5 854.8h0M351.4 855.8h0M373.7 841.0h0M374.2 836.5h0M384.1 827.8h0M391.9 800.3h0M371.2 836.4h0M375.0 852.1h0M400.6 817.3h0M399.0 809.8h0M386.6 808.4h0M395.4 815.8h0M409.8 799.4h0M375.8 826.9h0M383.9 834.8h0M385.3 824.3h0M370.1 840.7h0M390.4 815.6h0M359.5 836.9h0M389.0 813.3h0M396.3 816.2h0M374.9 841.9h0M379.0 831.0h0M396.3 819.6h0M382.3 831.1h0M387.2 829.2h0M379.4 830.0h0M395.5 805.3h0M366.1 835.3h0M383.6 837.7h0M395.8 808.6h0M392.8 816.7h0M381.1 831.2h0M388.7 813.5h0M406.0 799.1h0M400.9 810.7h0M354.6 845.3h0M366.7 838.6h0M390.8 795.6h0M376.7 845.5h0M363.9 847.1h0M406.1 812.6h0M365.3 850.6h0M383.0 828.8h0M406.7 812.7h0M370.2 852.5h0M399.7 805.8h0M385.7 843.4h0M378.6 847.3h0M394.0 856.6h0M382.6 859.3h0M378.7 853.3h0M383.1 844.4h0M391.9 839.2h0M393.5 847.2h0M400.1 844.5h0M404.3 851.6h0M394.2 853.0h0M386.6 851.6h0M377.0 845.3h0M383.5 845.8h0M386.2 858.3h0M381.2 853.5h0M388.3 848.3h0M377.7 845.8h0M390.6 847.5h0M381.9 845.7h0M392.3 847.4h0M378.1 840.1h0M394.0 852.5h0M384.3 840.8h0M391.6 852.2h0M395.8 860.2h0M378.5 844.3h0M381.7 846.8h0M395.4 845.2h0M388.3 854.0h0M390.5 849.8h0M380.1 852.6h0M391.8 846.6h0M385.6 856.0h0M381.3 847.2h0M388.9 843.9h0M382.9 848.9h0M385.0 854.2h0M385.3 853.9h0M396.6 856.0h0M376.8 835.9h0M395.9 850.6h0M389.5 855.7h0M384.4 843.0h0M380.4 848.4h0M376.9 846.7h0M390.6 847.4h0M389.0 849.9h0M391.9 854.6h0M379.1 846.8h0M391.8 855.5h0M383.4 847.9h0M404.6 847.3h0M377.3 834.4h0M388.9 853.2h0M376.7 851.6h0M384.3 844.5h0M377.1 853.3h0M384.5 852.0h0M383.3 854.1h0M385.6 839.6h0M398.5 850.2h0M388.6 834.7h0M383.7 839.8h0M387.2 848.3h0M386.3 852.5h0M380.0 856.6h0M387.6 848.4h0M399.4 849.2h0M393.1 852.1h0M390.2 850.0h0M386.4 852.5h0M382.9 847.8h0M390.7 852.8h0M392.6 851.8h0M382.6 847.0h0M381.7 857.5h0M381.1 855.3h0M380.2 847.2h0M376.6 846.7h0M391.7 850.5h0M384.4 860.6h0M397.8 846.1h0M388.8 846.7h0M382.9 839.7h0M379.5 842.1h0M383.2 847.2h0M378.1 850.1h0M378.3 842.9h0M384.1 848.8h0M379.4 849.9h0M399.1 853.5h0M383.6 848.2h0M385.1 846.5h0M385.7 849.8h0M384.6 849.6h0M388.9 851.0h0M377.5 842.3h0M377.9 841.3h0M384.1 837.3h0M378.0 840.5h0M377.5 849.8h0M393.5 849.2h0M386.0 855.0h0M380.2 851.2h0M397.8 845.8h0M379.5 838.0h0M402.8 846.1h0M392.7 851.8h0M378.1 848.3h0M390.7 851.6h0M380.5 846.6h0M380.1 847.2h0M382.9 854.7h0M377.4 854.8h0M391.7 846.5h0M383.2 848.6h0M385.6 857.5h0M386.8 842.1h0M379.2 851.2h0M383.2 847.0h0M390.3 858.1h0M388.0 851.2h0M377.4 848.3h0M378.7 849.4h0M378.0 847.7h0M383.0 843.7h0M379.1 851.4h0M379.8 843.3h0M398.7 850.7h0M378.7 851.7h0M396.4 843.8h0M392.0 856.6h0M396.0 843.5h0M386.9 865.9h0M389.5 844.2h0M405.7 852.5h0M385.8 844.1h0M393.0 849.5h0M390.5 848.5h0M376.7 838.7h0M391.8 835.3h0M383.8 843.2h0M397.7 840.2h0M383.2 845.3h0M389.9 845.4h0M396.2 844.9h0M385.0 855.1h0M386.2 844.6h0M378.4 846.5h0M386.3 847.6h0M377.2 848.2h0M380.4 849.2h0M395.9 845.8h0M385.4 838.3h0M378.6 858.7h0M393.7 844.9h0M379.0 854.7h0M380.4 857.8h0M380.4 844.2h0M379.9 854.5h0M383.6 852.3h0M381.7 856.0h0M390.1 850.4h0M380.0 849.9h0M381.5 864.5h0M380.6 856.6h0M386.2 851.1h0M376.7 847.8h0M382.0 855.2h0M385.8 850.5h0M397.2 843.6h0M382.1 841.3h0M386.4 845.3h0M377.2 850.8h0M405.6 862.1h0M379.2 851.3h0M381.5 844.6h0M377.2 855.1h0M389.8 848.0h0M381.5 840.4h0M376.9 842.7h0M393.1 857.8h0M376.8 854.1h0M378.0 864.1h0M387.0 844.0h0M389.0 849.6h0M379.0 845.5h0M378.5 845.7h0M385.7 834.8h0M390.3 850.1h0M386.9 848.9h0M401.6 852.4h0M380.7 859.0h0M379.1 847.4h0M384.1 850.6h0M402.7 852.0h0M378.8 851.2h0M387.2 849.8h0M379.8 839.2h0M393.1 839.8h0M376.7 832.0h0M403.9 848.5h0M381.6 853.9h0M381.4 852.9h0M396.0 848.3h0M388.4 852.0h0M384.3 835.9h0M394.4 833.1h0M390.0 833.0h0M396.1 852.0h0M384.2 854.6h0M378.0 842.6h0M381.9 843.3h0M404.3 850.4h0M384.3 864.8h0M388.5 848.5h0M387.5 853.0h0M379.6 843.5h0M377.0 854.8h0M403.4 843.7h0M384.6 864.9h0M413.0 844.9h0M387.9 852.4h0M386.5 840.8h0M386.9 854.3h0M384.7 843.6h0M399.1 842.5h0M384.3 839.7h0M380.2 851.7h0M387.9 846.4h0M381.1 853.2h0M378.4 857.2h0M377.0 854.5h0M392.6 846.0h0M384.6 863.9h0M390.5 843.0h0M381.6 845.3h0M382.2 842.5h0M385.1 848.8h0M381.4 846.8h0M377.3 844.9h0M385.4 853.0h0M390.1 844.6h0M382.9 843.8h0M380.7 841.8h0M387.2 842.6h0M391.7 853.9h0M384.8 851.9h0M384.6 849.8h0M381.8 845.3h0M383.5 845.1h0M387.6 841.8h0M378.0 845.3h0M390.0 849.1h0M378.2 848.5h0M381.6 843.2h0M379.0 852.0h0M402.0 840.5h0M386.1 848.6h0M384.9 850.5h0M380.1 860.1h0M395.0 843.3h0M389.2 849.6h0M383.3 842.6h0M388.3 852.3h0M392.7 845.0h0M379.1 844.8h0M380.1 854.3h0M385.0 852.0h0M379.8 842.9h0M384.6 846.7h0M397.0 840.5h0M392.0 867.0h0M384.7 840.9h0M392.5 837.2h0M378.7 845.6h0M397.6 856.0h0M383.7 844.4h0M394.1 843.6h0M384.9 847.1h0M381.8 836.6h0M381.1 849.3h0M392.7 839.0h0M381.6 844.8h0M379.8 851.1h0M386.9 847.0h0M384.7 853.1h0M396.5 858.5h0M377.7 856.2h0M390.2 853.7h0M383.7 844.3h0M378.4 854.2h0M402.7 847.0h0M383.0 844.4h0M380.0 837.6h0M387.5 846.1h0M386.0 849.7h0M387.3 845.6h0M381.4 844.9h0M379.4 854.3h0M378.7 842.7h0M376.9 857.3h0M388.6 847.1h0M377.3 850.1h0M384.5 845.5h0M381.3 852.8h0M391.0 848.5h0M397.4 850.3h0M378.1 859.3h0M381.7 847.4h0M381.3 838.3h0M378.1 853.7h0M382.5 853.9h0M380.0 839.5h0M387.2 847.9h0M380.5 852.2h0M380.5 846.5h0M377.2 859.6h0M386.9 850.5h0M386.2 841.3h0M383.8 851.0h0M387.0 852.8h0M382.0 848.8h0M393.7 846.1h0M383.5 843.4h0M381.1 850.9h0M388.2 849.2h0M392.7 840.8h0M376.7 843.1h0M384.2 848.9h0M376.9 855.5h0M384.2 856.8h0M376.9 857.2h0M380.2 855.9h0M379.1 842.8h0M385.5 869.2h0M382.2 854.9h0M377.0 843.4h0M379.3 843.7h0M380.4 843.2h0M383.8 846.6h0M381.0 847.7h0M384.5 846.9h0M395.1 846.7h0M389.1 847.2h0M385.2 844.8h0M390.6 847.9h0M380.2 856.8h0M377.6 847.0h0M384.2 848.4h0M394.7 854.6h0M385.4 859.8h0M385.5 840.3h0M381.9 854.6h0M383.5 857.9h0M391.8 849.9h0M390.8 845.8h0M380.3 853.4h0M380.0 851.9h0M388.3 848.1h0M388.3 842.1h0M383.1 846.6h0M381.8 851.8h0M380.4 847.0h0M379.5 850.4h0M377.9 846.4h0M391.1 851.0h0M380.0 847.6h0M383.5 862.9h0M379.0 855.7h0M387.5 853.6h0M399.7 846.6h0M397.4 852.4h0M387.5 844.5h0M380.1 852.6h0M380.4 849.4h0M380.0 850.5h0M377.1 852.8h0M379.7 862.1h0M388.8 845.5h0M381.4 843.8h0M389.6 844.4h0M383.7 850.0h0M385.0 845.4h0M392.5 856.1h0M392.2 848.2h0M383.6 856.6h0M381.9 843.9h0M384.2 852.7h0M389.0 840.9h0M377.2 832.9h0M385.3 839.4h0M391.9 847.7h0M396.1 852.2h0M383.6 858.0h0M394.3 846.4h0M385.6 851.6h0M381.6 850.7h0M384.4 849.2h0M379.7 850.7h0M381.2 839.8h0M395.8 844.2h0M396.8 843.8h0M388.1 858.5h0M381.3 850.1h0M382.2 827.0h0M379.1 851.0h0M387.8 848.4h0M381.4 852.8h0M400.1 851.6h0M381.0 853.4h0M385.1 848.8h0M396.8 854.0h0M381.3 856.3h0M391.3 855.1h0M377.5 859.7h0M387.4 842.1h0M386.2 841.9h0M377.4 841.9h0M380.0 848.6h0M383.8 841.8h0M384.3 846.0h0M397.3 852.7h0M393.1 842.1h0M398.1 856.2h0M377.4 839.8h0M386.6 856.2h0M383.1 849.2h0M381.6 857.8h0M388.5 838.2h0M377.2 855.0h0M376.9 845.2h0M383.4 850.6h0M389.1 843.4h0M389.8 853.3h0M383.0 853.4h0M380.5 835.7h0M383.4 850.4h0M392.5 848.7h0M377.3 841.6h0M391.6 838.7h0M394.0 853.2h0M380.5 850.3h0M384.5 850.5h0M386.3 847.5h0M381.7 855.3h0M393.3 841.7h0M385.7 841.7h0M392.9 847.6h0M384.4 851.1h0M396.4 857.1h0M383.3 851.4h0M378.7 848.6h0M390.9 857.3h0M388.1 847.6h0M378.0 845.6h0M376.6 846.3h0M386.0 848.4h0M379.1 857.7h0M395.7 858.9h0M385.4 852.2h0M385.4 842.0h0M382.5 851.6h0M388.7 856.7h0M386.5 850.5h0M391.7 853.6h0M377.8 841.9h0M384.6 850.2h0M388.9 850.1h0M402.1 844.8h0M389.3 855.4h0M381.6 854.0h0M385.5 850.2h0M384.4 852.6h0M377.3 844.4h0M391.7 840.6h0M381.7 856.7h0M378.8 847.7h0M386.9 849.8h0M380.4 848.0h0M383.6 853.4h0M382.0 844.6h0M379.7 861.4h0M393.3 852.7h0M379.8 842.2h0M379.9 854.0h0M391.6 861.5h0M387.2 848.6h0M383.7 852.7h0M378.0 845.7h0M382.3 851.7h0M388.8 841.0h0M390.5 845.5h0M380.2 856.5h0M377.7 852.2h0M389.4 849.4h0M379.3 847.5h0M390.5 857.1h0M385.5 858.1h0M377.9 846.6h0M376.9 852.4h0M382.8 848.7h0M382.6 855.7h0M379.4 842.4h0M391.6 850.1h0M382.5 847.4h0M398.2 851.6h0M380.9 854.9h0M378.3 849.2h0M379.7 840.4h0M390.1 852.2h0M380.3 847.7h0M382.5 850.9h0M385.1 846.3h0M378.1 854.2h0M382.6 853.9h0M377.9 848.7h0M380.8 849.0h0M387.1 844.8h0M385.0 849.8h0M390.0 841.3h0M378.4 852.3h0M384.0 843.0h0M392.7 851.9h0M379.3 854.4h0M377.0 846.3h0M377.2 851.9h0M378.6 850.8h0M385.1 844.4h0M379.8 851.4h0M378.1 855.4h0M377.6 856.2h0M382.4 845.2h0M388.6 844.6h0M387.4 864.5h0M378.7 846.6h0M382.6 842.2h0M384.3 855.3h0M376.7 830.8h0M385.8 847.6h0M384.5 851.6h0M382.4 854.4h0M400.0 846.4h0M377.0 865.0h0M391.9 846.3h0M393.4 848.4h0M388.5 846.7h0M383.8 847.9h0M378.6 845.1h0M384.9 842.5h0M381.6 839.3h0M387.5 842.9h0M398.1 849.4h0M383.0 838.4h0M384.0 848.9h0M385.5 855.7h0M388.8 853.0h0M389.0 852.7h0M383.4 844.6h0M382.0 845.0h0M382.4 854.0h0M376.9 844.3h0M396.0 846.5h0M383.0 854.9h0M387.8 847.1h0M382.4 851.0h0M381.0 850.0h0M385.2 852.2h0M393.3 843.9h0M379.1 839.7h0M377.1 860.7h0M408.6 852.5h0M389.5 851.9h0M381.9 850.9h0M378.4 847.3h0M379.2 841.4h0M401.3 840.5h0M392.6 842.4h0M377.7 839.9h0M376.7 838.9h0M379.7 849.6h0M378.8 847.4h0M384.8 853.8h0M386.8 847.3h0M377.5 851.6h0M387.9 853.9h0M384.9 835.7h0M392.0 847.7h0M385.3 844.8h0M381.8 847.4h0M383.5 850.6h0M397.9 851.0h0M384.2 859.7h0M382.7 838.7h0M390.0 857.9h0M377.6 851.4h0M387.7 853.0h0M394.4 839.1h0M384.1 848.8h0M388.2 850.6h0M383.0 827.2h0M391.6 852.9h0M395.3 847.0h0M382.4 846.2h0M381.0 849.0h0M395.9 839.8h0M383.9 853.4h0M401.0 850.8h0M378.0 853.7h0M377.1 852.6h0M397.9 851.2h0M397.4 846.2h0M380.7 852.7h0M385.4 847.4h0M391.7 856.8h0M383.3 847.8h0M387.2 848.4h0M391.0 859.1h0M392.0 846.8h0M391.7 846.1h0M387.8 853.8h0M383.6 842.2h0M380.1 847.5h0M384.1 856.0h0M393.3 847.5h0M381.1 840.4h0M378.3 857.8h0M397.2 849.9h0M393.9 857.7h0M379.1 848.1h0M388.4 850.7h0M380.9 849.8h0M382.7 841.3h0M380.4 841.5h0M394.6 849.0h0M384.8 851.4h0M395.5 847.0h0M378.1 850.1h0M382.0 850.0h0M387.9 848.2h0M389.1 848.3h0M399.8 844.3h0M380.4 848.8h0M405.3 849.2h0M380.1 856.4h0M377.1 845.3h0M385.8 845.9h0M379.0 849.2h0M383.3 848.4h0M367.9 857.1h0M380.7 849.0h0M362.5 853.0h0M363.4 859.2h0M351.4 846.5h0M358.2 848.1h0M370.3 847.5h0M365.1 851.6h0M360.2 855.3h0M361.6 852.7h0M347.3 862.8h0M331.7 858.9h0M365.1 852.1h0M361.9 853.9h0M361.1 851.6h0M359.2 853.2h0M369.9 849.1h0M398.8 853.3h0M375.1 853.6h0M359.6 853.8h0M376.6 850.8h0M358.4 850.6h0M362.1 847.3h0M366.3 852.9h0M348.8 847.4h0M362.1 852.6h0M361.1 852.5h0M359.2 851.9h0M360.8 852.7h0M375.0 859.3h0M359.1 853.5h0M360.2 853.2h0M351.2 857.6h0M355.5 850.5h0M350.9 860.9h0M363.6 848.4h0M365.1 844.4h0M390.9 854.9h0M341.5 854.8h0M350.6 857.1h0M359.1 855.8h0M366.6 851.0h0M355.4 858.6h0M353.8 853.1h0M383.2 845.4h0M366.0 856.1h0M362.3 853.3h0M358.6 858.3h0M367.3 855.5h0M365.9 855.0h0M358.2 853.1h0M362.5 850.1h0M366.1 848.9h0M357.7 854.2h0M346.2 857.3h0M370.5 853.6h0M362.1 857.1h0M364.2 848.4h0M359.2 854.6h0M359.1 854.3h0M352.3 858.4h0M370.5 854.6h0M375.0 849.6h0M329.8 849.3h0M387.4 850.0h0M361.3 850.1h0M345.4 850.7h0M365.3 849.4h0M368.6 839.7h0M359.7 853.6h0M361.6 848.5h0M369.2 845.7h0M364.7 857.7h0M378.3 846.3h0M358.2 854.2h0M356.1 852.3h0M349.0 865.2h0M351.9 852.4h0M370.0 856.4h0M361.8 853.3h0M354.1 864.8h0M360.1 851.3h0M368.2 842.1h0M362.7 852.8h0M355.6 843.9h0M352.7 857.5h0M351.2 844.9h0M354.4 858.6h0M382.8 849.9h0M357.2 855.2h0M363.4 853.4h0M366.6 855.8h0M368.7 855.5h0M388.3 845.0h0M358.0 854.8h0M367.9 848.4h0M326.6 859.9h0M364.3 849.7h0M354.2 858.8h0M358.2 853.7h0M358.1 855.9h0M361.8 853.5h0M393.8 851.5h0M361.0 853.5h0M356.9 850.9h0M363.9 853.6h0M373.0 854.8h0M362.2 853.1h0M383.9 844.9h0M360.0 850.7h0M369.6 847.7h0M355.7 851.4h0M346.3 851.5h0M345.9 850.9h0M363.9 846.1h0M364.2 851.1h0M370.6 865.1h0M357.6 851.0h0M372.2 847.5h0M366.6 854.7h0M349.5 848.7h0M357.5 863.0h0M344.7 865.3h0M357.7 858.9h0M365.0 853.4h0M377.8 859.0h0M361.2 852.7h0M385.4 859.0h0M353.7 850.6h0M379.9 846.5h0M370.2 857.5h0M364.6 858.5h0M346.2 854.2h0M378.1 840.4h0M358.8 855.2h0M361.9 851.8h0M335.4 854.3h0M359.5 851.9h0M357.2 855.1h0M361.4 853.0h0M358.2 852.8h0M357.6 856.9h0M362.1 854.6h0M361.1 853.3h0M351.3 858.8h0M360.1 856.3h0M347.4 859.6h0M368.9 853.1h0M354.1 858.2h0M359.9 853.5h0M368.2 851.0h0M371.6 858.7h0M366.0 855.1h0M361.7 853.4h0M360.6 854.4h0M359.9 853.7h0M360.7 855.1h0M361.5 870.6h0M356.3 853.0h0M356.4 858.4h0M352.2 857.2h0M370.0 847.6h0M360.4 858.7h0M360.2 850.1h0M377.6 846.0h0M371.1 853.4h0M359.5 853.6h0M368.8 857.8h0M362.0 857.4h0M366.1 855.0h0M368.0 854.3h0M369.6 849.8h0M357.5 850.3h0M373.9 844.2h0M363.6 854.9h0M365.1 851.6h0M351.7 846.1h0M338.1 861.3h0M366.2 846.8h0M365.0 848.9h0M371.3 851.2h0M364.0 850.9h0M337.5 859.0h0M360.2 853.9h0M367.5 856.2h0M359.2 855.0h0M384.2 846.0h0M345.7 857.4h0M361.6 851.9h0M359.4 847.5h0M355.8 858.5h0M355.3 856.2h0M363.0 852.7h0M378.8 855.4h0M363.8 854.9h0M355.3 855.4h0M361.8 852.9h0M381.8 847.0h0M340.4 858.7h0M328.9 871.4h0M359.4 848.3h0M357.3 853.0h0M361.3 854.9h0M361.8 851.0h0M342.5 856.6h0M358.8 857.2h0M366.0 853.7h0M360.3 853.9h0M352.9 853.6h0M365.6 858.4h0M342.2 855.9h0M361.1 855.1h0M364.2 852.6h0M359.3 852.7h0M362.9 849.3h0M368.7 848.1h0M351.2 855.4h0M381.0 849.2h0M363.9 850.9h0M347.7 845.1h0M370.9 850.1h0M357.8 851.6h0M326.8 864.1h0M361.3 853.1h0M348.4 854.9h0M362.5 853.4h0M362.0 857.3h0M352.3 857.6h0M362.0 858.1h0M365.4 853.3h0M342.4 855.0h0M367.9 849.9h0M361.3 857.3h0M370.3 849.5h0M381.8 850.4h0M344.6 860.9h0M358.4 848.8h0M380.0 847.1h0M359.0 859.5h0M358.0 861.2h0M358.9 855.6h0M367.6 851.8h0M368.0 849.6h0M360.4 854.5h0M366.4 853.5h0M362.3 853.5h0M376.8 843.8h0M354.0 854.7h0M381.0 850.3h0M362.9 849.9h0M361.1 859.3h0M364.5 853.5h0M337.2 850.4h0M354.0 850.0h0M369.3 851.7h0M372.0 854.7h0M362.2 852.6h0M371.3 849.5h0M357.8 853.4h0M369.6 853.6h0M354.6 845.3h0M372.4 852.2h0M377.4 853.5h0M355.0 858.2h0M361.7 854.2h0M362.7 854.4h0M361.2 850.6h0M351.2 859.0h0M372.9 842.2h0M350.1 859.5h0M364.6 857.1h0M365.1 851.0h0M365.7 854.7h0M383.7 851.2h0M358.3 851.5h0M345.9 862.8h0M364.3 848.2h0M368.6 850.5h0M360.8 853.7h0M329.2 864.6h0M369.5 851.6h0M358.3 854.2h0M362.3 842.4h0M374.1 851.5h0M360.3 855.5h0M367.3 849.7h0M362.7 853.9h0M349.2 862.3h0M345.8 854.8h0M370.3 851.9h0M368.9 850.2h0M372.5 848.3h0M364.9 853.8h0M360.1 851.6h0M337.5 851.4h0M368.7 856.7h0M376.4 853.6h0M354.2 860.1h0M384.2 845.7h0M351.5 854.4h0M339.2 853.0h0M356.8 854.2h0M387.6 849.6h0M351.1 853.2h0M357.1 856.6h0M355.3 850.2h0M358.0 852.3h0M371.4 849.7h0M370.4 859.2h0M359.8 857.5h0M365.2 852.5h0M364.9 854.0h0M367.1 854.3h0M369.7 848.5h0M358.2 851.6h0M366.3 851.9h0M347.7 853.8h0M357.5 845.8h0M354.7 858.4h0M360.2 856.1h0M374.1 848.6h0M370.9 856.5h0M344.2 850.4h0M344.9 859.8h0M367.3 854.9h0M354.3 855.2h0M363.1 849.0h0M364.5 851.7h0M363.8 855.2h0M381.1 848.7h0M367.0 853.2h0M361.0 853.5h0M359.6 860.5h0M359.7 857.0h0M379.9 854.9h0M364.3 853.3h0M368.8 851.1h0M352.5 859.4h0M361.9 850.0h0M351.0 854.9h0M365.4 849.7h0M345.6 853.5h0M357.8 852.1h0M367.9 848.0h0M356.2 851.4h0M358.4 857.9h0M346.4 858.1h0M355.2 853.9h0M369.0 857.4h0M361.7 853.5h0M367.0 853.1h0M355.7 855.0h0M361.6 853.3h0M351.6 857.6h0M369.5 854.3h0M361.2 852.7h0M362.0 852.8h0M361.9 853.3h0M345.4 862.2h0M351.6 859.1h0M364.5 857.4h0M363.7 851.6h0M364.3 853.3h0M357.9 853.4h0M369.5 850.9h0M351.6 855.8h0M374.8 867.5h0M363.5 849.9h0M336.9 862.7h0M346.6 851.4h0M360.3 855.6h0M328.2 844.3h0M361.4 852.6h0M362.6 850.9h0M367.5 855.4h0M407.7 848.3h0M362.3 858.0h0M361.1 846.9h0M372.1 847.7h0M357.4 854.1h0M358.6 851.9h0M381.3 859.6h0M349.5 859.8h0M372.6 851.0h0M358.9 853.2h0M359.1 854.8h0M376.4 852.5h0M369.0 851.2h0M351.4 860.8h0M374.5 841.2h0M358.6 854.3h0M378.6 864.3h0M366.2 855.2h0M371.8 848.0h0M364.6 851.1h0M358.0 860.0h0M368.9 846.2h0M361.7 853.1h0M366.8 853.3h0M358.9 853.3h0M359.8 854.1h0M352.4 859.9h0M375.0 860.1h0M357.2 865.1h0M373.9 850.0h0M361.4 853.4h0M359.7 852.7h0M356.7 853.0h0M369.6 852.0h0M364.1 850.5h0M364.7 853.9h0M360.4 852.7h0M368.9 845.9h0M367.9 853.2h0M372.8 853.2h0M396.7 846.1h0M361.9 853.3h0M370.4 852.8h0M364.6 851.6h0M360.4 853.3h0M367.6 856.5h0M357.6 850.3h0M362.8 853.3h0M354.7 848.1h0M365.8 849.3h0M367.4 854.6h0M370.5 849.0h0M362.0 854.8h0M368.9 860.3h0M362.2 853.2h0M329.3 863.4h0M343.3 855.7h0M367.3 841.7h0M354.1 855.9h0M365.0 851.5h0M368.3 854.9h0M355.0 858.9h0M364.7 857.3h0M344.2 849.1h0M364.2 854.0h0M353.3 856.4h0M345.3 852.6h0M361.5 853.9h0M360.7 847.1h0M361.2 851.6h0M376.8 854.3h0M361.4 855.3h0M352.7 851.0h0M373.5 852.5h0M378.4 839.0h0M361.6 852.1h0M362.1 853.6h0M364.8 855.2h0M376.5 847.4h0M368.5 854.0h0M355.3 860.5h0M376.4 849.7h0M375.5 849.6h0M380.4 846.8h0M361.3 851.0h0M358.7 850.5h0M352.0 853.5h0M349.4 857.3h0M337.6 859.9h0M348.3 860.3h0M365.6 850.3h0M373.6 852.1h0M357.6 857.2h0M360.1 860.9h0M366.4 852.3h0M382.4 847.8h0M366.5 853.4h0M357.7 853.1h0M356.1 860.3h0M355.1 853.7h0M359.8 853.8h0M352.8 856.6h0M368.6 851.9h0M359.9 853.0h0M375.2 861.0h0M348.0 848.9h0M367.7 857.6h0M367.7 854.7h0M363.9 856.1h0M345.9 851.4h0M364.3 853.4h0M366.5 853.1h0M360.9 852.8h0M367.8 849.1h0M360.7 851.5h0M359.0 852.3h0M357.4 854.4h0M367.2 862.2h0M354.7 853.9h0M351.1 855.4h0M355.8 854.9h0M342.1 855.1h0M360.8 855.8h0M362.0 853.1h0M362.8 844.6h0M375.7 852.5h0M377.2 844.1h0M343.0 850.8h0M333.5 856.6h0M381.7 841.4h0M383.1 845.2h0M371.0 855.0h0M350.1 852.0h0M354.8 854.8h0M350.8 853.6h0M361.8 853.0h0M367.9 842.9h0M362.2 854.0h0M363.1 852.8h0M378.1 837.4h0M396.9 844.6h0M358.2 844.0h0M368.3 847.2h0M359.7 852.1h0M382.9 851.6h0M333.1 862.2h0M356.2 850.7h0M367.9 856.6h0M362.1 853.0h0M357.3 851.6h0M366.3 850.0h0M361.5 853.4h0M356.4 852.9h0M360.5 853.6h0M361.1 859.8h0M370.3 851.4h0M355.1 852.1h0M368.5 852.2h0M367.0 850.0h0M387.6 852.1h0M369.2 851.0h0M362.1 853.5h0M354.6 849.8h0M365.4 843.7h0M342.8 849.7h0M346.5 853.6h0M354.1 853.6h0M363.8 855.3h0M360.9 853.4h0M347.5 860.3h0M366.5 853.2h0M361.8 853.2h0M367.0 854.5h0M358.1 854.6h0M359.8 852.5h0M374.3 852.2h0M361.9 853.2h0M365.8 853.5h0M378.6 844.9h0M364.7 846.8h0M358.7 854.3h0M348.9 856.5h0M353.4 856.4h0M346.5 846.5h0M357.8 855.6h0M370.2 855.1h0M362.0 853.0h0M361.0 852.3h0M357.7 856.2h0M362.0 853.1h0M376.0 851.4h0M361.3 853.3h0M377.0 842.4h0M382.6 852.1h0M359.0 855.7h0M346.5 857.3h0M350.7 844.8h0M377.7 844.2h0M371.4 847.8h0M354.9 858.1h0M369.8 853.0h0M359.0 852.8h0M353.4 853.6h0M362.2 845.8h0M379.7 842.3h0M362.2 853.2h0M343.8 858.1h0M379.6 837.7h0M362.2 853.2h0M317.4 862.7h0M360.5 849.7h0M361.1 854.3h0M362.7 849.2h0M361.4 855.1h0M359.5 853.8h0M371.3 845.6h0M354.8 855.9h0M372.9 852.1h0M349.6 850.3h0M361.7 853.1h0M333.5 863.1h0M354.3 852.6h0M374.6 855.1h0M341.5 867.3h0M377.9 852.1h0M360.1 851.0h0M361.8 853.3h0M361.1 853.4h0M370.4 847.4h0M360.6 853.6h0M364.3 850.9h0M349.5 847.1h0M359.1 856.4h0M363.7 854.0h0M359.0 850.6h0M351.4 857.3h0M364.5 855.5h0M368.4 850.3h0M361.6 850.7h0M372.4 855.2h0M359.1 852.2h0M358.7 851.1h0M368.3 851.9h0M368.4 852.4h0M368.1 855.0h0M376.4 849.3h0M361.3 847.8h0M349.4 849.4h0M349.3 857.9h0M363.7 852.7h0M376.3 860.6h0M367.6 859.7h0M362.2 855.7h0M361.1 853.9h0M362.0 855.0h0M358.2 853.2h0M361.2 853.5h0M361.8 852.6h0M372.4 851.2h0M368.8 851.7h0M335.1 854.7h0M356.4 850.4h0M356.8 858.2h0M359.6 855.5h0M353.4 856.0h0M352.2 862.9h0M365.6 852.9h0M363.8 855.1h0M364.5 853.5h0M354.0 847.4h0M361.8 855.6h0M362.2 859.6h0M336.1 863.3h0M357.6 858.6h0M361.9 853.3h0M378.2 849.8h0M361.9 853.5h0M368.7 850.2h0M362.0 853.5h0M348.7 852.8h0M376.2 848.1h0M341.9 860.6h0M361.1 853.1h0M360.2 852.0h0M373.7 858.6h0M347.9 849.2h0M358.5 847.1h0M381.7 842.4h0M347.3 852.3h0M372.2 857.6h0M339.3 850.9h0M379.2 849.3h0M367.1 851.2h0M363.9 855.1h0M357.8 847.4h0M377.1 852.4h0M357.2 853.7h0M383.9 844.9h0M346.5 866.6h0M362.7 853.7h0M364.4 851.2h0M346.0 867.0h0M344.4 856.3h0M362.7 851.2h0M371.5 844.9h0M358.3 856.1h0M362.7 851.9h0M357.8 854.5h0M360.5 858.3h0M358.6 853.0h0M343.1 846.8h0M356.4 862.4h0M369.5 854.9h0M382.3 859.6h0M369.0 846.6h0M387.6 844.4h0M363.4 850.4h0M351.1 844.5h0M356.4 854.7h0M364.5 849.6h0M340.3 856.6h0M357.6 856.9h0M360.5 858.0h0M358.7 854.8h0M352.8 862.1h0" stroke="#2f5fc0" stroke-width="0.80" stroke-linecap="round" fill="none" stroke-opacity="0.75"/>
<path d="M407.1 798.7h0M407.3 803.8h0M412.8 801.1h0M412.3 805.1h0M400.5 802.6h0M408.0 796.3h0M411.3 796.5h0M412.0 803.1h0M395.7 805.2h0M409.6 795.4h0M396.4 803.2h0M407.1 805.0h0M408.0 801.0h0M401.8 802.0h0M394.7 807.1h0M407.7 800.2h0M409.3 805.4h0M405.4 799.8h0M407.7 795.4h0M401.1 806.4h0M404.6 800.0h0M405.3 799.8h0M404.1 801.9h0M406.9 802.2h0M410.3 800.8h0M406.4 799.7h0M410.2 809.8h0M404.5 802.8h0M407.4 796.7h0M407.3 808.1h0M407.6 803.5h0M410.3 799.3h0M399.2 798.5h0M398.8 798.9h0M407.1 795.6h0M414.9 795.4h0M410.6 800.5h0M407.0 802.8h0M395.6 793.5h0M395.0 798.5h0M406.3 799.1h0M402.0 799.2h0M407.4 808.9h0M404.8 795.0h0M395.0 800.1h0M412.2 797.1h0M410.5 803.4h0M406.4 803.9h0M401.4 804.4h0M402.2 798.3h0M413.1 803.3h0M402.0 808.8h0M406.6 797.6h0M401.6 803.2h0M395.1 803.0h0M404.4 802.0h0M406.3 801.4h0M404.4 805.3h0M407.3 807.9h0M411.4 803.4h0M396.8 797.4h0M404.8 802.5h0M410.3 801.2h0M403.8 798.6h0M409.3 796.1h0M400.0 802.7h0M400.9 807.1h0M398.9 803.6h0M402.7 798.6h0M408.4 800.0h0M409.2 796.4h0M400.5 803.0h0M407.6 804.2h0M409.5 798.9h0M403.4 802.2h0M398.7 804.4h0M410.4 798.4h0M400.7 801.4h0M411.0 794.9h0M408.8 793.2h0M401.9 801.2h0M405.0 803.3h0M400.9 806.3h0M400.0 798.1h0M395.7 802.5h0M405.0 800.5h0M405.3 808.0h0M407.4 800.0h0M396.8 800.1h0M404.6 804.0h0M416.5 800.6h0M414.1 805.1h0M400.3 801.1h0M410.6 802.5h0M394.2 805.3h0M410.5 798.1h0M400.2 802.3h0M409.0 804.8h0M400.7 803.3h0M416.1 804.7h0M400.2 800.0h0M403.7 797.9h0M399.7 800.6h0M406.7 796.7h0M407.2 804.5h0M405.5 803.2h0M403.2 811.2h0M411.0 799.1h0M400.3 803.9h0M402.9 801.0h0M406.7 803.2h0M400.2 800.4h0M405.7 802.4h0M401.8 804.1h0M418.7 802.7h0M397.6 800.3h0M406.6 802.3h0M399.0 794.8h0M407.4 800.0h0M405.3 803.4h0M407.4 805.8h0M399.6 798.9h0M400.2 801.9h0M406.5 801.7h0M414.1 793.9h0M409.8 810.1h0M405.6 801.8h0M410.2 806.9h0M405.0 799.3h0M406.1 805.0h0M409.4 801.0h0M397.6 804.2h0M401.3 800.6h0M400.8 805.3h0M395.5 803.4h0M404.0 803.1h0M401.3 796.6h0M404.5 796.1h0M405.4 799.5h0M412.6 799.7h0M404.6 802.3h0M407.9 793.6h0M400.7 798.5h0M403.3 803.6h0M410.9 798.6h0M405.5 802.1h0M409.3 808.3h0M405.5 805.2h0M401.3 797.3h0M410.3 801.6h0M403.5 805.1h0M406.8 798.9h0M412.8 799.7h0M401.2 803.3h0M405.2 803.5h0M392.9 804.6h0M412.9 799.4h0M401.2 799.5h0M397.7 801.5h0M402.7 795.7h0M407.9 798.1h0M405.6 801.1h0M396.2 803.5h0M405.4 789.9h0M407.5 802.8h0M416.3 805.5h0M407.5 794.6h0M396.9 799.0h0M406.6 793.5h0M421.0 791.8h0M399.5 805.0h0M409.0 802.6h0M414.4 802.5h0M402.3 794.3h0M408.1 801.1h0M397.2 802.2h0M412.8 804.5h0M411.3 799.0h0M407.2 802.3h0M402.6 797.6h0M414.3 801.4h0M400.0 802.7h0M396.2 800.0h0M403.6 797.4h0M403.0 806.3h0M400.5 800.8h0M404.6 801.0h0M394.9 797.7h0M406.1 797.3h0M407.7 804.4h0M407.4 803.2h0M415.5 799.3h0M398.7 801.2h0M399.2 803.1h0M407.1 799.4h0M401.5 797.6h0M406.6 797.7h0M409.4 797.0h0M407.5 807.4h0M414.7 798.2h0M415.0 808.5h0M402.1 811.2h0M411.2 801.9h0M402.9 803.3h0M403.6 801.7h0M402.8 801.2h0M412.7 806.5h0M403.7 803.2h0M405.2 805.9h0M397.1 800.5h0M403.7 801.8h0M415.5 798.0h0M397.1 799.5h0M404.3 800.5h0M408.0 798.6h0M403.9 797.7h0M407.0 799.8h0M413.4 805.6h0M400.7 799.3h0M403.9 792.9h0M403.7 799.9h0M406.1 795.2h0M404.7 812.7h0M410.2 801.4h0M400.7 802.5h0M405.4 807.8h0M404.8 800.7h0M407.5 797.5h0M408.3 797.8h0M408.0 798.8h0M406.4 804.9h0M409.8 805.3h0M407.1 806.4h0M413.8 801.9h0M396.5 805.4h0M398.8 800.8h0M404.3 796.9h0M407.5 802.9h0M407.3 795.5h0M407.8 797.8h0M401.2 807.5h0M410.5 798.8h0M401.0 803.7h0M401.9 802.6h0M402.0 804.3h0M395.5 797.2h0M405.2 797.2h0M399.0 803.8h0M401.6 800.1h0M403.7 800.8h0M401.1 801.5h0M407.8 804.5h0M401.5 800.4h0M401.2 799.1h0M418.4 799.4h0M406.6 801.2h0M409.9 801.2h0M405.7 801.9h0M404.4 796.2h0M404.5 805.2h0M404.4 802.9h0M401.0 802.1h0M393.7 800.1h0M398.5 798.9h0M407.8 803.3h0M402.5 805.5h0M401.1 790.5h0M411.8 799.5h0M417.6 802.4h0M414.6 799.7h0M402.0 800.2h0M404.4 798.7h0M404.0 799.4h0M413.4 808.4h0M414.5 797.8h0M401.8 797.5h0M404.9 803.4h0M399.2 801.6h0M406.5 800.7h0M406.0 805.8h0M399.9 803.0h0M395.5 796.2h0M401.7 806.9h0M397.3 796.3h0M403.6 803.5h0M403.2 806.1h0M397.4 801.1h0M412.3 797.4h0M411.1 804.5h0M401.0 796.6h0M400.2 802.7h0M411.9 801.7h0M410.7 799.6h0M407.1 798.1h0M395.3 798.1h0M401.5 795.5h0M393.8 801.2h0M412.5 801.7h0M396.8 806.1h0M404.6 799.9h0M411.6 800.4h0M418.5 804.9h0M407.4 803.9h0M404.0 806.0h0M409.7 798.8h0M403.9 801.4h0M403.2 807.8h0M407.0 800.5h0M405.8 802.4h0M403.5 800.2h0M399.3 801.2h0M397.0 796.9h0M405.2 800.6h0M389.6 801.1h0M407.8 799.6h0M406.3 801.6h0M403.5 794.8h0M410.2 805.1h0M410.0 802.3h0M416.1 798.1h0M402.0 814.0h0M405.6 809.9h0M407.5 825.2h0M405.9 806.3h0M408.3 812.4h0M410.3 821.9h0M404.9 817.3h0M406.2 818.9h0M401.7 817.5h0M405.1 815.7h0M404.6 812.8h0M407.9 813.9h0M406.6 825.1h0M409.6 814.8h0M406.7 811.1h0M406.3 825.4h0M413.5 828.5h0M410.3 819.3h0M398.4 810.6h0M404.2 827.7h0M402.1 829.4h0M404.9 829.7h0M406.0 821.7h0M410.0 822.7h0M401.5 821.7h0M401.7 809.7h0M406.8 821.1h0M406.2 819.4h0M402.3 815.4h0M404.1 825.6h0M403.6 807.3h0M405.4 823.5h0M401.4 815.7h0M406.6 817.4h0M402.8 827.4h0M407.3 825.0h0M403.6 804.7h0M404.5 813.7h0M412.0 828.4h0M410.8 825.1h0M406.0 811.5h0M408.3 827.8h0M406.9 812.1h0M406.1 826.1h0M408.8 820.3h0M411.3 829.1h0M409.0 823.8h0M407.5 816.3h0M405.0 809.3h0M405.3 812.9h0M404.9 812.9h0M401.3 809.5h0M408.2 825.6h0M404.5 822.9h0M406.0 823.6h0M408.7 829.1h0M408.8 821.4h0M407.0 809.4h0M409.8 806.0h0M400.2 815.1h0M413.9 814.3h0M406.6 813.0h0M403.1 814.7h0M405.9 819.9h0M402.3 814.8h0M402.7 815.6h0M402.1 812.8h0M405.7 803.7h0M414.0 819.5h0M407.7 822.7h0M406.0 828.4h0M405.6 819.5h0M409.3 820.0h0M406.5 826.3h0M396.7 819.3h0M403.6 822.3h0M407.5 817.1h0M404.1 826.4h0M410.2 831.9h0M406.1 816.0h0M402.4 818.3h0M409.5 826.7h0M405.3 815.4h0M408.8 808.5h0M400.1 814.7h0M403.2 812.7h0M409.9 814.6h0M402.3 807.4h0M400.5 808.9h0M408.3 817.4h0M403.5 815.7h0M406.4 827.9h0M401.1 813.3h0M404.0 817.7h0M407.0 824.2h0M406.4 830.1h0M402.7 811.5h0M407.5 825.8h0M405.3 812.1h0M403.7 812.0h0M409.4 823.2h0M402.5 811.9h0M401.8 816.2h0M403.3 821.8h0M406.7 803.8h0M406.7 818.4h0M408.7 827.4h0M398.5 810.7h0M407.2 829.3h0M407.0 817.6h0M404.5 809.3h0M401.5 815.6h0M411.0 810.6h0M404.4 819.3h0M407.7 829.8h0M405.2 821.7h0M400.8 824.1h0M404.6 828.7h0M406.0 822.9h0M403.1 808.1h0M398.3 812.1h0M407.4 815.4h0M399.6 804.8h0M401.0 802.6h0M400.6 817.1h0M403.9 807.1h0M413.6 827.6h0M405.2 813.5h0M405.3 816.7h0M406.4 817.3h0M407.2 829.1h0M407.7 819.4h0M402.8 804.6h0M402.3 816.5h0M405.4 830.4h0M399.5 815.0h0M403.4 829.7h0M406.3 802.6h0M404.7 828.2h0M402.1 824.8h0M407.8 817.8h0M405.3 823.0h0M409.5 827.2h0M409.0 827.8h0M412.0 817.5h0M398.9 807.6h0M406.0 825.1h0M404.2 814.7h0M411.1 814.3h0M406.2 805.7h0M401.1 812.9h0M405.4 807.0h0M404.7 818.7h0M402.0 813.9h0M405.8 814.5h0M407.0 819.4h0M410.4 820.7h0M399.3 823.7h0M396.6 806.1h0M404.8 826.2h0M408.2 827.5h0M406.1 803.4h0M405.1 830.6h0M404.3 820.3h0M401.7 825.6h0M409.9 822.3h0M402.1 823.5h0M405.9 813.7h0M398.2 822.1h0M410.7 810.1h0M400.3 817.2h0M405.4 810.8h0M405.1 810.2h0M407.9 826.3h0M403.9 810.4h0M407.3 830.8h0M410.3 824.4h0M401.9 814.6h0M403.4 828.5h0M408.6 820.3h0M400.3 810.0h0M399.0 818.5h0M406.7 816.3h0M403.5 807.1h0M408.6 819.6h0M407.5 828.5h0M402.5 810.4h0M405.6 811.4h0M407.3 818.8h0M407.0 828.5h0M405.6 811.5h0M402.4 810.1h0M409.7 814.4h0M405.6 816.9h0M401.7 825.7h0M404.0 819.0h0M412.0 819.1h0M399.4 811.6h0M405.7 814.2h0M399.8 816.0h0M400.3 806.5h0M407.2 818.1h0M409.5 828.4h0M404.2 813.2h0M404.1 820.7h0M402.3 825.4h0M408.0 816.2h0M406.4 812.5h0M405.6 831.2h0M405.2 821.2h0M406.3 807.3h0M403.6 809.7h0M404.6 814.7h0M404.1 808.0h0M401.8 812.3h0M407.3 826.0h0M413.6 824.3h0M401.9 817.2h0M412.6 822.4h0M405.3 829.8h0M402.5 818.9h0M408.5 808.5h0M399.9 826.1h0M402.0 815.8h0M404.5 822.5h0M404.7 820.0h0M410.4 830.1h0M408.0 816.7h0M407.4 813.0h0M406.9 811.6h0M406.6 830.5h0M404.6 822.2h0M413.1 813.9h0M411.9 814.8h0M412.1 824.8h0M403.1 811.9h0M405.2 828.6h0M402.7 805.5h0M399.4 809.0h0M404.4 819.9h0M407.0 818.5h0M402.9 819.0h0M405.0 814.3h0M408.7 810.6h0M408.1 825.1h0M404.9 828.3h0M408.8 824.8h0M408.6 818.7h0M405.3 829.3h0M406.6 825.8h0M403.2 806.3h0M407.0 813.3h0M403.7 831.9h0M408.0 820.8h0M408.7 819.6h0M401.9 814.0h0M409.8 827.1h0M409.1 826.4h0M402.9 812.2h0M402.5 811.7h0" stroke="#2456b8" stroke-width="0.90" stroke-linecap="round" fill="none" stroke-opacity="0.9"/>
<ellipse cx="362.8" cy="853.3" rx="22" ry="9.5" fill="url(#fgrad)" transform="rotate(-10 361.8 853.3)"/>
</g>
<rect x="339.90" y="791.80" width="81.30" height="81.60" fill="none" stroke="#111" stroke-width="0.9"/>
<line x1="379.60" y1="791.80" x2="379.60" y2="873.40" stroke="#111" stroke-width="0.9"/>
<line x1="339.90" y1="839.40" x2="421.20" y2="839.40" stroke="#111" stroke-width="0.9"/>
<line x1="338.40" y1="796.60" x2="339.90" y2="796.60" stroke="#111" stroke-width="0.6"/>
<text x="337.7" y="798.2" font-size="4.2" text-anchor="end">10<tspan dy="-1.6" font-size="3">6</tspan></text>
<line x1="338.40" y1="809.40" x2="339.90" y2="809.40" stroke="#111" stroke-width="0.6"/>
<text x="337.7" y="811.0" font-size="4.2" text-anchor="end">10<tspan dy="-1.6" font-size="3">5</tspan></text>
<line x1="338.40" y1="825.90" x2="339.90" y2="825.90" stroke="#111" stroke-width="0.6"/>
<text x="337.7" y="827.5" font-size="4.2" text-anchor="end">10<tspan dy="-1.6" font-size="3">4</tspan></text>
<line x1="338.40" y1="845.20" x2="339.90" y2="845.20" stroke="#111" stroke-width="0.6"/>
<text x="337.7" y="846.8" font-size="4.2" text-anchor="end">10<tspan dy="-1.6" font-size="3">3</tspan></text>
<text x="336.40" y="858.50" font-size="4.20" text-anchor="end">0</text>
<text x="337.7" y="870.8" font-size="4.2" text-anchor="end">-10<tspan dy="-1.6" font-size="3">3</tspan></text>
<line x1="340.90" y1="873.40" x2="340.90" y2="875.20" stroke="#111" stroke-width="0.5"/>
<line x1="344.35" y1="873.40" x2="344.35" y2="874.40" stroke="#111" stroke-width="0.5"/>
<line x1="347.80" y1="873.40" x2="347.80" y2="874.40" stroke="#111" stroke-width="0.5"/>
<line x1="351.24" y1="873.40" x2="351.24" y2="874.40" stroke="#111" stroke-width="0.5"/>
<line x1="354.69" y1="873.40" x2="354.69" y2="875.20" stroke="#111" stroke-width="0.5"/>
<line x1="358.14" y1="873.40" x2="358.14" y2="874.40" stroke="#111" stroke-width="0.5"/>
<line x1="361.59" y1="873.40" x2="361.59" y2="874.40" stroke="#111" stroke-width="0.5"/>
<line x1="365.03" y1="873.40" x2="365.03" y2="874.40" stroke="#111" stroke-width="0.5"/>
<line x1="368.48" y1="873.40" x2="368.48" y2="875.20" stroke="#111" stroke-width="0.5"/>
<line x1="371.93" y1="873.40" x2="371.93" y2="874.40" stroke="#111" stroke-width="0.5"/>
<line x1="375.38" y1="873.40" x2="375.38" y2="874.40" stroke="#111" stroke-width="0.5"/>
<line x1="378.83" y1="873.40" x2="378.83" y2="874.40" stroke="#111" stroke-width="0.5"/>
<line x1="382.27" y1="873.40" x2="382.27" y2="875.20" stroke="#111" stroke-width="0.5"/>
<line x1="385.72" y1="873.40" x2="385.72" y2="874.40" stroke="#111" stroke-width="0.5"/>
<line x1="389.17" y1="873.40" x2="389.17" y2="874.40" stroke="#111" stroke-width="0.5"/>
<line x1="392.62" y1="873.40" x2="392.62" y2="874.40" stroke="#111" stroke-width="0.5"/>
<line x1="396.07" y1="873.40" x2="396.07" y2="875.20" stroke="#111" stroke-width="0.5"/>
<line x1="399.51" y1="873.40" x2="399.51" y2="874.40" stroke="#111" stroke-width="0.5"/>
<line x1="402.96" y1="873.40" x2="402.96" y2="874.40" stroke="#111" stroke-width="0.5"/>
<line x1="406.41" y1="873.40" x2="406.41" y2="874.40" stroke="#111" stroke-width="0.5"/>
<line x1="409.86" y1="873.40" x2="409.86" y2="875.20" stroke="#111" stroke-width="0.5"/>
<line x1="413.30" y1="873.40" x2="413.30" y2="874.40" stroke="#111" stroke-width="0.5"/>
<line x1="416.75" y1="873.40" x2="416.75" y2="874.40" stroke="#111" stroke-width="0.5"/>
<line x1="420.20" y1="873.40" x2="420.20" y2="874.40" stroke="#111" stroke-width="0.5"/>
<rect x="349.40" y="873.40" width="2.50" height="1.80" fill="#111"/>
<text x="356.90" y="880.80" font-size="4.20" text-anchor="middle">0</text>
<text x="389.9" y="880.8" font-size="4.2" text-anchor="middle">10<tspan dy="-1.6" font-size="3">4</tspan></text>
<text x="407.4" y="880.8" font-size="4.2" text-anchor="middle">10<tspan dy="-1.6" font-size="3">5</tspan></text>
<text x="416.9" y="880.8" font-size="4.2" text-anchor="middle">10<tspan dy="-1.6" font-size="3">6</tspan></text>
<text x="320.20" y="835.80" font-size="8.00" text-anchor="end">DP(5.8)</text>
<text x="320.20" y="870.20" font-size="8.00" text-anchor="end">SP(6.5)</text>
<text x="417.20" y="835.80" font-size="8.00" text-anchor="end">DP(11)</text>
<text x="417.20" y="870.20" font-size="8.00" text-anchor="end">SP(8.3)</text>
<line x1="226.10" y1="858.80" x2="226.10" y2="795.50" stroke="#111" stroke-width="0.9"/>
<path d="M226.1,792.2 L224.2,797 L228.0,797 Z" fill="#111"/>
<text x="227.90" y="871.50" font-size="9.50" transform="rotate(-90 227.90 871.50)">PI</text>
<text x="242.80" y="890.40" font-size="9.98">Annexin V</text>
<line x1="293.60" y1="886.30" x2="416.00" y2="886.30" stroke="#111" stroke-width="0.9"/>
<path d="M419.5,886.3 L414.5,884.4 L414.5,888.2 Z" fill="#111"/>
<text x="454.80" y="774.10" font-size="11.50" font-weight="bold">W</text>
<line x1="480.90" y1="785.60" x2="480.90" y2="875.60" stroke="#000" stroke-width="0.9"/>
<line x1="478.40" y1="786.00" x2="480.90" y2="786.00" stroke="#000" stroke-width="0.9"/>
<text x="477.40" y="789.31" font-size="9.20" text-anchor="end">20</text>
<line x1="478.40" y1="808.30" x2="480.90" y2="808.30" stroke="#000" stroke-width="0.9"/>
<text x="477.40" y="811.61" font-size="9.20" text-anchor="end">15</text>
<line x1="478.40" y1="830.70" x2="480.90" y2="830.70" stroke="#000" stroke-width="0.9"/>
<text x="477.40" y="834.01" font-size="9.20" text-anchor="end">10</text>
<line x1="478.40" y1="853.00" x2="480.90" y2="853.00" stroke="#000" stroke-width="0.9"/>
<text x="477.40" y="856.31" font-size="9.20" text-anchor="end">5</text>
<line x1="478.40" y1="875.30" x2="480.90" y2="875.30" stroke="#000" stroke-width="0.9"/>
<text x="477.40" y="878.61" font-size="9.20" text-anchor="end">0</text>
<line x1="480.90" y1="875.30" x2="557.10" y2="875.30" stroke="#000" stroke-width="0.9"/>
<line x1="497.00" y1="875.30" x2="497.00" y2="877.80" stroke="#000" stroke-width="0.9"/>
<line x1="539.20" y1="875.30" x2="539.20" y2="877.80" stroke="#000" stroke-width="0.9"/>
<text x="490.80" y="888.40" font-size="9.30">SP</text>
<text x="533.00" y="888.40" font-size="9.50">DP</text>
<text x="460.60" y="826.30" font-size="9.68" text-anchor="middle" transform="rotate(-90 460.60 826.30)">Cell apotosis (%)</text>
<line x1="486.50" y1="848.30" x2="496.00" y2="848.30" stroke="#1f4ea8" stroke-width="0.9"/>
<circle cx="489.10" cy="848.20" r="2.50" fill="#1f4ea8" stroke="#111" stroke-width="0.6"/>
<circle cx="493.30" cy="848.80" r="2.50" fill="#1f4ea8" stroke="#111" stroke-width="0.6"/>
<circle cx="490.80" cy="846.20" r="2.50" fill="#1f4ea8" stroke="#111" stroke-width="0.6"/>
<line x1="501.00" y1="840.50" x2="511.00" y2="840.50" stroke="#e8341f" stroke-width="0.9"/>
<rect x="501.70" y="840.00" width="4.60" height="4.60" fill="#e8341f" stroke="#111" stroke-width="0.6"/>
<rect x="505.90" y="837.50" width="4.60" height="4.60" fill="#e8341f" stroke="#111" stroke-width="0.6"/>
<rect x="503.40" y="836.60" width="4.60" height="4.60" fill="#e8341f" stroke="#111" stroke-width="0.6"/>
<line x1="526.50" y1="851.50" x2="536.50" y2="851.50" stroke="#1f4ea8" stroke-width="0.9"/>
<circle cx="528.80" cy="853.00" r="2.50" fill="#1f4ea8" stroke="#111" stroke-width="0.6"/>
<circle cx="533.70" cy="851.30" r="2.50" fill="#1f4ea8" stroke="#111" stroke-width="0.6"/>
<circle cx="530.50" cy="849.80" r="2.50" fill="#1f4ea8" stroke="#111" stroke-width="0.6"/>
<line x1="541.00" y1="826.00" x2="551.50" y2="826.00" stroke="#e8341f" stroke-width="0.9"/>
<rect x="541.90" y="820.20" width="4.60" height="4.60" fill="#e8341f" stroke="#111" stroke-width="0.6"/>
<rect x="546.80" y="823.90" width="4.60" height="4.60" fill="#e8341f" stroke="#111" stroke-width="0.6"/>
<rect x="541.90" y="827.90" width="4.60" height="4.60" fill="#e8341f" stroke="#111" stroke-width="0.6"/>
<line x1="488.80" y1="831.90" x2="506.40" y2="831.90" stroke="#000" stroke-width="0.9"/>
<text x="497.60" y="832.20" font-size="9.00" text-anchor="middle">**</text>
<line x1="531.30" y1="816.50" x2="549.10" y2="816.50" stroke="#000" stroke-width="0.9"/>
<text x="540.20" y="816.80" font-size="9.00" text-anchor="middle">****</text>
<circle cx="487.10" cy="787.70" r="2.50" fill="#1f4ea8" stroke="#111" stroke-width="0.6"/>
<rect x="484.80" y="796.80" width="4.60" height="4.60" fill="#e8341f" stroke="#111" stroke-width="0.6"/>
<text x="495.00" y="791.20" font-size="9.46">Control (IgA)</text>
<text x="495.00" y="802.60" font-size="9.65">PIGR (IgA)</text>
</svg></body></html>
